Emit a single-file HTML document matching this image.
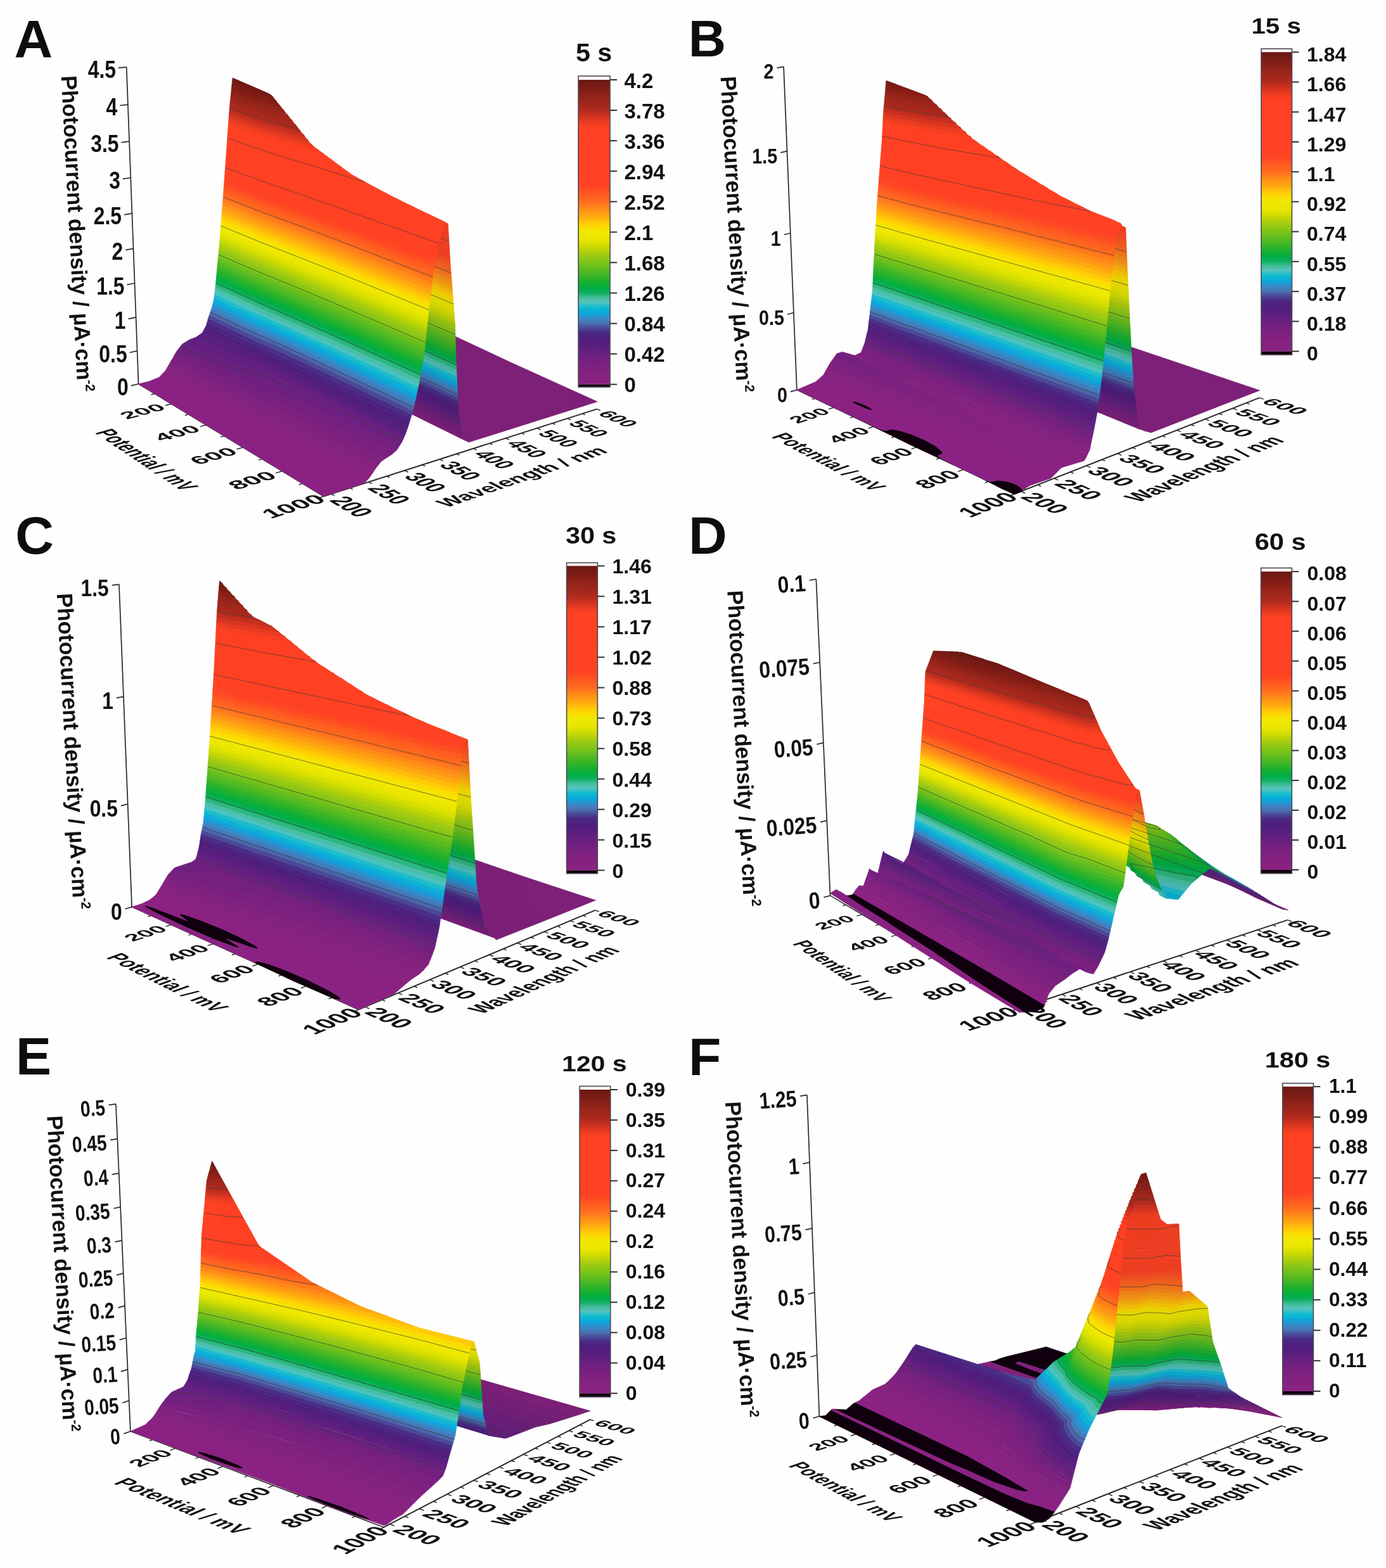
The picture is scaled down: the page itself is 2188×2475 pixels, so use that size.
<!DOCTYPE html><html><head><meta charset="utf-8"><style>html,body{margin:0;padding:0;background:#fff}svg{display:block}</style></head><body><svg xmlns="http://www.w3.org/2000/svg" width="2188" height="2475" viewBox="0 0 2188 2475"><rect width="2188" height="2475" fill="#fefefe"/><g><text x="22.5" y="90.7" font-size="84" font-family="Liberation Sans, Arial, sans-serif" font-weight="bold" fill="#0d0d0d">A</text>
<text transform="translate(909.0,97.4) scale(1.03,1)" font-size="40" font-family="Liberation Sans, Arial, sans-serif" font-weight="bold" fill="#111">5 s</text>
<text transform="translate(96.5,120) rotate(87) scale(0.985,1)" font-size="35" font-family="Liberation Sans, Arial, sans-serif" font-weight="bold" fill="#111">Photocurrent density / µA·cm<tspan font-size="21" dy="-13">-2</tspan></text>
<line x1="218.6" y1="606.0" x2="199.7" y2="105.9" stroke="#2a2a2a" stroke-width="1.7"/>
<line x1="218.6" y1="606.0" x2="510.8" y2="783.5" stroke="#2a2a2a" stroke-width="1.5"/>
<line x1="510.8" y1="783.5" x2="942.3" y2="645.6" stroke="#2a2a2a" stroke-width="2.0"/>
<line x1="218.6" y1="606.0" x2="206.8" y2="608.8" stroke="#2a2a2a" stroke-width="1.7"/>
<text transform="translate(202.8,624.3) rotate(0) scale(0.84,1)" font-size="38" text-anchor="end" font-family="Liberation Sans, Arial, sans-serif" font-weight="bold" fill="#111">0</text>
<line x1="216.6" y1="553.8" x2="204.7" y2="556.5" stroke="#2a2a2a" stroke-width="1.7"/>
<text transform="translate(200.7,572.0) rotate(0) scale(0.84,1)" font-size="38" text-anchor="end" font-family="Liberation Sans, Arial, sans-serif" font-weight="bold" fill="#111">0.5</text>
<line x1="214.6" y1="500.8" x2="202.6" y2="503.3" stroke="#2a2a2a" stroke-width="1.7"/>
<text transform="translate(198.6,518.8) rotate(0) scale(0.84,1)" font-size="38" text-anchor="end" font-family="Liberation Sans, Arial, sans-serif" font-weight="bold" fill="#111">1</text>
<line x1="212.6" y1="447.0" x2="200.5" y2="449.4" stroke="#2a2a2a" stroke-width="1.7"/>
<text transform="translate(196.5,464.9) rotate(0) scale(0.84,1)" font-size="38" text-anchor="end" font-family="Liberation Sans, Arial, sans-serif" font-weight="bold" fill="#111">1.5</text>
<line x1="210.5" y1="392.4" x2="198.3" y2="394.6" stroke="#2a2a2a" stroke-width="1.7"/>
<text transform="translate(194.3,410.1) rotate(0) scale(0.84,1)" font-size="38" text-anchor="end" font-family="Liberation Sans, Arial, sans-serif" font-weight="bold" fill="#111">2</text>
<line x1="208.4" y1="336.9" x2="196.1" y2="338.9" stroke="#2a2a2a" stroke-width="1.7"/>
<text transform="translate(192.1,354.4) rotate(0) scale(0.84,1)" font-size="38" text-anchor="end" font-family="Liberation Sans, Arial, sans-serif" font-weight="bold" fill="#111">2.5</text>
<line x1="206.3" y1="280.5" x2="193.9" y2="282.4" stroke="#2a2a2a" stroke-width="1.7"/>
<text transform="translate(189.9,297.9) rotate(0) scale(0.84,1)" font-size="38" text-anchor="end" font-family="Liberation Sans, Arial, sans-serif" font-weight="bold" fill="#111">3</text>
<line x1="204.1" y1="223.2" x2="191.6" y2="224.9" stroke="#2a2a2a" stroke-width="1.7"/>
<text transform="translate(187.6,240.4) rotate(0) scale(0.84,1)" font-size="38" text-anchor="end" font-family="Liberation Sans, Arial, sans-serif" font-weight="bold" fill="#111">3.5</text>
<line x1="201.9" y1="165.1" x2="189.3" y2="166.5" stroke="#2a2a2a" stroke-width="1.7"/>
<text transform="translate(185.3,182.0) rotate(0) scale(0.84,1)" font-size="38" text-anchor="end" font-family="Liberation Sans, Arial, sans-serif" font-weight="bold" fill="#111">4</text>
<line x1="199.7" y1="105.9" x2="187.0" y2="107.2" stroke="#2a2a2a" stroke-width="1.7"/>
<text transform="translate(183.0,122.7) rotate(0) scale(0.84,1)" font-size="38" text-anchor="end" font-family="Liberation Sans, Arial, sans-serif" font-weight="bold" fill="#111">4.5</text>
<line x1="244.1" y1="621.5" x2="238.5" y2="622.9" stroke="#2a2a2a" stroke-width="1.5"/>
<line x1="270.5" y1="637.5" x2="260.9" y2="639.9" stroke="#2a2a2a" stroke-width="1.5"/>
<text transform="matrix(3.8039,-0.9719,2.0576,1.2938,232.1,653.8)" font-size="10" text-anchor="middle" font-family="Liberation Sans, Arial, sans-serif" font-weight="bold" fill="#111">200</text>
<line x1="297.5" y1="653.9" x2="291.8" y2="655.4" stroke="#2a2a2a" stroke-width="1.5"/>
<line x1="325.3" y1="670.8" x2="315.7" y2="673.4" stroke="#2a2a2a" stroke-width="1.5"/>
<text transform="matrix(3.8546,-1.0383,2.1795,1.3705,286.9,688.3)" font-size="10" text-anchor="middle" font-family="Liberation Sans, Arial, sans-serif" font-weight="bold" fill="#111">400</text>
<line x1="354.0" y1="688.2" x2="348.2" y2="689.9" stroke="#2a2a2a" stroke-width="1.5"/>
<line x1="383.5" y1="706.2" x2="373.7" y2="709.0" stroke="#2a2a2a" stroke-width="1.5"/>
<text transform="matrix(3.9046,-1.1110,2.3126,1.4542,344.9,724.8)" font-size="10" text-anchor="middle" font-family="Liberation Sans, Arial, sans-serif" font-weight="bold" fill="#111">600</text>
<line x1="413.9" y1="724.6" x2="408.0" y2="726.4" stroke="#2a2a2a" stroke-width="1.5"/>
<line x1="445.2" y1="743.7" x2="435.3" y2="746.6" stroke="#2a2a2a" stroke-width="1.5"/>
<text transform="matrix(3.9534,-1.1908,2.4582,1.5457,406.6,763.5)" font-size="10" text-anchor="middle" font-family="Liberation Sans, Arial, sans-serif" font-weight="bold" fill="#111">800</text>
<line x1="477.5" y1="763.3" x2="471.5" y2="765.1" stroke="#2a2a2a" stroke-width="1.5"/>
<line x1="510.8" y1="783.5" x2="500.8" y2="786.7" stroke="#2a2a2a" stroke-width="1.5"/>
<text transform="matrix(4.0007,-1.2788,2.6181,1.6463,472.2,804.8)" font-size="10" text-anchor="middle" font-family="Liberation Sans, Arial, sans-serif" font-weight="bold" fill="#111">1000</text>
<text transform="matrix(2.0981,1.3997,-3.8552,1.0708,218.3,729.3)" font-size="10" text-anchor="middle" font-family="Liberation Sans, Arial, sans-serif" font-weight="bold" fill="#111">Potential / mV</text>
<line x1="522.9" y1="779.6" x2="528.0" y2="782.7" stroke="#2a2a2a" stroke-width="1.5"/>
<text transform="matrix(2.7245,1.6412,-3.8741,1.2750,541.6,803.9)" font-size="10" text-anchor="middle" font-family="Liberation Sans, Arial, sans-serif" font-weight="bold" fill="#111">200</text>
<line x1="552.7" y1="770.1" x2="556.8" y2="772.5" stroke="#2a2a2a" stroke-width="1.5"/>
<line x1="582.1" y1="760.7" x2="587.2" y2="763.7" stroke="#2a2a2a" stroke-width="1.5"/>
<text transform="matrix(2.7462,1.5867,-3.7310,1.2279,601.6,784.2)" font-size="10" text-anchor="middle" font-family="Liberation Sans, Arial, sans-serif" font-weight="bold" fill="#111">250</text>
<line x1="610.8" y1="751.5" x2="615.0" y2="753.9" stroke="#2a2a2a" stroke-width="1.5"/>
<line x1="639.1" y1="742.5" x2="644.3" y2="745.4" stroke="#2a2a2a" stroke-width="1.5"/>
<text transform="matrix(2.7646,1.5351,-3.5957,1.1833,659.3,765.2)" font-size="10" text-anchor="middle" font-family="Liberation Sans, Arial, sans-serif" font-weight="bold" fill="#111">300</text>
<line x1="666.8" y1="733.6" x2="671.0" y2="735.9" stroke="#2a2a2a" stroke-width="1.5"/>
<line x1="694.1" y1="724.9" x2="699.3" y2="727.7" stroke="#2a2a2a" stroke-width="1.5"/>
<text transform="matrix(2.7799,1.4861,-3.4676,1.1412,715.0,746.9)" font-size="10" text-anchor="middle" font-family="Liberation Sans, Arial, sans-serif" font-weight="bold" fill="#111">350</text>
<line x1="720.9" y1="716.4" x2="725.1" y2="718.5" stroke="#2a2a2a" stroke-width="1.5"/>
<line x1="747.2" y1="707.9" x2="752.4" y2="710.6" stroke="#2a2a2a" stroke-width="1.5"/>
<text transform="matrix(2.7924,1.4396,-3.3463,1.1013,768.7,729.2)" font-size="10" text-anchor="middle" font-family="Liberation Sans, Arial, sans-serif" font-weight="bold" fill="#111">400</text>
<line x1="773.1" y1="699.7" x2="777.3" y2="701.8" stroke="#2a2a2a" stroke-width="1.5"/>
<line x1="798.5" y1="691.5" x2="803.7" y2="694.2" stroke="#2a2a2a" stroke-width="1.5"/>
<text transform="matrix(2.8023,1.3954,-3.2312,1.0634,820.5,712.1)" font-size="10" text-anchor="middle" font-family="Liberation Sans, Arial, sans-serif" font-weight="bold" fill="#111">450</text>
<line x1="823.5" y1="683.6" x2="827.7" y2="685.6" stroke="#2a2a2a" stroke-width="1.5"/>
<line x1="848.0" y1="675.7" x2="853.3" y2="678.2" stroke="#2a2a2a" stroke-width="1.5"/>
<text transform="matrix(2.8100,1.3534,-3.1219,1.0274,870.6,695.7)" font-size="10" text-anchor="middle" font-family="Liberation Sans, Arial, sans-serif" font-weight="bold" fill="#111">500</text>
<line x1="872.2" y1="668.0" x2="876.4" y2="670.0" stroke="#2a2a2a" stroke-width="1.5"/>
<line x1="896.0" y1="660.4" x2="901.2" y2="662.9" stroke="#2a2a2a" stroke-width="1.5"/>
<text transform="matrix(2.8156,1.3134,-3.0181,0.9933,918.9,679.8)" font-size="10" text-anchor="middle" font-family="Liberation Sans, Arial, sans-serif" font-weight="bold" fill="#111">550</text>
<line x1="919.3" y1="652.9" x2="923.6" y2="654.9" stroke="#2a2a2a" stroke-width="1.5"/>
<line x1="942.3" y1="645.6" x2="947.6" y2="648.0" stroke="#2a2a2a" stroke-width="1.5"/>
<text transform="matrix(2.8192,1.2752,-2.9194,0.9608,965.7,664.4)" font-size="10" text-anchor="middle" font-family="Liberation Sans, Arial, sans-serif" font-weight="bold" fill="#111">600</text>
<text transform="matrix(3.2424,-1.1127,2.7929,1.4461,833.1,757.6)" font-size="10" text-anchor="middle" font-family="Liberation Sans, Arial, sans-serif" font-weight="bold" fill="#111">Wavelength / nm</text>
<path d="M735 695.5l5 2.6 203.1-64.1 -135.9-61.6 -117.4-54.9 -57-25.7 -209.7 49.9z" fill="#7d2077" stroke="#7d2077" stroke-width="0.7" fill-rule="evenodd"/>
<path d="M670.5 662.6l59.6 29.4 4.9 3.5 -311.9-153.8 -4.1-4.2 57.4 27.9 115.7 58.8z" fill="#7b2076" stroke="#7b2076" stroke-width="0.7" fill-rule="evenodd"/>
<path d="M646.7 646.3l82.6 40.1 .8 5.6 -132.5-65.1 -121.2-61.5 -57.4-27.9 -3.8-3.9 72.1 35.8z" fill="#761f76" stroke="#761f76" stroke-width="0.7" fill-rule="evenodd"/>
<path d="M634.6 635.6l94 45.5 .7 5.3 -242-117 -72.1-35.8 -.9-4.9z" fill="#721e75" stroke="#721e75" stroke-width="0.7" fill-rule="evenodd"/>
<path d="M622.6 625l105.2 50.8 .8 5.3 -314.3-152.4 -.7-4.8z" fill="#6d1e76" stroke="#6d1e76" stroke-width="0.7" fill-rule="evenodd"/>
<path d="M702.9 658.9l24.2 11.6 .7 5.3 -314.2-151.9 -.6-4.9z" fill="#681e76" stroke="#681e76" stroke-width="0.7" fill-rule="evenodd"/>
<path d="M684.3 645.1l42 20.1 .8 5.3 -314.1-151.5 -.7-4.8z" fill="#621e77" stroke="#621e77" stroke-width="0.7" fill-rule="evenodd"/>
<path d="M665.9 631.4l59.7 28.5 .7 5.3 -314-151 -.6-4.9z" fill="#5b1d76" stroke="#5b1d76" stroke-width="0.7" fill-rule="evenodd"/>
<path d="M718.7 651.7l6.1 2.9 .8 5.3 -313.9-150.6 -.7-4.8z" fill="#541c76" stroke="#541c76" stroke-width="0.7" fill-rule="evenodd"/>
<path d="M699.9 637.8l24.2 11.5 .7 5.3 -313.8-150.1 -.7-4.9z" fill="#4e1c75" stroke="#4e1c75" stroke-width="0.7" fill-rule="evenodd"/>
<path d="M681.3 624.2l42.2 20.8 .6 4.3 -313.8-149.7 -.6-4.9z" fill="#4a1c74" stroke="#4a1c74" stroke-width="0.7" fill-rule="evenodd"/>
<path d="M704.9 629.8l18.3 8.6 .3 6.6 -46.6-23.1 -267.2-127.2 -.7-4.9 57.6 27 90.9 44.3 11.6 4.9 37.3 18.1z" fill="#472177" stroke="#472177" stroke-width="0.7" fill-rule="evenodd"/>
<path d="M663 604.9l59.9 28 .3 5.5 -116.8-54.3 -37.3-18.1 -11.6-4.9 -90.9-44.3 -57.6-27 -.6-4.9 86.9 41 20.1 10.6 24.4 10.6z" fill="#452a7d" stroke="#452a7d" stroke-width="0.7" fill-rule="evenodd"/>
<path d="M686.4 610.5l36.3 16.8 .2 5.6 -183.1-85.8 -24.4-10.6 -20.1-10.6 -86.9-41 -.7-4.9z" fill="#45448c" stroke="#45448c" stroke-width="0.7" fill-rule="evenodd"/>
<path d="M710.2 616.2l12.2 5.6 .3 5.5 -315-147.3 -.6-4.4 28.5 13.8 29.2 12.4z" fill="#45609e" stroke="#45609e" stroke-width="0.7" fill-rule="evenodd"/>
<path d="M668 591.3l54.2 25 .2 5.5 -257.6-120 -38.7-16.9 -19-9.3 -.4-5.3z" fill="#3d74af" stroke="#3d74af" stroke-width="0.7" fill-rule="evenodd"/>
<path d="M691.5 596.8l30.4 13.9 .3 5.6 -315.5-146 -.4-5.2z" fill="#2c85be" stroke="#2c85be" stroke-width="0.7" fill-rule="evenodd"/>
<path d="M709.4 599.5l12.2 5.6 .3 5.6 -315.6-145.6 -.4-5z" fill="#0e98ca" stroke="#0e98ca" stroke-width="0.7" fill-rule="evenodd"/>
<path d="M673.1 577.6l48.3 22 .2 5.5 -315.7-145 -.4-5z" fill="#0ba6c7" stroke="#0ba6c7" stroke-width="0.7" fill-rule="evenodd"/>
<path d="M690.7 580.2l30.4 13.8 .3 5.6 -315.9-144.5 -.4-5.1z" fill="#1ab0be" stroke="#1ab0be" stroke-width="0.7" fill-rule="evenodd"/>
<path d="M708.6 582.8l12.3 5.6 .2 5.6 -316-144 -.3-5z" fill="#46b5b2" stroke="#46b5b2" stroke-width="0.7" fill-rule="evenodd"/>
<path d="M672.2 561l48.4 21.7 .3 5.7 -316.1-143.4 -.4-5z" fill="#45b29b" stroke="#45b29b" stroke-width="0.7" fill-rule="evenodd"/>
<path d="M689.9 563.5l30.5 13.6 .2 5.6 -316.2-142.7 -.4-5.1z" fill="#29aa78" stroke="#29aa78" stroke-width="0.7" fill-rule="evenodd"/>
<path d="M701.7 563.3l18.4 8.2 .3 5.6 -316.4-142.2 -.4-5z" fill="#0ba354" stroke="#0ba354" stroke-width="0.7" fill-rule="evenodd"/>
<path d="M719.9 565.9l.2 5.6 -316.5-141.6 -.4-5.1z" fill="#01a241" stroke="#01a241" stroke-width="0.7" fill-rule="evenodd"/>
<path d="M683 544.2l36.6 16.2 .3 5.5 -316.7-141.1 -.4-5z" fill="#0da333" stroke="#0da333" stroke-width="0.7" fill-rule="evenodd"/>
<path d="M701 546.4l18.4 8.1 .2 5.9 -316.8-140.6 -.4-5.1 221.7 98.5z" fill="#1da52a" stroke="#1da52a" stroke-width="0.7" fill-rule="evenodd"/>
<path d="M676.6 530.2l42.7 18.6 .1 5.7 -95.3-41.3 -221.7-98.5 -.4-5.1 193.5 85.7z" fill="#30a726" stroke="#30a726" stroke-width="0.7" fill-rule="evenodd"/>
<path d="M700.7 535l18.5 8 .1 5.8 -123.8-53.5 -193.5-85.7 -.4-5.1 58.2 25.1 86.3 39 12.4 4.8z" fill="#41aa22" stroke="#41aa22" stroke-width="0.7" fill-rule="evenodd"/>
<path d="M670.3 516.3l48.7 21 .2 5.7 -160.7-69.6 -12.4-4.8 -86.3-39 -58.2-25.1 -.4-5.1 58.2 25 65.3 29.5z" fill="#51ae1f" stroke="#51ae1f" stroke-width="0.7" fill-rule="evenodd"/>
<path d="M694.2 521l24.7 10.5 .1 5.8 -194.3-83.4 -65.3-29.5 -58.2-25 -.4-5.1z" fill="#62b21b" stroke="#62b21b" stroke-width="0.7" fill-rule="evenodd"/>
<path d="M718.7 525.8l.2 5.7 -318.1-137.2 -.4-5.1z" fill="#72b617" stroke="#72b617" stroke-width="0.7" fill-rule="evenodd"/>
<path d="M687.8 507l30.8 13 .1 5.8 -318.3-136.6 -.4-5.2 58.3 24.7 19.7 9.2 5 1.6z" fill="#82b914" stroke="#82b914" stroke-width="0.7" fill-rule="evenodd"/>
<path d="M712.2 511.1l6.2 2.1 .2 6.8 -235.6-100.5 -5-1.6 -19.7-9.2 -58.3-24.7 -.3-5 47.1 19.7 16.1 7.7 11.1 3.9 142.8 61.1z" fill="#92bc11" stroke="#92bc11" stroke-width="0.7" fill-rule="evenodd"/>
<path d="M711.9 505.9l6.2 2.6 .3 4.7 -10.9-3.6 -303.1-128.5 -4.7-2.1 -.4-4.4 28.8 11.2 208.2 88.3 9.3 3z" fill="#a3c00c" stroke="#a3c00c" stroke-width="0.7" fill-rule="evenodd"/>
<path d="M711.4 500.2l6.2 2.6 .5 5.7 -72.5-31.4 -9.3-3 -208.2-88.3 -28.8-11.2 -.4-5.9 56.4 23.1 120 51.2 12.7 4.2 21.5 10.1z" fill="#b5c705" stroke="#b5c705" stroke-width="0.7" fill-rule="evenodd"/>
<path d="M704.8 491.9l12.4 5.1 .4 5.8 -108.1-45.5 -21.5-10.1 -12.7-4.2 -120-51.2 -56.4-23.1 -.3-5.3 145.4 60.4 36.6 16.1z" fill="#c5ce00" stroke="#c5ce00" stroke-width="0.7" fill-rule="evenodd"/>
<path d="M704.4 486.1l12.4 5.2 .4 5.7 -136.6-57.1 -36.6-16.1 -145.4-60.4 -.3-5.2 119.7 50 15.1 5.2 10.3 5.4z" fill="#d3d300" stroke="#d3d300" stroke-width="0.7" fill-rule="evenodd"/>
<path d="M697.8 477.9l18.5 7.6 .5 5.8 -135.8-56.5 -37.6-16 -10.3-5.4 -15.1-5.2 -119.7-50 -.3-5.2 110.7 45.9 3.1 .3 14.3 7.1z" fill="#dbd600" stroke="#dbd600" stroke-width="0.7" fill-rule="evenodd"/>
<path d="M697.3 472.1l18.6 7.7 .4 5.7 -140.8-58.3 -49.4-20.9 -14.3-7.1 -3.1-.3 -110.7-45.9 -.3-5.2 108.6 44.4 5.5 2.9 63.2 26.6z" fill="#ded700" stroke="#ded700" stroke-width="0.7" fill-rule="evenodd"/>
<path d="M690.7 463.8l24.8 10.2 .4 5.8 -140.9-58.1 -63.2-26.6 -5.5-2.9 -108.6-44.4 -.3-5.2 88.4 35.7 27 12.2z" fill="#e3d400" stroke="#e3d400" stroke-width="0.7" fill-rule="evenodd"/>
<path d="M715 468.2l.5 5.8 -202.7-83.5 -27-12.2 -88.4-35.7 -.3-5.2 70.1 28.3 8.3 2.6 38 17.5z" fill="#ebcc00" stroke="#ebcc00" stroke-width="0.7" fill-rule="evenodd"/>
<path d="M708.3 459.8l6.3 2.5 .4 5.9 -201.5-82.4 -38-17.5 -8.3-2.6 -70.1-28.3 -.3-5.3 62.6 25.1 5.9 1.4 4.9 2 4.8 3.1 39.1 16.9z" fill="#edbd06" stroke="#edbd06" stroke-width="0.7" fill-rule="evenodd"/>
<path d="M701.7 451.5l12.4 5 .5 5.8 -200.5-81.7 -39.1-16.9 -4.8-3.1 -4.9-2 -5.9-1.4 -62.6-25.1 -.4-5.2 51.6 20.5 12 3.6 6.3 3.8 48.1 20.6z" fill="#edad0b" stroke="#edad0b" stroke-width="0.7" fill-rule="evenodd"/>
<path d="M695 443.2l18.6 7.5 .5 5.8 -199.7-81.1 -48.1-20.6 -6.3-3.8 -12-3.6 -51.6-20.5 -.3-6.6 32.2 13.9 21.5 7.9 59 25.7 66.2 27.4z" fill="#ed9c0f" stroke="#ed9c0f" stroke-width="0.7" fill-rule="evenodd"/>
<path d="M713.2 444.8l.4 5.9 -138.6-55.5 -66.2-27.4 -59-25.7 -21.5-7.9 -32.2-13.9 -.4-4.1 58.6 23.3 118.5 49.3z" fill="#ed8f13" stroke="#ed8f13" stroke-width="0.7" fill-rule="evenodd"/>
<path d="M700.2 434l12.5 5 .5 5.8 -140.4-56 -118.5-49.3 -54-21.3 -4.6-2 -.5-5 58.6 23 117.5 48.6z" fill="#ed8116" stroke="#ed8116" stroke-width="0.7" fill-rule="evenodd"/>
<path d="M693.6 425.8l18.6 7.3 .5 5.9 -141.4-56.2 -117.5-48.6 -58.6-23 -.6-5.3 58.7 22.9 117.5 48.4z" fill="#ed7219" stroke="#ed7219" stroke-width="0.7" fill-rule="evenodd"/>
<path d="M705.5 424.8l6.3 2.4 .4 5.9 -141.4-55.9 -117.5-48.4 -58.7-22.9 -.5-5.2 58.7 22.7 117.4 48.2z" fill="#ed641c" stroke="#ed641c" stroke-width="0.7" fill-rule="evenodd"/>
<path d="M698.8 416.5l12.5 4.8 .5 5.9 -141.6-55.6 -117.4-48.2 -58.7-22.7 -.5-5.3 58.7 22.7 122.9 50.1z" fill="#ed5c1d" stroke="#ed5c1d" stroke-width="0.7" fill-rule="evenodd"/>
<path d="M704.6 413l6.2 2.6 .5 5.7 -136.1-53.1 -122.9-50.1 -58.7-22.7 -.6-5.2 58.8 22.5 119.8 48.8z" fill="#ed541e" stroke="#ed541e" stroke-width="0.7" fill-rule="evenodd"/>
<path d="M697.9 404.7l12.6 4.8 .3 6.1 -139.2-54.1 -119.8-48.8 -58.8-22.5 -.5-5.3 55.8 21 119.4 48.5z" fill="#ed491f" stroke="#ed491f" stroke-width="0.7" fill-rule="evenodd"/>
<path d="M710.1 403.5l.4 6 -142.8-55.1 -119.4-48.5 -55.8-21 -.5-5.3 58.7 22.3 58.5 24 64.3 25.3z" fill="#ed4121" stroke="#ed4121" stroke-width="0.7" fill-rule="evenodd"/>
<path d="M703.5 395.2l6.3 2.3 .3 6 -136.6-52.3 -64.3-25.3 -58.5-24 -58.7-22.3 -.6-5.3 58.8 22.1 57.7 23.9 63.9 24.9z" fill="#ed3d21" stroke="#ed3d21" stroke-width="0.7" fill-rule="evenodd"/>
<path d="M696.8 386.8l12.6 4.8 .4 5.9 -138-52.3 -63.9-24.9 -57.7-23.9 -58.8-22.1 -.5-5.3 58.8 22 56.7 23.6z" fill="#ed3d21" stroke="#ed3d21" stroke-width="0.7" fill-rule="evenodd"/>
<path d="M709.1 385.6l.3 6 -137-51.7 -66-25.3 -56.7-23.6 -58.8-22 -.6-5.3 58.9 21.8 55.7 23.1 66.9 25.6z" fill="#ed3d21" stroke="#ed3d21" stroke-width="0.7" fill-rule="evenodd"/>
<path d="M696.1 374.9l12.6 4.6 .4 6.1 -137.3-51.4 -66.9-25.6 -55.7-23.1 -58.9-21.8 -.5-5.3 58.9 21.7 54.6 22.3 63.4 24.5z" fill="#ed3d21" stroke="#ed3d21" stroke-width="0.7" fill-rule="evenodd"/>
<path d="M708.4 373.5l.3 6 -142-52.6 -63.4-24.5 -54.6-22.3 -58.9-21.7 -.6-5.3 55.3 20.1 120.6 47.4z" fill="#ed3d21" stroke="#ed3d21" stroke-width="0.7" fill-rule="evenodd"/>
<path d="M695.3 362.9l12.7 4.6 .4 6 -143.3-52.9 -120.6-47.4 -55.3-20.1 -.5-5.4 57.1 20.4 59.1 24.4 59.9 22.6z" fill="#ed3d21" stroke="#ed3d21" stroke-width="0.7" fill-rule="evenodd"/>
<path d="M701.3 359.1l6.4 2.3 .3 6.1 -143.2-52.4 -59.9-22.6 -59.1-24.4 -57.1-20.4 -.6-5.3 58.6 21 55.3 22.5 66.8 25.2z" fill="#ed3d21" stroke="#ed3d21" stroke-width="0.7" fill-rule="evenodd"/>
<path d="M707.3 355.3l.4 6.1 -138.9-50.3 -66.8-25.2 -55.3-22.5 -58.6-21 -.6-5.4 59 21.3 57.6 23 59.3 22.2z" fill="#ed3d21" stroke="#ed3d21" stroke-width="0.7" fill-rule="evenodd"/>
<path d="M701.6 350.3l5.5 2.8 .2 2.2 -143.9-51.8 -59.3-22.2 -57.6-23 -59-21.3 -.5-5.4 59 21.2 54.8 22.1 62.3 23 101.1 36.2 4.8 1.1z" fill="#ed3c20" stroke="#ed3c20" stroke-width="0.7" fill-rule="evenodd"/>
<path d="M657.1 329l44.5 21.3 -32.6-15.1 -4.8-1.1 -101.1-36.2 -62.3-23 -54.8-22.1 -59-21.2 -.6-5.3 59.1 20.9 56.8 22.9 62.4 23 61.1 21.5z" fill="#ed3c20" stroke="#ed3c20" stroke-width="0.7" fill-rule="evenodd"/>
<path d="M620.1 310.8l34.6 17 -28.9-13.2 -61.1-21.5 -62.4-23 -56.8-22.9 -59.1-20.9 -.6-5.4 59.1 20.8 53.9 21.5 66.5 24.5 24.8 8.3z" fill="#ed3c20" stroke="#ed3c20" stroke-width="0.7" fill-rule="evenodd"/>
<path d="M584.2 291.8l30.2 16 -24.3-11.8 -24.8-8.3 -66.5-24.5 -53.9-21.5 -59.1-20.8 -.5-5.4 68.6 24.1 45.8 18.9 61.2 21.8z" fill="#ed3c20" stroke="#ed3c20" stroke-width="0.7" fill-rule="evenodd"/>
<path d="M555 275.8l27.4 15 -21.5-10.5 -61.2-21.8 -45.8-18.9 -68.6-24.1 -.6-5.4 63.9 22.3 51.7 20.7 41.9 14.9 1.7 .1z" fill="#ed3c20" stroke="#ed3c20" stroke-width="0.7" fill-rule="evenodd"/>
<path d="M543.5 267.3l10.9 8 -10.5-7.2 -1.7-.1 -41.9-14.9 -51.7-20.7 -63.9-22.3 -.6-5.5 59.1 20.5 53.1 20.9 34.6 12.5z" fill="#ed3c20" stroke="#ed3c20" stroke-width="0.7" fill-rule="evenodd"/>
<path d="M526.5 254.6l13.2 9.8 -8.8-5.9 -3.1-1.2 -31.5-11.3 -53.1-20.9 -59.1-20.5 -.6-5.4 55.2 18.9 57.5 22.5 19.5 6.9z" fill="#ed3c20" stroke="#ed3c20" stroke-width="0.7" fill-rule="evenodd"/>
<path d="M515.3 246.3l9.8 7.3 -9.4-6.1 -19.5-6.9 -57.5-22.5 -55.2-18.9 -.8-5.4 59.2 20.2 57.6 22.2z" fill="#ed3c20" stroke="#ed3c20" stroke-width="0.7" fill-rule="evenodd"/>
<path d="M498.6 234l12.2 9 -11.3-6.8 -57.6-22.2 -59.2-20.2 -.7-5.4 58.3 19.3 51.6 20.2 1.8 2.9z" fill="#e63b20" stroke="#e63b20" stroke-width="0.7" fill-rule="evenodd"/>
<path d="M487.6 224.2l9 8.2 -2.9-1.6 -1.8-2.9 -51.6-20.2 -58.3-19.3 -.8-5.4 59.3 19.9 45 17.1z" fill="#d7371f" stroke="#d7371f" stroke-width="0.7" fill-rule="evenodd"/>
<path d="M482.2 217.4l4.9 6.1 -1.3-3.2 -2.5-1.1 -42.8-16.3 -59.3-19.9 -.8-5.5 59.4 19.8 39.4 14.9z" fill="#c8311d" stroke="#c8311d" stroke-width="0.7" fill-rule="evenodd"/>
<path d="M476.7 210.6l4.1 5 -1.4-3.2 -1.6-.8 -38-14.3 -59.4-19.8 -.7-5.4 59.5 19.6 33.1 12.4z" fill="#b72c1d" stroke="#b72c1d" stroke-width="0.7" fill-rule="evenodd"/>
<path d="M471.3 203.8l3.2 4 -2.2-3.7 -33.1-12.4 -59.5-19.6 -.8-5.5 59 19 28.6 10.9z" fill="#a5281c" stroke="#a5281c" stroke-width="0.7" fill-rule="evenodd"/>
<path d="M465.9 197.1l2.3 2.9 -1.7-3.5 -28.6-10.9 -59-19 -.8-5.4 59.7 19.3 22.3 8.3z" fill="#9d261b" stroke="#9d261b" stroke-width="0.7" fill-rule="evenodd"/>
<path d="M460.5 190.4l1.5 1.8 -1.9-3.4 -3.5-1.3 -18.8-7 -59.7-19.3 -.8-5.5 56.2 17.8 20.2 7.5z" fill="#962419" stroke="#962419" stroke-width="0.7" fill-rule="evenodd"/>
<path d="M449.8 177l6 7.5 -2.1-3.5 -20.2-7.5 -56.2-17.8 -.7-5.5 58.9 18.2 11.9 4.9z" fill="#8e2218" stroke="#8e2218" stroke-width="0.7" fill-rule="evenodd"/>
<path d="M444.4 170.3l5.2 6.5 -2.2-3.5 -11.9-4.9 -58.9-18.2 -.8-5.5 64.5 20.2z" fill="#862017" stroke="#862017" stroke-width="0.7" fill-rule="evenodd"/>
<path d="M439.1 163.7l4.3 5.4 -3.1-4.2 -64.5-20.2 -.8-5.5 59.3 18.1z" fill="#7e1d16" stroke="#7e1d16" stroke-width="0.7" fill-rule="evenodd"/>
<path d="M433.8 157.1l3.4 4.3 -2.9-4.1 -59.3-18.1 -.8-5.6 55.2 18.1z" fill="#751a15" stroke="#751a15" stroke-width="0.7" fill-rule="evenodd"/>
<path d="M412.9 142.9l10.4 4.5 5.2 3.1 2.6 3.3 -1.7-2.1 -55.2-18.1 -.5-2.1 -2.5-3.2z" fill="#6e1913" stroke="#6e1913" stroke-width="0.7" fill-rule="evenodd"/>
<path d="M372.2 125.3l37.7 16.3 -38.7-13.3 -4-5.1z" fill="#661712" stroke="#661712" stroke-width="0.7" fill-rule="evenodd"/>
<path d="M726.8 668.4l-314.1-151.3" fill="none" stroke="#3a3a3a" stroke-width="0.9" stroke-opacity="0.75"/>
<path d="M722.5 622.9l-254.4-118.6 -17.9-7.1 -43-20.8" fill="none" stroke="#3a3a3a" stroke-width="0.9" stroke-opacity="0.75"/>
<path d="M720.3 576l-316.4-142.1" fill="none" stroke="#3a3a3a" stroke-width="0.9" stroke-opacity="0.75"/>
<path d="M718.8 528.1l-201.1-86 -59.8-26.7 -57.3-24.2" fill="none" stroke="#3a3a3a" stroke-width="0.9" stroke-opacity="0.75"/>
<path d="M715.9 479.8l-140.9-58.1 -63.2-26.6 -5.5-2.9 -108.6-44.4" fill="none" stroke="#3a3a3a" stroke-width="0.9" stroke-opacity="0.75"/>
<path d="M712.1 430.8l-201.7-79.8 -57.3-24.3 -58.7-22.8" fill="none" stroke="#3a3a3a" stroke-width="0.9" stroke-opacity="0.75"/>
<path d="M708.8 380.7l-138.3-51.4 -63.2-24.4 -2.3-.5 -58.7-24.4 -56.4-20.5" fill="none" stroke="#3a3a3a" stroke-width="0.9" stroke-opacity="0.75"/>
<path d="M576 287.4l-14.7-6.8 -5.9-3.8 -57.3-20.3 -54-21.6 -58.9-20.5" fill="none" stroke="#3a3a3a" stroke-width="0.9" stroke-opacity="0.75"/>
<path d="M470.7 203.1l-1.7-3.4 -1.9-.8 -33-12.1 -54.9-18" fill="none" stroke="#3a3a3a" stroke-width="0.9" stroke-opacity="0.75"/>
<path d="M222.8 608.6l288 174.9 64-20.5 7.6-8.1 -327.8-162.9 -3.3 3.4 -15.5 6.4 -17.2 4.2z" fill="#8b2283" stroke="#8b2283" stroke-width="0.7" fill-rule="evenodd"/>
<path d="M255.7 592.6l326.7 162.3 5.3-7.4 -326.7-162.2 -6.4 6.7z" fill="#892281" stroke="#892281" stroke-width="0.7" fill-rule="evenodd"/>
<path d="M265.8 587.6l321.9 159.9 4.6-7.1 -327.8-161.1 -3.5 6z" fill="#862280" stroke="#862280" stroke-width="0.7" fill-rule="evenodd"/>
<path d="M267.8 580.9l324.5 159.5 5.9-7.6 -144.6-70.2 -126.2-60 -59.4-29.3 -3.5 6z" fill="#84227f" stroke="#84227f" stroke-width="0.7" fill-rule="evenodd"/>
<path d="M270.1 574.3l57.3 28.3 126.2 60 144.6 70.2 3.1-3.9 6.3-4.7 -118-53.8 -158.5-74 -59.7-29.1 -3.4 6z" fill="#7f217f" stroke="#7f217f" stroke-width="0.7" fill-rule="evenodd"/>
<path d="M271.8 567.5l59.3 28.9 158.5 74 118 53.8 10.7-6.6 4.2-3.8 -62.4-27.9 -70.3-27.5 -116.2-50.7 -38.8-17.5 -59.9-28.9z" fill="#7b207e" stroke="#7b207e" stroke-width="0.7" fill-rule="evenodd"/>
<path d="M279.5 563.5l55.3 26.7 38.8 17.5 116.2 50.7 70.3 27.5 62.4 27.9 3.7-3.2 2.9-4.5 -77.3-37.3 -34.4-15.7 -35.3-14.8 -75.9-27 -30.2-12.1 -36.8-15.4 -60.8-28.5 -3.5 6z" fill="#75207e" stroke="#75207e" stroke-width="0.7" fill-rule="evenodd"/>
<path d="M280.6 556.3l58.6 27.5 36.8 15.4 30.2 12.1 75.9 27 35.3 14.8 34.4 15.7 77.3 37.3 4.6-7.1 -136.8-66 -60.9-27.2 -16.1-5.5 -59.1-16.5 -21.6-9 -56-25.8 -4.8 6.3z" fill="#6f207f" stroke="#6f207f" stroke-width="0.7" fill-rule="evenodd"/>
<path d="M285.1 549.9l59.5 27.3 16.2 6.6 59.1 16.5 16.1 5.5 60.9 27.2 136.8 66 3.2-6.6 -140.3-69 -67.6-30.8 -40.5-15.6 -32.5-7.8 -67.9-26.5 -4.9 6.3z" fill="#692080" stroke="#692080" stroke-width="0.7" fill-rule="evenodd"/>
<path d="M288.4 542.8l67.6 26.4 34.5 8.5 44.3 17.3 61.8 28.4 140.3 69 2.9-6.6 -134.5-66 -65.9-31.3 -31.7-14.2 -36.7-14 -52.1-23.3 -12.2-3.7 -6.9 2.4z" fill="#621f7f" stroke="#621f7f" stroke-width="0.7" fill-rule="evenodd"/>
<path d="M308.2 533.7l10.7 3.3 52.1 23.3 36.7 14 31.7 14.2 65.9 31.3 134.5 66 2.3-6.4 -160.3-78.4 -39.3-18.6 -64.9-29 -58.3-28.1 -9.3 6.6 -3.3 1.4z" fill="#5a1e7e" stroke="#5a1e7e" stroke-width="0.7" fill-rule="evenodd"/>
<path d="M324.2 527.6l53.4 25.8 64.9 29 39.3 18.6 160.3 78.4 2.2-6.4 -199.5-96.6 -64.2-28.9 -58-28.2 -3.3 6z" fill="#541e7d" stroke="#541e7d" stroke-width="0.7" fill-rule="evenodd"/>
<path d="M327.3 521.6l53.3 25.9 64.2 28.9 199.5 96.6 2-6.3 -139.9-67.7 -123.1-57.4 -57.6-28.1 -3.1 5.8z" fill="#4f1e7c" stroke="#4f1e7c" stroke-width="0.7" fill-rule="evenodd"/>
<path d="M330.4 515.8l52.9 25.8 123.1 57.4 139.9 67.7 1.9-6.3 -139.8-67.5 -123.6-57 -57.6-27.9 -1.5 5.5z" fill="#4c2480" stroke="#4c2480" stroke-width="0.7" fill-rule="evenodd"/>
<path d="M331.9 510.2l52.9 25.7 123.6 57 139.8 67.5 1.9-6.2 -139.7-67.3 -59.9-28 -64.2-28.6 -57.7-27.8 -1.4 5.5z" fill="#4a2e86" stroke="#4a2e86" stroke-width="0.7" fill-rule="evenodd"/>
<path d="M333.3 504.7l53 25.6 64.2 28.6 59.9 28 139.7 67.3 1.5-6.2 -139.6-67 -67.6-31.6 -56.2-24.8 -57.6-27.7 -2 5.6z" fill="#4a4996" stroke="#4a4996" stroke-width="0.7" fill-rule="evenodd"/>
<path d="M335.3 499.1l52.9 25.5 56.2 24.8 67.6 31.6 139.6 67 1.5-6.2 -139.6-66.7 -59.6-27.8 -63.8-28.4 -57.5-27.6 -2 5.6z" fill="#4a67aa" stroke="#4a67aa" stroke-width="0.7" fill-rule="evenodd"/>
<path d="M337.3 493.5l52.8 25.4 63.8 28.4 59.6 27.8 139.6 66.7 1.5-6.2 -139.7-66.3 -59.6-27.8 -63.4-28.3 -57.5-27.5 -1.8 5.6z" fill="#427cbc" stroke="#427cbc" stroke-width="0.7" fill-rule="evenodd"/>
<path d="M339.1 487.9l52.8 25.3 63.4 28.3 59.6 27.8 139.7 66.3 1.6-6.2 -139.9-66 -59.6-27.6 -63.5-28.2 -57.4-27.4 -1.4 5.5z" fill="#2f8fcc" stroke="#2f8fcc" stroke-width="0.7" fill-rule="evenodd"/>
<path d="M340.5 482.4l52.7 25.2 63.5 28.2 59.6 27.6 139.9 66 1.3-6.1 -199.8-93.2 -63.3-28.1 -57.2-27.3 -1.4 5.5z" fill="#10a3d9" stroke="#10a3d9" stroke-width="0.7" fill-rule="evenodd"/>
<path d="M384.6 497.3l132.8 60.3 140.1 65.7 1.3-6.2 -140.4-65.3 -147-66.5 -33.2-15.9 -1 5.3z" fill="#0cb2d6" stroke="#0cb2d6" stroke-width="0.7" fill-rule="evenodd"/>
<path d="M342.9 471.6l58 27.2 117.5 53 140.4 65.3 1.4-6.1 -140.7-65 -123-55.1 -57.7-26.9 -.6 5.4z" fill="#1cbdcd" stroke="#1cbdcd" stroke-width="0.7" fill-rule="evenodd"/>
<path d="M343.5 466.2l53 24.7 123 55.1 140.7 65 1.3-6 -127.4-58.5 -136.9-61.1 -57.8-26.8 -.6 5.4z" fill="#4bc3bf" stroke="#4bc3bf" stroke-width="0.7" fill-rule="evenodd"/>
<path d="M344.1 460.8l53.1 24.6 136.9 61.1 127.4 58.5 1.1-6.3 -141.3-64.2 -123.4-54.6 -57.9-26.6 -.6 5.3z" fill="#4abfa7" stroke="#4abfa7" stroke-width="0.7" fill-rule="evenodd"/>
<path d="M344.7 455.5l53.2 24.4 123.4 54.6 141.3 64.2 1-6 -141.5-64 -123.5-54.3 -58-26.4 -.6 5.3z" fill="#2db781" stroke="#2db781" stroke-width="0.7" fill-rule="evenodd"/>
<path d="M345.3 450.1l53.3 24.3 123.5 54.3 141.5 64 1-6.1 -141.7-63.6 -123.6-54 -58.2-26.4 -.5 5.4z" fill="#0caf5a" stroke="#0caf5a" stroke-width="0.7" fill-rule="evenodd"/>
<path d="M345.9 444.8l53.4 24.2 123.6 54 141.7 63.6 1.1-6.1 -142-63.3 -123.9-53.7 -58.2-26.2 -.5 5.3z" fill="#02ae46" stroke="#02ae46" stroke-width="0.7" fill-rule="evenodd"/>
<path d="M346.3 439.4l53.5 24.1 123.9 53.7 142 63.3 1.1-6.2 -142.2-62.9 -124.2-53.4 -58.3-26.1 -.5 5.4z" fill="#0eaf37" stroke="#0eaf37" stroke-width="0.7" fill-rule="evenodd"/>
<path d="M346.8 434.1l53.6 23.9 124.2 53.4 142.2 62.9 1.1-6.1 -142.4-62.6 -124.6-53.1 -58.3-25.9 -.5 5.3z" fill="#1fb12e" stroke="#1fb12e" stroke-width="0.7" fill-rule="evenodd"/>
<path d="M347.3 428.7l53.6 23.8 124.6 53.1 142.4 62.6 1-6.1 -142.6-62.3 -124.8-52.7 -58.5-25.9 -.4 5.4z" fill="#33b329" stroke="#33b329" stroke-width="0.7" fill-rule="evenodd"/>
<path d="M347.8 423.3l53.7 23.8 124.8 52.7 142.6 62.3 .9-6.1 -142.7-62 -125.1-52.5 -58.5-25.6 -.5 5.3z" fill="#46b725" stroke="#46b725" stroke-width="0.7" fill-rule="evenodd"/>
<path d="M348.3 418l53.7 23.5 125.1 52.5 142.7 62 .7-6.1 -142.7-61.6 -125.2-52.2 -58.6-25.6 -.5 5.4z" fill="#58bb21" stroke="#58bb21" stroke-width="0.7" fill-rule="evenodd"/>
<path d="M348.8 412.6l53.8 23.5 125.2 52.2 142.7 61.6 .6-6 -142.7-61.4 -125.2-52 -58.6-25.4 -.6 5.4z" fill="#69bf1d" stroke="#69bf1d" stroke-width="0.7" fill-rule="evenodd"/>
<path d="M349.3 407.2l53.9 23.3 125.2 52 142.7 61.4 .6-6 -142.7-61.1 -125.2-51.8 -58.7-25.2 -.5 5.3z" fill="#7ac418" stroke="#7ac418" stroke-width="0.7" fill-rule="evenodd"/>
<path d="M349.9 401.8l53.9 23.2 125.2 51.8 142.7 61.1 .7-6.1 -142.8-60.8 -125.2-51.5 -58.8-25.1 -.5 5.4z" fill="#8cc715" stroke="#8cc715" stroke-width="0.7" fill-rule="evenodd"/>
<path d="M350.4 396.4l54 23.1 125.2 51.5 142.8 60.8 .6-6.1 -142.9-60.5 -119.9-48.8 -64.1-27.3 -.5 5.3z" fill="#9dca12" stroke="#9dca12" stroke-width="0.7" fill-rule="evenodd"/>
<path d="M350.9 391.1l59.3 25.3 119.9 48.8 142.9 60.5 .7-6 -143-60.3 -125.2-51 -58.9-24.8 -.5 5.5z" fill="#afcf0d" stroke="#afcf0d" stroke-width="0.7" fill-rule="evenodd"/>
<path d="M351.3 385.6l54.2 22.8 125.2 51 143 60.3 .6-6.1 -143-59.9 -125.4-50.8 -58.9-24.7 -.4 5.4z" fill="#c2d705" stroke="#c2d705" stroke-width="0.7" fill-rule="evenodd"/>
<path d="M351.8 380.2l54.1 22.7 125.4 50.8 143 59.9 .7-6.1 -143.1-59.6 -125.5-50.5 -59-24.6 -.4 5.4z" fill="#d4de00" stroke="#d4de00" stroke-width="0.7" fill-rule="evenodd"/>
<path d="M352.2 374.8l54.2 22.6 125.5 50.5 143.1 59.6 .6-6.2 -143.1-59.2 -125.7-50.2 -59-24.5 -.4 5.4z" fill="#e3e300" stroke="#e3e300" stroke-width="0.7" fill-rule="evenodd"/>
<path d="M352.6 369.4l54.2 22.5 125.7 50.2 143.1 59.2 .7-6 -143.3-59.1 -125.7-49.9 -59-24.3 -.5 5.4z" fill="#ece700" stroke="#ece700" stroke-width="0.7" fill-rule="evenodd"/>
<path d="M353.1 364l54.2 22.3 125.7 49.9 143.3 59.1 .8-6.2 -143.5-58.7 -125.9-49.6 -59-24.2 -.4 5.4z" fill="#efe800" stroke="#efe800" stroke-width="0.7" fill-rule="evenodd"/>
<path d="M353.5 358.5l54.2 22.3 125.9 49.6 143.5 58.7 .7-6.1 -143.5-58.4 -126.1-49.4 -59.1-24 -.4 5.4z" fill="#f4e400" stroke="#f4e400" stroke-width="0.7" fill-rule="evenodd"/>
<path d="M353.9 353.1l54.3 22.1 126.1 49.4 143.5 58.4 .8-6.2 -143.7-58 -126.3-49.1 -59.1-24 -.4 5.5z" fill="#fcdb00" stroke="#fcdb00" stroke-width="0.7" fill-rule="evenodd"/>
<path d="M354.3 347.7l54.3 22 126.3 49.1 143.7 58 .7-6.2 -143.8-57.7 -126.4-48.8 -59.1-23.8 -.5 5.4z" fill="#ffcb07" stroke="#ffcb07" stroke-width="0.7" fill-rule="evenodd"/>
<path d="M354.8 342.2l54.3 21.9 126.4 48.8 143.8 57.7 .8-6.1 -144-57.4 -126.6-48.6 -59.1-23.7 -.4 5.5z" fill="#ffb90c" stroke="#ffb90c" stroke-width="0.7" fill-rule="evenodd"/>
<path d="M355.2 336.8l54.3 21.7 126.6 48.6 144 57.4 .7-6.2 -144.1-57.1 -126.7-48.2 -59.2-23.6 -.4 5.4z" fill="#ffa810" stroke="#ffa810" stroke-width="0.7" fill-rule="evenodd"/>
<path d="M355.6 331.3l54.4 21.7 126.7 48.2 144.1 57.1 .8-6.2 -144.3-56.8 -126.9-47.9 -59.1-23.5 -.5 5.5z" fill="#ff9914" stroke="#ff9914" stroke-width="0.7" fill-rule="evenodd"/>
<path d="M356.1 325.9l54.3 21.5 126.9 47.9 144.3 56.8 .7-6.2 -144.3-56.5 -127.1-47.6 -59.2-23.3 -.4 5.4z" fill="#ff8b18" stroke="#ff8b18" stroke-width="0.7" fill-rule="evenodd"/>
<path d="M356.5 320.4l54.4 21.4 127.1 47.6 144.3 56.5 .8-6.2 -144.5-56.1 -127.3-47.4 -59.2-23.2 -.4 5.5z" fill="#ff7b1b" stroke="#ff7b1b" stroke-width="0.7" fill-rule="evenodd"/>
<path d="M356.9 314.9l54.4 21.3 127.3 47.4 144.5 56.1 .7-6.2 -144.6-55.8 -127.4-47.1 -59.3-23 -.4 5.4z" fill="#ff6b1e" stroke="#ff6b1e" stroke-width="0.7" fill-rule="evenodd"/>
<path d="M357.4 309.4l54.4 21.2 127.4 47.1 144.6 55.8 .8-6.2 -144.8-55.5 -127.6-46.8 -59.3-22.9 -.4 5.5z" fill="#ff631f" stroke="#ff631f" stroke-width="0.7" fill-rule="evenodd"/>
<path d="M357.8 303.9l54.4 21.1 127.6 46.8 144.8 55.5 .8-6.3 -145-55.1 -127.7-46.5 -59.4-22.8 -.4 5.5z" fill="#ff5a20" stroke="#ff5a20" stroke-width="0.7" fill-rule="evenodd"/>
<path d="M358.1 298.4l54.6 21 127.7 46.5 145 55.1 .7-6.2 -145-54.9 -128-46.2 -59.4-22.6 -.4 5.5z" fill="#ff4e22" stroke="#ff4e22" stroke-width="0.7" fill-rule="evenodd"/>
<path d="M358.5 292.9l54.6 20.8 128 46.2 145 54.9 .8-6.3 -145.2-54.5 -128.2-45.9 -59.4-22.5 -.4 5.5z" fill="#ff4623" stroke="#ff4623" stroke-width="0.7" fill-rule="evenodd"/>
<path d="M358.9 287.4l54.6 20.7 128.2 45.9 145.2 54.5 .9-6.4 -6.5-2.7 -201.2-73.9 -66.1-23 -59.5-22.4 -.4 5.5z" fill="#ff4224" stroke="#ff4224" stroke-width="0.7" fill-rule="evenodd"/>
<path d="M359.3 281.9l54.7 20.6 128.3 45.6 145.5 54 1.7-6.3 -208.8-76.1 -66.3-22.9 -59.5-22.2 -.4 5.5z" fill="#ff4224" stroke="#ff4224" stroke-width="0.7" fill-rule="evenodd"/>
<path d="M409.3 294.9l71.4 24.8 208.8 76.1 1.7-6.5 -210-75.4 -66.3-22.7 -59.6-22.1 -.4 5.5z" fill="#ff4224" stroke="#ff4224" stroke-width="0.7" fill-rule="evenodd"/>
<path d="M404.7 287.4l76.5 26.5 210 75.4 1.7-6.5 -211.1-74.7 -66.5-22.6 -59.6-21.9 -.4 5.5z" fill="#ff4224" stroke="#ff4224" stroke-width="0.7" fill-rule="evenodd"/>
<path d="M400.1 279.9l292.8 102.9 1.8-6.5 -149.8-52.4 -129.1-44.1 -59.7-21.8 -.4 5.6z" fill="#ff4123" stroke="#ff4123" stroke-width="0.7" fill-rule="evenodd"/>
<path d="M395.5 272.4l299.2 103.9 1.7-6.5 -168.3-58 -111.9-37.6 -59.7-21.7 -.4 5.5z" fill="#ff4123" stroke="#ff4123" stroke-width="0.7" fill-rule="evenodd"/>
<path d="M395.9 266.8l300.5 103 1.7-6.4 -281.5-94.9 -59.7-21.5 -.4 5.5z" fill="#ff4123" stroke="#ff4123" stroke-width="0.7" fill-rule="evenodd"/>
<path d="M391.3 259.4l306.8 104 1.8-6.5 -191.2-63.7 -7.9-3.2 -83.7-27.2 -59.8-21.4 -.4 5.6z" fill="#ff4123" stroke="#ff4123" stroke-width="0.7" fill-rule="evenodd"/>
<path d="M391.7 253.7l25.4 9.1 83.7 27.2 7.9 3.2 191.2 63.7 1.7-6.6 -145.6-48.4 -138.5-44.8 -59.8-21.2 -.4 5.5z" fill="#ff4123" stroke="#ff4123" stroke-width="0.7" fill-rule="evenodd"/>
<path d="M387.2 246.3l30.3 10.8 138.5 44.8 145.6 48.4 -46.9-22.5 -103.5-34 -65.7-20.8 -2.7-.2 -3.3-1.8 -61.5-19.6 -59.9-21.1 -.4 5.6z" fill="#ff4123" stroke="#ff4123" stroke-width="0.7" fill-rule="evenodd"/>
<path d="M387.6 240.7l30.4 10.7 61.5 19.6 3.3 1.8 2.7 .2 65.7 20.8 103.5 34 -40.3-20 -196-62.1 -59.9-21 -.4 5.6z" fill="#ff4123" stroke="#ff4123" stroke-width="0.7" fill-rule="evenodd"/>
<path d="M383 233.3l35.4 12.4 65.5 21.2 2.6 .2 66 20.6 61.9 20.1 -32-17 -163.5-50.8 -60-20.8 -.4 5.5z" fill="#ff4123" stroke="#ff4123" stroke-width="0.7" fill-rule="evenodd"/>
<path d="M383.4 227.7l68.6 22.8 130.4 40.3 -28-15.5 -124.1-37.6 -71-24.1 -.4 5.6z" fill="#ff4022" stroke="#ff4022" stroke-width="0.7" fill-rule="evenodd"/>
<path d="M383.9 222.1l68.6 22.6 101.9 30.6 -14.7-10.9 -103.5-30.7 -76.5-25.7 -.4 5.6z" fill="#ff4022" stroke="#ff4022" stroke-width="0.7" fill-rule="evenodd"/>
<path d="M384.3 216.4l66.7 21.9 88.7 26.1 -14.6-10.8 -88.4-25.7 -76.6-25.5 -.4 5.6z" fill="#ff4022" stroke="#ff4022" stroke-width="0.7" fill-rule="evenodd"/>
<path d="M379.7 209.1l62.5 20.5 82.9 24 -14.3-10.6 -79.2-22.6 -71.1-23.6 -.4 5.6z" fill="#ff4022" stroke="#ff4022" stroke-width="0.7" fill-rule="evenodd"/>
<path d="M380.1 203.4l53.4 17.6 77.3 22 -14.2-10.6 -6.1-1.1 -3.8-1.7 -60.1-16.6 -65.7-21.8 -.4 5.6z" fill="#f73f22" stroke="#f73f22" stroke-width="0.7" fill-rule="evenodd"/>
<path d="M380.6 197.8l52.9 17.3 53.2 14.5 3.8 1.7 6.1 1.1 -3.5-2.5 -6-6.4 -61.7-16.8 -64.1-21.1 -.4 5.6z" fill="#e83b21" stroke="#e83b21" stroke-width="0.7" fill-rule="evenodd"/>
<path d="M381 192.1l44.4 14.6 61.7 16.8 -6.3-7.9 -57.3-15.5 -61.8-20.2 -.4 5.7z" fill="#d73520" stroke="#d73520" stroke-width="0.7" fill-rule="evenodd"/>
<path d="M376.4 184.8l47.1 15.3 57.3 15.5 -6.3-7.8 -51.7-13.9 -60.7-19.7 -.4 5.7z" fill="#c52f1f" stroke="#c52f1f" stroke-width="0.7" fill-rule="evenodd"/>
<path d="M376.9 179.1l45.9 14.8 51.7 13.9 -6.3-7.8 -44.6-11.9 -61-19.4 -.5 5.5z" fill="#b22a1e" stroke="#b22a1e" stroke-width="0.7" fill-rule="evenodd"/>
<path d="M367.5 170.2l56.1 17.9 44.6 11.9 -6.2-7.8 -37.6-9.9 -61.3-19.3 -.5 5.7z" fill="#a9281d" stroke="#a9281d" stroke-width="0.7" fill-rule="evenodd"/>
<path d="M368.1 164.6l56.3 17.7 37.6 9.9 -6.2-7.7 -30.7-8.1 -61.4-19.1 -.6 5.7z" fill="#a1271b" stroke="#a1271b" stroke-width="0.7" fill-rule="evenodd"/>
<path d="M366.8 158.3l58.3 18.1 30.7 8.1 -6.2-7.7 -23.7-6.2 -61.6-19 -.6 5.7z" fill="#99251a" stroke="#99251a" stroke-width="0.7" fill-rule="evenodd"/>
<path d="M369.3 153.2l56.6 17.4 23.7 6.2 -6.2-7.7 -16.7-4.4 -61.8-18.7 -.6 5.6z" fill="#902218" stroke="#902218" stroke-width="0.7" fill-rule="evenodd"/>
<path d="M369.9 147.5l56.8 17.2 16.7 4.4 -6.2-7.7 -71.8-21.1 -.5 5.7z" fill="#871f17" stroke="#871f17" stroke-width="0.7" fill-rule="evenodd"/>
<path d="M366 140.4l71.2 21 -6.1-7.6 -65.1-19.2 -.6 5.7z" fill="#7e1c16" stroke="#7e1c16" stroke-width="0.7" fill-rule="evenodd"/>
<path d="M371 136.1l60.1 17.7 -2.6-3.3 -5.2-3.1 -13.4-5.8 -43.3-12.7 -.6 5.7z" fill="#761b15" stroke="#761b15" stroke-width="0.7" fill-rule="evenodd"/>
<path d="M371.6 130.4l38.3 11.2 -42.7-18.4 -.6 5.7z" fill="#6e1913" stroke="#6e1913" stroke-width="0.7" fill-rule="evenodd"/>
<path d="M285.1 546.5l61.9 28 37.8 10.8 28 7.1 17.9 6.9 68.6 30.9 63.7 30.5 72.2 35.6" fill="none" stroke="#3a3a3a" stroke-width="0.9" stroke-opacity="0.75"/>
<path d="M332.2 492.4l57.5 27.6 58.5 26 65 30.3 139.6 66.7" fill="none" stroke="#3a3a3a" stroke-width="0.9" stroke-opacity="0.75"/>
<path d="M340.7 447l73.5 33.3 108.1 47.3 141.5 63.8" fill="none" stroke="#3a3a3a" stroke-width="0.9" stroke-opacity="0.75"/>
<path d="M344.9 401.9l58.6 25.3 64.5 26.2 60.7 25.7 142.8 61.2" fill="none" stroke="#3a3a3a" stroke-width="0.9" stroke-opacity="0.75"/>
<path d="M348.7 356.6l59 24.2 125.9 49.6 143.5 58.7" fill="none" stroke="#3a3a3a" stroke-width="0.9" stroke-opacity="0.75"/>
<path d="M352.3 310.8l59.2 23.2 65.5 23.8 61.8 23.4 144.6 56" fill="none" stroke="#3a3a3a" stroke-width="0.9" stroke-opacity="0.75"/>
<path d="M355.6 264.7l59.6 21.9 60.8 20.7 3.3 1.7 2.4 .3 210.9 74.8" fill="none" stroke="#3a3a3a" stroke-width="0.9" stroke-opacity="0.75"/>
<path d="M359 218l60 20.8 157 48.6" fill="none" stroke="#3a3a3a" stroke-width="0.9" stroke-opacity="0.75"/>
<path d="M362.3 170.7l61 19.7 47.4 12.7" fill="none" stroke="#3a3a3a" stroke-width="0.9" stroke-opacity="0.75"/>
<defs><linearGradient id="cbA" x1="0" y1="0" x2="0" y2="1"><stop offset="0.0000" stop-color="#6a1812"/><stop offset="0.0280" stop-color="#7d1c16"/><stop offset="0.0610" stop-color="#962419"/><stop offset="0.1000" stop-color="#b02a1e"/><stop offset="0.1200" stop-color="#d0321f"/><stop offset="0.1430" stop-color="#f03e22"/><stop offset="0.1550" stop-color="#ff4022"/><stop offset="0.3450" stop-color="#ff4224"/><stop offset="0.3590" stop-color="#ff4a22"/><stop offset="0.3790" stop-color="#ff5e20"/><stop offset="0.4000" stop-color="#ff6c1e"/><stop offset="0.4220" stop-color="#ff8a18"/><stop offset="0.4480" stop-color="#ffaa10"/><stop offset="0.4680" stop-color="#ffc808"/><stop offset="0.4830" stop-color="#fcdc00"/><stop offset="0.5000" stop-color="#f0e800"/><stop offset="0.5240" stop-color="#eae600"/><stop offset="0.5450" stop-color="#d0dc00"/><stop offset="0.5700" stop-color="#a8cc10"/><stop offset="0.6000" stop-color="#7cc418"/><stop offset="0.6220" stop-color="#5cbc20"/><stop offset="0.6460" stop-color="#38b428"/><stop offset="0.6670" stop-color="#14b030"/><stop offset="0.6860" stop-color="#00ae48"/><stop offset="0.7000" stop-color="#10b060"/><stop offset="0.7140" stop-color="#40bc98"/><stop offset="0.7290" stop-color="#58c4bc"/><stop offset="0.7470" stop-color="#10bcd0"/><stop offset="0.7650" stop-color="#08a8dc"/><stop offset="0.7840" stop-color="#3a88c8"/><stop offset="0.8000" stop-color="#4a70b0"/><stop offset="0.8140" stop-color="#4a4c98"/><stop offset="0.8290" stop-color="#4a2a84"/><stop offset="0.8480" stop-color="#4e1e7c"/><stop offset="0.8690" stop-color="#561e7e"/><stop offset="0.9000" stop-color="#6a2080"/><stop offset="0.9280" stop-color="#78207e"/><stop offset="0.9590" stop-color="#84227f"/><stop offset="0.9890" stop-color="#8a2282"/><stop offset="1.0000" stop-color="#8c2284"/></linearGradient></defs>
<rect x="913.0" y="120.0" width="50.0" height="6.0" fill="#fbf4f2"/>
<rect x="913.0" y="126.0" width="50.0" height="480.7" fill="url(#cbA)"/>
<rect x="913.0" y="606.7" width="50.0" height="4.3" fill="#14000e"/>
<rect x="913.0" y="120.0" width="50.0" height="491.0" fill="none" stroke="#4a4a55" stroke-width="1.6"/>
<line x1="963.0" y1="126.0" x2="974.0" y2="126.0" stroke="#333" stroke-width="2"/>
<text transform="translate(985.5,138.6) scale(1.0,1)" font-size="33" font-family="Liberation Sans, Arial, sans-serif" font-weight="bold" fill="#111">4.2</text>
<line x1="963.0" y1="174.1" x2="974.0" y2="174.1" stroke="#333" stroke-width="2"/>
<text transform="translate(985.5,186.7) scale(1.0,1)" font-size="33" font-family="Liberation Sans, Arial, sans-serif" font-weight="bold" fill="#111">3.78</text>
<line x1="963.0" y1="222.1" x2="974.0" y2="222.1" stroke="#333" stroke-width="2"/>
<text transform="translate(985.5,234.7) scale(1.0,1)" font-size="33" font-family="Liberation Sans, Arial, sans-serif" font-weight="bold" fill="#111">3.36</text>
<line x1="963.0" y1="270.2" x2="974.0" y2="270.2" stroke="#333" stroke-width="2"/>
<text transform="translate(985.5,282.8) scale(1.0,1)" font-size="33" font-family="Liberation Sans, Arial, sans-serif" font-weight="bold" fill="#111">2.94</text>
<line x1="963.0" y1="318.3" x2="974.0" y2="318.3" stroke="#333" stroke-width="2"/>
<text transform="translate(985.5,330.9) scale(1.0,1)" font-size="33" font-family="Liberation Sans, Arial, sans-serif" font-weight="bold" fill="#111">2.52</text>
<line x1="963.0" y1="366.4" x2="974.0" y2="366.4" stroke="#333" stroke-width="2"/>
<text transform="translate(985.5,379.0) scale(1.0,1)" font-size="33" font-family="Liberation Sans, Arial, sans-serif" font-weight="bold" fill="#111">2.1</text>
<line x1="963.0" y1="414.4" x2="974.0" y2="414.4" stroke="#333" stroke-width="2"/>
<text transform="translate(985.5,427.0) scale(1.0,1)" font-size="33" font-family="Liberation Sans, Arial, sans-serif" font-weight="bold" fill="#111">1.68</text>
<line x1="963.0" y1="462.5" x2="974.0" y2="462.5" stroke="#333" stroke-width="2"/>
<text transform="translate(985.5,475.1) scale(1.0,1)" font-size="33" font-family="Liberation Sans, Arial, sans-serif" font-weight="bold" fill="#111">1.26</text>
<line x1="963.0" y1="510.6" x2="974.0" y2="510.6" stroke="#333" stroke-width="2"/>
<text transform="translate(985.5,523.2) scale(1.0,1)" font-size="33" font-family="Liberation Sans, Arial, sans-serif" font-weight="bold" fill="#111">0.84</text>
<line x1="963.0" y1="558.6" x2="974.0" y2="558.6" stroke="#333" stroke-width="2"/>
<text transform="translate(985.5,571.2) scale(1.0,1)" font-size="33" font-family="Liberation Sans, Arial, sans-serif" font-weight="bold" fill="#111">0.42</text>
<line x1="963.0" y1="606.7" x2="974.0" y2="606.7" stroke="#333" stroke-width="2"/>
<text transform="translate(985.5,619.3) scale(1.0,1)" font-size="33" font-family="Liberation Sans, Arial, sans-serif" font-weight="bold" fill="#111">0</text></g>
<g><text x="1086.7" y="88.6" font-size="82" font-family="Liberation Sans, Arial, sans-serif" font-weight="bold" fill="#0d0d0d">B</text>
<text transform="translate(1975.4,52.5) scale(1.12,1)" font-size="36" font-family="Liberation Sans, Arial, sans-serif" font-weight="bold" fill="#111">15 s</text>
<text transform="translate(1137.5,121) rotate(87) scale(0.985,1)" font-size="35" font-family="Liberation Sans, Arial, sans-serif" font-weight="bold" fill="#111">Photocurrent density / µA·cm<tspan font-size="21" dy="-13">-2</tspan></text>
<line x1="1257.9" y1="615.4" x2="1237.1" y2="105.4" stroke="#2a2a2a" stroke-width="1.7"/>
<line x1="1257.9" y1="615.4" x2="1601.2" y2="779.7" stroke="#2a2a2a" stroke-width="1.5"/>
<line x1="1601.2" y1="779.7" x2="1988.2" y2="627.9" stroke="#2a2a2a" stroke-width="2.0"/>
<line x1="1257.9" y1="615.4" x2="1248.0" y2="618.4" stroke="#2a2a2a" stroke-width="1.7"/>
<text transform="translate(1243.0,635.4) rotate(0) scale(0.87,1)" font-size="33" text-anchor="end" font-family="Liberation Sans, Arial, sans-serif" font-weight="bold" fill="#111">0</text>
<line x1="1253.0" y1="493.5" x2="1242.9" y2="496.3" stroke="#2a2a2a" stroke-width="1.7"/>
<text transform="translate(1237.9,513.3) rotate(0) scale(0.87,1)" font-size="33" text-anchor="end" font-family="Liberation Sans, Arial, sans-serif" font-weight="bold" fill="#111">0.5</text>
<line x1="1247.8" y1="368.0" x2="1237.6" y2="370.5" stroke="#2a2a2a" stroke-width="1.7"/>
<text transform="translate(1232.6,387.5) rotate(0) scale(0.87,1)" font-size="33" text-anchor="end" font-family="Liberation Sans, Arial, sans-serif" font-weight="bold" fill="#111">1</text>
<line x1="1242.6" y1="238.7" x2="1232.1" y2="240.8" stroke="#2a2a2a" stroke-width="1.7"/>
<text transform="translate(1227.1,257.8) rotate(0) scale(0.87,1)" font-size="33" text-anchor="end" font-family="Liberation Sans, Arial, sans-serif" font-weight="bold" fill="#111">1.5</text>
<line x1="1237.1" y1="105.4" x2="1226.5" y2="107.2" stroke="#2a2a2a" stroke-width="1.7"/>
<text transform="translate(1221.5,124.2) rotate(0) scale(0.87,1)" font-size="33" text-anchor="end" font-family="Liberation Sans, Arial, sans-serif" font-weight="bold" fill="#111">2</text>
<line x1="1286.5" y1="629.1" x2="1281.7" y2="630.6" stroke="#2a2a2a" stroke-width="1.5"/>
<line x1="1316.2" y1="643.3" x2="1308.1" y2="645.9" stroke="#2a2a2a" stroke-width="1.5"/>
<text transform="matrix(3.2242,-1.0406,2.3258,1.1599,1285.7,660.0)" font-size="10" text-anchor="middle" font-family="Liberation Sans, Arial, sans-serif" font-weight="bold" fill="#111">200</text>
<line x1="1347.0" y1="658.0" x2="1342.1" y2="659.6" stroke="#2a2a2a" stroke-width="1.5"/>
<line x1="1379.0" y1="673.3" x2="1370.7" y2="676.1" stroke="#2a2a2a" stroke-width="1.5"/>
<text transform="matrix(3.2949,-1.1107,2.5144,1.2540,1348.4,691.2)" font-size="10" text-anchor="middle" font-family="Liberation Sans, Arial, sans-serif" font-weight="bold" fill="#111">400</text>
<line x1="1412.3" y1="689.3" x2="1407.3" y2="691.0" stroke="#2a2a2a" stroke-width="1.5"/>
<line x1="1447.0" y1="705.9" x2="1438.6" y2="708.9" stroke="#2a2a2a" stroke-width="1.5"/>
<text transform="matrix(3.3665,-1.1891,2.7271,1.3600,1416.3,725.1)" font-size="10" text-anchor="middle" font-family="Liberation Sans, Arial, sans-serif" font-weight="bold" fill="#111">600</text>
<line x1="1483.1" y1="723.2" x2="1478.0" y2="725.0" stroke="#2a2a2a" stroke-width="1.5"/>
<line x1="1520.8" y1="741.2" x2="1512.2" y2="744.4" stroke="#2a2a2a" stroke-width="1.5"/>
<text transform="matrix(3.4384,-1.2772,2.9678,1.4801,1490.1,761.9)" font-size="10" text-anchor="middle" font-family="Liberation Sans, Arial, sans-serif" font-weight="bold" fill="#111">800</text>
<line x1="1560.1" y1="760.0" x2="1554.9" y2="762.0" stroke="#2a2a2a" stroke-width="1.5"/>
<line x1="1601.2" y1="779.7" x2="1592.4" y2="783.1" stroke="#2a2a2a" stroke-width="1.5"/>
<text transform="matrix(3.5099,-1.3766,3.2419,1.6168,1570.6,802.1)" font-size="10" text-anchor="middle" font-family="Liberation Sans, Arial, sans-serif" font-weight="bold" fill="#111">1000</text>
<text transform="matrix(2.4408,1.3048,-3.2871,1.1372,1297.2,732.8)" font-size="10" text-anchor="middle" font-family="Liberation Sans, Arial, sans-serif" font-weight="bold" fill="#111">Potential / mV</text>
<line x1="1611.8" y1="775.5" x2="1618.2" y2="778.5" stroke="#2a2a2a" stroke-width="1.5"/>
<text transform="matrix(3.4175,1.6194,-3.4278,1.3799,1638.1,798.8)" font-size="10" text-anchor="middle" font-family="Liberation Sans, Arial, sans-serif" font-weight="bold" fill="#111">200</text>
<line x1="1638.2" y1="765.2" x2="1643.3" y2="767.5" stroke="#2a2a2a" stroke-width="1.5"/>
<line x1="1664.1" y1="755.0" x2="1670.5" y2="757.9" stroke="#2a2a2a" stroke-width="1.5"/>
<text transform="matrix(3.4536,1.5561,-3.3172,1.3353,1691.3,777.4)" font-size="10" text-anchor="middle" font-family="Liberation Sans, Arial, sans-serif" font-weight="bold" fill="#111">250</text>
<line x1="1689.7" y1="745.0" x2="1694.8" y2="747.3" stroke="#2a2a2a" stroke-width="1.5"/>
<line x1="1714.8" y1="735.1" x2="1721.3" y2="737.9" stroke="#2a2a2a" stroke-width="1.5"/>
<text transform="matrix(3.4856,1.4960,-3.2118,1.2929,1742.7,756.7)" font-size="10" text-anchor="middle" font-family="Liberation Sans, Arial, sans-serif" font-weight="bold" fill="#111">300</text>
<line x1="1739.5" y1="725.4" x2="1744.7" y2="727.6" stroke="#2a2a2a" stroke-width="1.5"/>
<line x1="1763.9" y1="715.9" x2="1770.4" y2="718.5" stroke="#2a2a2a" stroke-width="1.5"/>
<text transform="matrix(3.5140,1.4389,-3.1113,1.2525,1792.5,736.7)" font-size="10" text-anchor="middle" font-family="Liberation Sans, Arial, sans-serif" font-weight="bold" fill="#111">350</text>
<line x1="1787.9" y1="706.5" x2="1793.1" y2="708.6" stroke="#2a2a2a" stroke-width="1.5"/>
<line x1="1811.5" y1="697.2" x2="1818.1" y2="699.8" stroke="#2a2a2a" stroke-width="1.5"/>
<text transform="matrix(3.5389,1.3846,-3.0155,1.2139,1840.7,717.3)" font-size="10" text-anchor="middle" font-family="Liberation Sans, Arial, sans-serif" font-weight="bold" fill="#111">400</text>
<line x1="1834.7" y1="688.1" x2="1840.0" y2="690.1" stroke="#2a2a2a" stroke-width="1.5"/>
<line x1="1857.6" y1="679.1" x2="1864.3" y2="681.6" stroke="#2a2a2a" stroke-width="1.5"/>
<text transform="matrix(3.5607,1.3329,-2.9241,1.1771,1887.4,698.4)" font-size="10" text-anchor="middle" font-family="Liberation Sans, Arial, sans-serif" font-weight="bold" fill="#111">450</text>
<line x1="1880.2" y1="670.3" x2="1885.5" y2="672.2" stroke="#2a2a2a" stroke-width="1.5"/>
<line x1="1902.5" y1="661.5" x2="1909.1" y2="663.9" stroke="#2a2a2a" stroke-width="1.5"/>
<text transform="matrix(3.5795,1.2836,-2.8367,1.1419,1932.8,680.2)" font-size="10" text-anchor="middle" font-family="Liberation Sans, Arial, sans-serif" font-weight="bold" fill="#111">500</text>
<line x1="1924.4" y1="652.9" x2="1929.7" y2="654.8" stroke="#2a2a2a" stroke-width="1.5"/>
<line x1="1946.0" y1="644.5" x2="1952.6" y2="646.8" stroke="#2a2a2a" stroke-width="1.5"/>
<text transform="matrix(3.5957,1.2367,-2.7532,1.1083,1976.8,662.5)" font-size="10" text-anchor="middle" font-family="Liberation Sans, Arial, sans-serif" font-weight="bold" fill="#111">550</text>
<line x1="1967.2" y1="636.1" x2="1972.6" y2="637.9" stroke="#2a2a2a" stroke-width="1.5"/>
<line x1="1988.2" y1="627.9" x2="1994.9" y2="630.1" stroke="#2a2a2a" stroke-width="1.5"/>
<text transform="matrix(3.6094,1.1920,-2.6733,1.0761,2019.5,645.3)" font-size="10" text-anchor="middle" font-family="Liberation Sans, Arial, sans-serif" font-weight="bold" fill="#111">600</text>
<text transform="matrix(2.9403,-1.2292,3.5870,1.4161,1913.2,744.8)" font-size="10" text-anchor="middle" font-family="Liberation Sans, Arial, sans-serif" font-weight="bold" fill="#111">Wavelength / nm</text>
<path d="M1801.5 677.6l7.1 3 8.5 2.3 171.7-66.7 -373.7-125.8 -158.4 48.3 62.1 24.3z" fill="#7d2077" stroke="#7d2077" stroke-width="0.7" fill-rule="evenodd"/>
<path d="M1786.1 672l22.5 8.6 -289.8-117.6 -62.1-24.3 -5.4-3.5 61.9 24.4 191.1 79.2z" fill="#7b2076" stroke="#7b2076" stroke-width="0.7" fill-rule="evenodd"/>
<path d="M1798 672.8l1.3 4.8 .8 .3 -286.9-118.3 -61.9-24.4 -5.4-3.4 61.7 24.3 80.5 34.3z" fill="#761f76" stroke="#761f76" stroke-width="0.7" fill-rule="evenodd"/>
<path d="M1760.6 653.3l36 14.1 1.4 5.4 -209.9-82.4 -80.5-34.3 -61.7-24.3 -5-3.3z" fill="#721e75" stroke="#721e75" stroke-width="0.7" fill-rule="evenodd"/>
<path d="M1652.3 606.4l143.5 55.2 .8 5.8 -355.7-138.9 -1.4-5z" fill="#6d1e76" stroke="#6d1e76" stroke-width="0.7" fill-rule="evenodd"/>
<path d="M1795 655.9l.8 5.7 -356.3-138.1 -1.3-4.7z" fill="#681e76" stroke="#681e76" stroke-width="0.7" fill-rule="evenodd"/>
<path d="M1737.2 628.4l57.1 21.7 .7 5.8 -356.8-137.1 -1.1-4.2z" fill="#621e77" stroke="#621e77" stroke-width="0.7" fill-rule="evenodd"/>
<path d="M1702.3 609.9l91.3 34.5 .7 5.7 -256.6-97.9 -100.6-37.6 -.7-5.5z" fill="#5b1d76" stroke="#5b1d76" stroke-width="0.7" fill-rule="evenodd"/>
<path d="M1792.9 638.6l.7 5.8 -357.2-135.3 -.6-5z" fill="#541c76" stroke="#541c76" stroke-width="0.7" fill-rule="evenodd"/>
<path d="M1756.1 619.3l36.1 13.5 .7 5.8 -357.1-134.5 -.6-4.9z" fill="#4e1c75" stroke="#4e1c75" stroke-width="0.7" fill-rule="evenodd"/>
<path d="M1727.4 603.2l64.1 23.8 .7 5.8 -357-133.6 -.6-5z" fill="#4a1c74" stroke="#4a1c74" stroke-width="0.7" fill-rule="evenodd"/>
<path d="M1790.8 621.2l.7 5.8 -356.9-132.8 -.6-5z" fill="#472177" stroke="#472177" stroke-width="0.7" fill-rule="evenodd"/>
<path d="M1761.1 604.7l29 10.7 .7 5.8 -356.8-132 -.6-4.9z" fill="#452a7d" stroke="#452a7d" stroke-width="0.7" fill-rule="evenodd"/>
<path d="M1732.2 588.8l57.3 21.1 .6 5.5 -356.7-131.1 -.6-5z" fill="#45448c" stroke="#45448c" stroke-width="0.7" fill-rule="evenodd"/>
<path d="M1724.8 580.4l64.3 23.1 .4 6.4 -356.7-130.6 -.7-5 225.2 81.7 26.9 10.4z" fill="#45609e" stroke="#45609e" stroke-width="0.7" fill-rule="evenodd"/>
<path d="M1738.3 579.6l50.4 18 .4 5.9 -104.9-37.1 -26.9-10.4 -225.2-81.7 -.6-5 62.5 22.1 138.3 50.8z" fill="#3d74af" stroke="#3d74af" stroke-width="0.7" fill-rule="evenodd"/>
<path d="M1759.3 581.3l29.1 10.3 .3 6 -156.4-55.4 -138.3-50.8 -62.5-22.1 -.6-5 62.5 21.9 89.6 33z" fill="#2c85be" stroke="#2c85be" stroke-width="0.7" fill-rule="evenodd"/>
<path d="M1780.7 583l7.3 2.6 .4 6 -205.4-72.4 -89.6-33 -62.5-21.9 -.6-5 84 29.5 33.4 12.6 17.2 5.5z" fill="#0e98ca" stroke="#0e98ca" stroke-width="0.7" fill-rule="evenodd"/>
<path d="M1787.6 579.6l.4 6 -223.1-78.7 -17.2-5.5 -33.4-12.6 -84-29.5 -.6-5.1 62.4 21.7 27.1 10.2 16 5.1z" fill="#0ba6c7" stroke="#0ba6c7" stroke-width="0.7" fill-rule="evenodd"/>
<path d="M1787.2 573.6l.4 6 -252.4-88.4 -16-5.1 -27.1-10.2 -62.4-21.7 -.6-5z" fill="#1ab0be" stroke="#1ab0be" stroke-width="0.7" fill-rule="evenodd"/>
<path d="M1786.9 567.5l.3 6.1 -358.1-124.4 -.6-4.6 62.6 20.8z" fill="#46b5b2" stroke="#46b5b2" stroke-width="0.7" fill-rule="evenodd"/>
<path d="M1786.5 561.5l.4 6 -295.8-102.1 -62.6-20.8 -.5-5.6z" fill="#45b29b" stroke="#45b29b" stroke-width="0.7" fill-rule="evenodd"/>
<path d="M1721.6 533.6l64.5 21.9 .4 6 -358.5-122.5 -.4-5.1z" fill="#29aa78" stroke="#29aa78" stroke-width="0.7" fill-rule="evenodd"/>
<path d="M1728.2 530.1l57.6 19.2 .3 6.2 -358.5-121.6 -.4-5.1z" fill="#0ba354" stroke="#0ba354" stroke-width="0.7" fill-rule="evenodd"/>
<path d="M1741.9 528.8l43.6 14.4 .3 6.1 -358.6-120.5 -.5-5.1z" fill="#01a241" stroke="#01a241" stroke-width="0.7" fill-rule="evenodd"/>
<path d="M1756 527.5l29.2 9.6 .3 6.1 -358.8-119.5 -.4-5.1z" fill="#0da333" stroke="#0da333" stroke-width="0.7" fill-rule="evenodd"/>
<path d="M1777.6 528.6l7.3 2.4 .3 6.1 -358.9-118.5 -.5-5.2z" fill="#1da52a" stroke="#1da52a" stroke-width="0.7" fill-rule="evenodd"/>
<path d="M1784.6 524.9l.3 6.1 -359.1-117.6 -.4-5.1z" fill="#30a726" stroke="#30a726" stroke-width="0.7" fill-rule="evenodd"/>
<path d="M1784.2 518.7l.4 6.2 -359.2-116.6 -.4-5.1z" fill="#41aa22" stroke="#41aa22" stroke-width="0.7" fill-rule="evenodd"/>
<path d="M1783.9 512.6l.3 6.1 -359.2-115.5 -.5-5.2z" fill="#51ae1f" stroke="#51ae1f" stroke-width="0.7" fill-rule="evenodd"/>
<path d="M1732.9 490.4l50.7 16 .3 6.2 -359.4-114.6 -.4-5.2z" fill="#62b21b" stroke="#62b21b" stroke-width="0.7" fill-rule="evenodd"/>
<path d="M1739.6 486.6l43.7 13.6 .3 6.2 -359.5-113.6 -.5-5.1z" fill="#72b617" stroke="#72b617" stroke-width="0.7" fill-rule="evenodd"/>
<path d="M1739.3 480.5l43.7 13.5 .3 6.2 -359.7-112.5 -.4-5.2z" fill="#82b914" stroke="#82b914" stroke-width="0.7" fill-rule="evenodd"/>
<path d="M1746.1 476.6l36.6 11.3 .3 6.1 -359.8-111.5 -.4-4.9 65.7 19.6z" fill="#92bc11" stroke="#92bc11" stroke-width="0.7" fill-rule="evenodd"/>
<path d="M1753 472.7l29.4 8.9 .3 6.3 -294.2-90.7 -65.7-19.6 -.5-5.5z" fill="#a3c00c" stroke="#a3c00c" stroke-width="0.7" fill-rule="evenodd"/>
<path d="M1760 468.7l22.1 6.7 .3 6.2 -360.1-109.5 -.3-5.2z" fill="#b5c705" stroke="#b5c705" stroke-width="0.7" fill-rule="evenodd"/>
<path d="M1767.1 464.7l14.7 4.5 .3 6.2 -360.1-108.5 -.4-5.2z" fill="#c5ce00" stroke="#c5ce00" stroke-width="0.7" fill-rule="evenodd"/>
<path d="M1766.8 458.5l14.7 4.4 .3 6.3 -360.2-107.5 -.4-5.3z" fill="#d3d300" stroke="#d3d300" stroke-width="0.7" fill-rule="evenodd"/>
<path d="M1766.5 452.3l14.7 4.3 .3 6.3 -360.3-106.5 -.4-5.2z" fill="#dbd600" stroke="#dbd600" stroke-width="0.7" fill-rule="evenodd"/>
<path d="M1766.2 446.1l14.7 4.3 .3 6.2 -360.4-105.4 -.4-5.3z" fill="#ded700" stroke="#ded700" stroke-width="0.7" fill-rule="evenodd"/>
<path d="M1765.9 439.8l14.7 4.3 .3 6.3 -360.5-104.5 -.4-5.2z" fill="#e3d400" stroke="#e3d400" stroke-width="0.7" fill-rule="evenodd"/>
<path d="M1765.6 433.6l14.7 4.2 .3 6.3 -360.6-103.4 -.4-5.3z" fill="#ebcc00" stroke="#ebcc00" stroke-width="0.7" fill-rule="evenodd"/>
<path d="M1765.3 427.3l14.7 4.2 .3 6.3 -360.7-102.4 -.4-5.3z" fill="#edbd06" stroke="#edbd06" stroke-width="0.7" fill-rule="evenodd"/>
<path d="M1765 421l14.7 4.2 .3 6.3 -360.8-101.4 -.3-5.2z" fill="#edad0b" stroke="#edad0b" stroke-width="0.7" fill-rule="evenodd"/>
<path d="M1779.4 418.9l.3 6.3 -360.8-100.3 -.4-5.3z" fill="#ed9c0f" stroke="#ed9c0f" stroke-width="0.7" fill-rule="evenodd"/>
<path d="M1779.1 412.5l.3 6.4 -360.9-99.3 -.4-5.3z" fill="#ed8f13" stroke="#ed8f13" stroke-width="0.7" fill-rule="evenodd"/>
<path d="M1778.9 406.1l.2 6.4 -361-98.2 -.4-5.3 59.5 15.5z" fill="#ed8116" stroke="#ed8116" stroke-width="0.7" fill-rule="evenodd"/>
<path d="M1778.6 399.8l.3 6.3 -301.7-81.6 -59.5-15.5 -.4-5.3z" fill="#ed7219" stroke="#ed7219" stroke-width="0.7" fill-rule="evenodd"/>
<path d="M1778.4 393.4l.2 6.4 -361.3-96.1 -.4-5.3z" fill="#ed641c" stroke="#ed641c" stroke-width="0.7" fill-rule="evenodd"/>
<path d="M1778.1 387l.3 6.4 -361.5-95 -.4-5.3z" fill="#ed5c1d" stroke="#ed5c1d" stroke-width="0.7" fill-rule="evenodd"/>
<path d="M1777.8 380.5l.3 6.5 -361.6-93.9 -.4-5.4z" fill="#ed541e" stroke="#ed541e" stroke-width="0.7" fill-rule="evenodd"/>
<path d="M1777.6 374.1l.2 6.4 -361.7-92.8 -.4-5.3z" fill="#ed491f" stroke="#ed491f" stroke-width="0.7" fill-rule="evenodd"/>
<path d="M1770 365.8l7.3 1.9 .3 6.4 -361.9-91.7 -.4-5.3z" fill="#ed4121" stroke="#ed4121" stroke-width="0.7" fill-rule="evenodd"/>
<path d="M1762.2 357.6l14.9 3.7 .2 6.4 -362-90.6 -.4-5.4z" fill="#ed3d21" stroke="#ed3d21" stroke-width="0.7" fill-rule="evenodd"/>
<path d="M1770.8 356.5l6 2.6 .3 2.2 -362.2-89.6 -.4-5.3 317.9 77.7 29.5 6 7.4 2.7z" fill="#ed3d21" stroke="#ed3d21" stroke-width="0.7" fill-rule="evenodd"/>
<path d="M1755.2 346.6l7.5 3.2 8.1 6.7 -1.5-3.7 -7.4-2.7 -29.5-6 -317.9-77.7 -.4-5.4 310.8 75.1z" fill="#ed3d21" stroke="#ed3d21" stroke-width="0.7" fill-rule="evenodd"/>
<path d="M1718.4 332l36.2 14.3 -29.7-10.2 -310.8-75.1 -.4-5.4 262.7 62.8 26.8 5.8z" fill="#ed3d21" stroke="#ed3d21" stroke-width="0.7" fill-rule="evenodd"/>
<path d="M1696.9 321.2l19.2 9.7 -12.9-6.7 -26.8-5.8 -262.7-62.8 -.4-5.4 258.5 61 3.6 .2 6.7 2.2z" fill="#ed3d21" stroke="#ed3d21" stroke-width="0.7" fill-rule="evenodd"/>
<path d="M1675.9 310.5l17 8.6 -10.8-5.5 -6.7-2.2 -3.6-.2 -258.5-61 -.4-5.4 239.4 55.7 9.3 1.6z" fill="#ed3d21" stroke="#ed3d21" stroke-width="0.7" fill-rule="evenodd"/>
<path d="M1655.4 298.5l15.2 9.3 -9-5.7 -9.3-1.6 -239.4-55.7 -.4-5.3 235.4 53.9z" fill="#ed3d21" stroke="#ed3d21" stroke-width="0.7" fill-rule="evenodd"/>
<path d="M1641.9 290.2l12.2 7.5 -6.2-4.3 -235.4-53.9 -.4-5.4 216.5 49 3.8 .9z" fill="#ed3d21" stroke="#ed3d21" stroke-width="0.7" fill-rule="evenodd"/>
<path d="M1628.5 282.1l9.6 5.9 -5.7-4 -3.8-.9 -216.5-49 -.4-5.5 60.9 12.9 137.3 31.4 4.9 .4z" fill="#ed3c20" stroke="#ed3c20" stroke-width="0.7" fill-rule="evenodd"/>
<path d="M1608.9 270l13.6 8.3 -7.7-5 -4.9-.4 -137.3-31.4 -60.9-12.9 -.4-5.4 190.5 41.7z" fill="#ed3c20" stroke="#ed3c20" stroke-width="0.7" fill-rule="evenodd"/>
<path d="M1596 261.6l11 7.3 -5.2-4 -190.5-41.7 -.4-5.4 178.1 38.4z" fill="#ed3c20" stroke="#ed3c20" stroke-width="0.7" fill-rule="evenodd"/>
<path d="M1583.2 252.8l10.4 7.1 -4.6-3.7 -178.1-38.4 -.4-5.4 165.9 35.1z" fill="#ed3c20" stroke="#ed3c20" stroke-width="0.7" fill-rule="evenodd"/>
<path d="M1570.7 244.1l10.3 7.1 -4.6-3.7 -165.9-35.1 -.4-5.6 153.7 32.1z" fill="#ed3c20" stroke="#ed3c20" stroke-width="0.7" fill-rule="evenodd"/>
<path d="M1558.2 235.5l10.3 7.1 -4.7-3.7 -153.7-32.1 -.5-5.3 141.9 29z" fill="#ed3c20" stroke="#ed3c20" stroke-width="0.7" fill-rule="evenodd"/>
<path d="M1545.9 227l10.3 7.1 -4.7-3.6 -141.9-29 -.4-5.5 126.7 25.8 3.4 .1z" fill="#ed3c20" stroke="#ed3c20" stroke-width="0.7" fill-rule="evenodd"/>
<path d="M1533.8 218.4l10.3 7.4 -4.8-3.9 -3.4-.1 -126.7-25.8 -.5-5.4 118.8 23.6 4.6 1.1z" fill="#ed3c20" stroke="#ed3c20" stroke-width="0.7" fill-rule="evenodd"/>
<path d="M1527.8 212.8l5.2 4.8 -.9-2.3 -4.6-1.1 -118.8-23.6 -.5-5.5 113.3 22.1 2.5 .6 1 2.4z" fill="#e63b20" stroke="#e63b20" stroke-width="0.7" fill-rule="evenodd"/>
<path d="M1521.8 207.2l3.2 3 -1-2.4 -2.5-.6 -113.3-22.1 -.4-5.5 107.8 20.8 1.4 2.4z" fill="#d7371f" stroke="#d7371f" stroke-width="0.7" fill-rule="evenodd"/>
<path d="M1509.9 196.2l7.1 6.6 -1.4-2.4 -107.8-20.8 -.5-5.4 99.5 18.7 1.3 .3z" fill="#c8311d" stroke="#c8311d" stroke-width="0.7" fill-rule="evenodd"/>
<path d="M1504 190.7l5.1 4.7 -1-2.2 -1.3-.3 -99.5-18.7 -.4-5.5 90.9 16.7 2.4 .6 1 2.1z" fill="#b72c1d" stroke="#b72c1d" stroke-width="0.7" fill-rule="evenodd"/>
<path d="M1498.2 185.2l3 2.9 -1-2.1 -2.4-.6 -90.9-16.7 -.5-5.5 83.3 15 2.1-.2 1.7 2.9z" fill="#a5281c" stroke="#a5281c" stroke-width="0.7" fill-rule="evenodd"/>
<path d="M1486.6 174.2l6.9 6.7 -1.7-2.9 -2.1 .2 -83.3-15 -.5-5.5 79.3 13.9z" fill="#9d261b" stroke="#9d261b" stroke-width="0.7" fill-rule="evenodd"/>
<path d="M1480.8 168.7l5.2 5 -.8-2.1 -79.3-13.9 -.4-5.5 69.3 11.5 3 .9z" fill="#962419" stroke="#962419" stroke-width="0.7" fill-rule="evenodd"/>
<path d="M1475.1 163.1l3.6 3.5 -.9-2 -3-.9 -69.3-11.5 -.5-5.6 64 10.4 1.4 .6 1 2z" fill="#8e2218" stroke="#8e2218" stroke-width="0.7" fill-rule="evenodd"/>
<path d="M1469.4 157.7l2 1.9 -1-2 -1.4-.6 -64-10.4 -.4-5.5 38.4 6.3 3.6-.2 16.8 4.5z" fill="#862017" stroke="#862017" stroke-width="0.7" fill-rule="evenodd"/>
<path d="M1441.6 143.3l16.5 6.1 6 3.2 -.9-1 -16.6-4.4 -3.6 .2 -38.4-6.3 -.5-5.5 15.5 2z" fill="#7e1d16" stroke="#7e1d16" stroke-width="0.7" fill-rule="evenodd"/>
<path d="M1420 135.2l21.3 8 -21.7-5.6 -15.5-2 -.3-3.8 -1.2-1.6z" fill="#751a15" stroke="#751a15" stroke-width="0.7" fill-rule="evenodd"/>
<path d="M1404.2 129.3l10.9 4.1 -12.5-3.2 -3.6-2.8z" fill="#6e1913" stroke="#6e1913" stroke-width="0.7" fill-rule="evenodd"/>
<path d="M1794.7 653.6l-357-136.7" fill="none" stroke="#3a3a3a" stroke-width="0.9" stroke-opacity="0.75"/>
<path d="M1789.2 604.7l-91.5-32.3 -28.7-11 -236.7-86.1" fill="none" stroke="#3a3a3a" stroke-width="0.9" stroke-opacity="0.75"/>
<path d="M1786.1 554.2l-358.6-121.3" fill="none" stroke="#3a3a3a" stroke-width="0.9" stroke-opacity="0.75"/>
<path d="M1783.4 502.7l-359.6-113" fill="none" stroke="#3a3a3a" stroke-width="0.9" stroke-opacity="0.75"/>
<path d="M1780.9 450.4l-360.5-104.5" fill="none" stroke="#3a3a3a" stroke-width="0.9" stroke-opacity="0.75"/>
<path d="M1778.5 397.2l-222.3-58.9 -77-21 -62.1-15.7" fill="none" stroke="#3a3a3a" stroke-width="0.9" stroke-opacity="0.75"/>
<path d="M1721.3 333.5l-11.1-5.8 -5.1-1.3 -159.9-38.2 -69.3-17.4 -62.1-14.1" fill="none" stroke="#3a3a3a" stroke-width="0.9" stroke-opacity="0.75"/>
<path d="M1578.5 249.5l-3.8-3.1 -1.4-.4 -99.3-21.7 -63.6-13" fill="none" stroke="#3a3a3a" stroke-width="0.9" stroke-opacity="0.75"/>
<path d="M1496.6 183.7l-1-2.1 -2.6-.5 -86.4-15.7" fill="none" stroke="#3a3a3a" stroke-width="0.9" stroke-opacity="0.75"/>
<path d="M1375.7 671.8l63 31.1 67.1 31.2 -17.6-9 -6.4-4.3 -.8-1.3 .3-.7 4.9-1.5 1.7-1.4 -.1-2.2 -1.1-1.8 -10.4-8.3 -16.5-9.1 -18.4-8.1 -18-6.1 -15.4-2.7 -3.7 .3 -4.9 1.9 -2.7-.1 -9.2-2.9 -15.4-6.7zM1552.6 756.5l27.5 14.3 21.1 9.5 9.5-3.3 4.1-2.6 -3.5-4.8 -5.6-3.9 -7.2-3.2 -8.8-2.6 -13.9-2 -12 2.1 -3.4-.6 -12.4-5.2zM1354.3 640l15.3 6.3 5.4 1.3 2.5-.5 -1.3-1.7 -4.3-2.8 -10.3-5 -11-3.8 -5.3-.5 1.4 2.2z" fill="#10000e" stroke="#10000e" stroke-width="0.7" fill-rule="evenodd"/>
<path d="M1262.7 617.7l124.8 59.1 10.3 3 9.3-2.2 10.7 1.3 20.2 6.3 21.8 9.3 16.5 9.1 10.4 8.3 1.3 2.3 -.3 2 -6.7 2.9 2 2.7 22.8 12.3 42.2 20.1 12.4 5.2 5.4 .6 10-2.1 13.9 2 8.8 2.6 7.2 3.2 5.6 3.9 3.5 4.8 6-4.9 5.8-3.3 32.2-11.2 6.8-6.8 -89.1-34.6 -22.9-6.2 -22.2-7.2 -30.2-11.3 -33.6-13.8 -38.6-13.4 -17.4-7.6 -24.8-13.5 -15.6-7.5 -19.4-7.9 -31.9-11.7 -29.1-13.6 -3.6 2.9 -29.3 12.6zM1351.5 638.6l-4.8-3.1 -1.4-2.2 5.3 .5 11 3.8 10.3 5 4.3 2.8 1.3 1.7 -2.5 .5 -5.4-1.3z" fill="#8b2283" stroke="#8b2283" stroke-width="0.7" fill-rule="evenodd"/>
<path d="M1305 606.7l14.9 6.8 31.9 11.7 19.4 7.9 15.6 7.5 24.8 13.5 17.4 7.6 38.6 13.4 33.6 13.8 30.2 11.3 22.2 7.2 22.9 6.2 89.1 34.6 10.2-10.1 35.8-10.8 2.3-4 -87.7-34.3 14.9 11.2 10.2 9.3 21.1 24 2.7 4.2 -2-.4 -256.2-96 -55.7-22.7 -61.3-26.8 -9.1 8.1z" fill="#892281" stroke="#892281" stroke-width="0.7" fill-rule="evenodd"/>
<path d="M1304.8 594l56.4 24.6 55.7 22.7 256.2 96 2 .4 -2.7-4.2 -21.1-24 -10.2-9.3 -14.9-11.2 87.7 34.3 3.7-7.6 -118.2-46.3 -91.2-34.1 33.4 20.8 20.9 14.8 6.3 15.1 -186-68.1 -79.4-32.5 -3.5 6.4z" fill="#862280" stroke="#862280" stroke-width="0.7" fill-rule="evenodd"/>
<path d="M1308.5 587.6l74.3 30.3 186 68.1 -6.3-15.1 -20.9-14.8 -33.4-20.8 91.2 34.1 118.2 46.3 2.7-5.6 .3-1.6 -158.7-63.1 -76-28.5 -55.8-18.6 30.6 18.4 31.1 20.2 -.4 10.1 -119.8-42.5 -64.6-25.4 -3.6 6.3z" fill="#84227f" stroke="#84227f" stroke-width="0.7" fill-rule="evenodd"/>
<path d="M1312.1 581.2l59.5 23.3 119.8 42.5 .4-10.1 -34.4-22.2 -27.6-16.2 3.4 .8 52.7 17.6 65.4 24.4 169.3 67.2 1.3-6.7 -151.2-60.5 -129.6-50.8 -68.3-23.9 -19.5-5.4 -2.6-.6 -1.6 .5 53.8 26.7 27 16.7 7.3 5.2 -4.5 6.6 -55.8-19 -66.1-24.7 -3.8 6.5z" fill="#7f217f" stroke="#7f217f" stroke-width="0.7" fill-rule="evenodd"/>
<path d="M1313 573.5l63.9 23.8 54.3 18.7 1.5 .3 4.5-6.6 -32.7-21.1 -55.4-27.5 -8.9-2.6 36.2 18.7 17.5 10 -6.6 4.7 -71.7-26 -4.8 6.7zM1351.5 560.8l29.7 8.6 59.9 21.1 129.6 50.8 151.2 60.5 1.4-6.6 -163.4-65.3 -198.9-77.7 -1.7 4.3 -8.6 4.1z" fill="#7b207e" stroke="#7b207e" stroke-width="0.7" fill-rule="evenodd"/>
<path d="M1316.2 566.2l71.1 25.7 6.6-4.7 -17.5-10 -36.2-18.7 -8.9-2.6 7.9 4.5 -7.3 2.8 -11.6-4 -4.7 6.7zM1364.2 553.5l195.7 76.4 163.4 65.3 1.4-6.7 -224.2-88.8 -137.4-53.3 -2.1 5.8z" fill="#75207e" stroke="#75207e" stroke-width="0.7" fill-rule="evenodd"/>
<path d="M1324.6 560.8l7.3 2.4 7.3-2.8 -9.4-4.9 -8.6 2.5 -.9 1.2zM1368.2 548.4l132.3 51.3 224.2 88.8 1.4-6.6 -360.8-141.4 -2.2 5.9z" fill="#6f207f" stroke="#6f207f" stroke-width="0.7" fill-rule="evenodd"/>
<path d="M1370.3 542.5l355.8 139.4 1.3-6.7 -360.7-140.3 -1.4 5.6z" fill="#692080" stroke="#692080" stroke-width="0.7" fill-rule="evenodd"/>
<path d="M1371.5 536.8l355.9 138.4 1.3-6.6 -360.7-139.3 -1.3 5.6z" fill="#621f7f" stroke="#621f7f" stroke-width="0.7" fill-rule="evenodd"/>
<path d="M1370.8 530.4l357.9 138.2 1.3-6.6 -360.7-138.3 -1.3 5.6z" fill="#5a1e7e" stroke="#5a1e7e" stroke-width="0.7" fill-rule="evenodd"/>
<path d="M1369.7 523.9l360.3 138.1 1.2-6.7 -360.7-137.1z" fill="#541e7d" stroke="#541e7d" stroke-width="0.7" fill-rule="evenodd"/>
<path d="M1373.5 519.2l357.7 136.1 1.3-6.6 -361.3-136 -.7 5.5z" fill="#4f1e7c" stroke="#4f1e7c" stroke-width="0.7" fill-rule="evenodd"/>
<path d="M1376.2 514.6l356.3 134.1 1-6.6 -361.7-134.9 -.6 5.5z" fill="#4c2480" stroke="#4c2480" stroke-width="0.7" fill-rule="evenodd"/>
<path d="M1376.8 509.1l356.7 133 .8-6.4 -361.8-133.9 -.7 5.4z" fill="#4a2e86" stroke="#4a2e86" stroke-width="0.7" fill-rule="evenodd"/>
<path d="M1377.5 503.7l356.8 132 .7-6.5 -361.9-132.8 -.6 5.4z" fill="#4a4996" stroke="#4a4996" stroke-width="0.7" fill-rule="evenodd"/>
<path d="M1378.1 498.2l356.9 131 .8-6.5 -362.1-131.8 -.6 5.5z" fill="#4a67aa" stroke="#4a67aa" stroke-width="0.7" fill-rule="evenodd"/>
<path d="M1378.8 492.8l357 129.9 .8-6.5 -362.2-130.7 -.7 5.4z" fill="#427dbc" stroke="#427dbc" stroke-width="0.7" fill-rule="evenodd"/>
<path d="M1379.4 487.3l357.2 128.9 .8-6.5 -362.4-129.7 -.6 5.5z" fill="#2f8fcc" stroke="#2f8fcc" stroke-width="0.7" fill-rule="evenodd"/>
<path d="M1380 481.9l357.4 127.8 .7-6.5 -362.5-128.6 -.6 5.4z" fill="#10a3d9" stroke="#10a3d9" stroke-width="0.7" fill-rule="evenodd"/>
<path d="M1380.6 476.4l357.5 126.8 .8-6.5 -362.6-127.6 -.7 5.5z" fill="#0cb2d6" stroke="#0cb2d6" stroke-width="0.7" fill-rule="evenodd"/>
<path d="M1381.3 470.9l357.6 125.8 .7-6.5 -362.7-126.5 -.6 5.4z" fill="#1cbdcd" stroke="#1cbdcd" stroke-width="0.7" fill-rule="evenodd"/>
<path d="M1381.9 465.4l357.7 124.8 .7-6.5 -232.3-80.2 -51.7-17.2 -79-27.8 -.4 5.2z" fill="#4bc3bf" stroke="#4bc3bf" stroke-width="0.7" fill-rule="evenodd"/>
<path d="M1382.4 460.2l73.9 26.1 51.7 17.2 232.3 80.2 .7-6.5 -363.4-124.3 -.3 5.6z" fill="#4abfa7" stroke="#4abfa7" stroke-width="0.7" fill-rule="evenodd"/>
<path d="M1382.6 454.6l358.4 122.6 .7-6.5 -363.8-123.2 -.3 5.4z" fill="#2db781" stroke="#2db781" stroke-width="0.7" fill-rule="evenodd"/>
<path d="M1382.9 449.2l358.8 121.5 .7-6.5 -364.3-122.1 -.2 5.4z" fill="#0caf5a" stroke="#0caf5a" stroke-width="0.7" fill-rule="evenodd"/>
<path d="M1383.2 443.8l359.2 120.4 .7-6.6 -364.7-120.9 -.3 5.4z" fill="#02ae46" stroke="#02ae46" stroke-width="0.7" fill-rule="evenodd"/>
<path d="M1383.4 438.4l359.7 119.2 .7-6.5 -365.1-119.7 -.3 5.3z" fill="#0eaf37" stroke="#0eaf37" stroke-width="0.7" fill-rule="evenodd"/>
<path d="M1383.7 433l360.1 118.1 .7-6.5 -8.7-3 -356.9-115.6 -.2 5.4z" fill="#1fb12e" stroke="#1fb12e" stroke-width="0.7" fill-rule="evenodd"/>
<path d="M1382.4 427.1l362.1 117.5 .6-6.6 -365.9-117.4 -.3 5.4z" fill="#33b329" stroke="#33b329" stroke-width="0.7" fill-rule="evenodd"/>
<path d="M1384.2 422.2l360.9 115.8 .6-6.5 -366.2-116.3 -.3 5.4z" fill="#46b725" stroke="#46b725" stroke-width="0.7" fill-rule="evenodd"/>
<path d="M1384.5 416.8l361.2 114.7 .6-6.5 -366.6-115.3 -.2 5.5z" fill="#58bb21" stroke="#58bb21" stroke-width="0.7" fill-rule="evenodd"/>
<path d="M1384.8 411.4l361.5 113.6 .6-6.6 -366.9-114.1 -.3 5.4z" fill="#69bf1d" stroke="#69bf1d" stroke-width="0.7" fill-rule="evenodd"/>
<path d="M1385.1 405.9l361.8 112.5 .6-6.5 -367.2-113 -.3 5.4z" fill="#7ac418" stroke="#7ac418" stroke-width="0.7" fill-rule="evenodd"/>
<path d="M1385.3 400.5l362.2 111.4 .6-6.6 -367.6-111.8 -.2 5.4z" fill="#8cc715" stroke="#8cc715" stroke-width="0.7" fill-rule="evenodd"/>
<path d="M1385.6 395l362.5 110.3 .6-6.5 -367.9-110.8 -.3 5.5z" fill="#9dca12" stroke="#9dca12" stroke-width="0.7" fill-rule="evenodd"/>
<path d="M1381.9 388.4l366.8 110.4 .6-6.6 -368.2-109.6 -.3 5.4z" fill="#afcf0d" stroke="#afcf0d" stroke-width="0.7" fill-rule="evenodd"/>
<path d="M1386.2 384.1l363.1 108.1 .6-6.6 -368.5-108.5 -.3 5.5z" fill="#c2d705" stroke="#c2d705" stroke-width="0.7" fill-rule="evenodd"/>
<path d="M1386.4 378.7l363.5 106.9 .6-6.6 -368.9-107.3 -.2 5.4z" fill="#d4de00" stroke="#d4de00" stroke-width="0.7" fill-rule="evenodd"/>
<path d="M1386.7 373.2l363.8 105.8 .6-6.6 -7.7-2.4 -298.4-85.1 -63.1-18.7 -.3 5.5z" fill="#e3e300" stroke="#e3e300" stroke-width="0.7" fill-rule="evenodd"/>
<path d="M1387 367.7l364.1 104.7 .7-6.6 -306.5-86.6 -63.1-18.5 -.3 5.5z" fill="#ece700" stroke="#ece700" stroke-width="0.7" fill-rule="evenodd"/>
<path d="M1387.3 362.1l58 17.1 306.5 86.6 .8-6.7 -307-85.6 -63-18.2 -.4 5.4z" fill="#efe800" stroke="#efe800" stroke-width="0.7" fill-rule="evenodd"/>
<path d="M1387.6 356.7l58 16.8 307 85.6 .7-6.6 -305.4-84.1 -65-18.6 -.3 5.5z" fill="#f4e400" stroke="#f4e400" stroke-width="0.7" fill-rule="evenodd"/>
<path d="M1388 351.2l59.9 17.2 305.4 84.1 .7-6.7 -307.7-83.6 -63-17.9 -.4 5.5z" fill="#fcdb00" stroke="#fcdb00" stroke-width="0.7" fill-rule="evenodd"/>
<path d="M1388.3 345.7l58 16.5 307.7 83.6 .7-6.7 -308-82.6 -63.1-17.7 -.3 5.5z" fill="#ffcb07" stroke="#ffcb07" stroke-width="0.7" fill-rule="evenodd"/>
<path d="M1388.7 340.2l58 16.3 308 82.6 .8-6.6 -308.4-81.7 -63.1-17.5 -.4 5.5z" fill="#ffba0c" stroke="#ffba0c" stroke-width="0.7" fill-rule="evenodd"/>
<path d="M1389.1 334.7l58 16.1 308.4 81.7 .7-6.7 -308.7-80.8 -63.2-17.2 -.3 5.5z" fill="#ffa810" stroke="#ffa810" stroke-width="0.7" fill-rule="evenodd"/>
<path d="M1389.4 329.2l58.1 15.8 308.7 80.8 .7-6.6 -309-79.9 -63.2-17.1 -.4 5.6z" fill="#ff9914" stroke="#ff9914" stroke-width="0.7" fill-rule="evenodd"/>
<path d="M1389.8 323.6l58.1 15.7 309 79.9 .6-6.8 -309.3-78.8 -63.2-16.9 -.3 5.5z" fill="#ff8b18" stroke="#ff8b18" stroke-width="0.7" fill-rule="evenodd"/>
<path d="M1390.1 318.1l58.1 15.5 309.3 78.8 .7-6.7 -309.6-77.8 -63.2-16.8 -.4 5.6z" fill="#ff7b1b" stroke="#ff7b1b" stroke-width="0.7" fill-rule="evenodd"/>
<path d="M1390.5 312.5l58.1 15.4 309.6 77.8 .6-6.6 -169.5-42.7 -140.3-34.3 -63.2-16.5 -.4 5.5z" fill="#ff6b1e" stroke="#ff6b1e" stroke-width="0.7" fill-rule="evenodd"/>
<path d="M1390.9 307l58.1 15.1 140.3 34.3 169.5 42.7 .6-6.9 -169.5-42 -140.5-33.8 -63.1-16.3 -.5 5.5z" fill="#ff631f" stroke="#ff631f" stroke-width="0.7" fill-rule="evenodd"/>
<path d="M1391.3 301.4l58.1 15 140.5 33.8 169.5 42 1-6.6 -169.9-41.6 -140.7-33.4 -63.1-16.1 -.4 5.6z" fill="#ff5a20" stroke="#ff5a20" stroke-width="0.7" fill-rule="evenodd"/>
<path d="M1391.8 295.8l58 14.8 140.7 33.4 169.9 41.6 1.1-6.9 -95.7-23.3 -215.5-50.6 -63.2-15.9 -.4 5.6z" fill="#ff4e22" stroke="#ff4e22" stroke-width="0.7" fill-rule="evenodd"/>
<path d="M1392.2 290.2l58.1 14.6 215.5 50.6 95.7 23.3 1.1-6.9 -311.8-72.7 -63.3-15.7 -.4 5.5z" fill="#ff4623" stroke="#ff4623" stroke-width="0.7" fill-rule="evenodd"/>
<path d="M1392.6 284.6l58.2 14.5 187.9 43.3 115.8 27.8 8.1 1.6 .4-2.4 2.7-5 -17.8-2.9 -296.6-68.2 -63.3-15.5 -.5 5.6z" fill="#ff4224" stroke="#ff4224" stroke-width="0.7" fill-rule="evenodd"/>
<path d="M1393.1 279l58.2 14.3 304.4 70 10 1.1 4.3-7.7 -18.6-2.7 -61.5-12.9 -238.2-53.6 -63.3-15.3 -.4 5.6z" fill="#ff4224" stroke="#ff4224" stroke-width="0.7" fill-rule="evenodd"/>
<path d="M1393.5 273.4l58.2 14.1 238.2 53.6 69.8 14.5 10.3 1.1 .2-.5 -7.5-6.4 -8.1-3.5 -98.4-19.6 -204-45 -63.4-15.1 -.4 5.6z" fill="#ff4224" stroke="#ff4224" stroke-width="0.7" fill-rule="evenodd"/>
<path d="M1425.2 275.3l229.8 51.1 7.2 1 6 1.9 86.4 17 -29-10.9 -9.5-4.5 -83.6-16 -179.8-39 -63.4-14.9 -.5 5.6z" fill="#ff4224" stroke="#ff4224" stroke-width="0.7" fill-rule="evenodd"/>
<path d="M1394.4 262.2l58.3 13.7 179.8 39 83.6 16 -23.2-11.8 -69.9-12.8 -169.8-36.2 -63.5-14.7 -.4 5.6z" fill="#ff4123" stroke="#ff4123" stroke-width="0.7" fill-rule="evenodd"/>
<path d="M1394.8 256.6l58.4 13.5 169.8 36.2 69.9 12.8 -24-11.7 -67.5-12.2 -147.7-30.9 -63.6-14.5 -.4 5.6z" fill="#ff4123" stroke="#ff4123" stroke-width="0.7" fill-rule="evenodd"/>
<path d="M1395.3 251l58.4 13.3 147.7 30.9 69.2 12.6 -16.5-10.1 -71-12.7 -129-26.6 -63.5-14.2 -.5 5.6z" fill="#ff4123" stroke="#ff4123" stroke-width="0.7" fill-rule="evenodd"/>
<path d="M1395.7 245.3l58.4 13.1 129 26.6 71 12.7 -16-9.7 -72.9-13 -110.6-22.4 -63.6-14 -.4 5.6z" fill="#ff4123" stroke="#ff4123" stroke-width="0.7" fill-rule="evenodd"/>
<path d="M1416.9 244.3l37.7 8.3 110.6 22.4 72.9 13 -15.6-9.7 -75.3-13.3 -92.1-18.2 -63.6-13.8 -.5 5.6z" fill="#ff4123" stroke="#ff4123" stroke-width="0.7" fill-rule="evenodd"/>
<path d="M1396.6 234.1l58.5 12.7 92.1 18.2 75.3 13.3 -15.5-9.4 -77.3-13.4 -74.1-14.6 -63.7-13.6 -.4 5.7z" fill="#ff4123" stroke="#ff4123" stroke-width="0.7" fill-rule="evenodd"/>
<path d="M1397 228.4l58.6 12.5 74.1 14.6 77.3 13.4 -13.4-9 -63-10.6 -74.6-14.1 -63.7-13.2 -.4 5.3z" fill="#ff4123" stroke="#ff4123" stroke-width="0.7" fill-rule="evenodd"/>
<path d="M1397.4 223.1l58.6 12.1 74.6 14.1 63 10.6 -12.6-8.7 -94.8-16.3 -93.6-18.8 -.3 5.9z" fill="#ff4123" stroke="#ff4123" stroke-width="0.7" fill-rule="evenodd"/>
<path d="M1397.7 217.2l106.1 21 77.2 13 -12.5-8.6 -76.3-12.6 -99.3-19.5 -.3 5.6z" fill="#ff4022" stroke="#ff4022" stroke-width="0.7" fill-rule="evenodd"/>
<path d="M1398 211.5l98.7 19.3 71.8 11.8 -12.3-8.5 -70.2-11.3 -92.8-17.9 -.3 5.6z" fill="#ff4022" stroke="#ff4022" stroke-width="0.7" fill-rule="evenodd"/>
<path d="M1398.3 205.9l87.7 16.9 70.2 11.3 -12.1-8.3 -69-10.9 -81.6-15.7 -.3 5.7z" fill="#ff4022" stroke="#ff4022" stroke-width="0.7" fill-rule="evenodd"/>
<path d="M1398.6 200.2l77.2 14.8 68.3 10.8 -11.1-8.2 -67.4-10.3 -71.8-13.7 -.3 5.6z" fill="#ff4022" stroke="#ff4022" stroke-width="0.7" fill-rule="evenodd"/>
<path d="M1398.9 194.6l66.7 12.7 67.4 10.3 -8-7.4 -59.9-9 -71.1-13.2 -.2 5.6z" fill="#f73f22" stroke="#f73f22" stroke-width="0.7" fill-rule="evenodd"/>
<path d="M1399.2 188.9l65.9 12.3 59.9 9 -8-7.4 -58.2-8.6 -64.5-11.9 -.3 5.7z" fill="#e83b21" stroke="#e83b21" stroke-width="0.7" fill-rule="evenodd"/>
<path d="M1399.5 183.3l59.3 10.9 58.2 8.6 -7.9-7.4 -49.6-7.2 -64.8-11.6 -.4 5.7z" fill="#d73520" stroke="#d73520" stroke-width="0.7" fill-rule="evenodd"/>
<path d="M1399.9 177.6l59.6 10.6 49.6 7.2 -7.9-7.3 -41-5.8 -65-11.3 -.5 5.6z" fill="#c52f1f" stroke="#c52f1f" stroke-width="0.7" fill-rule="evenodd"/>
<path d="M1400.4 171.9l59.8 10.4 41 5.8 -7.7-7.2 -32.6-4.6 -65.2-11 -.5 5.7z" fill="#b22a1e" stroke="#b22a1e" stroke-width="0.7" fill-rule="evenodd"/>
<path d="M1400.9 166.2l60 10.1 32.6 4.6 -7.5-7.2 -24.4-3.3 -65.4-10.8 -.5 5.7z" fill="#a9281d" stroke="#a9281d" stroke-width="0.7" fill-rule="evenodd"/>
<path d="M1401.4 160.4l60.2 10 24.4 3.3 -7.3-7.1 -82-12.7 -.5 5.7z" fill="#a1271b" stroke="#a1271b" stroke-width="0.7" fill-rule="evenodd"/>
<path d="M1401.9 154.7l76.8 11.9 -7.3-7 -74.2-11.5 -.5 5.8z" fill="#99251a" stroke="#99251a" stroke-width="0.7" fill-rule="evenodd"/>
<path d="M1402.4 149l69 10.6 -7.3-7 -66.4-10.2 -.5 5.7z" fill="#902218" stroke="#902218" stroke-width="0.7" fill-rule="evenodd"/>
<path d="M1402.9 143.2l61.2 9.4 -6-3.2 -16.8-6.2 -43.2-6.5 -.4 5.7z" fill="#871f17" stroke="#871f17" stroke-width="0.7" fill-rule="evenodd"/>
<path d="M1400.6 137.1l40.7 6.1 -26.2-9.8 -16.5-2.4 -.5 5.7z" fill="#7e1c16" stroke="#7e1c16" stroke-width="0.7" fill-rule="evenodd"/>
<path d="M1404 131.7l11.1 1.7 -16.1-6 -.4 3.6z" fill="#761b15" stroke="#761b15" stroke-width="0.7" fill-rule="evenodd"/>
<path d="M1365.9 538.3l197.5 76.7 163.3 64.2" fill="none" stroke="#3a3a3a" stroke-width="0.9" stroke-opacity="0.75"/>
<path d="M1373.6 492l362.1 132" fill="none" stroke="#3a3a3a" stroke-width="0.9" stroke-opacity="0.75"/>
<path d="M1377.9 446.4l363.9 123" fill="none" stroke="#3a3a3a" stroke-width="0.9" stroke-opacity="0.75"/>
<path d="M1380.2 401.1l367.1 113.4" fill="none" stroke="#3a3a3a" stroke-width="0.9" stroke-opacity="0.75"/>
<path d="M1382.6 355.3l63 18.2 307 85.6" fill="none" stroke="#3a3a3a" stroke-width="0.9" stroke-opacity="0.75"/>
<path d="M1385.6 309l63.2 16.6 140.1 34.5 169.5 43" fill="none" stroke="#3a3a3a" stroke-width="0.9" stroke-opacity="0.75"/>
<path d="M1389.2 262.1l63.4 14.9 184.6 40.2 84.1 16.3" fill="none" stroke="#3a3a3a" stroke-width="0.9" stroke-opacity="0.75"/>
<path d="M1392.6 215l63.9 13.1 41.3 7.8 80.7 13.6" fill="none" stroke="#3a3a3a" stroke-width="0.9" stroke-opacity="0.75"/>
<path d="M1395.5 167.5l65.1 11.2 36 5" fill="none" stroke="#3a3a3a" stroke-width="0.9" stroke-opacity="0.75"/>
<defs><linearGradient id="cbB" x1="0" y1="0" x2="0" y2="1"><stop offset="0.0000" stop-color="#6a1812"/><stop offset="0.0280" stop-color="#7d1c16"/><stop offset="0.0610" stop-color="#962419"/><stop offset="0.1000" stop-color="#b02a1e"/><stop offset="0.1200" stop-color="#d0321f"/><stop offset="0.1430" stop-color="#f03e22"/><stop offset="0.1550" stop-color="#ff4022"/><stop offset="0.3450" stop-color="#ff4224"/><stop offset="0.3590" stop-color="#ff4a22"/><stop offset="0.3790" stop-color="#ff5e20"/><stop offset="0.4000" stop-color="#ff6c1e"/><stop offset="0.4220" stop-color="#ff8a18"/><stop offset="0.4480" stop-color="#ffaa10"/><stop offset="0.4680" stop-color="#ffc808"/><stop offset="0.4830" stop-color="#fcdc00"/><stop offset="0.5000" stop-color="#f0e800"/><stop offset="0.5240" stop-color="#eae600"/><stop offset="0.5450" stop-color="#d0dc00"/><stop offset="0.5700" stop-color="#a8cc10"/><stop offset="0.6000" stop-color="#7cc418"/><stop offset="0.6220" stop-color="#5cbc20"/><stop offset="0.6460" stop-color="#38b428"/><stop offset="0.6670" stop-color="#14b030"/><stop offset="0.6860" stop-color="#00ae48"/><stop offset="0.7000" stop-color="#10b060"/><stop offset="0.7140" stop-color="#40bc98"/><stop offset="0.7290" stop-color="#58c4bc"/><stop offset="0.7470" stop-color="#10bcd0"/><stop offset="0.7650" stop-color="#08a8dc"/><stop offset="0.7840" stop-color="#3a88c8"/><stop offset="0.8000" stop-color="#4a70b0"/><stop offset="0.8140" stop-color="#4a4c98"/><stop offset="0.8290" stop-color="#4a2a84"/><stop offset="0.8480" stop-color="#4e1e7c"/><stop offset="0.8690" stop-color="#561e7e"/><stop offset="0.9000" stop-color="#6a2080"/><stop offset="0.9280" stop-color="#78207e"/><stop offset="0.9590" stop-color="#84227f"/><stop offset="0.9890" stop-color="#8a2282"/><stop offset="1.0000" stop-color="#8c2284"/></linearGradient></defs>
<rect x="1991.0" y="77.0" width="48.5" height="5.3" fill="#fbf4f2"/>
<rect x="1991.0" y="82.3" width="48.5" height="472.2" fill="url(#cbB)"/>
<rect x="1991.0" y="554.5" width="48.5" height="5.5" fill="#14000e"/>
<rect x="1991.0" y="77.0" width="48.5" height="483.0" fill="none" stroke="#4a4a55" stroke-width="1.6"/>
<line x1="2039.5" y1="82.3" x2="2050.5" y2="82.3" stroke="#333" stroke-width="2"/>
<text transform="translate(2063.0,97.1) scale(1.05,1)" font-size="30.5" font-family="Liberation Sans, Arial, sans-serif" font-weight="bold" fill="#111">1.84</text>
<line x1="2039.5" y1="129.5" x2="2050.5" y2="129.5" stroke="#333" stroke-width="2"/>
<text transform="translate(2063.0,144.3) scale(1.05,1)" font-size="30.5" font-family="Liberation Sans, Arial, sans-serif" font-weight="bold" fill="#111">1.66</text>
<line x1="2039.5" y1="176.7" x2="2050.5" y2="176.7" stroke="#333" stroke-width="2"/>
<text transform="translate(2063.0,191.5) scale(1.05,1)" font-size="30.5" font-family="Liberation Sans, Arial, sans-serif" font-weight="bold" fill="#111">1.47</text>
<line x1="2039.5" y1="224.0" x2="2050.5" y2="224.0" stroke="#333" stroke-width="2"/>
<text transform="translate(2063.0,238.8) scale(1.05,1)" font-size="30.5" font-family="Liberation Sans, Arial, sans-serif" font-weight="bold" fill="#111">1.29</text>
<line x1="2039.5" y1="271.2" x2="2050.5" y2="271.2" stroke="#333" stroke-width="2"/>
<text transform="translate(2063.0,286.0) scale(1.05,1)" font-size="30.5" font-family="Liberation Sans, Arial, sans-serif" font-weight="bold" fill="#111">1.1</text>
<line x1="2039.5" y1="318.4" x2="2050.5" y2="318.4" stroke="#333" stroke-width="2"/>
<text transform="translate(2063.0,333.2) scale(1.05,1)" font-size="30.5" font-family="Liberation Sans, Arial, sans-serif" font-weight="bold" fill="#111">0.92</text>
<line x1="2039.5" y1="365.6" x2="2050.5" y2="365.6" stroke="#333" stroke-width="2"/>
<text transform="translate(2063.0,380.4) scale(1.05,1)" font-size="30.5" font-family="Liberation Sans, Arial, sans-serif" font-weight="bold" fill="#111">0.74</text>
<line x1="2039.5" y1="412.8" x2="2050.5" y2="412.8" stroke="#333" stroke-width="2"/>
<text transform="translate(2063.0,427.6) scale(1.05,1)" font-size="30.5" font-family="Liberation Sans, Arial, sans-serif" font-weight="bold" fill="#111">0.55</text>
<line x1="2039.5" y1="460.1" x2="2050.5" y2="460.1" stroke="#333" stroke-width="2"/>
<text transform="translate(2063.0,474.9) scale(1.05,1)" font-size="30.5" font-family="Liberation Sans, Arial, sans-serif" font-weight="bold" fill="#111">0.37</text>
<line x1="2039.5" y1="507.3" x2="2050.5" y2="507.3" stroke="#333" stroke-width="2"/>
<text transform="translate(2063.0,522.1) scale(1.05,1)" font-size="30.5" font-family="Liberation Sans, Arial, sans-serif" font-weight="bold" fill="#111">0.18</text>
<line x1="2039.5" y1="554.5" x2="2050.5" y2="554.5" stroke="#333" stroke-width="2"/>
<text transform="translate(2063.0,569.3) scale(1.05,1)" font-size="30.5" font-family="Liberation Sans, Arial, sans-serif" font-weight="bold" fill="#111">0</text></g>
<g><text x="24.3" y="873.5" font-size="84" font-family="Liberation Sans, Arial, sans-serif" font-weight="bold" fill="#0d0d0d">C</text>
<text transform="translate(893.0,858.3) scale(1.1,1)" font-size="37.5" font-family="Liberation Sans, Arial, sans-serif" font-weight="bold" fill="#111">30 s</text>
<text transform="translate(89.7,937) rotate(87) scale(0.985,1)" font-size="35" font-family="Liberation Sans, Arial, sans-serif" font-weight="bold" fill="#111">Photocurrent density / µA·cm<tspan font-size="21" dy="-13">-2</tspan></text>
<line x1="208.1" y1="1431.6" x2="188.0" y2="922.4" stroke="#2a2a2a" stroke-width="1.7"/>
<line x1="208.1" y1="1431.6" x2="566.0" y2="1593.7" stroke="#2a2a2a" stroke-width="1.5"/>
<line x1="566.0" y1="1593.7" x2="939.4" y2="1436.8" stroke="#2a2a2a" stroke-width="2.0"/>
<line x1="208.1" y1="1431.6" x2="197.6" y2="1434.8" stroke="#2a2a2a" stroke-width="1.7"/>
<text transform="translate(192.6,1451.8) rotate(0) scale(0.86,1)" font-size="37" text-anchor="end" font-family="Liberation Sans, Arial, sans-serif" font-weight="bold" fill="#111">0</text>
<line x1="201.7" y1="1269.1" x2="190.9" y2="1271.9" stroke="#2a2a2a" stroke-width="1.7"/>
<text transform="translate(185.9,1288.9) rotate(0) scale(0.86,1)" font-size="37" text-anchor="end" font-family="Liberation Sans, Arial, sans-serif" font-weight="bold" fill="#111">0.5</text>
<line x1="195.0" y1="1099.6" x2="183.9" y2="1101.7" stroke="#2a2a2a" stroke-width="1.7"/>
<text transform="translate(178.9,1118.7) rotate(0) scale(0.86,1)" font-size="37" text-anchor="end" font-family="Liberation Sans, Arial, sans-serif" font-weight="bold" fill="#111">1</text>
<line x1="188.0" y1="922.4" x2="176.7" y2="923.9" stroke="#2a2a2a" stroke-width="1.7"/>
<text transform="translate(171.7,940.9) rotate(0) scale(0.86,1)" font-size="37" text-anchor="end" font-family="Liberation Sans, Arial, sans-serif" font-weight="bold" fill="#111">1.5</text>
<line x1="238.6" y1="1445.4" x2="233.5" y2="1447.0" stroke="#2a2a2a" stroke-width="1.5"/>
<line x1="270.1" y1="1459.6" x2="261.6" y2="1462.4" stroke="#2a2a2a" stroke-width="1.5"/>
<text transform="matrix(3.4140,-1.1184,2.4806,1.1660,238.1,1477.3)" font-size="10" text-anchor="middle" font-family="Liberation Sans, Arial, sans-serif" font-weight="bold" fill="#111">200</text>
<line x1="302.7" y1="1474.4" x2="297.5" y2="1476.1" stroke="#2a2a2a" stroke-width="1.5"/>
<line x1="336.4" y1="1489.7" x2="327.8" y2="1492.6" stroke="#2a2a2a" stroke-width="1.5"/>
<text transform="matrix(3.4521,-1.1962,2.6582,1.2494,304.5,1508.5)" font-size="10" text-anchor="middle" font-family="Liberation Sans, Arial, sans-serif" font-weight="bold" fill="#111">400</text>
<line x1="371.3" y1="1505.5" x2="366.1" y2="1507.3" stroke="#2a2a2a" stroke-width="1.5"/>
<line x1="407.4" y1="1521.8" x2="398.7" y2="1525.0" stroke="#2a2a2a" stroke-width="1.5"/>
<text transform="matrix(3.4868,-1.2827,2.8555,1.3422,375.9,1542.0)" font-size="10" text-anchor="middle" font-family="Liberation Sans, Arial, sans-serif" font-weight="bold" fill="#111">600</text>
<line x1="444.9" y1="1538.8" x2="439.7" y2="1540.8" stroke="#2a2a2a" stroke-width="1.5"/>
<line x1="483.7" y1="1556.4" x2="475.0" y2="1559.8" stroke="#2a2a2a" stroke-width="1.5"/>
<text transform="matrix(3.5170,-1.3791,3.0757,1.4457,452.7,1578.1)" font-size="10" text-anchor="middle" font-family="Liberation Sans, Arial, sans-serif" font-weight="bold" fill="#111">800</text>
<line x1="524.1" y1="1574.7" x2="518.8" y2="1576.8" stroke="#2a2a2a" stroke-width="1.5"/>
<line x1="566.0" y1="1593.7" x2="557.2" y2="1597.4" stroke="#2a2a2a" stroke-width="1.5"/>
<text transform="matrix(3.5412,-1.4869,3.3223,1.5616,535.5,1617.1)" font-size="10" text-anchor="middle" font-family="Liberation Sans, Arial, sans-serif" font-weight="bold" fill="#111">1000</text>
<text transform="matrix(2.6062,1.3079,-3.4750,1.2491,252.5,1555.1)" font-size="10" text-anchor="middle" font-family="Liberation Sans, Arial, sans-serif" font-weight="bold" fill="#111">Potential / mV</text>
<line x1="576.6" y1="1589.2" x2="583.1" y2="1592.1" stroke="#2a2a2a" stroke-width="1.5"/>
<text transform="matrix(3.4485,1.5475,-3.4005,1.4739,602.6,1611.6)" font-size="10" text-anchor="middle" font-family="Liberation Sans, Arial, sans-serif" font-weight="bold" fill="#111">200</text>
<line x1="602.9" y1="1578.1" x2="608.0" y2="1580.4" stroke="#2a2a2a" stroke-width="1.5"/>
<line x1="628.6" y1="1567.4" x2="635.0" y2="1570.1" stroke="#2a2a2a" stroke-width="1.5"/>
<text transform="matrix(3.4532,1.4810,-3.2578,1.4120,655.2,1588.9)" font-size="10" text-anchor="middle" font-family="Liberation Sans, Arial, sans-serif" font-weight="bold" fill="#111">250</text>
<line x1="653.8" y1="1556.8" x2="658.9" y2="1558.9" stroke="#2a2a2a" stroke-width="1.5"/>
<line x1="678.5" y1="1546.4" x2="684.9" y2="1549.1" stroke="#2a2a2a" stroke-width="1.5"/>
<text transform="matrix(3.4544,1.4186,-3.1238,1.3540,705.6,1567.0)" font-size="10" text-anchor="middle" font-family="Liberation Sans, Arial, sans-serif" font-weight="bold" fill="#111">300</text>
<line x1="702.6" y1="1536.3" x2="707.8" y2="1538.3" stroke="#2a2a2a" stroke-width="1.5"/>
<line x1="726.3" y1="1526.3" x2="732.8" y2="1528.9" stroke="#2a2a2a" stroke-width="1.5"/>
<text transform="matrix(3.4528,1.3600,-2.9980,1.2994,753.9,1546.1)" font-size="10" text-anchor="middle" font-family="Liberation Sans, Arial, sans-serif" font-weight="bold" fill="#111">350</text>
<line x1="749.5" y1="1516.6" x2="754.7" y2="1518.6" stroke="#2a2a2a" stroke-width="1.5"/>
<line x1="772.3" y1="1507.0" x2="778.7" y2="1509.5" stroke="#2a2a2a" stroke-width="1.5"/>
<text transform="matrix(3.4485,1.3049,-2.8796,1.2481,800.2,1526.0)" font-size="10" text-anchor="middle" font-family="Liberation Sans, Arial, sans-serif" font-weight="bold" fill="#111">400</text>
<line x1="794.6" y1="1497.7" x2="799.7" y2="1499.6" stroke="#2a2a2a" stroke-width="1.5"/>
<line x1="816.5" y1="1488.5" x2="822.9" y2="1490.8" stroke="#2a2a2a" stroke-width="1.5"/>
<text transform="matrix(3.4419,1.2530,-2.7681,1.1998,844.8,1506.7)" font-size="10" text-anchor="middle" font-family="Liberation Sans, Arial, sans-serif" font-weight="bold" fill="#111">450</text>
<line x1="838.0" y1="1479.5" x2="843.1" y2="1481.3" stroke="#2a2a2a" stroke-width="1.5"/>
<line x1="859.0" y1="1470.6" x2="865.4" y2="1472.9" stroke="#2a2a2a" stroke-width="1.5"/>
<text transform="matrix(3.4332,1.2041,-2.6629,1.1542,887.6,1488.1)" font-size="10" text-anchor="middle" font-family="Liberation Sans, Arial, sans-serif" font-weight="bold" fill="#111">500</text>
<line x1="879.7" y1="1461.9" x2="884.8" y2="1463.7" stroke="#2a2a2a" stroke-width="1.5"/>
<line x1="900.0" y1="1453.4" x2="906.4" y2="1455.6" stroke="#2a2a2a" stroke-width="1.5"/>
<text transform="matrix(3.4228,1.1579,-2.5636,1.1112,928.8,1470.3)" font-size="10" text-anchor="middle" font-family="Liberation Sans, Arial, sans-serif" font-weight="bold" fill="#111">550</text>
<line x1="919.9" y1="1445.0" x2="925.0" y2="1446.7" stroke="#2a2a2a" stroke-width="1.5"/>
<line x1="939.4" y1="1436.8" x2="945.8" y2="1438.9" stroke="#2a2a2a" stroke-width="1.5"/>
<text transform="matrix(3.4108,1.1144,-2.4698,1.0705,968.5,1453.1)" font-size="10" text-anchor="middle" font-family="Liberation Sans, Arial, sans-serif" font-weight="bold" fill="#111">600</text>
<text transform="matrix(2.7822,-1.2629,3.4694,1.3221,870.6,1551.0)" font-size="10" text-anchor="middle" font-family="Liberation Sans, Arial, sans-serif" font-weight="bold" fill="#111">Wavelength / nm</text>
<path d="M859.3 1453.4l81-32.4 -110.7-36.5 3.3 22.6 1.3 4.4z" fill="#7d2077" stroke="#7d2077" stroke-width="0.7" fill-rule="evenodd"/>
<path d="M668.5 1439.5l111.6 40.6 3.2 3.4 76-30.1 -25.1-41.9 -1.3-4.4 -3.3-22.6 -232.6-79.4 -47.4 31.9 .3 14.7 -1.3 4.2 -32.1 27.3 9.5 4.1z" fill="#7b2076" stroke="#7b2076" stroke-width="0.7" fill-rule="evenodd"/>
<path d="M776 1475.8l4.1 4.3 -254.1-92.8 -9.5-4.1 32.1-27.3 1.3-4.2 -.3-14.7 47.4-31.9 -22.1-8 -161.5 46.3 -.9-1.4z" fill="#761f76" stroke="#761f76" stroke-width="0.7" fill-rule="evenodd"/>
<path d="M750.3 1463.6l21.7 7.9 4 4.3 -363.5-133.8 -2.8-4.4 218.1 81.3z" fill="#721e75" stroke="#721e75" stroke-width="0.7" fill-rule="evenodd"/>
<path d="M717.9 1449l50 18.2 4.1 4.3 -144.2-52.6 -218.1-81.3 -2.9-4.4z" fill="#6d1e76" stroke="#6d1e76" stroke-width="0.7" fill-rule="evenodd"/>
<path d="M727.9 1449.8l36.2 13.4 3.8 4 -143.6-52.6 -217.5-81.4 -2.8-4.4 213.9 80.6z" fill="#681e76" stroke="#681e76" stroke-width="0.7" fill-rule="evenodd"/>
<path d="M719.5 1441.8l43.4 15.4 1.2 6 -313.3-116.5 -46.8-17.9 -2.9-4.4 191 72.6z" fill="#621e77" stroke="#621e77" stroke-width="0.7" fill-rule="evenodd"/>
<path d="M754.5 1449l7.3 2.6 1.1 5.6 -170.8-60.2 -191-72.6 -2.9-4.5 107.7 41.3z" fill="#5b1d76" stroke="#5b1d76" stroke-width="0.7" fill-rule="evenodd"/>
<path d="M675.5 1415.9l85.3 30 1 5.7 -255.9-90.4 -107.7-41.3 -2.9-4.4 36.1 14.5 38.9 13z" fill="#541c76" stroke="#541c76" stroke-width="0.7" fill-rule="evenodd"/>
<path d="M695.2 1417.7l64.6 22.6 1 5.6 -290.5-102.9 -38.9-13 -36.1-14.5 -2.2-4.2z" fill="#4e1c75" stroke="#4e1c75" stroke-width="0.7" fill-rule="evenodd"/>
<path d="M708.2 1417l50.5 17.6 1.1 5.7 -366.7-129 -1-5.5z" fill="#4a1c74" stroke="#4a1c74" stroke-width="0.7" fill-rule="evenodd"/>
<path d="M721.4 1416.3l36.3 12.6 1 5.7 -366.6-128.8 -.9-5.1z" fill="#472177" stroke="#472177" stroke-width="0.7" fill-rule="evenodd"/>
<path d="M727.5 1413.2l29.1 10 1.1 5.7 -366.5-128.2 -.9-5.1z" fill="#452a7d" stroke="#452a7d" stroke-width="0.7" fill-rule="evenodd"/>
<path d="M733.6 1410l22 7.5 1 5.7 -366.3-127.6 -.9-5.1z" fill="#45448c" stroke="#45448c" stroke-width="0.7" fill-rule="evenodd"/>
<path d="M732.6 1404.3l21.9 7.5 1.1 5.7 -366.2-127 -.9-5.1z" fill="#45609e" stroke="#45609e" stroke-width="0.7" fill-rule="evenodd"/>
<path d="M731.5 1398.6l22 7.4 1 5.8 -366-126.4 -.9-5.1z" fill="#3d74af" stroke="#3d74af" stroke-width="0.7" fill-rule="evenodd"/>
<path d="M723.2 1390.5l29.3 10.1 1 5.4 -365.9-125.7 -.9-5.2z" fill="#2c85be" stroke="#2c85be" stroke-width="0.7" fill-rule="evenodd"/>
<path d="M686.9 1372.7l65.1 21.5 .5 6.4 -365.8-125.5 -.9-5.1 280.2 96.4z" fill="#0e98ca" stroke="#0e98ca" stroke-width="0.7" fill-rule="evenodd"/>
<path d="M693.5 1369.1l58.1 19.1 .4 6 -86-27.8 -280.2-96.4 -.9-5.2 198.8 67.9 14.9 5.8z" fill="#0ba6c7" stroke="#0ba6c7" stroke-width="0.7" fill-rule="evenodd"/>
<path d="M693.1 1363.2l58.1 18.9 .4 6.1 -131.5-43.3 -21.5-6.4 -14.9-5.8 -198.8-67.9 -.9-5.1 159.6 54.3 16.2 6.3 16 4.4z" fill="#1ab0be" stroke="#1ab0be" stroke-width="0.7" fill-rule="evenodd"/>
<path d="M692.7 1357.2l58.1 18.9 .4 6 -175.4-57.4 -16-4.4 -16.2-6.3 -159.6-54.3 -.9-5.2 126.8 43 12.4 5 16.8 4.6z" fill="#46b5b2" stroke="#46b5b2" stroke-width="0.7" fill-rule="evenodd"/>
<path d="M692.3 1351.3l58.2 18.7 .3 6.1 -211.7-69 -16.8-4.6 -12.4-5 -126.8-43 -.9-5.2 100.2 33.8 9.6 4 16.6 4.6z" fill="#45b29b" stroke="#45b29b" stroke-width="0.7" fill-rule="evenodd"/>
<path d="M691.9 1345.3l58.2 18.6 .4 6.1 -241.9-78.3 -16.6-4.6 -9.6-4 -100.2-33.8 -.9-5.2 73.5 24.6 13.5 5.3 14.8 4z" fill="#29aa78" stroke="#29aa78" stroke-width="0.7" fill-rule="evenodd"/>
<path d="M749.7 1357.8l.4 6.1 -267-85.9 -14.8-4 -13.5-5.3 -73.5-24.6 -1-5.1 38.5 13 9.1 3.7 30.4 8.9z" fill="#0ba354" stroke="#0ba354" stroke-width="0.7" fill-rule="evenodd"/>
<path d="M749.3 1351.7l.4 6.1 -291.4-93.2 -30.4-8.9 -9.1-3.7 -38.5-13 -.9-5.3 31.6 11.2 44.8 13.5z" fill="#01a241" stroke="#01a241" stroke-width="0.7" fill-rule="evenodd"/>
<path d="M741.5 1343.2l7.4 2.3 .4 6.2 -293.5-93.3 -50.2-15.2 -26.2-9.5 -.9-5.2 10.5 4.3 16.5 4.4z" fill="#0da333" stroke="#0da333" stroke-width="0.7" fill-rule="evenodd"/>
<path d="M733.7 1334.8l14.8 4.6 .4 6.1 -343.4-108.3 -16.5-4.4 -10.5-4.3 -.6-4.8z" fill="#1da52a" stroke="#1da52a" stroke-width="0.7" fill-rule="evenodd"/>
<path d="M725.9 1326.4l22.2 6.8 .4 6.2 -370.6-115.7 -.5-5.8z" fill="#30a726" stroke="#30a726" stroke-width="0.7" fill-rule="evenodd"/>
<path d="M718.2 1318l29.5 9.1 .4 6.1 -370.7-115.3 -.5-5.4z" fill="#41aa22" stroke="#41aa22" stroke-width="0.7" fill-rule="evenodd"/>
<path d="M710.5 1309.7l36.8 11.2 .4 6.2 -370.8-114.6 -.4-5.4z" fill="#51ae1f" stroke="#51ae1f" stroke-width="0.7" fill-rule="evenodd"/>
<path d="M739.4 1312.5l7.5 2.2 .4 6.2 -370.8-113.8 -.5-5.4z" fill="#62b21b" stroke="#62b21b" stroke-width="0.7" fill-rule="evenodd"/>
<path d="M731.6 1304l14.9 4.5 .4 6.2 -370.9-113 -.5-5.4z" fill="#72b617" stroke="#72b617" stroke-width="0.7" fill-rule="evenodd"/>
<path d="M716.4 1293.5l29.7 8.8 .4 6.2 -371-112.2 -.4-5.4z" fill="#82b914" stroke="#82b914" stroke-width="0.7" fill-rule="evenodd"/>
<path d="M745.7 1296l.4 6.3 -371-111.4 -.5-5.4z" fill="#92bc11" stroke="#92bc11" stroke-width="0.7" fill-rule="evenodd"/>
<path d="M730.3 1285.4l14.9 4.4 .5 6.2 -371.1-110.5 -.5-5.4z" fill="#a3c00c" stroke="#a3c00c" stroke-width="0.7" fill-rule="evenodd"/>
<path d="M722.5 1277.1l22.3 6.4 .4 6.3 -371.1-109.7 -.4-5.4z" fill="#b5c705" stroke="#b5c705" stroke-width="0.7" fill-rule="evenodd"/>
<path d="M736.9 1275.1l7.5 2.2 .4 6.2 -371.1-108.8 -.5-5.5 220.6 64.8z" fill="#c5ce00" stroke="#c5ce00" stroke-width="0.7" fill-rule="evenodd"/>
<path d="M729 1266.7l15 4.3 .4 6.3 -150.6-43.3 -220.6-64.8 -.5-5.4z" fill="#d3d300" stroke="#d3d300" stroke-width="0.7" fill-rule="evenodd"/>
<path d="M743.6 1264.7l.4 6.3 -371.3-107.2 -.4-5.5z" fill="#dbd600" stroke="#dbd600" stroke-width="0.7" fill-rule="evenodd"/>
<path d="M728.2 1254.2l15 4.1 .4 6.4 -371.3-106.4 -.5-5.4z" fill="#ded700" stroke="#ded700" stroke-width="0.7" fill-rule="evenodd"/>
<path d="M713 1243.8l29.8 8.2 .4 6.3 -371.4-105.4 -.5-5.5 220.9 62.9z" fill="#e3d400" stroke="#e3d400" stroke-width="0.7" fill-rule="evenodd"/>
<path d="M735 1243.6l7.5 2 .3 6.4 -150.6-41.7 -220.9-62.9 -.5-5.5 263.6 74.2z" fill="#ebcc00" stroke="#ebcc00" stroke-width="0.7" fill-rule="evenodd"/>
<path d="M719.7 1233.1l22.5 6.1 .3 6.4 -108.1-29.5 -263.6-74.2 -.5-5.5 236.6 66.1z" fill="#edbd06" stroke="#edbd06" stroke-width="0.7" fill-rule="evenodd"/>
<path d="M734.3 1230.8l7.5 2 .4 6.4 -135.3-36.7 -236.6-66.1 -.5-5.5 222.3 61.6z" fill="#edad0b" stroke="#edad0b" stroke-width="0.7" fill-rule="evenodd"/>
<path d="M726.4 1222.4l15.1 4 .3 6.4 -149.7-40.3 -222.3-61.6 -.5-5.5 218.7 60.1z" fill="#ed9c0f" stroke="#ed9c0f" stroke-width="0.7" fill-rule="evenodd"/>
<path d="M733.6 1218l7.5 2 .4 6.4 -153.5-40.9 -218.7-60.1 -.5-5.5 47 13.3z" fill="#ed8f13" stroke="#ed8f13" stroke-width="0.7" fill-rule="evenodd"/>
<path d="M740.8 1213.6l.3 6.4 -157.1-41.6 -215.2-58.5 -.5-5.5 153.4 41.5z" fill="#ed8116" stroke="#ed8116" stroke-width="0.7" fill-rule="evenodd"/>
<path d="M725.3 1203.2l15.1 3.9 .4 6.5 -219.1-57.7 -153.4-41.5 -.5-5.6 221.1 59.2z" fill="#ed7219" stroke="#ed7219" stroke-width="0.7" fill-rule="evenodd"/>
<path d="M732.5 1198.7l7.6 2 .3 6.4 -151.5-39.1 -221.1-59.2 -.5-5.5 216.5 57.2z" fill="#ed641c" stroke="#ed641c" stroke-width="0.7" fill-rule="evenodd"/>
<path d="M739.7 1194.2l.4 6.5 -156.3-40.2 -216.5-57.2 -.5-5.5 223.7 58.4z" fill="#ed5c1d" stroke="#ed5c1d" stroke-width="0.7" fill-rule="evenodd"/>
<path d="M739.4 1187.7l.3 6.5 -149.2-38 -223.7-58.4 -.5-5.6 219.1 56.8z" fill="#ed541e" stroke="#ed541e" stroke-width="0.7" fill-rule="evenodd"/>
<path d="M739 1181.2l.4 6.5 -154-38.7 -219.1-56.8 -.5-5.6 47.3 12.7z" fill="#ed491f" stroke="#ed491f" stroke-width="0.7" fill-rule="evenodd"/>
<path d="M738.7 1174.7l.3 6.5 -325.9-81.9 -47.3-12.7 -.6-5.6 46.9 12.5z" fill="#ed4121" stroke="#ed4121" stroke-width="0.7" fill-rule="evenodd"/>
<path d="M730.7 1166.2l7.6 1.9 .4 6.6 -326.6-81.2 -46.9-12.5 -.5-5.6 46.3 12.2z" fill="#ed3d21" stroke="#ed3d21" stroke-width="0.7" fill-rule="evenodd"/>
<path d="M711.9 1157.3l26.2 10.1 .2 .7 -327.3-80.5 -46.3-12.2 -.5-5.6 46.6 12.2 289.6 70.3z" fill="#ed3d21" stroke="#ed3d21" stroke-width="0.7" fill-rule="evenodd"/>
<path d="M674.6 1142.2l35.9 14.5 -10.1-4.4 -289.6-70.3 -46.6-12.2 -.5-5.6 46.9 12.1 246 59.4 6.9 1.8z" fill="#ed3d21" stroke="#ed3d21" stroke-width="0.7" fill-rule="evenodd"/>
<path d="M645.5 1129.5l26.6 11.7 -8.6-3.7 -6.9-1.8 -246-59.4 -46.9-12.1 -.5-5.6 47 12 29.9 6.7 145.5 35.5 49.5 11.2z" fill="#ed3d21" stroke="#ed3d21" stroke-width="0.7" fill-rule="evenodd"/>
<path d="M617.2 1115.7l24.7 12 -6.8-3.7 -49.5-11.2 -145.5-35.5 -29.9-6.7 -47-12 -.5-5.6 46.9 11.8 197.6 46.6 4.1 1.2z" fill="#ed3d21" stroke="#ed3d21" stroke-width="0.7" fill-rule="evenodd"/>
<path d="M596.3 1105.6l20.5 10 -5.5-3 -4.1-1.2 -197.6-46.6 -46.9-11.8 -.6-5.7 46.8 11.7 177.5 41.6z" fill="#ed3d21" stroke="#ed3d21" stroke-width="0.7" fill-rule="evenodd"/>
<path d="M575.8 1094.9l16.5 8.8 -5.9-3.1 -177.5-41.6 -46.8-11.7 -.5-5.5 204.9 47.8 3.8 1.1z" fill="#ed3d21" stroke="#ed3d21" stroke-width="0.7" fill-rule="evenodd"/>
<path d="M562.3 1086.2l10.4 6.8 -2.4-2.3 -3.8-1.1 -204.9-47.8 -.5-5.8 46.1 11.1 143.4 32.9 2.5 0z" fill="#ed3d21" stroke="#ed3d21" stroke-width="0.7" fill-rule="evenodd"/>
<path d="M549 1077.6l8.9 5.8 -4.8-3.4 -2.5 0 -143.4-32.9 -46.1-11.1 -.4-5.7 179.1 40.9z" fill="#ed3c20" stroke="#ed3c20" stroke-width="0.7" fill-rule="evenodd"/>
<path d="M529.2 1064.9l14 9 -3.4-2.7 -179.1-40.9 -.5-5.7 163.5 37.1 2.3 .6z" fill="#ed3c20" stroke="#ed3c20" stroke-width="0.7" fill-rule="evenodd"/>
<path d="M516.2 1056.5l12.5 8.1 -2.7-2.3 -2.3-.6 -163.5-37.1 -.5-5.7 150.9 33.9z" fill="#ed3c20" stroke="#ed3c20" stroke-width="0.7" fill-rule="evenodd"/>
<path d="M503.3 1048.2l11.1 7.1 -3.8-2.5 -150.9-33.9 -.5-5.7 135.9 30 3.3 .9z" fill="#ed3c20" stroke="#ed3c20" stroke-width="0.7" fill-rule="evenodd"/>
<path d="M490.6 1038.8l9.7 7.5 -1.9-2.2 -3.3-.9 -135.9-30 -.4-5.7 129.4 28.4z" fill="#ed3c20" stroke="#ed3c20" stroke-width="0.7" fill-rule="evenodd"/>
<path d="M484.3 1033.7l5 4.1 -1.1-1.9 -129.4-28.4 -.5-5.7 46.4 10.5 69.8 14.6 1.7-.2z" fill="#ed3c20" stroke="#ed3c20" stroke-width="0.7" fill-rule="evenodd"/>
<path d="M471.7 1023.4l7.6 6.2 -1.3-1.9 -1.8-1 -1.7 .2 -69.8-14.6 -46.4-10.5 -.5-5.7 110.2 23.5z" fill="#ed3c20" stroke="#ed3c20" stroke-width="0.7" fill-rule="evenodd"/>
<path d="M465.5 1018.3l3.8 3.2 -1.3-1.9 -2.8-.7 -107.4-22.8 -.5-5.8 100.2 20.8z" fill="#ed3c20" stroke="#ed3c20" stroke-width="0.7" fill-rule="evenodd"/>
<path d="M453.1 1008.3l6.3 5.1 -1.9-2.3 -100.2-20.8 -.4-5.8 46.8 10.4 42.9 8.3 1.5 .3z" fill="#e63b20" stroke="#e63b20" stroke-width="0.7" fill-rule="evenodd"/>
<path d="M440.8 998.3l8.8 7.1 -1.5-1.9 -1.5-.3 -42.9-8.3 -46.8-10.4 -.5-5.7 44.9 9.6 29.7 5.4 7.3 1.8z" fill="#d7371f" stroke="#d7371f" stroke-width="0.7" fill-rule="evenodd"/>
<path d="M434.7 993.3l5.1 4.2 -1.5-1.9 -7.3-1.8 -29.7-5.4 -44.9-9.6 -.5-5.8 47.5 10.2 18 2.8 7.6 2.5z" fill="#c8311d" stroke="#c8311d" stroke-width="0.7" fill-rule="evenodd"/>
<path d="M416.7 982.2l13.5 7.4 -1.2-1.1 -7.6-2.5 -18-2.8 -47.5-10.2 -.5-5.8 48.1 9.9z" fill="#b72c1d" stroke="#b72c1d" stroke-width="0.7" fill-rule="evenodd"/>
<path d="M398.9 973.8l13.7 6.5 -9.1-3.2 -48.1-9.9 -.5-5.8 41.4 8.4 .2 1.9z" fill="#a5281c" stroke="#a5281c" stroke-width="0.7" fill-rule="evenodd"/>
<path d="M393 967.9l3.5 3.8 -.2-1.9 -41.4-8.4 -.4-5.8 35.2 7 -.1 1.6z" fill="#9d261b" stroke="#9d261b" stroke-width="0.7" fill-rule="evenodd"/>
<path d="M387.1 961.4l2.5 2.8 .1-1.6 -35.2-7 -.5-5.8 29.1 5.7 0 1.5z" fill="#962419" stroke="#962419" stroke-width="0.7" fill-rule="evenodd"/>
<path d="M381.3 955l1.8 2 0-1.5 -29.1-5.7 -.5-5.8 23.1 4.5 .1 1.5z" fill="#8e2218" stroke="#8e2218" stroke-width="0.7" fill-rule="evenodd"/>
<path d="M375.4 948.6l1.3 1.4 -.1-1.5 -23.1-4.5 -.5-5.9 17.1 3.3 .1 1.5z" fill="#862017" stroke="#862017" stroke-width="0.7" fill-rule="evenodd"/>
<path d="M369.6 942.2l.6 .7 -.1-1.5 -17.1-3.3 -.5-5.8 11.2 2.1 .1 1.5z" fill="#7e1d16" stroke="#7e1d16" stroke-width="0.7" fill-rule="evenodd"/>
<path d="M358.1 929.6l5.7 6.3 -.6-1.6 -10.7-2 -.5-5.9 5.2 1z" fill="#751a15" stroke="#751a15" stroke-width="0.7" fill-rule="evenodd"/>
<path d="M352.3 923.3l5.2 5.6 -.3-1.5 -5.2-1 -.4-5.1 -.7-.6z" fill="#6e1913" stroke="#6e1913" stroke-width="0.7" fill-rule="evenodd"/>
<path d="M351.1 921.9l-.2-1.2 -4.3-3.7z" fill="#661712" stroke="#661712" stroke-width="0.7" fill-rule="evenodd"/>
<path d="M763.5 1460.5l-85.1-29.7 -275.6-103.8" fill="none" stroke="#3a3a3a" stroke-width="0.9" stroke-opacity="0.75"/>
<path d="M754.7 1412.9l-149.3-51.1 -216.7-75.4" fill="none" stroke="#3a3a3a" stroke-width="0.9" stroke-opacity="0.75"/>
<path d="M750 1362.7l-271.9-87.4 -15.7-4.2 -17.7-6.6 -63.6-21.4" fill="none" stroke="#3a3a3a" stroke-width="0.9" stroke-opacity="0.75"/>
<path d="M746.6 1311l-370.9-112.5" fill="none" stroke="#3a3a3a" stroke-width="0.9" stroke-opacity="0.75"/>
<path d="M743.2 1258.3l-148.1-41.5 -223.3-63.9" fill="none" stroke="#3a3a3a" stroke-width="0.9" stroke-opacity="0.75"/>
<path d="M740.3 1204.5l-158.6-41 -214.1-56.9" fill="none" stroke="#3a3a3a" stroke-width="0.9" stroke-opacity="0.75"/>
<path d="M646.9 1130.2l-5.3-3 -6.4-1.8 -271.9-65.7" fill="none" stroke="#3a3a3a" stroke-width="0.9" stroke-opacity="0.75"/>
<path d="M497.6 1044.5l-1.3-2.1 -1.3-.5 -59.6-13.3 -28.7-5.4 -47.5-11.1" fill="none" stroke="#3a3a3a" stroke-width="0.9" stroke-opacity="0.75"/>
<path d="M400.4 974.5l-1.1-.2 -.3-1.5 -1.2-1.2 -1.1 .5 -41.6-8.4" fill="none" stroke="#3a3a3a" stroke-width="0.9" stroke-opacity="0.75"/>
<path d="M404.9 1520.8l57.6 27.5 67.6 29.1 6.1 .5 2.2-.8 -3.7-4.3 -16.5-10.1 -29.7-14.9 -26.5-11.7 -26.8-10.6 -20.7-6.7 -9-1.6 -1.9 .4 -1.9 1.7zM290.6 1462.3l52.2 22.4 30.1 10.9 5.9 .6 -3.7-3.3 -18-11.1 38.3 13.3 9.1 2.4 3.8 .1 -2.6-3.1 -4.9-3.3 -23.6-12.7 -23.8-11 -35.5-14.4 -26.4-9.3 -6.3-1.3 -2.4 .5 2.1 2.7 10.8 7.8 -54.3-20.7 -10.7-3.3 -2.9 .2 3.5 3.1 12.8 7.2z" fill="#10000e" stroke="#10000e" stroke-width="0.7" fill-rule="evenodd"/>
<path d="M213.2 1433.9l188.5 85.4 1.9-1.7 2.8-.4 16.3 4 25.7 9.4 33.5 14.2 40.4 20.2 12.4 7.8 3.7 3.8 -1.4 1.2 -6.9-.4 35.9 16.3 57-25.4 10.6-9.3 -390.8-143.7 -6.7 5.3 -12.4 5.9 -15.6 5.1zM287.8 1461l-43.7-21 -12.8-7.2 -3.5-3.1 2.9-.2 10.7 3.3 54.3 20.7 -10.8-7.8 -2.1-2.7 2.4-.5 6.3 1.3 26.4 9.3 35.5 14.4 23.8 11 23.6 12.7 4.9 3.3 2.6 3.1 -3.8-.1 -9.1-2.4 -38.3-13.3 18 11.1 3.7 3.3 -5.9-.6 -36.2-13.4z" fill="#8b2283" stroke="#8b2283" stroke-width="0.7" fill-rule="evenodd"/>
<path d="M246.7 1416.7l386.9 142.3 14.8-12.4 -56.3-18.2 -57.6-19.9 -285.4-100.7 -2.7 4.3 -3.6 3.2z" fill="#892281" stroke="#892281" stroke-width="0.7" fill-rule="evenodd"/>
<path d="M250.3 1408.3l284.2 100.2 57.6 19.9 56.3 18.2 13.3-8.9 6-5.4 -221.9-66.8 -85.7-27.8 -106.9-36.7 -4.1 6.8z" fill="#862280" stroke="#862280" stroke-width="0.7" fill-rule="evenodd"/>
<path d="M254 1401.3l106.1 36.4 85.7 27.8 221.9 66.8 8.4-9.6 -36.2-12.6 -41-13.2 -206.4-59.4 -49.4-15.3 -85.8-28 -4.1 6.8z" fill="#84227f" stroke="#84227f" stroke-width="0.7" fill-rule="evenodd"/>
<path d="M257.9 1394.5l85.2 27.7 49.4 15.3 206.4 59.4 41 13.2 36.2 12.6 3.1-7.5 -116.7-41.3 -76-25.2 -59.4-13.3 -71.8-19.1 -94.1-28.8 -3.9 6.7z" fill="#7f217f" stroke="#7f217f" stroke-width="0.7" fill-rule="evenodd"/>
<path d="M262.6 1388l92.7 28.3 71.8 19.1 62.9 14.3 80.6 27 108.6 38.5 3-7.4 -163.9-59.3 -58.5-19.6 -32.7-10 -30.4-8.2 -37.8-4.8 -93.7-25.1 -4 6.7z" fill="#7b207e" stroke="#7b207e" stroke-width="0.7" fill-rule="evenodd"/>
<path d="M267.1 1381.4l91.8 24.5 37.8 4.8 30.4 8.2 32.7 10 58.5 19.6 163.9 59.3 2.6-7.2 -188-68.4 -145-50.1 -13-2.2 -14-1.3 -27.9 .4 -24.7-5.8 -7 7.6z" fill="#75207e" stroke="#75207e" stroke-width="0.7" fill-rule="evenodd"/>
<path d="M272.8 1373.3l24.1 5.7 27.9-.4 14 1.3 13 2.2 145 50.1 188 68.4 1.5-4.1 .7-3 -326.1-118.3 -23.6-8.4 -30.2-9.4 -4.7 3.4 -26.4 8.8 -3.8 3.6z" fill="#6f207f" stroke="#6f207f" stroke-width="0.7" fill-rule="evenodd"/>
<path d="M310 1358.2l50.9 17 326.1 118.3 1.4-6.8 -327.3-118 -50.4-17.8 -1.5 4.8 -2.1 1.7z" fill="#692080" stroke="#692080" stroke-width="0.7" fill-rule="evenodd"/>
<path d="M316.2 1352.8l372.2 133.9 1.5-6.8 -377.6-135 -1.6 6z" fill="#621f7f" stroke="#621f7f" stroke-width="0.7" fill-rule="evenodd"/>
<path d="M317.7 1346.9l372.2 133 1.5-6.8 -377.6-134.1 -1.5 5.9z" fill="#5a1e7e" stroke="#5a1e7e" stroke-width="0.7" fill-rule="evenodd"/>
<path d="M314.7 1339.3l376.7 133.8 1.5-6.8 -378-133.1 -1.1 5.8z" fill="#541e7d" stroke="#541e7d" stroke-width="0.7" fill-rule="evenodd"/>
<path d="M320.3 1335.1l372.6 131.2 1.2-6.7 -378.4-132.1 -.8 5.7z" fill="#4f1e7c" stroke="#4f1e7c" stroke-width="0.7" fill-rule="evenodd"/>
<path d="M320 1329l374.1 130.6 .9-6.7 -378.4-131.1 -.9 5.7z" fill="#4c2480" stroke="#4c2480" stroke-width="0.7" fill-rule="evenodd"/>
<path d="M317.3 1322l377.7 130.9 1-6.6 -378.5-130.3 -.9 5.8z" fill="#4a2e86" stroke="#4a2e86" stroke-width="0.7" fill-rule="evenodd"/>
<path d="M323 1317.8l373 128.5 .9-6.6 -378.2-129.5 -1.2 5.8z" fill="#4a4996" stroke="#4a4996" stroke-width="0.7" fill-rule="evenodd"/>
<path d="M324.2 1312.1l372.7 127.6 1-6.7 -378-128.6 -1.2 5.8z" fill="#4a67aa" stroke="#4a67aa" stroke-width="0.7" fill-rule="evenodd"/>
<path d="M325.3 1306.2l372.6 126.8 .9-6.6 -377.8-127.5 -1.1 5.5z" fill="#427cbc" stroke="#427cbc" stroke-width="0.7" fill-rule="evenodd"/>
<path d="M325.7 1300.2l373.1 126.2 .9-6.6 -378.1-126.9 -.6 6z" fill="#2f8fcc" stroke="#2f8fcc" stroke-width="0.7" fill-rule="evenodd"/>
<path d="M327 1294.7l372.7 125.1 1-6.7 -378.6-125.8 -.5 5.6z" fill="#10a3d9" stroke="#10a3d9" stroke-width="0.7" fill-rule="evenodd"/>
<path d="M327.5 1289.1l373.2 124 .9-6.6 -379-124.9 -.5 5.7z" fill="#0cb2d6" stroke="#0cb2d6" stroke-width="0.7" fill-rule="evenodd"/>
<path d="M328.1 1283.4l373.5 123.1 .9-6.7 -379.4-123.9 -.5 5.7z" fill="#1cbdcd" stroke="#1cbdcd" stroke-width="0.7" fill-rule="evenodd"/>
<path d="M328.6 1277.7l373.9 122.1 1-6.7 -379.9-122.8 -.5 5.6z" fill="#4bc3bf" stroke="#4bc3bf" stroke-width="0.7" fill-rule="evenodd"/>
<path d="M324.6 1270.6l378.9 122.5 .9-6.7 -15.1-4.9 -365.2-116.9 -.5 5.7z" fill="#4abfa7" stroke="#4abfa7" stroke-width="0.7" fill-rule="evenodd"/>
<path d="M329.6 1266.5l374.8 119.9 1-6.7 -380.8-120.7 -.5 5.6z" fill="#2db781" stroke="#2db781" stroke-width="0.7" fill-rule="evenodd"/>
<path d="M330.1 1260.7l375.3 119 1.1-6.7 -381.5-119.7 -.4 5.7z" fill="#0caf5a" stroke="#0caf5a" stroke-width="0.7" fill-rule="evenodd"/>
<path d="M329.7 1254.8l376.8 118.2 1-6.7 -382.1-118.7 -.4 5.7z" fill="#02ae46" stroke="#02ae46" stroke-width="0.7" fill-rule="evenodd"/>
<path d="M327.1 1248.1l380.4 118.2 1.1-6.8 -73.9-23 -308.9-94.5 -.4 5.6z" fill="#0eaf37" stroke="#0eaf37" stroke-width="0.7" fill-rule="evenodd"/>
<path d="M331.3 1243.6l226.9 69.2 150.4 46.7 1-6.7 -150.5-46.3 -232.9-70.2 -.4 5.7z" fill="#1fb12e" stroke="#1fb12e" stroke-width="0.7" fill-rule="evenodd"/>
<path d="M331.8 1237.9l227.3 68.6 150.5 46.3 1.1-6.8 -150.8-45.9 -233.3-69.5 -.4 5.7z" fill="#33b329" stroke="#33b329" stroke-width="0.7" fill-rule="evenodd"/>
<path d="M332.2 1232.2l232.1 69.3 146.4 44.5 1-6.8 -384.6-114.3 -.5 5.7z" fill="#46b725" stroke="#46b725" stroke-width="0.7" fill-rule="evenodd"/>
<path d="M331.9 1226.3l379.8 112.9 1.1-6.7 -385.3-113.3 -.4 5.7z" fill="#57bb21" stroke="#57bb21" stroke-width="0.7" fill-rule="evenodd"/>
<path d="M329.5 1219.8l383.3 112.7 1-6.6 -15.3-4.7 -370.6-107.7 -.4 5.7z" fill="#69bf1d" stroke="#69bf1d" stroke-width="0.7" fill-rule="evenodd"/>
<path d="M333.5 1215.1l380.3 110.8 .9-6.9 -386.4-111.2 -.4 5.7z" fill="#7ac418" stroke="#7ac418" stroke-width="0.7" fill-rule="evenodd"/>
<path d="M333.8 1209.4l380.9 109.6 .8-6.7 -386.9-110.2 -.3 5.7z" fill="#8cc715" stroke="#8cc715" stroke-width="0.7" fill-rule="evenodd"/>
<path d="M334.2 1203.7l381.3 108.6 .9-6.8 -387.4-109.1 -.4 5.7z" fill="#9dca12" stroke="#9dca12" stroke-width="0.7" fill-rule="evenodd"/>
<path d="M334.6 1198l381.8 107.5 .8-6.7 -387.8-108.1 -.4 5.7z" fill="#afcf0d" stroke="#afcf0d" stroke-width="0.7" fill-rule="evenodd"/>
<path d="M335 1192.2l382.2 106.6 .8-6.7 -388.2-107.1 -.4 5.7z" fill="#c2d705" stroke="#c2d705" stroke-width="0.7" fill-rule="evenodd"/>
<path d="M335.1 1186.4l382.9 105.7 .9-6.8 -388.7-106.1 -.4 5.8z" fill="#d4de00" stroke="#d4de00" stroke-width="0.7" fill-rule="evenodd"/>
<path d="M333.9 1180.2l385 105.1 .8-6.7 -389.1-105.1 -.4 5.7z" fill="#e3e300" stroke="#e3e300" stroke-width="0.7" fill-rule="evenodd"/>
<path d="M332.6 1174.1l387.1 104.5 .9-6.8 -45.7-12.3 -343.9-91.7 -.4 5.7z" fill="#ece700" stroke="#ece700" stroke-width="0.7" fill-rule="evenodd"/>
<path d="M331.4 1167.9l389.2 103.9 .8-6.8 -7.7-2 -382.4-101z" fill="#efe800" stroke="#efe800" stroke-width="0.7" fill-rule="evenodd"/>
<path d="M337 1163.6l384.4 101.4 .8-6.7 -390.5-102 -.4 5.7z" fill="#f4e400" stroke="#f4e400" stroke-width="0.7" fill-rule="evenodd"/>
<path d="M337.3 1157.7l384.9 100.6 .6-6.7 -390.7-101.1 -.4 5.8z" fill="#fcdb00" stroke="#fcdb00" stroke-width="0.7" fill-rule="evenodd"/>
<path d="M337.7 1152l385.1 99.6 .6-6.7 -391-100.1 -.3 5.7z" fill="#ffcb07" stroke="#ffcb07" stroke-width="0.7" fill-rule="evenodd"/>
<path d="M338.1 1146.2l385.3 98.7 .6-6.8 -167.9-43.1 -223.3-56 -.4 5.8z" fill="#ffba0c" stroke="#ffba0c" stroke-width="0.7" fill-rule="evenodd"/>
<path d="M338.5 1140.4l217.6 54.6 167.9 43.1 .7-6.7 -126.4-32.3 -265.1-65.9 -.4 5.8z" fill="#ffa810" stroke="#ffa810" stroke-width="0.7" fill-rule="evenodd"/>
<path d="M338.8 1134.6l259.5 64.5 126.4 32.3 .6-6.8 -83.2-21.3 -308.6-75.8 -.3 5.7z" fill="#ff9914" stroke="#ff9914" stroke-width="0.7" fill-rule="evenodd"/>
<path d="M339.2 1128.8l302.9 74.5 83.2 21.3 .6-6.7 -392-96.2 -.4 5.8z" fill="#ff8b18" stroke="#ff8b18" stroke-width="0.7" fill-rule="evenodd"/>
<path d="M339.3 1123l386.6 94.9 .7-7 -7.8-2.2 -384.5-92.8 -.4 5.8z" fill="#ff7b1b" stroke="#ff7b1b" stroke-width="0.7" fill-rule="evenodd"/>
<path d="M338.8 1117l387.8 93.9 .8-6.6 -154-37.6 -238.8-56.6 -.3 5.8z" fill="#ff6b1e" stroke="#ff6b1e" stroke-width="0.7" fill-rule="evenodd"/>
<path d="M338.4 1111l235 55.7 154 37.6 .9-6.9 -154.1-37.1 -239.2-56 -.4 5.8z" fill="#ff631f" stroke="#ff631f" stroke-width="0.7" fill-rule="evenodd"/>
<path d="M338 1105l236.2 55.3 154.1 37.1 1-7 -83.1-19.8 -310.8-72.1 -.4 5.8z" fill="#ff5a20" stroke="#ff5a20" stroke-width="0.7" fill-rule="evenodd"/>
<path d="M337.7 1099l237.2 54.8 154.4 36.6 1.2-6.9 -76-17.8 -318.8-73 -.3 5.8z" fill="#ff4e22" stroke="#ff4e22" stroke-width="0.7" fill-rule="evenodd"/>
<path d="M337.3 1093l238.3 54.3 154.9 36.2 1.2-6.9 -7.9-2 -387.7-87.8 -.4 5.9z" fill="#ff4623" stroke="#ff4623" stroke-width="0.7" fill-rule="evenodd"/>
<path d="M337 1087l394.7 89.6 2.2-7.3 -397.4-88.3 -.4 5.8z" fill="#ff4224" stroke="#ff4224" stroke-width="0.7" fill-rule="evenodd"/>
<path d="M336.7 1081.1l389.2 86.5 8 1.7 .9-2.8 -24.3-9.8 -373.7-81.5z" fill="#ff4224" stroke="#ff4224" stroke-width="0.7" fill-rule="evenodd"/>
<path d="M342.6 1076.4l367.9 80.3 -38.4-15.5 -334.9-71.9 -.4 5.9z" fill="#ff4224" stroke="#ff4224" stroke-width="0.7" fill-rule="evenodd"/>
<path d="M343 1070.6l329.1 70.6 -30.2-13.5 -304.3-64.1 -.4 5.7z" fill="#ff4224" stroke="#ff4224" stroke-width="0.7" fill-rule="evenodd"/>
<path d="M343.3 1064.8l298.6 62.9 -25.1-12.1 -278.9-57.9 -.3 5.9z" fill="#ff4123" stroke="#ff4123" stroke-width="0.7" fill-rule="evenodd"/>
<path d="M343.6 1058.9l273.2 56.7 -24.5-11.9 -63.1-12.4 -191-39.5 -.3 5.9z" fill="#ff4123" stroke="#ff4123" stroke-width="0.7" fill-rule="evenodd"/>
<path d="M338.2 1051.8l191 39.5 63.1 12.4 -9.7-4.8 -9.9-5.9 -60.2-11.6 -174-35.4z" fill="#ff4123" stroke="#ff4123" stroke-width="0.7" fill-rule="evenodd"/>
<path d="M339.4 1046.2l173.1 35.2 60.2 11.6 -14.8-9.6 -219.1-43.3 -.3 5.9z" fill="#ff4123" stroke="#ff4123" stroke-width="0.7" fill-rule="evenodd"/>
<path d="M340.6 1040.5l217.3 42.9 -14.7-9.5 -204.1-39.7 -.3 5.9z" fill="#ff4123" stroke="#ff4123" stroke-width="0.7" fill-rule="evenodd"/>
<path d="M341.7 1034.7l201.5 39.2 -14.5-9.3 -63.3-11.6 -126-24.6 -.3 5.8z" fill="#ff4123" stroke="#ff4123" stroke-width="0.7" fill-rule="evenodd"/>
<path d="M342.8 1029l185.9 35.6 -14.3-9.3 -60-10.7 -114.7-22.1 -.3 5.9z" fill="#ff4123" stroke="#ff4123" stroke-width="0.7" fill-rule="evenodd"/>
<path d="M343.9 1023.3l110.5 21.3 60 10.7 -14.1-9 -160.3-29.7 -.3 5.9z" fill="#ff4123" stroke="#ff4123" stroke-width="0.7" fill-rule="evenodd"/>
<path d="M344.9 1017.5l155.4 28.8 -11-8.5 -149-27.1 -.3 5.9z" fill="#ff4022" stroke="#ff4022" stroke-width="0.7" fill-rule="evenodd"/>
<path d="M345.9 1011.7l143.4 26.1 -10-8.2 -138.7-24.8 -.3 5.9z" fill="#ff4022" stroke="#ff4022" stroke-width="0.7" fill-rule="evenodd"/>
<path d="M346.4 1005.9l132.9 23.7 -10-8.1 -128.4-22.6 -.3 5.9z" fill="#ff4022" stroke="#ff4022" stroke-width="0.7" fill-rule="evenodd"/>
<path d="M346.7 999.9l122.6 21.6 -9.9-8.1 -118.2-20.4 -.3 5.9z" fill="#ff4022" stroke="#ff4022" stroke-width="0.7" fill-rule="evenodd"/>
<path d="M347.1 994l112.3 19.4 -9.8-8 -108.1-18.3 -.3 5.9z" fill="#f73f22" stroke="#f73f22" stroke-width="0.7" fill-rule="evenodd"/>
<path d="M347.4 988.1l102.2 17.3 -9.8-7.9 -98-16.4 -.3 6z" fill="#e83b21" stroke="#e83b21" stroke-width="0.7" fill-rule="evenodd"/>
<path d="M342.5 981.3l97.3 16.2 -9.6-7.9 -32.4-5.6 -55.7-8.8 -.3 5.9z" fill="#d73520" stroke="#d73520" stroke-width="0.7" fill-rule="evenodd"/>
<path d="M343.5 975.4l86.7 14.2 -17.6-9.3 -14.1-2.4 -56.1-8.6 -.3 5.9z" fill="#c52f1f" stroke="#c52f1f" stroke-width="0.7" fill-rule="evenodd"/>
<path d="M344.5 969.6l68.1 10.7 -13.7-6.5 -2.4-2.1 -53.8-8.6 -.3 6.2z" fill="#b22a1e" stroke="#b22a1e" stroke-width="0.7" fill-rule="evenodd"/>
<path d="M344.4 963.6l52.1 8.1 -6.9-7.5 -46.4-6.9 -.5 5.8z" fill="#a9281d" stroke="#a9281d" stroke-width="0.7" fill-rule="evenodd"/>
<path d="M348.6 958.1l41 6.1 -6.5-7.2 -39.4-5.7 -.5 6z" fill="#a1271b" stroke="#a1271b" stroke-width="0.7" fill-rule="evenodd"/>
<path d="M347.2 951.8l35.9 5.2 -6.4-7 -32.5-4.7 -.5 6z" fill="#99251a" stroke="#99251a" stroke-width="0.7" fill-rule="evenodd"/>
<path d="M345.8 945.6l30.9 4.4 -6.5-7.1 -25.5-3.6 -.5 6z" fill="#902218" stroke="#902218" stroke-width="0.7" fill-rule="evenodd"/>
<path d="M349.8 940.1l20.4 2.8 -6.4-7 -18.6-2.6 -.5 6z" fill="#871f17" stroke="#871f17" stroke-width="0.7" fill-rule="evenodd"/>
<path d="M348.5 933.8l15.3 2.1 -6.3-7 -11.8-1.6 -.5 6z" fill="#7e1c16" stroke="#7e1c16" stroke-width="0.7" fill-rule="evenodd"/>
<path d="M347.2 927.5l10.3 1.4 -6.4-7 -4.9-.6 -.5 6z" fill="#761b15" stroke="#761b15" stroke-width="0.7" fill-rule="evenodd"/>
<path d="M351.1 921.9l-4.5-4.9 -.4 4.3z" fill="#6e1913" stroke="#6e1913" stroke-width="0.7" fill-rule="evenodd"/>
<path d="M309.7 1354.4l377.9 136.4" fill="none" stroke="#3a3a3a" stroke-width="0.9" stroke-opacity="0.75"/>
<path d="M319.7 1305.5l378 128.9" fill="none" stroke="#3a3a3a" stroke-width="0.9" stroke-opacity="0.75"/>
<path d="M324.6 1257.8l231.2 72.7 149.8 47.9" fill="none" stroke="#3a3a3a" stroke-width="0.9" stroke-opacity="0.75"/>
<path d="M328.1 1210.1l386.2 111.6" fill="none" stroke="#3a3a3a" stroke-width="0.9" stroke-opacity="0.75"/>
<path d="M331.3 1162l390.1 103" fill="none" stroke="#3a3a3a" stroke-width="0.9" stroke-opacity="0.75"/>
<path d="M334.4 1113.6l238.6 57 153.8 37.5" fill="none" stroke="#3a3a3a" stroke-width="0.9" stroke-opacity="0.75"/>
<path d="M337.5 1064.7l237.5 50.7 71.9 14.8" fill="none" stroke="#3a3a3a" stroke-width="0.9" stroke-opacity="0.75"/>
<path d="M340 1015.4l100.9 19.1 56.7 10" fill="none" stroke="#3a3a3a" stroke-width="0.9" stroke-opacity="0.75"/>
<path d="M342.6 965.4l57.8 9.1" fill="none" stroke="#3a3a3a" stroke-width="0.9" stroke-opacity="0.75"/>
<defs><linearGradient id="cbC" x1="0" y1="0" x2="0" y2="1"><stop offset="0.0000" stop-color="#6a1812"/><stop offset="0.0280" stop-color="#7d1c16"/><stop offset="0.0610" stop-color="#962419"/><stop offset="0.1000" stop-color="#b02a1e"/><stop offset="0.1200" stop-color="#d0321f"/><stop offset="0.1430" stop-color="#f03e22"/><stop offset="0.1550" stop-color="#ff4022"/><stop offset="0.3450" stop-color="#ff4224"/><stop offset="0.3590" stop-color="#ff4a22"/><stop offset="0.3790" stop-color="#ff5e20"/><stop offset="0.4000" stop-color="#ff6c1e"/><stop offset="0.4220" stop-color="#ff8a18"/><stop offset="0.4480" stop-color="#ffaa10"/><stop offset="0.4680" stop-color="#ffc808"/><stop offset="0.4830" stop-color="#fcdc00"/><stop offset="0.5000" stop-color="#f0e800"/><stop offset="0.5240" stop-color="#eae600"/><stop offset="0.5450" stop-color="#d0dc00"/><stop offset="0.5700" stop-color="#a8cc10"/><stop offset="0.6000" stop-color="#7cc418"/><stop offset="0.6220" stop-color="#5cbc20"/><stop offset="0.6460" stop-color="#38b428"/><stop offset="0.6670" stop-color="#14b030"/><stop offset="0.6860" stop-color="#00ae48"/><stop offset="0.7000" stop-color="#10b060"/><stop offset="0.7140" stop-color="#40bc98"/><stop offset="0.7290" stop-color="#58c4bc"/><stop offset="0.7470" stop-color="#10bcd0"/><stop offset="0.7650" stop-color="#08a8dc"/><stop offset="0.7840" stop-color="#3a88c8"/><stop offset="0.8000" stop-color="#4a70b0"/><stop offset="0.8140" stop-color="#4a4c98"/><stop offset="0.8290" stop-color="#4a2a84"/><stop offset="0.8480" stop-color="#4e1e7c"/><stop offset="0.8690" stop-color="#561e7e"/><stop offset="0.9000" stop-color="#6a2080"/><stop offset="0.9280" stop-color="#78207e"/><stop offset="0.9590" stop-color="#84227f"/><stop offset="0.9890" stop-color="#8a2282"/><stop offset="1.0000" stop-color="#8c2284"/></linearGradient></defs>
<rect x="894.5" y="888.3" width="48.8" height="5.0" fill="#fbf4f2"/>
<rect x="894.5" y="893.3" width="48.8" height="480.4" fill="url(#cbC)"/>
<rect x="894.5" y="1373.7" width="48.8" height="5.1" fill="#14000e"/>
<rect x="894.5" y="888.3" width="48.8" height="490.5" fill="none" stroke="#4a4a55" stroke-width="1.6"/>
<line x1="943.3" y1="893.3" x2="954.3" y2="893.3" stroke="#333" stroke-width="2"/>
<text transform="translate(966.5,905.2) scale(1.05,1)" font-size="30.5" font-family="Liberation Sans, Arial, sans-serif" font-weight="bold" fill="#111">1.46</text>
<line x1="943.3" y1="941.3" x2="954.3" y2="941.3" stroke="#333" stroke-width="2"/>
<text transform="translate(966.5,953.2) scale(1.05,1)" font-size="30.5" font-family="Liberation Sans, Arial, sans-serif" font-weight="bold" fill="#111">1.31</text>
<line x1="943.3" y1="989.4" x2="954.3" y2="989.4" stroke="#333" stroke-width="2"/>
<text transform="translate(966.5,1001.3) scale(1.05,1)" font-size="30.5" font-family="Liberation Sans, Arial, sans-serif" font-weight="bold" fill="#111">1.17</text>
<line x1="943.3" y1="1037.4" x2="954.3" y2="1037.4" stroke="#333" stroke-width="2"/>
<text transform="translate(966.5,1049.3) scale(1.05,1)" font-size="30.5" font-family="Liberation Sans, Arial, sans-serif" font-weight="bold" fill="#111">1.02</text>
<line x1="943.3" y1="1085.5" x2="954.3" y2="1085.5" stroke="#333" stroke-width="2"/>
<text transform="translate(966.5,1097.4) scale(1.05,1)" font-size="30.5" font-family="Liberation Sans, Arial, sans-serif" font-weight="bold" fill="#111">0.88</text>
<line x1="943.3" y1="1133.5" x2="954.3" y2="1133.5" stroke="#333" stroke-width="2"/>
<text transform="translate(966.5,1145.4) scale(1.05,1)" font-size="30.5" font-family="Liberation Sans, Arial, sans-serif" font-weight="bold" fill="#111">0.73</text>
<line x1="943.3" y1="1181.5" x2="954.3" y2="1181.5" stroke="#333" stroke-width="2"/>
<text transform="translate(966.5,1193.4) scale(1.05,1)" font-size="30.5" font-family="Liberation Sans, Arial, sans-serif" font-weight="bold" fill="#111">0.58</text>
<line x1="943.3" y1="1229.6" x2="954.3" y2="1229.6" stroke="#333" stroke-width="2"/>
<text transform="translate(966.5,1241.5) scale(1.05,1)" font-size="30.5" font-family="Liberation Sans, Arial, sans-serif" font-weight="bold" fill="#111">0.44</text>
<line x1="943.3" y1="1277.6" x2="954.3" y2="1277.6" stroke="#333" stroke-width="2"/>
<text transform="translate(966.5,1289.5) scale(1.05,1)" font-size="30.5" font-family="Liberation Sans, Arial, sans-serif" font-weight="bold" fill="#111">0.29</text>
<line x1="943.3" y1="1325.7" x2="954.3" y2="1325.7" stroke="#333" stroke-width="2"/>
<text transform="translate(966.5,1337.6) scale(1.05,1)" font-size="30.5" font-family="Liberation Sans, Arial, sans-serif" font-weight="bold" fill="#111">0.15</text>
<line x1="943.3" y1="1373.7" x2="954.3" y2="1373.7" stroke="#333" stroke-width="2"/>
<text transform="translate(966.5,1385.6) scale(1.05,1)" font-size="30.5" font-family="Liberation Sans, Arial, sans-serif" font-weight="bold" fill="#111">0</text></g>
<g><text x="1086.9" y="874" font-size="84" font-family="Liberation Sans, Arial, sans-serif" font-weight="bold" fill="#0d0d0d">D</text>
<text transform="translate(1980.7,868.2) scale(1.11,1)" font-size="37.5" font-family="Liberation Sans, Arial, sans-serif" font-weight="bold" fill="#111">60 s</text>
<text transform="translate(1148.2,932.6) rotate(87) scale(0.985,1)" font-size="35" font-family="Liberation Sans, Arial, sans-serif" font-weight="bold" fill="#111">Photocurrent density / µA·cm<tspan font-size="21" dy="-13">-2</tspan></text>
<line x1="1310.6" y1="1413.7" x2="1288.4" y2="914.1" stroke="#2a2a2a" stroke-width="1.7"/>
<line x1="1310.6" y1="1413.7" x2="1609.4" y2="1591.5" stroke="#2a2a2a" stroke-width="1.5"/>
<line x1="1609.4" y1="1591.5" x2="2032.8" y2="1452.1" stroke="#2a2a2a" stroke-width="2.0"/>
<line x1="1310.6" y1="1413.7" x2="1300.5" y2="1416.4" stroke="#2a2a2a" stroke-width="1.7"/>
<text transform="translate(1295.5,1433.4) rotate(-4) scale(0.86,1)" font-size="37" text-anchor="end" font-family="Liberation Sans, Arial, sans-serif" font-weight="bold" fill="#111">0</text>
<line x1="1305.3" y1="1295.1" x2="1295.1" y2="1297.6" stroke="#2a2a2a" stroke-width="1.7"/>
<text transform="translate(1290.1,1314.6) rotate(-4) scale(0.86,1)" font-size="37" text-anchor="end" font-family="Liberation Sans, Arial, sans-serif" font-weight="bold" fill="#111">0.025</text>
<line x1="1299.9" y1="1172.4" x2="1289.5" y2="1174.8" stroke="#2a2a2a" stroke-width="1.7"/>
<text transform="translate(1284.5,1191.8) rotate(-4) scale(0.86,1)" font-size="37" text-anchor="end" font-family="Liberation Sans, Arial, sans-serif" font-weight="bold" fill="#111">0.05</text>
<line x1="1294.3" y1="1045.5" x2="1283.7" y2="1047.6" stroke="#2a2a2a" stroke-width="1.7"/>
<text transform="translate(1278.7,1064.6) rotate(-4) scale(0.86,1)" font-size="37" text-anchor="end" font-family="Liberation Sans, Arial, sans-serif" font-weight="bold" fill="#111">0.075</text>
<line x1="1288.4" y1="914.1" x2="1277.7" y2="916.0" stroke="#2a2a2a" stroke-width="1.7"/>
<text transform="translate(1272.7,933.0) rotate(-4) scale(0.86,1)" font-size="37" text-anchor="end" font-family="Liberation Sans, Arial, sans-serif" font-weight="bold" fill="#111">0.1</text>
<line x1="1335.2" y1="1428.3" x2="1330.3" y2="1429.7" stroke="#2a2a2a" stroke-width="1.5"/>
<line x1="1360.8" y1="1443.6" x2="1352.5" y2="1445.9" stroke="#2a2a2a" stroke-width="1.5"/>
<text transform="matrix(3.2743,-0.9237,1.9860,1.2417,1324.2,1460.4)" font-size="10" text-anchor="middle" font-family="Liberation Sans, Arial, sans-serif" font-weight="bold" fill="#111">200</text>
<line x1="1387.4" y1="1459.4" x2="1382.4" y2="1460.9" stroke="#2a2a2a" stroke-width="1.5"/>
<line x1="1415.2" y1="1475.9" x2="1406.7" y2="1478.4" stroke="#2a2a2a" stroke-width="1.5"/>
<text transform="matrix(3.3752,-0.9855,2.1564,1.3483,1377.9,1493.9)" font-size="10" text-anchor="middle" font-family="Liberation Sans, Arial, sans-serif" font-weight="bold" fill="#111">400</text>
<line x1="1444.1" y1="1493.1" x2="1438.9" y2="1494.7" stroke="#2a2a2a" stroke-width="1.5"/>
<line x1="1474.3" y1="1511.1" x2="1465.5" y2="1513.7" stroke="#2a2a2a" stroke-width="1.5"/>
<text transform="matrix(3.4816,-1.0547,2.3497,1.4691,1436.3,1530.4)" font-size="10" text-anchor="middle" font-family="Liberation Sans, Arial, sans-serif" font-weight="bold" fill="#111">600</text>
<line x1="1505.8" y1="1529.8" x2="1500.5" y2="1531.5" stroke="#2a2a2a" stroke-width="1.5"/>
<line x1="1538.8" y1="1549.5" x2="1529.7" y2="1552.3" stroke="#2a2a2a" stroke-width="1.5"/>
<text transform="matrix(3.5938,-1.1329,2.5703,1.6070,1500.1,1570.3)" font-size="10" text-anchor="middle" font-family="Liberation Sans, Arial, sans-serif" font-weight="bold" fill="#111">800</text>
<line x1="1573.3" y1="1570.0" x2="1567.8" y2="1571.7" stroke="#2a2a2a" stroke-width="1.5"/>
<line x1="1609.4" y1="1591.5" x2="1600.1" y2="1594.5" stroke="#2a2a2a" stroke-width="1.5"/>
<text transform="matrix(3.7120,-1.2215,2.8234,1.7653,1570.1,1614.1)" font-size="10" text-anchor="middle" font-family="Liberation Sans, Arial, sans-serif" font-weight="bold" fill="#111">1000</text>
<text transform="matrix(2.0663,1.4023,-3.3622,1.0033,1318.2,1536.0)" font-size="10" text-anchor="middle" font-family="Liberation Sans, Arial, sans-serif" font-weight="bold" fill="#111">Potential / mV</text>
<line x1="1620.7" y1="1587.7" x2="1626.3" y2="1591.0" stroke="#2a2a2a" stroke-width="1.5"/>
<text transform="matrix(3.0126,1.7720,-3.6623,1.2273,1637.9,1610.0)" font-size="10" text-anchor="middle" font-family="Liberation Sans, Arial, sans-serif" font-weight="bold" fill="#111">200</text>
<line x1="1648.8" y1="1578.5" x2="1653.4" y2="1581.1" stroke="#2a2a2a" stroke-width="1.5"/>
<line x1="1676.6" y1="1569.4" x2="1682.3" y2="1572.5" stroke="#2a2a2a" stroke-width="1.5"/>
<text transform="matrix(3.0810,1.7149,-3.5728,1.1973,1694.7,1590.9)" font-size="10" text-anchor="middle" font-family="Liberation Sans, Arial, sans-serif" font-weight="bold" fill="#111">250</text>
<line x1="1704.0" y1="1560.3" x2="1708.6" y2="1562.8" stroke="#2a2a2a" stroke-width="1.5"/>
<line x1="1731.1" y1="1551.4" x2="1737.0" y2="1554.5" stroke="#2a2a2a" stroke-width="1.5"/>
<text transform="matrix(3.1452,1.6601,-3.4866,1.1684,1750.2,1572.3)" font-size="10" text-anchor="middle" font-family="Liberation Sans, Arial, sans-serif" font-weight="bold" fill="#111">300</text>
<line x1="1757.9" y1="1542.6" x2="1762.6" y2="1545.0" stroke="#2a2a2a" stroke-width="1.5"/>
<line x1="1784.4" y1="1533.9" x2="1790.3" y2="1536.9" stroke="#2a2a2a" stroke-width="1.5"/>
<text transform="matrix(3.2054,1.6073,-3.4034,1.1405,1804.4,1554.2)" font-size="10" text-anchor="middle" font-family="Liberation Sans, Arial, sans-serif" font-weight="bold" fill="#111">350</text>
<line x1="1810.5" y1="1525.3" x2="1815.3" y2="1527.6" stroke="#2a2a2a" stroke-width="1.5"/>
<line x1="1836.4" y1="1516.8" x2="1842.4" y2="1519.7" stroke="#2a2a2a" stroke-width="1.5"/>
<text transform="matrix(3.2619,1.5566,-3.3232,1.1137,1857.3,1536.5)" font-size="10" text-anchor="middle" font-family="Liberation Sans, Arial, sans-serif" font-weight="bold" fill="#111">400</text>
<line x1="1861.9" y1="1508.4" x2="1866.8" y2="1510.6" stroke="#2a2a2a" stroke-width="1.5"/>
<line x1="1887.2" y1="1500.1" x2="1893.3" y2="1502.9" stroke="#2a2a2a" stroke-width="1.5"/>
<text transform="matrix(3.3149,1.5078,-3.2458,1.0877,1908.9,1519.2)" font-size="10" text-anchor="middle" font-family="Liberation Sans, Arial, sans-serif" font-weight="bold" fill="#111">450</text>
<line x1="1912.1" y1="1491.8" x2="1917.1" y2="1494.0" stroke="#2a2a2a" stroke-width="1.5"/>
<line x1="1936.8" y1="1483.7" x2="1943.1" y2="1486.4" stroke="#2a2a2a" stroke-width="1.5"/>
<text transform="matrix(3.3646,1.4608,-3.1710,1.0627,1959.3,1502.3)" font-size="10" text-anchor="middle" font-family="Liberation Sans, Arial, sans-serif" font-weight="bold" fill="#111">500</text>
<line x1="1961.2" y1="1475.7" x2="1966.3" y2="1477.8" stroke="#2a2a2a" stroke-width="1.5"/>
<line x1="1985.4" y1="1467.7" x2="1991.7" y2="1470.4" stroke="#2a2a2a" stroke-width="1.5"/>
<text transform="matrix(3.4111,1.4156,-3.0989,1.0385,2008.6,1485.7)" font-size="10" text-anchor="middle" font-family="Liberation Sans, Arial, sans-serif" font-weight="bold" fill="#111">550</text>
<line x1="2009.2" y1="1459.9" x2="2014.3" y2="1462.0" stroke="#2a2a2a" stroke-width="1.5"/>
<line x1="2032.8" y1="1452.1" x2="2039.3" y2="1454.7" stroke="#2a2a2a" stroke-width="1.5"/>
<text transform="matrix(3.4547,1.3720,-3.0291,1.0151,2056.7,1469.6)" font-size="10" text-anchor="middle" font-family="Liberation Sans, Arial, sans-serif" font-weight="bold" fill="#111">600</text>
<text transform="matrix(3.2632,-1.1259,3.3124,1.5947,1924.6,1566.7)" font-size="10" text-anchor="middle" font-family="Liberation Sans, Arial, sans-serif" font-weight="bold" fill="#111">Wavelength / nm</text>
<path d="M1683.9 1301.2l38.8 13.6 -44-15.4zM2024.7 1433.5l9 2.9 -23.8-9.9z" fill="#761f76" stroke="#761f76" stroke-width="0.7" fill-rule="evenodd"/>
<path d="M1676.9 1299.2l265.4 97.5 41.2 20.6 41.7 18.1 6.8 .9 -88.3-39.3 -211.8-78.9 -60.2-20.7z" fill="#721e75" stroke="#721e75" stroke-width="0.7" fill-rule="evenodd"/>
<path d="M1671.4 1296.8l109.5 39.4 154.4 58.2 83.6 37 4.8 3 -40.2-17.1 -41.2-20.6 -276.2-101.7z" fill="#6d1e76" stroke="#6d1e76" stroke-width="0.7" fill-rule="evenodd"/>
<path d="M1665.8 1294.4l49 16.7 61.7 22.3 155 57.8 82.6 37.2 4.8 3 -83.6-37 -154.4-58.2 -120.4-43.6z" fill="#681e76" stroke="#681e76" stroke-width="0.7" fill-rule="evenodd"/>
<path d="M1659.6 1291.7l46.6 15.4 65.9 23.4 157.5 58.1 72.3 33.9 7.3 2.8 4.9 3.1 -82.6-37.2 -155-57.8 -121.7-43.2z" fill="#621e77" stroke="#621e77" stroke-width="0.7" fill-rule="evenodd"/>
<path d="M1649.9 1287.7l55.1 18 62.6 21.9 156.4 57 73.1 34.9 7.3 2.7 4.8 3.1 -7.3-2.8 -72.3-33.9 -157.5-58.1 -65.9-23.4 -51.4-16.9z" fill="#5b1d76" stroke="#5b1d76" stroke-width="0.7" fill-rule="evenodd"/>
<path d="M1648.1 1285.7l115.1 39 157 56.6 72 35.1 7.3 2.8 4.9 3 -7.3-2.7 -73.1-34.9 -156.4-57 -62.6-21.9 -55.3-18.1 -4.4-2.8z" fill="#541c76" stroke="#541c76" stroke-width="0.7" fill-rule="evenodd"/>
<path d="M1646.4 1283.8l49.9 16.2 62.7 21.7 157.4 56.3 71 35.3 7.3 2.8 4.8 3.1 -7.3-2.8 -72-35.1 -157-56.6 -117.9-39.9 -4.4-2.8z" fill="#4e1c75" stroke="#4e1c75" stroke-width="0.7" fill-rule="evenodd"/>
<path d="M1642 1281l50.3 16 62.9 21.6 157.4 56.1 69.9 35.5 7.3 2.7 4.9 3.2 -7.3-2.8 -71-35.3 -163.2-58.4 -62.4-21.5 -49.9-16.1 -4.4-2.8z" fill="#4a1c74" stroke="#4a1c74" stroke-width="0.7" fill-rule="evenodd"/>
<path d="M1633 1276.7l49.6 15.5 68.7 23.3 157.7 55.8 68.6 35.8 7.3 2.7 4.9 3.1 -7.3-2.7 -69.9-35.5 -157.4-56.1 -68.5-23.4 -50.2-16 -4.4-2.8z" fill="#472177" stroke="#472177" stroke-width="0.7" fill-rule="evenodd"/>
<path d="M1633 1275.4l45.5 13.9 68.9 23.1 158 55.4 79.5 42 -7.3-2.7 -68.6-35.8 -157.7-55.8 -68.7-23.3 -50.5-15.8 -4.7-2.7z" fill="#452a7d" stroke="#452a7d" stroke-width="0.7" fill-rule="evenodd"/>
<path d="M1625.8 1271.9l54.2 16.2 53.1 17.6 169.7 59 64.8 36.2 7.3 2.7 5.1 3.1 -7.3-2.8 -67.3-36.1 -158-55.4 -68.9-23.1 -51.1-15.6 -4.8-2.7z" fill="#45448c" stroke="#45448c" stroke-width="0.7" fill-rule="evenodd"/>
<path d="M1619.1 1268.6l51.4 15 57.3 18.6 170.3 58.8 64.3 36.8 7.3 2.7 5.2 3.1 -7.3-2.7 -64.8-36.2 -159.3-55.5 -63.5-21.1 -57.4-17.1 -4.8-2.8z" fill="#45609e" stroke="#45609e" stroke-width="0.7" fill-rule="evenodd"/>
<path d="M1613.2 1265.6l56.9 16.3 65.4 21.1 160.3 55 61.3 36.7 7.3 2.7 5.3 3.1 -7.3-2.7 -64.3-36.8 -158.5-54.9 -69.1-22.5 -52.7-15.4z" fill="#3d74af" stroke="#3d74af" stroke-width="0.7" fill-rule="evenodd"/>
<path d="M1613.8 1264.3l52.9 15.1 64.6 20.5 159.5 54.2 61 37.5 7.3 2.8 5.3 3 -7.3-2.7 -61.3-36.7 -160.3-55 -65.4-21.1 -57.2-16.4 -4.8-2.8z" fill="#2c85be" stroke="#2c85be" stroke-width="0.7" fill-rule="evenodd"/>
<path d="M1609 1261.6l51.2 14.2 66.8 21.1 160.2 53.9 59.3 37.8 7.3 2.6 5.3 3.2 -7.3-2.8 -61-37.5 -159.5-54.2 -70.4-22.3 -52.8-14.9 -4.9-2.7z" fill="#0e98ca" stroke="#0e98ca" stroke-width="0.7" fill-rule="evenodd"/>
<path d="M1848.7 1418.8l11.3 1 4.9-6 -6.8-2.9 -19.3-4.8 -.8 .4 4.5 9.2zM1543.9 1271.5l5.9 .1 -2-1.4 -.8 .8 -4.1 .4zM1598.7 1257.3l53.2 14.4 70.9 22.1 161.8 54.1 56.6 37.5 7.2 2.7 5.4 3.1 -7.3-2.6 -59.3-37.8 -160.2-53.9 -66.8-21.1 -57-15.8z" fill="#0ba6c7" stroke="#0ba6c7" stroke-width="0.7" fill-rule="evenodd"/>
<path d="M1832.4 1414l6.6 3 .4 1 9.3 .8 -6.2-3.1 -4.5-9.2 .8-.4 19.3 4.8 6.8 2.9 5.4-6.5 -6.8-2.9 -41.4-9.7 6 10.1 2.6 8.1zM1529.9 1271.7l9.4 3.5 13.5 .2 13.7-.9 -14.1-9.6 -4.6 5.3 2 1.4 -20.6 .8 -.9-1.3zM1594.7 1254.8l57.6 15.4 66.2 20.5 160.5 53.2 56.8 38.4 7.3 2.7 5.3 3.1 -7.2-2.7 -56.6-37.5 -161.8-54.1 -70.9-22.1 -53.6-14.5 -4.9-2.8z" fill="#1ab0be" stroke="#1ab0be" stroke-width="0.7" fill-rule="evenodd"/>
<path d="M1837.1 1412.6l1.9 4.4 -8.3-4.1 -2.6-8.1 -6-10.1 41.4 9.7 6.8 2.9 5.3-6.5 -6.7-2.9 -35.5-8.7 -24.6-5.1 3.5 5.6 5.6 12.6zM1530.2 1268.8l36.7 13.6 16.3-5 -26.3-17.7 -4.5 5.2 14.1 9.6 -13.7 .9 -13.5-.2 -11-4.1 -1.8-3.7zM1589.3 1252.4l55.9 14.1 59.7 18.2 170.2 55.8 55.3 38.7 7.3 2.7 5.4 3.1 -7.3-2.7 -56.8-38.4 -160.5-53.2 -66.2-20.5 -58.9-15.8 -6.1-2.5z" fill="#46b5b2" stroke="#46b5b2" stroke-width="0.7" fill-rule="evenodd"/>
<path d="M1828.8 1405.3l6.5 3 1.8 4.3 -19.2-10.3 -5.6-12.6 -3.5-5.6 24.6 5.1 35.5 8.7 6.7 2.9 5.5-6.6 -6.6-2.9 -35.8-8.4 -42.5-8.9 6.1 9.2 3.2 8.8zM1529.6 1265.6l80.2 30.4 -4.5-4.3 -2-3.1 -.8-3.6 1.1-3.3 -1.2-1.1 -40.9-26.2 -4.6 5.3 26.3 17.7 -16.4 5 -40.3-15 -1.7-3.6zM1582.8 1250.1l43.2 9.6 48.1 13.8 60.1 18.7 136.9 44.9 53.4 39.1 13.2 5.7 -7.3-2.7 -55.3-38.7 -160.8-53 -69.1-21 -57.9-14.6 -6.8-2.3z" fill="#45b29b" stroke="#45b29b" stroke-width="0.7" fill-rule="evenodd"/>
<path d="M1833.5 1403.9l1.8 4.4 -29.8-16.3 -3.2-8.8 -6.1-9.2 42.5 8.9 35.8 8.4 6.6 2.9 9-7.5 -6.6-2.9 -27-4.3 -49-10.8 -21.4-3.9 7.2 12.7 2.1 5.2 31.5 18.2zM1527.8 1261.9l149.3 57.6 -34-17.9 -9.6-7.3 -6-7.6 -30.2-17.3 -31.2-20.2 -4.6 5.2 40.9 26.2 1.2 1.1 -1.1 3.3 .8 3.6 2 3.1 4.5 4.3 -85-32.2 -1.8-3.7zM1577 1248l68.5 15.3 66.2 19.9 155.4 50.4 38.7 29 11.9 10.9 14.1 5.4 -7.3-2.7 -53.4-39.1 -124.5-40.9 -60.9-19.2 -46.9-14 -18-4.6 -40.3-8.8 -6.9-2.3z" fill="#29aa78" stroke="#29aa78" stroke-width="0.7" fill-rule="evenodd"/>
<path d="M1825.1 1396.5l6.5 3 1.9 4.4 -6.6-3 -31.5-18.2 -2.1-5.2 -7.2-12.7 21.4 3.9 49 10.8 27 4.3 6.6 2.9 9.1-7.6 -6.7-2.8 -50.5-7.6 -66.6-13.2 -56.6-25.9 -39.8-20.1 -15-8.8 -10.7-7.7 -51.3-29 -26.8-17.3 55.5 11.7 45.7 12.3 61.7 19.1 125.3 40.4 28.2 22.1 19.2 18.5 14.2 5.3 -7.3-2.6 -11.9-10.9 -38.7-29 -155.4-50.4 -66.2-19.9 -76.2-17.4 -3.2 3.3 31.2 20.2 30.2 17.3 6 7.6 9.6 7.3 34 17.9 -154.1-59.4 -1.7-3.7 254.5 99.5 4.7 6.3 4.9 11.3z" fill="#0ba354" stroke="#0ba354" stroke-width="0.7" fill-rule="evenodd"/>
<path d="M1823.3 1392.2l6.5 2.9 1.8 4.4 -6.5-3 -39.7-23 -4.9-11.3 -4.7-6.3 -254.5-99.5 -1.7-3.7 45.8 17.6 205.2 82.5 3.3 5 2.5 7.1zM1757.8 1347.6l17.6 7.9 66.6 13.2 50.5 7.6 6.7 2.8 9.1-7.6 -6.8-2.8 -72-10 -49.1-9.3 -39.5-18.4 -30.7-15.4 -99.7-54.8 -18.8-11.7 35.1 7.3 71 19 161.7 51.4 19.5 15.9 24.8 25.3 14.3 5.4 -7.3-2.6 -19.2-18.5 -28.2-22.1 -125.3-40.4 -61.7-19.1 -45.7-12.3 -55.5-11.7 26.8 17.3 51.3 29 10.7 7.7 15 8.8 34.5 17.6z" fill="#01a241" stroke="#01a241" stroke-width="0.7" fill-rule="evenodd"/>
<path d="M1827.9 1390.8l1.9 4.3 -6.5-2.9 -46.9-27.3 -2.5-7.1 -3.3-5 -205.2-82.5 -45.8-17.6 -1.8-3.6 104.5 41.4 142.7 58.8 3.8 7.5 54.7 32.4zM1768.8 1344.1l11.6 5.3 8.7 1.8 40.4 7.5 72 10 6.8 2.8 1.8-1.2 1 .4 -7.3-2.7 -24.8-25.3 -19.5-15.9 -161.7-51.4 -71-19 -35.1-7.3 18.8 11.7 71.5 38.8 23.4 13.5 28.1 14.3zM1774 1337.9l-34.4-16.7 -78.5-41 -51.9-28.4 9.6 1.6 78.5 20.7 51.2 15.1 106.9 34.1 11.9 10.2 15.4 17.2 7.9 7.7 -73-9.2 -32.2-6z" fill="#0da333" stroke="#0da333" stroke-width="0.7" fill-rule="evenodd"/>
<path d="M1826.1 1386.4l1.8 4.4 -4.4-1.6 -54.7-32.4 -3.8-7.5 -142.7-58.8 -104.5-41.4 -1.8-3.7 103.8 41.4 139.5 59.2 3.1 3.7 57.2 33.7zM1779.6 1340.6l5.8 2.6 32.2 6 73 9.2 -7.9-7.7 -15.4-17.2 -11.9-10.2 -106.9-34.1 -51.2-15.1 -78.5-20.7 -9.6-1.6 51.9 28.4 72.3 37.7zM1788.1 1336.1l-121.9-61.6 -34.8-18.9 53.7 13.9 31.9 9.2 79.3 23.6 54.9 17.5 6.7 5.3 5.4 7.5 13.2 15.4 -1 .5 -9.1-1 -58.4-7.1 -17.7-3.3z" fill="#1da52a" stroke="#1da52a" stroke-width="0.7" fill-rule="evenodd"/>
<path d="M1824.2 1382l1.9 4.4 -6.5-3 -57.2-33.7 -3.1-3.7 -139.5-59.2 -103.8-41.4 -1.4-3.8 102.5 41.5 85.7 37.1 53 22 62 36.8zM1790.3 1337.1l17.7 3.3 58.4 7.1 9.1 1 1-.5 -13.2-15.4 -5.4-7.5 -6.7-5.3 -54.9-17.5 -79.3-23.6 -31.9-9.2 -53.7-13.9 34.8 18.9zM1790.6 1328.7l-135.1-68.1 68.8 19 122.6 36.7 3.7 3.2 6.5 9.6 8.4 9.8 -.7 .6 -60.2-6.9 -9.3-1.7z" fill="#30a726" stroke="#30a726" stroke-width="0.7" fill-rule="evenodd"/>
<path d="M1822.3 1377.6l1.9 4.4 -6.4-3 -62-36.8 -53-22 -85.7-37.1 -102.5-41.5 -.9-4 242.5 100.5 59.8 36.5zM1795.3 1330.9l36 4.8 33.5 3.8 .7-.6 -8.4-9.8 -6.5-9.6 -3.7-3.2 -122.6-36.7 -68.8-19zM1800.2 1324l-113.7-55.9 1.6-.1 43.6 12.5 110 32.6 3.6 3.2 9.2 13.5 -.2 .8 -15.2-1.5 -28.1-3z" fill="#41aa22" stroke="#41aa22" stroke-width="0.7" fill-rule="evenodd"/>
<path d="M1821.2 1372.9l1.1 4.7 -6.3-3 -59.8-36.5 -242.5-100.5 -.8-3.9 101.4 41.3 142.1 59.6 52.7 32.3 8.4 4.7zM1801.4 1324.5l37.7 4.6 15.2 1.5 .2-.8 -9.2-13.5 -3.6-3.2 -110-32.6 -43.6-12.5 -1.6 .1zM1801.5 1315.1l-80.5-39 115.5 33.8 3.4 3.3 4.7 9 -37-4.1z" fill="#51ae1f" stroke="#51ae1f" stroke-width="0.7" fill-rule="evenodd"/>
<path d="M1813.8 1365.3l6.5 2.9 .9 4.7 -3.7-1.3 -8.4-4.7 -52.7-32.3 -142.1-59.6 -101.4-41.3 -.9-3.9 101.3 41 139.1 58.1 49.9 30.6zM1802.1 1315.4l5.5 2.7 37 4.1 -4.7-9 -3.4-3.3 -115.5-33.8zM1808.7 1309.3l-48-22.8 71.3 20.4 4.5 7.3 -12.8-1.1 -7.9-1.8 -2.1 .4z" fill="#62b21b" stroke="#62b21b" stroke-width="0.7" fill-rule="evenodd"/>
<path d="M1812.9 1360.6l6.5 2.8 .9 4.8 -18-8.7 -49.9-30.6 -139.1-58.1 -101.3-41 -.9-4 56.5 22.6 184.7 76.1 40.3 25.4zM1813.7 1311.7l2.1-.4 7.9 1.8 12.8 1.1 -4.5-7.3 -71.3-20.4zM1814.7 1302.8l-12.1-6.1 23.6 6.8 2.3 2.7 -6.6-1.4 -2 .4z" fill="#72b617" stroke="#72b617" stroke-width="0.7" fill-rule="evenodd"/>
<path d="M1818.5 1358.7l.9 4.7 -26.8-13.5 -40.3-25.4 -184.7-76.1 -56.5-22.6 -.8-3.9 101.1 40.6 140.5 58.1 36.4 23 24.3 12.8zM1819.9 1305.2l2-.4 6.6 1.4 -2.3-2.7 -23.6-6.8z" fill="#82b914" stroke="#82b914" stroke-width="0.7" fill-rule="evenodd"/>
<path d="M1817.5 1354l1 4.7 -5.9-2.3 -24.3-12.8 -36.4-23 -140.5-58.1 -101.1-40.6 -.9-4 101 40.4 141 58.3 27.8 17.8z" fill="#92bc11" stroke="#92bc11" stroke-width="0.7" fill-rule="evenodd"/>
<path d="M1816.6 1349.2l.9 4.8 -38.3-19.6 -27.8-17.8 -141-58.3 -101-40.4 -.8-4 100.9 40.2 138.1 57 25.4 15.8z" fill="#a3c00c" stroke="#a3c00c" stroke-width="0.7" fill-rule="evenodd"/>
<path d="M1809.3 1341.6l6.4 2.8 .9 4.8 -43.6-22.3 -25.4-15.8 -138.1-57 -100.9-40.2 -.9-4 100.8 40 138.4 56.6 16.2 10.9z" fill="#b5c705" stroke="#b5c705" stroke-width="0.7" fill-rule="evenodd"/>
<path d="M1808.3 1336.9l6.5 2.8 .9 4.7 -52.6-27 -16.2-10.9 -138.4-56.6 -100.8-40 -.9-3.9 65.9 25.7 172.4 70.4 .9-.2 15.2 10.6z" fill="#c5ce00" stroke="#c5ce00" stroke-width="0.7" fill-rule="evenodd"/>
<path d="M1807.4 1332.1l6.5 2.8 .9 4.8 -53.6-27.2 -15.2-10.6 -.9 .2 -172.4-70.4 -65.9-25.7 -.8-4 75.6 29.5 162.3 66.1 1.1-.2 13 9z" fill="#d3d300" stroke="#d3d300" stroke-width="0.7" fill-rule="evenodd"/>
<path d="M1806.5 1327.3l6.5 2.8 .9 4.8 -55.9-28.5 -13-9 -1.1 .2 -162.3-66.1 -75.6-29.5 -.9-4 70.6 27.4 167 67.7 1.2-.1 8.2 6.1z" fill="#dbd600" stroke="#dbd600" stroke-width="0.7" fill-rule="evenodd"/>
<path d="M1805.7 1322.5l6.5 2.7 .8 4.9 -60.9-31 -8.2-6.1 -1.2 .1 -167-67.7 -70.6-27.4 -.9-4 80.4 31.1 156.9 63.5 1.1-.2 4.2 3.3 12.3 6.8z" fill="#ded700" stroke="#ded700" stroke-width="0.7" fill-rule="evenodd"/>
<path d="M1804.9 1317.7l6.5 2.7 .8 4.8 -53.1-26.7 -12.3-6.8 -4.2-3.3 -1.1 .2 -156.9-63.5 -80.4-31.1 -.8-4 100.3 38.8 136.6 55.3 1-.4 16.2 9.4z" fill="#e3d400" stroke="#e3d400" stroke-width="0.7" fill-rule="evenodd"/>
<path d="M1804.1 1312.8l6.5 2.7 .8 4.9 -53.9-27.3 -16.2-9.4 -1 .4 -136.6-55.3 -100.3-38.8 -.9-4 101.3 39 100.4 40.8 35.7 13.5z" fill="#ebcc00" stroke="#ebcc00" stroke-width="0.7" fill-rule="evenodd"/>
<path d="M1803.3 1308l6.5 2.7 .8 4.8 -51.9-26 -18.8-10.2 -35.7-13.5 -100.4-40.8 -101.3-39 -.9-4 43.4 16.1 197.7 78.1 14.2 8.1z" fill="#edbd06" stroke="#edbd06" stroke-width="0.7" fill-rule="evenodd"/>
<path d="M1802.5 1303.1l6.5 2.7 .8 4.9 -52.9-26.4 -14.2-8.1 -197.7-78.1 -43.4-16.1 -.8-4.1 46.5 17.4 194.1 75.7 16.4 9.2z" fill="#edad0b" stroke="#edad0b" stroke-width="0.7" fill-rule="evenodd"/>
<path d="M1808.2 1300.9l.8 4.9 -29.1-14.2 -38.5-20.6 -194.1-75.7 -46.5-17.4 -.6-4.1 239.9 92 15.9 9.3z" fill="#ed9c0f" stroke="#ed9c0f" stroke-width="0.7" fill-rule="evenodd"/>
<path d="M1807.4 1296l.8 4.9 -52.2-25.8 -15.9-9.3 -239.9-92 -.5-4.1 99.8 37.6 137.6 53.3 1.7-.1 15.5 9.1 49.3 25.5z" fill="#ed8f13" stroke="#ed8f13" stroke-width="0.7" fill-rule="evenodd"/>
<path d="M1800.1 1288.5l6.5 2.6 .8 4.9 -3.8-.9 -49.3-25.5 -15.5-9.1 -1.7 .1 -137.6-53.3 -99.8-37.6 -.6-4.1 99.9 37.3 137.5 53 .9-.5 17.4 10.3z" fill="#ed8116" stroke="#ed8116" stroke-width="0.7" fill-rule="evenodd"/>
<path d="M1805.8 1286.2l.8 4.9 -51.8-25.4 -17.4-10.3 -.9 .5 -137.5-53 -99.9-37.3 -.6-4.1 99.9 37.1 140.9 53.7 13.7 7.9 49.5 25.2z" fill="#ed7219" stroke="#ed7219" stroke-width="0.7" fill-rule="evenodd"/>
<path d="M1805 1281.3l.8 4.9 -3.3-.8 -49.5-25.2 -13.7-7.9 -140.9-53.7 -99.9-37.1 -.6-4.1 239.9 89.5 15.4 9.1z" fill="#ed641c" stroke="#ed641c" stroke-width="0.7" fill-rule="evenodd"/>
<path d="M1804.1 1276.3l.9 5 -51.8-25.3 -15.4-9.1 -239.9-89.5 -.5-4.2 99.8 36.6 137.4 51.8 1.7-.1 17.1 10.1z" fill="#ed5c1d" stroke="#ed5c1d" stroke-width="0.7" fill-rule="evenodd"/>
<path d="M1803.2 1271.4l.9 4.9 -50.7-24.7 -17.1-10.1 -1.7 .1 -137.4-51.8 -99.8-36.6 -.6-4.1 99.9 36.3 137.3 51.5 .8-.5 17 10 47.8 24.3z" fill="#ed541e" stroke="#ed541e" stroke-width="0.7" fill-rule="evenodd"/>
<path d="M1802.2 1266.5l1 4.9 -3.6-.7 -47.8-24.3 -17-10 -.8 .5 -137.3-51.5 -99.9-36.3 -.6-4.1 239.8 87.6 16.1 9.3 47 24z" fill="#ed491f" stroke="#ed491f" stroke-width="0.7" fill-rule="evenodd"/>
<path d="M1801.3 1261.6l.9 4.9 -3.1-.6 -47-24 -16.1-9.3 -239.8-87.6 -.6-4.2 99.9 35.7 137.3 50.8 1.7-.2 15.9 9.6 34.1 16.7 10.4 5.7 1.1 1.4z" fill="#ed4121" stroke="#ed4121" stroke-width="0.7" fill-rule="evenodd"/>
<path d="M1800.4 1256.7l.9 4.9 -5.3-1.1 -1.1-1.4 -10.4-5.7 -34.1-16.7 -15.9-9.6 -1.7 .2 -137.3-50.8 -99.9-35.7 -.5-4.1 99.8 35.4 137.3 50.4 .7-.5 17.6 10.2 28.7 14 15 8.4z" fill="#ed3d21" stroke="#ed3d21" stroke-width="0.7" fill-rule="evenodd"/>
<path d="M1799.4 1251.7l1 5 -6.2-2.1 -15-8.4 -28.7-14 -17.6-10.2 -.7 .5 -137.3-50.4 -99.8-35.4 -.6-4.2 99.8 35.2 137.2 50 2.2 .2 15 8.8 44.2 22.5 1.3 1.6z" fill="#ed3d21" stroke="#ed3d21" stroke-width="0.7" fill-rule="evenodd"/>
<path d="M1798.6 1247.5l.8 4.2 -5.2-.9 -1.3-1.6 -44.2-22.5 -15-8.8 -2.2-.2 -137.2-50 -99.8-35.2 -.6-4.1 99.9 34.8 137.1 49.8 1.3-.6 3.9 2.9 12.5 6.9 12.7 5.8 30.7 16.3 1.1 1.5z" fill="#ed3d21" stroke="#ed3d21" stroke-width="0.7" fill-rule="evenodd"/>
<path d="M1791.9 1243.8l2.7 2.3 -28.2-15.4 -17.8-8.5 -12.5-6.9 -3.9-2.9 -1.3 .6 -137.1-49.8 -99.9-34.8 -.6-4.2 70.2 24.1 169.7 60.4 15.2 8.8 17.3 8.2 22.2 11.9z" fill="#ed3d21" stroke="#ed3d21" stroke-width="0.7" fill-rule="evenodd"/>
<path d="M1785.3 1233.8l2.6 3.8 -22.2-11.9 -17.3-8.2 -15.2-8.8 -169.7-60.4 -70.2-24.1 -.6-4.2 102.3 35.1 134.8 48.2 1.9-.2 3.2 2.6 13.1 7 14 6.6 21.4 11.5z" fill="#ed3d21" stroke="#ed3d21" stroke-width="0.7" fill-rule="evenodd"/>
<path d="M1783.4 1230.8l-21.4-11.5 -14-6.6 -13.1-7 -3.2-2.6 -1.9 .2 -134.8-48.2 -102.3-35.1 -.5-4.2 99.8 34.1 137.2 48.5 1-.8 4.1 3.2 11.8 6.4 13.1 6.1 19.7 10.7z" fill="#ed3d21" stroke="#ed3d21" stroke-width="0.7" fill-rule="evenodd"/>
<path d="M1778.8 1223.9l-19.6-10.6 -13.1-6.1 -11.8-6.4 -4.1-3.2 -1 .8 -137.2-48.5 -99.8-34.1 -.6-4.1 99.8 33.7 137.2 48.2 2.2 0 14.8 8.8 9.2 4.1 19.7 10.8z" fill="#ed3d21" stroke="#ed3d21" stroke-width="0.7" fill-rule="evenodd"/>
<path d="M1772.4 1214l2.1 3.3 -19.7-10.8 -9.2-4.1 -14.8-8.8 -2.2 0 -137.2-48.2 -99.8-33.7 -.6-4.2 99.9 33.5 137.1 47.7 1.2-.8 3.9 3.2 37 19.4z" fill="#ed3d21" stroke="#ed3d21" stroke-width="0.7" fill-rule="evenodd"/>
<path d="M1765.9 1204.2l4.2 6.3 -37-19.4 -3.9-3.2 -1.2 .8 -137.1-47.7 -99.9-33.5 -.6-4.3 99.9 33.3 137.1 47.4 2.1-.1 3 2.4z" fill="#ed3c20" stroke="#ed3c20" stroke-width="0.7" fill-rule="evenodd"/>
<path d="M1765.7 1203.9l-33.2-17.7 -3-2.4 -2.1 .1 -137.1-47.4 -99.9-33.3 -.6-4.1 101.4 33.4 135.7 46.5 .9-.9 4.1 3.2 30.3 16.2z" fill="#ed3c20" stroke="#ed3c20" stroke-width="0.7" fill-rule="evenodd"/>
<path d="M1759.6 1192.8l2.6 4.7 -30.3-16.2 -4.1-3.2 -.9 .9 -135.7-46.5 -101.4-33.4 -.6-4.2 99.9 32.6 137.2 46.6 1.7-.4 3.4 2.7 27.2 14.7z" fill="#ed3c20" stroke="#ed3c20" stroke-width="0.7" fill-rule="evenodd"/>
<path d="M1758.6 1191.1l-27.2-14.7 -3.4-2.7 -1.7 .4 -137.2-46.6 -99.9-32.6 -.7-4.2 100 32.3 137.2 46.2 .5-.5 1.7 .5 14.6 9.2 12.6 6.3z" fill="#ed3c20" stroke="#ed3c20" stroke-width="0.7" fill-rule="evenodd"/>
<path d="M1753.3 1181.3l1.8 3.4 -12.6-6.3 -14.6-9.2 -1.7-.5 -.5 .5 -137.2-46.2 -100-32.3 -.6-4.3 45.2 14.1 192 63.8 1-1 4.1 3.3 6.4 3.3 5.1 3.7 9.9 4.8z" fill="#ed3c20" stroke="#ed3c20" stroke-width="0.7" fill-rule="evenodd"/>
<path d="M1751.6 1178.4l-9.9-4.8 -5.1-3.7 -6.4-3.3 -4.1-3.3 -1 1 -192-63.8 -45.2-14.1 -.6-4.2 100 31.8 137.2 45.4 1.4-.7 14.8 9.9 7.5 3.5z" fill="#ed3c20" stroke="#ed3c20" stroke-width="0.7" fill-rule="evenodd"/>
<path d="M1747 1169.9l1.2 2.2 -7.5-3.5 -14.8-9.9 -1.4 .7 -137.2-45.4 -100-31.8 -.6-4.2 100 31.5 137.2 45 1.6-.6 14.3 9.8 4.9 2.1z" fill="#ed3c20" stroke="#ed3c20" stroke-width="0.7" fill-rule="evenodd"/>
<path d="M1744.7 1165.7l-4.9-2 -14.3-9.8 -1.6 .6 -137.2-45 -100-31.5 -.7-4.2 45.3 13.6 192.1 62.2 1.6-.6 13.8 9.7 2.5 .8z" fill="#ed3c20" stroke="#ed3c20" stroke-width="0.7" fill-rule="evenodd"/>
<path d="M1740.7 1158.5l.6 1 -2.5-.8 -13.8-9.7 -1.6 .6 -192.1-62.2 -45.3-13.6 -.6-4.2 100.1 30.9 137.3 44.2 1.5-.7 3.1 3 10.8 7z" fill="#e63b20" stroke="#e63b20" stroke-width="0.7" fill-rule="evenodd"/>
<path d="M1738.2 1154l-10.8-7 -3.1-3 -1.5 .7 -137.3-44.2 -100.1-30.9 -.6-4.3 100.1 30.6 137.2 43.9 1.4-.7 3.1 3 8.7 5.3z" fill="#d7371f" stroke="#d7371f" stroke-width="0.7" fill-rule="evenodd"/>
<path d="M1734.5 1145.7l.8 1.7 -8.7-5.3 -3.1-3 -1.4 .7 -137.2-43.9 -100.1-30.6 -.7-4.2 100.2 30.3 136.9 43.5 1.3-.9 3.2 3.2 6.9 4.1z" fill="#c8311d" stroke="#c8311d" stroke-width="0.7" fill-rule="evenodd"/>
<path d="M1732.6 1141.2l-6.9-4 -3.2-3.2 -1.3 .9 -136.9-43.5 -100.2-30.3 -.6-4.3 100.2 30 136.6 43.2 1-1.2 3.5 3.5 5.2 3z" fill="#b72c1d" stroke="#b72c1d" stroke-width="0.7" fill-rule="evenodd"/>
<path d="M1728.4 1131.7l1.6 3.6 -5.2-3 -3.5-3.5 -1 1.2 -136.6-43.2 -100.2-30 -.6-4.3 101.4 30.1 135.2 42.5 1-1.2 3.5 3.4 3.4 2z" fill="#a5281c" stroke="#a5281c" stroke-width="0.7" fill-rule="evenodd"/>
<path d="M1727.4 1129.3l-3.4-2 -3.5-3.4 -1 1.2 -135.2-42.5 -101.4-30.1 -.7-4.2 104.3 30.6 132.1 41.3 1.2-1 5 4.2z" fill="#9d261b" stroke="#9d261b" stroke-width="0.7" fill-rule="evenodd"/>
<path d="M1722.3 1117.7l2.5 5.7 -5-4.2 -1.2 1 -132.1-41.3 -104.3-30.6 -.7-4.6 100.3 29.2 136 42.4 .9-1.3z" fill="#962419" stroke="#962419" stroke-width="0.7" fill-rule="evenodd"/>
<path d="M1722.1 1117.4l-3.4-3.4 -.9 1.3 -136-42.4 -100.3-29.2 -1.8-3.7 33.6 8.4 28.5 8.3 175.1 53.6 .9-1.3 1.2 1.1z" fill="#8e2218" stroke="#8e2218" stroke-width="0.7" fill-rule="evenodd"/>
<path d="M1716.2 1106l2.8 4.1 -1.2-1.1 -.9 1.3 -36.9-11 -138.2-42.6 -28.5-8.3 -33.6-8.4 -2-4 48.8 12.5 184.3 55.4z" fill="#862017" stroke="#862017" stroke-width="0.7" fill-rule="evenodd"/>
<path d="M1673.8 1088.7l37 15.2 -184.3-55.4 -48.8-12.5 -2-4 49.2 12.3z" fill="#7e1d16" stroke="#7e1d16" stroke-width="0.7" fill-rule="evenodd"/>
<path d="M1639.2 1074.4l32.2 13.3 -146.5-43.4 -49.2-12.3 -1.9-4.1 49.5 12.1 55.3 15.8 55.8 16.6z" fill="#751a15" stroke="#751a15" stroke-width="0.7" fill-rule="evenodd"/>
<path d="M1478 1027.7l12.6 .5 27.5 6.4 60.2 17.1 22.6 6.6 33.5 14.1 -111.1-32.4 -49.7-12.4z" fill="#6e1913" stroke="#6e1913" stroke-width="0.7" fill-rule="evenodd"/>
<path d="M1491.6 1028.3l18.4 .7 6.6 1.4 57.8 16.9 26.5 11 -82.8-23.7 -27.5-6.4z" fill="#661712" stroke="#661712" stroke-width="0.7" fill-rule="evenodd"/>
<path d="M1510.1 1029l9.5 1.1 33.2 10.4z" fill="#631611" stroke="#631611" stroke-width="0.7" fill-rule="evenodd"/>
<path d="M2012.1 1427.1l-7.2-2.7 -74.9-34.6 -161-59.7 -61.1-21.8 -49.7-16.7" fill="none" stroke="#3a3a3a" stroke-width="0.9" stroke-opacity="0.75"/>
<path d="M1970.7 1401.1l-7.3-2.7 -63.3-36.4 -177.4-61.2 -47.6-15.5 -56.4-16.5" fill="none" stroke="#3a3a3a" stroke-width="0.9" stroke-opacity="0.75"/>
<path d="M1833.1 1403l-6.5-3 -32.9-18.8 -9.6-18.1 24.5 4.4 44.7 9.7 32 5.1 6.6 2.9" fill="none" stroke="#3a3a3a" stroke-width="0.9" stroke-opacity="0.75"/>
<path d="M1567 1248.2l31.2 20.1 34.4 19.7 3.1 4.1 4.3 4.1 9.5 6.4 19.9 10.9 28.6 13.9 -175.3-68" fill="none" stroke="#3a3a3a" stroke-width="0.9" stroke-opacity="0.75"/>
<path d="M1923.6 1375.6l-7.3-2.7 -13.8-12.5 -34.6-26.8 -1.6-.6 -149.4-48.5 -66.4-20.1 -16.3-4.3 -62-13.3" fill="none" stroke="#3a3a3a" stroke-width="0.9" stroke-opacity="0.75"/>
<path d="M1819.7 1365.3l-23.6-11.8 -44.5-27.2 -138.8-58 -101.3-40.9" fill="none" stroke="#3a3a3a" stroke-width="0.9" stroke-opacity="0.75"/>
<path d="M1817.4 1307.8l2-.4 12.5 2.1 -2.6-3.9 -1.3-.8 -40.8-12 .3 .9 29.9 14.1" fill="none" stroke="#3a3a3a" stroke-width="0.9" stroke-opacity="0.75"/>
<path d="M1812.2 1325.2l-6.5-2.7 -46.6-24 -12.3-6.8 -4.2-3.3 -1.1 .2 -156.9-63.5 -80.4-31.1" fill="none" stroke="#3a3a3a" stroke-width="0.9" stroke-opacity="0.75"/>
<path d="M1805.4 1284.2l-3.6-.8 -48.3-24.6 -12.6-7 -3.5-2.6 -1.8 0 -192.9-73.3 -44.4-16.1" fill="none" stroke="#3a3a3a" stroke-width="0.9" stroke-opacity="0.75"/>
<path d="M1788.7 1239l-22.8-12.3 -18.4-8.8 -11.9-6.4 -4-3.2 -1.1 .8 -137.2-49.4 -99.9-34.7" fill="none" stroke="#3a3a3a" stroke-width="0.9" stroke-opacity="0.75"/>
<path d="M1754.4 1183.4l-10.1-5.5 -1.9-.4 -3.6-2.8 -8.2-4.2 -3.4-2.8 -1.6 .6 -133.9-45.1 -103.3-33.4" fill="none" stroke="#3a3a3a" stroke-width="0.9" stroke-opacity="0.75"/>
<path d="M1728.4 1131.7l-4.1-2.4 -3.1-3.1 -.6-.1 -.8 .9 -136.5-42.9 -100.2-29.8" fill="none" stroke="#3a3a3a" stroke-width="0.9" stroke-opacity="0.75"/>
<path d="M1615.3 1597.4l21.3-.9 11.1-6.6 1.4-3.7 -77.4-45.8 -224.5-130.2 -1.8 2.3 -13.5 1.9 72.3 44.3 59.9 37.9 78.1 53.1 67.9 43.6z" fill="#10000e" stroke="#10000e" stroke-width="0.7" fill-rule="evenodd"/>
<path d="M1441.7 1493.9l90.3 57.6 77.4 46.7 5.9-.8 -5.2-4.1 -67.9-43.6 -68.6-46.9 -65-41.4 -76.7-47 -3-3.8 66.6 41.6 64.9 44.6 -22.6-5.4zM1351.4 1412.6l220.3 127.8 77.4 45.8 2.3-6.2 -300.7-175.3 -3.5 5.5z" fill="#8b2283" stroke="#8b2283" stroke-width="0.7" fill-rule="evenodd"/>
<path d="M1344.1 1431.5l93.7 59.9 22.6 5.4 -64.9-44.6 -66.6-41.6 -2.8-3.5 66.6 44.8 -23.2-9.3 -27-12.1zM1487.5 1484.6l163.9 95.4 2-5.7 -221.9-128.7 -45-26.5 -31.5-19.8 -4.3 5.4zM1361.5 1399.2l17.1 6.5 -15.2-8.7 -1 1.9 -3.2-.7z" fill="#892281" stroke="#892281" stroke-width="0.7" fill-rule="evenodd"/>
<path d="M1314.5 1412.6l28 17.9 27 12.1 23.2 9.3 -62.3-42 -9.5-5.4 7.1 5.2 -9.9-4.5 -7.7 4.8zM1536.3 1506.8l117.1 67.5 2.3-5.7 -105.2-59.8 -96.9-57.6 -52.3-32 18.2 3.8 -6.4-3.8 -48-26.8 -1.7 4.6 15.2 8.7 -19.4-7.5 -2.3-.5 -1.9 1.6 56.8 34.8z" fill="#862280" stroke="#862280" stroke-width="0.7" fill-rule="evenodd"/>
<path d="M1320.9 1406.5l7.1 3.2 -7.8-5.6 -2.1 1.1zM1554.5 1511l101.2 57.6 5.4-6.7 -80.6-43.8 -69.4-40.8 -40.9-24.7 -4.1-5.3 -1.7-5.1 -2.6-1.8 -95-52.6 -1.7 4.6 54.4 30.6 -18.2-3.8 52.3 32z" fill="#84227f" stroke="#84227f" stroke-width="0.7" fill-rule="evenodd"/>
<path d="M1558.4 1505.1l22.1 13 80.6 43.8 4.2-5.3 2.4-1.8 -5.9-3.7 -39-18.9 -38.4-20.1 -31.5-18.7 -22.9-16.8 -15-12.7 -6.1-3.7 -140.5-77 -1.6 4.6 95 52.6 2.6 1.8 1.7 5.1 4.1 5.3zM1379.1 1380.4l6.3 2.6 -2.9-3.6 -2.8 1.4zM1716.6 1533.3l9 4.4 1.6-2.3 -18.3-7.5z" fill="#7f217f" stroke="#7f217f" stroke-width="0.7" fill-rule="evenodd"/>
<path d="M1584.4 1512.1l38.4 20.1 39 18.9 5.9 3.7 14-9.5 -5.9-3.7 -81.8-37.2 -22.5-16 -12.1-7.3 -68.2-37.5 -121.1-65 -1.7 4.6 140.5 77 6.1 3.7 15 12.7 22.9 16.8zM1377.2 1377l52.2 23.9 11.7 2.9 15.1 5.1 -69.3-34.8 -.8 3.6 -3.6 1.7 2.9 3.6 -6.3-2.7 -2.3-3.5zM1457.2 1409.2l1 .4 -.7-.5 -.3-.1zM1408.4 1368.8l16.4 3.6 15.4 1 -15.4-9.5 -2.6 3.3 -14.4 1.4zM1702 1527.7l13.1 6.8 7.8 2.4 -14-9 18.3 7.5 3.6-6 -32.3-14 -23.5-8.7 3.9 5 6.1 5.2z" fill="#7b207e" stroke="#7b207e" stroke-width="0.7" fill-rule="evenodd"/>
<path d="M1594 1504.4l81.8 37.2 5.9 3.7 10.6-8.4 -90.1-39.8 -77.2-42.1 -153.3-81 -1.6 4.6 121.1 65 68.2 37.5 12.1 7.3zM1375.5 1373.8l82.6 38.5 71.3 29.9 70.6 31.7 -45.5-23.1 -166.5-81.1 -1.1 4.4 69.3 34.8 -30.5-9.6 -48.9-22.5 -2.4-3.5zM1457.2 1409l.3 .1 .7 .5 -1-.4zM1677.7 1514.5l37.4 20 -13.1-6.8 -16.9-10.7 -6.2-5.3 -3.9-5 23.5 8.7 32.3 14 3.6-6.1 -38.7-17.1 -36.7-13.9 -9.6-2.7 -9.4 3zM1409.4 1366.5l66.1 30.9 -8-8.3 -.9-3.1 .9-3 -39.4-24.1 -3.3 5 15.4 9.5 -14.4-.8 -13.7-2.7 -4.3-1.3 -2-3.7z" fill="#75207e" stroke="#75207e" stroke-width="0.7" fill-rule="evenodd"/>
<path d="M1374.8 1375.7l150.2 79.3 77.2 42.1 90.1 39.8 12.4-7.7 4.8 2.2 -31.8-16.9 -37.7-21.9 9.4-3 9.6 2.7 36.7 13.9 38.7 17.1 2.8-5.8 -66.6-29.9 -24.7-8.7 -21.7-8.9 -22.9-7.1 -34.7-14.4 -68.9-31.5 -108.7-51.8 -1 4.5 166.5 81.1 45.5 23.1 -70.6-31.7 -49.3-20.3 -32.6-14.3 -73.1-34.3 -1.6-2.3 -1.1 3zM1409.5 1387.9l92.2 43.6 59 24.5 65.4 29 52.7 30 -13.8-4.1 -21.1-4.5 -37.3-15.4zM1408.5 1363.4l130.5 61.6 38.6 17.5 -53.7-29.5 -14-9.1 -14.1-11.4 -29.2-16.8 -35.3-21.8 -3.2 5 39.4 24.1 -.9 3 .9 3.1 8 8.3 -69.7-32.5 -1.9-3.7z" fill="#6f207f" stroke="#6f207f" stroke-width="0.7" fill-rule="evenodd"/>
<path d="M1413.4 1390.3l193.2 100.7 37.3 15.4 21.1 4.5 13.8 4.1 -52.7-30 -65.4-29 -59-24.5 -92.2-43.6zM1617.9 1482.7l0-1.9 5 2zM1393.6 1367.4l116.8 55.5 73.7 33.1 22.8 9 17.3 5 21.7 8.9 24.7 8.7 66.6 29.9 2.7-5.8 -88.1-39.3 -57.1-29.4 -35.9-19.8 -25.6-16.2 -59.7-33.8 -39.2-24.1 -3 4.8 35.3 21.8 29.2 16.8 14.1 11.4 14 9.1 53.7 29.5 -38.6-17.5 -135.1-63.8 -1.8-3.6 116.7 56.5 30.6 16.1 16.1 9.8 -66.6-28.6 -108.8-50.6 -1.1 4.4z" fill="#692080" stroke="#692080" stroke-width="0.7" fill-rule="evenodd"/>
<path d="M1393.4 1362.4l105.5 49 66.6 28.6 -16.1-9.8 -30.6-16.1 -116.7-56.5 -1.9-3.6 75.3 36.6 49 25.6 -54.8-23.7 -78.6-36.1 -1 4.4zM1617.9 1482.7l5 .1 -5-2zM1584 1437.3l67.8 35.1 88.1 39.3 2.7-5.7 -34.1-15.8 -53.8-23.4 -23.1-12 -116.1-63.9 -80-46.3 -1.2 4.5 39.2 24.1 59.7 33.8 20.8 13.4z" fill="#621f7f" stroke="#621f7f" stroke-width="0.7" fill-rule="evenodd"/>
<path d="M1392.9 1357.2l82.2 37.7 49.4 21.3 -49-25.6 -75.3-36.6 -1.9-3.7 45.3 21.9 40.3 20.8 -91.7-41.1 -1.1 4.5zM1604.2 1440.1l50.5 26.7 53.8 23.4 34.1 15.8 1-2.2 1.1-3.4 -40-18.8 -47-20.5 -116.4-62.3 -60.5-34.4 -44.3-24.2 -1 4.4 24.1 13.4 46.9 27.7 62.6 34.3z" fill="#5a1e7e" stroke="#5a1e7e" stroke-width="0.7" fill-rule="evenodd"/>
<path d="M1392.6 1352.1l91.3 40.9 -40.3-20.8 -45.3-21.9 -1.9-3.7 50.4 24.8 -53.5-23.9zM1640.5 1452.1l17.2 9 47 20.5 40 18.8 1.5-5.4 -79.3-36.4 -17.9-9 -81-42.5 -130.4-71.3 -1.1 4.4 44.3 24.2 55.7 31.8z" fill="#541e7d" stroke="#541e7d" stroke-width="0.7" fill-rule="evenodd"/>
<path d="M1397.9 1349.6l48.9 21.8 -50.4-24.8 -1.7-3.4 -1.4 4.3zM1620.7 1434.9l46.2 23.7 79.3 36.4 1.5-5.4 -97.1-45.3 -65.4-34.1 -146.5-78.9 -1.1 4.5 120.4 65.9z" fill="#4f1e7c" stroke="#4f1e7c" stroke-width="0.7" fill-rule="evenodd"/>
<path d="M1628 1432.7l34.2 17.6 85.5 39.3 1.6-5.4 -85.6-39.1 -173.2-90.6 -50.7-27.6 -1.1 4.4z" fill="#4c2480" stroke="#4c2480" stroke-width="0.7" fill-rule="evenodd"/>
<path d="M1629.6 1427.5l34.1 17.6 85.6 39.1 1.2-5.4 -85.3-38.9 -164.7-85.2 -59.6-32.2 -1.1 4.4 4 2.2 37.8 20.7z" fill="#4a2e86" stroke="#4a2e86" stroke-width="0.7" fill-rule="evenodd"/>
<path d="M1665.2 1439.9l85.3 38.9 1.3-5.3 -85.1-38.8 -151.5-77.4 -73.2-39.2 -1.1 4.4 20.3 11.2z" fill="#4a4996" stroke="#4a4996" stroke-width="0.7" fill-rule="evenodd"/>
<path d="M1655.3 1428.8l11.4 5.9 85.1 38.8 1.2-5.4 -84.9-38.5 -137.9-69.6 -87.5-46.3 -.7 4.4 28.6 15.7 63.5 33.3z" fill="#4a67aa" stroke="#4a67aa" stroke-width="0.7" fill-rule="evenodd"/>
<path d="M1668.1 1429.6l84.9 38.5 1.2-5.3 -85.2-38.3 -133.1-66.7 -92.8-48.3 -.4 4.2 37.4 20.2 64.6 33.5z" fill="#427dbc" stroke="#427dbc" stroke-width="0.7" fill-rule="evenodd"/>
<path d="M1634.6 1407.4l34.4 17.1 85.2 38.3 1.3-5.3 -85.6-38 -128.3-63.9 -98-50.4 -.5 4.3 92.8 48.3z" fill="#2f8fcc" stroke="#2f8fcc" stroke-width="0.7" fill-rule="evenodd"/>
<path d="M1613.5 1391.5l56.4 28 85.6 38 1.2-5.4 -86-37.6 -118.5-58.7 -108.2-54.8 -.4 4.2 93.1 47.9z" fill="#10a3d9" stroke="#10a3d9" stroke-width="0.7" fill-rule="evenodd"/>
<path d="M1642 1400.3l28.7 14.2 86 37.6 1.2-5.3 -86.3-37.4 -227.2-112.7 -.4 4.3z" fill="#0cb2d6" stroke="#0cb2d6" stroke-width="0.7" fill-rule="evenodd"/>
<path d="M1620.6 1384.5l51 24.9 86.3 37.4 1.3-5.4 -86.7-37 -227.7-112 -.4 4.3z" fill="#1cbdcd" stroke="#1cbdcd" stroke-width="0.7" fill-rule="evenodd"/>
<path d="M1655.1 1395.9l17.4 8.5 86.7 37 1.2-5.4 -87-36.7 -228.1-111.2 -.5 4.3z" fill="#4bc3bf" stroke="#4bc3bf" stroke-width="0.7" fill-rule="evenodd"/>
<path d="M1633.4 1380l40 19.3 87 36.7 1.3-5.3 -87.4-36.4 -228.6-110.5 -.4 4.3z" fill="#4abfa7" stroke="#4abfa7" stroke-width="0.7" fill-rule="evenodd"/>
<path d="M1656.9 1385.9l17.4 8.4 87.4 36.4 1.2-5.4 -87.7-36.1 -229.1-109.6 -.4 4.2z" fill="#2db781" stroke="#2db781" stroke-width="0.7" fill-rule="evenodd"/>
<path d="M1640.7 1372.8l34.5 16.4 87.7 36.1 1.3-5.4 -88.1-35.7 -229.5-108.9 -.5 4.3z" fill="#0caf5a" stroke="#0caf5a" stroke-width="0.7" fill-rule="evenodd"/>
<path d="M1664.4 1378.6l18.1 8.2 81.7 33.1 1.2-5.4 -88.4-35.4 -148-70.1 -82-38 -.4 4.3z" fill="#02ae46" stroke="#02ae46" stroke-width="0.7" fill-rule="evenodd"/>
<path d="M1648.1 1365.5l28.9 13.6 88.4 35.4 2.4-5.7 -6.3-3.1 -19-6.4 -58.2-22.7 -5.1-2.6 -1.3 0 -143.3-67.4 -87.1-39.9 -.5 4.3 82 38z" fill="#0eaf37" stroke="#0eaf37" stroke-width="0.7" fill-rule="evenodd"/>
<path d="M1672 1371.3l70.5 28 19 6.4 6.3 3.1 3.7-6.1 -6.4-3 -34.2-10.7 -52.1-20.1 -118.8-55.5 -112.1-51 -.4 4.3 87.1 39.9z" fill="#1fb12e" stroke="#1fb12e" stroke-width="0.7" fill-rule="evenodd"/>
<path d="M1655.6 1358.2l23.2 10.7 52.1 20.1 34.2 10.7 6.4 3 1.6-2.7 .5-2.9 -6.8-3 -46.9-15 -40.2-15.2 -113.8-53 -117.5-52.9 -.5 4.4 107.1 48.7z" fill="#33b329" stroke="#33b329" stroke-width="0.7" fill-rule="evenodd"/>
<path d="M1679.7 1363.9l36.2 13.8 39.1 12.1 18.6 7.3 .7-5.3 -24.2-9.6 -3.8-.7 -2.4-1.5 -38.4-11.8 -24.9-9.4 -103.6-48 -128.2-57.1 -.4 4.3 117.5 52.9z" fill="#46b725" stroke="#46b725" stroke-width="0.7" fill-rule="evenodd"/>
<path d="M1657.3 1348.2l23.3 10.6 24.9 9.4 35.3 10.6 5.5 2.7 3.8 .7 24.2 9.6 .8-5.3 -43.6-16.8 -26-7.6 -24-8.4 -98.4-45.4 -133.9-58.5 -.4 3.9 128.2 57.1z" fill="#58bb21" stroke="#58bb21" stroke-width="0.7" fill-rule="evenodd"/>
<path d="M1681.5 1353.7l24 8.4 26 7.6 43.6 16.8 .7-5.2 -55.8-21.2 -37.5-11.7 -87.9-40.2 -5.4-1.8 -139.7-61.3 -.3 4.7 133.9 58.5z" fill="#69bf1d" stroke="#69bf1d" stroke-width="0.7" fill-rule="evenodd"/>
<path d="M1682.5 1348.4l37.5 11.7 55.8 21.2 .8-5.3 -58.9-22.3 -26.6-8.1 -5.3-2.5 -1.7 .1 -61.5-28.1 -172.8-74.3 -.3 4.3 8.8 4.1 130.9 57.2 5.4 1.8z" fill="#7ac418" stroke="#7ac418" stroke-width="0.7" fill-rule="evenodd"/>
<path d="M1454.2 1242.7l168.4 72.4 61.5 28.1 1.7-.1 5.3 2.5 26.6 8.1 58.9 22.3 .7-5.3 -71.2-26.6 -13.1-3.9 -5.6-2.5 -1.6 .2 -51.2-22.9 -184.5-78.4 -.3 4.2z" fill="#8cc715" stroke="#8cc715" stroke-width="0.7" fill-rule="evenodd"/>
<path d="M1454.5 1238.4l180.1 76.6 51.2 22.9 1.6-.2 5.6 2.5 13.1 3.9 71.2 26.6 .6-5.2 -88.8-33.2 -1.5 .3 -237.2-100.3 -.3 4.3z" fill="#9dca12" stroke="#9dca12" stroke-width="0.7" fill-rule="evenodd"/>
<path d="M1454.7 1234.1l232.9 98.5 1.5-.3 88.8 33.2 .7-5.3 -83.2-30.4 -5.5-2.7 -1.1 .8 -238.1-99.9 -.3 4.3z" fill="#afcf0d" stroke="#afcf0d" stroke-width="0.7" fill-rule="evenodd"/>
<path d="M1455 1229.8l233.8 98.1 1.1-.8 5.5 2.7 83.2 30.4 .6-5.2 -83.2-30.3 -4.7-2.4 -1.9 0 -154.6-63.3 -83.9-35.3 -.2 4.3z" fill="#c2d705" stroke="#c2d705" stroke-width="0.7" fill-rule="evenodd"/>
<path d="M1455.3 1225.5l79.5 33.5 154.6 63.3 1.9 0 4.7 2.4 83.2 30.3 .7-5.3 -83.4-30 -3.9-2.1 -2.6-.3 -238.8-97.9 -.3 4.3z" fill="#d4de00" stroke="#d4de00" stroke-width="0.7" fill-rule="evenodd"/>
<path d="M1455.6 1221.2l234.4 96.1 2.6 .3 3.9 2.1 83.4 30 .6-5.3 -90-32.1 -113.9-45.8 -125.1-51.5 -.3 4.4z" fill="#e3e300" stroke="#e3e300" stroke-width="0.7" fill-rule="evenodd"/>
<path d="M1455.9 1216.9l120.7 49.6 113.9 45.8 90 32.1 .7-5.3 -90.2-31.9 -87-34.5 -152.2-62 -.3 4.3z" fill="#ece700" stroke="#ece700" stroke-width="0.7" fill-rule="evenodd"/>
<path d="M1456.2 1212.5l147.8 60.2 87 34.5 90.2 31.9 .6-5.2 -90.2-31.7 -239.5-95.8 -.3 4.3z" fill="#efe800" stroke="#efe800" stroke-width="0.7" fill-rule="evenodd"/>
<path d="M1456.4 1208.2l235.2 94 90.2 31.7 .7-5.4 -90.4-31.4 -239.8-95 -.2 4.3z" fill="#f4e400" stroke="#f4e400" stroke-width="0.7" fill-rule="evenodd"/>
<path d="M1456.7 1203.9l235.4 93.2 90.4 31.4 .8-5.3 -96.8-33.3 -233.9-92.1 -.3 4.3z" fill="#fcdb00" stroke="#fcdb00" stroke-width="0.7" fill-rule="evenodd"/>
<path d="M1457 1199.4l229.5 90.5 96.8 33.3 .8-5.3 -84.4-28.6 -4.4-2.3 -2.2 .1 -240.1-93.7 -.4 4.4z" fill="#ffcb07" stroke="#ffcb07" stroke-width="0.7" fill-rule="evenodd"/>
<path d="M1457.3 1195.2l235.8 91.9 2.2-.1 4.4 2.3 84.4 28.6 .8-5.4 -91.4-30.5 -240.2-92.9 -.3 4.3z" fill="#ffba0c" stroke="#ffba0c" stroke-width="0.7" fill-rule="evenodd"/>
<path d="M1457.6 1190.8l235.9 91.2 91.4 30.5 .8-5.4 -91.7-30.1 -240.4-92.3 -.3 4.4z" fill="#ffa810" stroke="#ffa810" stroke-width="0.7" fill-rule="evenodd"/>
<path d="M1458 1186.4l236 90.6 91.7 30.1 .9-5.3 -67.5-21.4 -18.1-6.2 -4.9-2.7 -1.7 .4 -240.5-91.5 -.3 4.3z" fill="#ff9914" stroke="#ff9914" stroke-width="0.7" fill-rule="evenodd"/>
<path d="M1458.3 1182.1l236.1 89.8 1.7-.4 4.9 2.7 18.1 6.2 67.5 21.4 .8-5.4 -92.6-29.5 -240.6-90.9 -.3 4.4z" fill="#ff8b18" stroke="#ff8b18" stroke-width="0.7" fill-rule="evenodd"/>
<path d="M1458.6 1177.7l236.2 89.2 92.6 29.5 .8-5.4 -92.9-29.2 -156.6-58.1 -84.2-32.1 -.3 4.4z" fill="#ff7b1b" stroke="#ff7b1b" stroke-width="0.7" fill-rule="evenodd"/>
<path d="M1458.9 1173.3l236.4 88.5 92.9 29.2 .7-5.3 -70.1-21.4 -2.6-1.4 -13.8-4 -5.5-2.8 -1.2 .6 -141.4-51.9 -99.4-37.5 -.4 4.3z" fill="#ff6b1e" stroke="#ff6b1e" stroke-width="0.7" fill-rule="evenodd"/>
<path d="M1459.2 1169l236.5 87.7 1.2-.6 5.5 2.8 13.8 4 2.6 1.4 70.1 21.4 .8-5.4 -70.1-21 -16.8-5.5 -3.5-1.8 -3.2-.3 -240.9-88.8 -.3 4.4z" fill="#ff631f" stroke="#ff631f" stroke-width="0.7" fill-rule="evenodd"/>
<path d="M1459.6 1164.6l236.5 87.1 3.2 .3 3.5 1.8 16.8 5.5 70.1 21 .8-5.4 -93.9-28.3 -241.1-88.1 -.3 4.4z" fill="#ff5a20" stroke="#ff5a20" stroke-width="0.7" fill-rule="evenodd"/>
<path d="M1459.9 1160.2l236.7 86.4 93.9 28.3 .7-5.4 -69.9-20.4 -23.5-8 -.8 .4 -241.2-87.3 -.3 4.3z" fill="#ff4e22" stroke="#ff4e22" stroke-width="0.7" fill-rule="evenodd"/>
<path d="M1460.2 1155.8l236.8 85.7 .8-.4 23.5 8 69.9 20.4 .8-5.4 -69.9-20.1 -17.8-5.5 -4.6-2.4 -2.2 .1 -12.4-4.2 -229-82.2 -.3 4.4z" fill="#ff4623" stroke="#ff4623" stroke-width="0.7" fill-rule="evenodd"/>
<path d="M1460.5 1151.4l224.6 80.6 12.4 4.2 2.2-.1 4.6 2.4 17.8 5.5 69.9 20.1 .7-5.4 -69.7-19.8 -18.1-5.6 -3.9-2 -3 0 -241.5-85.9 -.4 4.4z" fill="#ff4224" stroke="#ff4224" stroke-width="0.7" fill-rule="evenodd"/>
<path d="M1460.8 1147l237.2 84.3 3 0 3.9 2 18.1 5.6 69.7 19.8 1.1-5.7 -3.8-.4 -3.5-1.9 -62.7-16.9 -18.4-5.6 -3.1-1.6 -3.8-.4 -241.7-85.2 -.3 4.4z" fill="#ff4224" stroke="#ff4224" stroke-width="0.7" fill-rule="evenodd"/>
<path d="M1461.2 1142.6l237.3 83.6 3.8 .4 3.1 1.6 18.4 5.6 62.7 16.9 3.5 1.9 3.8 .4 4.8-5.5 -7.3-3 -8.4-.2 -83.8-23.3 -242-84.4 -.3 4.4z" fill="#ff4224" stroke="#ff4224" stroke-width="0.7" fill-rule="evenodd"/>
<path d="M1461.5 1138.2l237.6 82.8 80.1 22.4 3.7 .9 8.4 .2 3.3 1.6 -2.7-2.3 -4-6.2 -12.7-.9 -75.6-20.8 -242.2-83.7 -.3 4.4z" fill="#ff4224" stroke="#ff4224" stroke-width="0.7" fill-rule="evenodd"/>
<path d="M1461.8 1133.8l237.8 82.1 75.6 20.8 12.7 .9 -4.5-6.8 -12.1-.7 -45.1-11.8 -25.3-8.1 -.8 .5 -242.4-82.9 -.3 4.4z" fill="#ff4123" stroke="#ff4123" stroke-width="0.7" fill-rule="evenodd"/>
<path d="M1462.1 1129.3l238 81.4 .8-.5 25.3 8.1 45.1 11.8 12.1 .7 -4.5-6.8 -11.6-.5 -59.7-16 -5.4-2.8 -1.5 .9 -242.6-82.2 -.4 4.4z" fill="#ff4123" stroke="#ff4123" stroke-width="0.7" fill-rule="evenodd"/>
<path d="M1462.5 1124.9l238.2 80.7 1.5-.9 5.4 2.8 59.7 16 11.6 .5 -4.4-6.7 -10.2-.4 -5.4-1.1 -50.7-13.4 -4.8-2.5 -2.2 .5 -242.8-81.4 -.3 4.4z" fill="#ff4123" stroke="#ff4123" stroke-width="0.7" fill-rule="evenodd"/>
<path d="M1462.8 1120.5l238.4 79.9 2.2-.5 4.8 2.5 50.7 13.4 5.4 1.1 10.2 .4 -4.4-6.8 -11.2-.3 -50.2-13 -4.1-2.1 -2.9 .2 -243-80.7 -.3 4.4z" fill="#ff4123" stroke="#ff4123" stroke-width="0.7" fill-rule="evenodd"/>
<path d="M1476.5 1120.7l225.2 74.6 2.9-.2 4.1 2.1 50.2 13 11.2 .3 -4.4-6.6 -10.5-.2 -1.8-1.3 -1 .7 -43.1-11.1 -3.5-1.8 -3.5-.1 -243.3-79.4 -.3 3.9z" fill="#ff4123" stroke="#ff4123" stroke-width="0.7" fill-rule="evenodd"/>
<path d="M1463.4 1111.8l238.9 78.3 3.5 .1 3.5 1.8 43.1 11.1 1-.7 1.8 1.3 10.5 .2 -3.5-6.4 -13-.7 -21.7-5.1 -17.7-4.9 -2.8-1.5 -4.2-.4 -230.2-74.1 -13.4-5.1 -.2 5z" fill="#ff4123" stroke="#ff4123" stroke-width="0.7" fill-rule="evenodd"/>
<path d="M1463.6 1107.2l9 3.6 230.2 74.1 4.2 .4 2.8 1.5 17.7 4.9 21.7 5.1 13 .7 -3.6-6.4 -12.6-.6 -17.2-3.7 -20.6-6.4 -4.8-.6 -212.2-67.6 -31.9-10.9 -.1 4.4z" fill="#ff4123" stroke="#ff4123" stroke-width="0.7" fill-rule="evenodd"/>
<path d="M1463.8 1102.8l27.4 9.4 212.2 67.6 4.8 .6 20.6 6.4 17.2 3.7 12.6 .6 -3.5-6.4 -10.9-.3 -14.1-2.7 -19.2-5.3 -6.1-2.5 -.9 .7 -188.7-59.2 -55.7-18.5 -.2 4.4z" fill="#ff4123" stroke="#ff4123" stroke-width="0.7" fill-rule="evenodd"/>
<path d="M1464 1098.4l51.2 17 188.7 59.2 .9-.7 6.1 2.5 19.2 5.3 14.1 2.7 10.9 .3 -3.5-6.3 -12.1-.4 -28.1-6.8 -5.3-2.8 -1.7 1.1 -148.7-46 -96-31 -.2 4.4z" fill="#ff4022" stroke="#ff4022" stroke-width="0.7" fill-rule="evenodd"/>
<path d="M1464.2 1093.9l91.5 29.6 148.7 46 1.7-1.1 5.3 2.8 28.1 6.8 12.1 .4 -3.4-6.3 -12.3-.4 -1.9-1.4 -1.5 .9 -20.6-5.2 -4-2.1 -3 .3 -245-76.1 -.2 4.4z" fill="#ff4022" stroke="#ff4022" stroke-width="0.7" fill-rule="evenodd"/>
<path d="M1464.3 1089.5l240.6 74.7 3-.3 4 2.1 20.6 5.2 1.5-.9 1.9 1.4 12.3 .4 -3.5-6.3 -12.2 .1 -20.1-5.1 -2.7-1.4 -4.3-.4 -245.4-75.3 -.1 4.4z" fill="#ff4022" stroke="#ff4022" stroke-width="0.7" fill-rule="evenodd"/>
<path d="M1464.5 1085.1l240.9 73.9 4.3 .4 2.7 1.4 20.1 5.1 12.2-.1 -3.4-6.3 -11.8 0 -1.8-1.3 -.5 .7 -14.3-3.3 -6.3-2.5 -.7 .7 -245.7-74.5 -.2 4.4z" fill="#ff4022" stroke="#ff4022" stroke-width="0.7" fill-rule="evenodd"/>
<path d="M1464.7 1080.6l241.2 73.2 .7-.7 6.3 2.5 14.3 3.3 .5-.7 1.8 1.3 11.8 0 -3.1-5.5 -13.4-1 -11.4-2.7 -5-2.6 -2.1 .9 -245.9-73.8 -.2 4.5z" fill="#f73f22" stroke="#f73f22" stroke-width="0.7" fill-rule="evenodd"/>
<path d="M1464.9 1076.2l241.4 72.4 2.1-.9 5 2.6 11.4 2.7 13.4 1 -2.9-6.6 -12.9-.4 -8.5-1.9 -3.7-1.9 -3.4 .2 -246.2-73 -.2 4.4z" fill="#e83b21" stroke="#e83b21" stroke-width="0.7" fill-rule="evenodd"/>
<path d="M1465.1 1071.8l241.7 71.6 3.4-.2 3.7 1.9 8.5 1.9 12.9 .4 -2.7-6.1 -11.4-.1 -6.9-1.3 -2.4-1.3 -4.6-.4 -246.5-72.2 -.2 4.4z" fill="#d73520" stroke="#d73520" stroke-width="0.7" fill-rule="evenodd"/>
<path d="M1465.2 1067.3l242.1 70.9 4.6 .4 2.4 1.3 6.9 1.3 11.4 .1 -2.6-6 -11.6-.1 -9.4-3.4 -1.3 1.2 -205.2-59.1 -32.5-9.7 -9-4.2 -.2 6z" fill="#c52f1f" stroke="#c52f1f" stroke-width="0.7" fill-rule="evenodd"/>
<path d="M1465.5 1061.9l4.5 2.3 37.3 11.1 200.4 57.7 1.3-1.2 9.4 3.4 11.6 .1 -2.6-6 -11.4-.1 -5.3-2.3 -2.5 .8 -200.7-57 -18.9-5.6 -9.3-4.1 -4.5-1.3 -4.5-.2 -8.1-2.7 -1.2 3.2z" fill="#b22a1e" stroke="#b22a1e" stroke-width="0.7" fill-rule="evenodd"/>
<path d="M1470.3 1059.5l4.5 .2 4.5 1.3 9.3 4.1 14.1 4.2 205.5 58.4 2.5-.8 5.3 2.3 11.4 .1 -2.6-5.9 -5.6-.1 -8-1.8 -6.4-.1 -15-4.8 -5.2-.8 -176.9-49.7 -23.4-6.9 -20.2-7.2 -1.9 4.8z" fill="#a9281d" stroke="#a9281d" stroke-width="0.7" fill-rule="evenodd"/>
<path d="M1488.8 1060.6l195.8 55.2 5.2 .8 15 4.8 6.4 .1 8 1.8 5.6 .1 -2.7-6 -9.4-2 -2.3 1.6 -46.5-12.3 -27.8-8.7 -3.7 .1 -13.6-5.5 -5.3 .2 -11.7-4.3 -7-.8 -15-4.9 -3.6-.3 -28.1-7.8 -10.2-3.9 -4.8-.3 -5.4-1.5 -9.8-4.5 -5-.8 -1.9 .6 -3.1-.8 -4.7-2.2 -4.1-.4 -33.1-11.7 -1.9 4.8z" fill="#a1271b" stroke="#a1271b" stroke-width="0.7" fill-rule="evenodd"/>
<path d="M1503.2 1059.3l7.8 3 1.9-.6 5 .8 9.8 4.5 5.4 1.5 4.8 .3 10.2 3.9 28.1 7.8 3.6 .3 15 4.9 7 .8 11.7 4.3 5.3-.2 11.3 4.8 6 .6 39.3 11.7 35 9.3 2.3-1.6 9.4 2 -3.1-7.3 -3.6-.3 -1.9 1.3 -149.4-38.9 -54.8-15.6 -41.5-14.2 -1.8 4.8 33.1 11.7z" fill="#99251a" stroke="#99251a" stroke-width="0.7" fill-rule="evenodd"/>
<path d="M1504.8 1055.2l59.3 17 135.9 35.5 13.5 3.4 1.9-1.3 3.6 .3 -2.8-4.1 -5.4-2.1 -144.5-36.8 -55-15.4 -41.6-14.1 -1.9 4.8z" fill="#902218" stroke="#902218" stroke-width="0.7" fill-rule="evenodd"/>
<path d="M1506.7 1050.3l65 18.2 139.1 35.4 -39.4-16.2 -103-25.8 -55.2-15.2 -41.7-13.9 -1.8 4.8z" fill="#871f17" stroke="#871f17" stroke-width="0.7" fill-rule="evenodd"/>
<path d="M1513.2 1046.7l55.2 15.2 103 25.8 -37-15.3 -63.9-15.7 -55.4-15 -41.7-13.7 -1.9 4.8z" fill="#7e1c16" stroke="#7e1c16" stroke-width="0.7" fill-rule="evenodd"/>
<path d="M1510.5 1040.3l60 16.4 63.9 15.7 -33.5-14.1 -83.8-21.6 -26.5-8.5 -17.2-.2z" fill="#761b15" stroke="#761b15" stroke-width="0.7" fill-rule="evenodd"/>
<path d="M1512.5 1035.4l88.4 22.9 -26.5-11 -21.6-6.8 -42.8-11.5 -19.4-.8z" fill="#6e1913" stroke="#6e1913" stroke-width="0.7" fill-rule="evenodd"/>
<path d="M1519 1031.7l33.8 8.8 -33.2-10.4 -9.6-1.1z" fill="#6a1812" stroke="#6a1812" stroke-width="0.7" fill-rule="evenodd"/>
<path d="M1389.5 1363.5l133.8 62.8 43.5 19.1 26.2 10.3 -.7-1.8 -1.7-1.8 -5.2-3.6 -21.3-11.3 -58.6-28.7 -102.3-48.7" fill="none" stroke="#3a3a3a" stroke-width="0.9" stroke-opacity="0.75"/>
<path d="M1432.7 1351.9l35 21.8 40.4 23.2 14.9 10.6 13.1 8.4 34.6 19.4 78.5 40.7 27.6 11.3 61.5 27.9" fill="none" stroke="#3a3a3a" stroke-width="0.9" stroke-opacity="0.75"/>
<path d="M1466.9 1415.3l141.5 73.2 18.5 7.7 15.1 2 10.8 2.3 -28.7-16.8 -51.1-22.4 -18.7-6.4 -21.6-8.8 -67.7-31.8 1.9 1" fill="none" stroke="#3a3a3a" stroke-width="0.9" stroke-opacity="0.75"/>
<path d="M1442.6 1314.6l78 41.4 147.2 74.9 84.9 38.3" fill="none" stroke="#3a3a3a" stroke-width="0.9" stroke-opacity="0.75"/>
<path d="M1446.2 1278.7l72.1 34 157.1 75.5 87.8 36" fill="none" stroke="#3a3a3a" stroke-width="0.9" stroke-opacity="0.75"/>
<path d="M1449.7 1242.6l150.7 65.5 10.9 4.2 72.1 33.1 2.5 .3 4.5 2 24.2 7.1 61.7 23.3" fill="none" stroke="#3a3a3a" stroke-width="0.9" stroke-opacity="0.75"/>
<path d="M1452.1 1206.4l239.5 95.8 90.2 31.7" fill="none" stroke="#3a3a3a" stroke-width="0.9" stroke-opacity="0.75"/>
<path d="M1454.7 1169.9l104.5 39.6 136.2 50.3 4 .7 2.7 1.5 18.9 6.2 67.5 20.7" fill="none" stroke="#3a3a3a" stroke-width="0.9" stroke-opacity="0.75"/>
<path d="M1457.3 1133.1l100 35.1 142.2 48.7 .9-.6 6 2.6 19.7 5.7 49.9 13.5 3.1 .7 9.6 .2" fill="none" stroke="#3a3a3a" stroke-width="0.9" stroke-opacity="0.75"/>
<path d="M1459.6 1096l46 14.9 9.7 3.7 14.7 4.1 174 54.8 4.7 .6 2.3 1.3 14.6 3.5 3.9 1.6 3.4 .2 10.6 2.5 10.9 .2" fill="none" stroke="#3a3a3a" stroke-width="0.9" stroke-opacity="0.75"/>
<path d="M1461.5 1058.7l45.9 13.8 200.6 57.3 3.8-.1 3.4 1 .5 .8 12.7 .2" fill="none" stroke="#3a3a3a" stroke-width="0.9" stroke-opacity="0.75"/>
<defs><linearGradient id="cbD" x1="0" y1="0" x2="0" y2="1"><stop offset="0.0000" stop-color="#6a1812"/><stop offset="0.0280" stop-color="#7d1c16"/><stop offset="0.0610" stop-color="#962419"/><stop offset="0.1000" stop-color="#b02a1e"/><stop offset="0.1200" stop-color="#d0321f"/><stop offset="0.1430" stop-color="#f03e22"/><stop offset="0.1550" stop-color="#ff4022"/><stop offset="0.3450" stop-color="#ff4224"/><stop offset="0.3590" stop-color="#ff4a22"/><stop offset="0.3790" stop-color="#ff5e20"/><stop offset="0.4000" stop-color="#ff6c1e"/><stop offset="0.4220" stop-color="#ff8a18"/><stop offset="0.4480" stop-color="#ffaa10"/><stop offset="0.4680" stop-color="#ffc808"/><stop offset="0.4830" stop-color="#fcdc00"/><stop offset="0.5000" stop-color="#f0e800"/><stop offset="0.5240" stop-color="#eae600"/><stop offset="0.5450" stop-color="#d0dc00"/><stop offset="0.5700" stop-color="#a8cc10"/><stop offset="0.6000" stop-color="#7cc418"/><stop offset="0.6220" stop-color="#5cbc20"/><stop offset="0.6460" stop-color="#38b428"/><stop offset="0.6670" stop-color="#14b030"/><stop offset="0.6860" stop-color="#00ae48"/><stop offset="0.7000" stop-color="#10b060"/><stop offset="0.7140" stop-color="#40bc98"/><stop offset="0.7290" stop-color="#58c4bc"/><stop offset="0.7470" stop-color="#10bcd0"/><stop offset="0.7650" stop-color="#08a8dc"/><stop offset="0.7840" stop-color="#3a88c8"/><stop offset="0.8000" stop-color="#4a70b0"/><stop offset="0.8140" stop-color="#4a4c98"/><stop offset="0.8290" stop-color="#4a2a84"/><stop offset="0.8480" stop-color="#4e1e7c"/><stop offset="0.8690" stop-color="#561e7e"/><stop offset="0.9000" stop-color="#6a2080"/><stop offset="0.9280" stop-color="#78207e"/><stop offset="0.9590" stop-color="#84227f"/><stop offset="0.9890" stop-color="#8a2282"/><stop offset="1.0000" stop-color="#8c2284"/></linearGradient></defs>
<rect x="1990.6" y="896.5" width="48.8" height="5.7" fill="#fbf4f2"/>
<rect x="1990.6" y="902.2" width="48.8" height="470.8" fill="url(#cbD)"/>
<rect x="1990.6" y="1373.0" width="48.8" height="5.7" fill="#14000e"/>
<rect x="1990.6" y="896.5" width="48.8" height="482.2" fill="none" stroke="#4a4a55" stroke-width="1.6"/>
<line x1="2039.4" y1="902.2" x2="2050.4" y2="902.2" stroke="#333" stroke-width="2"/>
<text transform="translate(2063.5,916.4) scale(1.05,1)" font-size="30.5" font-family="Liberation Sans, Arial, sans-serif" font-weight="bold" fill="#111">0.08</text>
<line x1="2039.4" y1="949.3" x2="2050.4" y2="949.3" stroke="#333" stroke-width="2"/>
<text transform="translate(2063.5,963.5) scale(1.05,1)" font-size="30.5" font-family="Liberation Sans, Arial, sans-serif" font-weight="bold" fill="#111">0.07</text>
<line x1="2039.4" y1="996.4" x2="2050.4" y2="996.4" stroke="#333" stroke-width="2"/>
<text transform="translate(2063.5,1010.6) scale(1.05,1)" font-size="30.5" font-family="Liberation Sans, Arial, sans-serif" font-weight="bold" fill="#111">0.06</text>
<line x1="2039.4" y1="1043.4" x2="2050.4" y2="1043.4" stroke="#333" stroke-width="2"/>
<text transform="translate(2063.5,1057.6) scale(1.05,1)" font-size="30.5" font-family="Liberation Sans, Arial, sans-serif" font-weight="bold" fill="#111">0.05</text>
<line x1="2039.4" y1="1090.5" x2="2050.4" y2="1090.5" stroke="#333" stroke-width="2"/>
<text transform="translate(2063.5,1104.7) scale(1.05,1)" font-size="30.5" font-family="Liberation Sans, Arial, sans-serif" font-weight="bold" fill="#111">0.05</text>
<line x1="2039.4" y1="1137.6" x2="2050.4" y2="1137.6" stroke="#333" stroke-width="2"/>
<text transform="translate(2063.5,1151.8) scale(1.05,1)" font-size="30.5" font-family="Liberation Sans, Arial, sans-serif" font-weight="bold" fill="#111">0.04</text>
<line x1="2039.4" y1="1184.7" x2="2050.4" y2="1184.7" stroke="#333" stroke-width="2"/>
<text transform="translate(2063.5,1198.9) scale(1.05,1)" font-size="30.5" font-family="Liberation Sans, Arial, sans-serif" font-weight="bold" fill="#111">0.03</text>
<line x1="2039.4" y1="1231.8" x2="2050.4" y2="1231.8" stroke="#333" stroke-width="2"/>
<text transform="translate(2063.5,1246.0) scale(1.05,1)" font-size="30.5" font-family="Liberation Sans, Arial, sans-serif" font-weight="bold" fill="#111">0.02</text>
<line x1="2039.4" y1="1278.8" x2="2050.4" y2="1278.8" stroke="#333" stroke-width="2"/>
<text transform="translate(2063.5,1293.0) scale(1.05,1)" font-size="30.5" font-family="Liberation Sans, Arial, sans-serif" font-weight="bold" fill="#111">0.02</text>
<line x1="2039.4" y1="1325.9" x2="2050.4" y2="1325.9" stroke="#333" stroke-width="2"/>
<text transform="translate(2063.5,1340.1) scale(1.05,1)" font-size="30.5" font-family="Liberation Sans, Arial, sans-serif" font-weight="bold" fill="#111">0.01</text>
<line x1="2039.4" y1="1373.0" x2="2050.4" y2="1373.0" stroke="#333" stroke-width="2"/>
<text transform="translate(2063.5,1387.2) scale(1.05,1)" font-size="30.5" font-family="Liberation Sans, Arial, sans-serif" font-weight="bold" fill="#111">0</text></g>
<g><text x="25.1" y="1696.2" font-size="84" font-family="Liberation Sans, Arial, sans-serif" font-weight="bold" fill="#0d0d0d">E</text>
<text transform="translate(886.9,1691.1) scale(1.14,1)" font-size="36" font-family="Liberation Sans, Arial, sans-serif" font-weight="bold" fill="#111">120 s</text>
<text transform="translate(74.2,1761.5) rotate(87) scale(0.985,1)" font-size="35" font-family="Liberation Sans, Arial, sans-serif" font-weight="bold" fill="#111">Photocurrent density / µA·cm<tspan font-size="21" dy="-13">-2</tspan></text>
<line x1="205.9" y1="2259.3" x2="182.9" y2="1742.6" stroke="#2a2a2a" stroke-width="1.7"/>
<line x1="205.9" y1="2259.3" x2="606.0" y2="2410.7" stroke="#2a2a2a" stroke-width="1.5"/>
<line x1="606.0" y1="2410.7" x2="931.3" y2="2240.8" stroke="#2a2a2a" stroke-width="2.0"/>
<line x1="205.9" y1="2259.3" x2="195.5" y2="2263.1" stroke="#2a2a2a" stroke-width="1.7"/>
<text transform="translate(190.5,2279.1) rotate(-4) scale(0.8,1)" font-size="35" text-anchor="end" font-family="Liberation Sans, Arial, sans-serif" font-weight="bold" fill="#111">0</text>
<line x1="203.7" y1="2210.8" x2="193.3" y2="2214.3" stroke="#2a2a2a" stroke-width="1.7"/>
<text transform="translate(188.3,2230.3) rotate(-4) scale(0.8,1)" font-size="35" text-anchor="end" font-family="Liberation Sans, Arial, sans-serif" font-weight="bold" fill="#111">0.05</text>
<line x1="201.5" y1="2161.6" x2="191.0" y2="2164.9" stroke="#2a2a2a" stroke-width="1.7"/>
<text transform="translate(186.0,2180.9) rotate(-4) scale(0.8,1)" font-size="35" text-anchor="end" font-family="Liberation Sans, Arial, sans-serif" font-weight="bold" fill="#111">0.1</text>
<line x1="199.3" y1="2111.7" x2="188.7" y2="2114.9" stroke="#2a2a2a" stroke-width="1.7"/>
<text transform="translate(183.7,2130.9) rotate(-4) scale(0.8,1)" font-size="35" text-anchor="end" font-family="Liberation Sans, Arial, sans-serif" font-weight="bold" fill="#111">0.15</text>
<line x1="197.0" y1="2061.1" x2="186.4" y2="2064.1" stroke="#2a2a2a" stroke-width="1.7"/>
<text transform="translate(181.4,2080.1) rotate(-4) scale(0.8,1)" font-size="35" text-anchor="end" font-family="Liberation Sans, Arial, sans-serif" font-weight="bold" fill="#111">0.2</text>
<line x1="194.8" y1="2009.9" x2="184.0" y2="2012.6" stroke="#2a2a2a" stroke-width="1.7"/>
<text transform="translate(179.0,2028.6) rotate(-4) scale(0.8,1)" font-size="35" text-anchor="end" font-family="Liberation Sans, Arial, sans-serif" font-weight="bold" fill="#111">0.25</text>
<line x1="192.4" y1="1957.9" x2="181.6" y2="1960.4" stroke="#2a2a2a" stroke-width="1.7"/>
<text transform="translate(176.6,1976.4) rotate(-4) scale(0.8,1)" font-size="35" text-anchor="end" font-family="Liberation Sans, Arial, sans-serif" font-weight="bold" fill="#111">0.3</text>
<line x1="190.1" y1="1905.2" x2="179.2" y2="1907.5" stroke="#2a2a2a" stroke-width="1.7"/>
<text transform="translate(174.2,1923.5) rotate(-4) scale(0.8,1)" font-size="35" text-anchor="end" font-family="Liberation Sans, Arial, sans-serif" font-weight="bold" fill="#111">0.35</text>
<line x1="187.7" y1="1851.8" x2="176.7" y2="1853.8" stroke="#2a2a2a" stroke-width="1.7"/>
<text transform="translate(171.7,1869.8) rotate(-4) scale(0.8,1)" font-size="35" text-anchor="end" font-family="Liberation Sans, Arial, sans-serif" font-weight="bold" fill="#111">0.4</text>
<line x1="185.3" y1="1797.6" x2="174.2" y2="1799.3" stroke="#2a2a2a" stroke-width="1.7"/>
<text transform="translate(169.2,1815.3) rotate(-4) scale(0.8,1)" font-size="35" text-anchor="end" font-family="Liberation Sans, Arial, sans-serif" font-weight="bold" fill="#111">0.45</text>
<line x1="182.9" y1="1742.6" x2="171.7" y2="1744.1" stroke="#2a2a2a" stroke-width="1.7"/>
<text transform="translate(166.7,1760.1) rotate(-4) scale(0.8,1)" font-size="35" text-anchor="end" font-family="Liberation Sans, Arial, sans-serif" font-weight="bold" fill="#111">0.5</text>
<line x1="240.8" y1="2272.5" x2="235.9" y2="2274.4" stroke="#2a2a2a" stroke-width="1.5"/>
<line x1="276.8" y1="2286.1" x2="268.6" y2="2289.3" stroke="#2a2a2a" stroke-width="1.5"/>
<text transform="matrix(3.3133,-1.2859,2.8523,1.1136,247.4,2305.5)" font-size="10" text-anchor="middle" font-family="Liberation Sans, Arial, sans-serif" font-weight="bold" fill="#111">200</text>
<line x1="313.8" y1="2300.1" x2="308.9" y2="2302.1" stroke="#2a2a2a" stroke-width="1.5"/>
<line x1="351.9" y1="2314.6" x2="343.7" y2="2318.0" stroke="#2a2a2a" stroke-width="1.5"/>
<text transform="matrix(3.2974,-1.3688,3.0244,1.1808,323.4,2335.2)" font-size="10" text-anchor="middle" font-family="Liberation Sans, Arial, sans-serif" font-weight="bold" fill="#111">400</text>
<line x1="391.1" y1="2329.4" x2="386.2" y2="2331.5" stroke="#2a2a2a" stroke-width="1.5"/>
<line x1="431.5" y1="2344.7" x2="423.4" y2="2348.3" stroke="#2a2a2a" stroke-width="1.5"/>
<text transform="matrix(3.2734,-1.4596,3.2126,1.2543,404.0,2366.6)" font-size="10" text-anchor="middle" font-family="Liberation Sans, Arial, sans-serif" font-weight="bold" fill="#111">600</text>
<line x1="473.2" y1="2360.4" x2="468.3" y2="2362.7" stroke="#2a2a2a" stroke-width="1.5"/>
<line x1="516.1" y1="2376.7" x2="508.1" y2="2380.5" stroke="#2a2a2a" stroke-width="1.5"/>
<text transform="matrix(3.2396,-1.5594,3.4190,1.3348,489.7,2400.1)" font-size="10" text-anchor="middle" font-family="Liberation Sans, Arial, sans-serif" font-weight="bold" fill="#111">800</text>
<line x1="560.4" y1="2393.4" x2="555.6" y2="2395.8" stroke="#2a2a2a" stroke-width="1.5"/>
<line x1="606.0" y1="2410.7" x2="598.1" y2="2414.9" stroke="#2a2a2a" stroke-width="1.5"/>
<text transform="matrix(3.1944,-1.6692,3.6458,1.4234,581.0,2435.8)" font-size="10" text-anchor="middle" font-family="Liberation Sans, Arial, sans-serif" font-weight="bold" fill="#111">1000</text>
<text transform="matrix(2.9817,1.2280,-3.3173,1.4316,276.5,2382.1)" font-size="10" text-anchor="middle" font-family="Liberation Sans, Arial, sans-serif" font-weight="bold" fill="#111">Potential / mV</text>
<line x1="615.6" y1="2405.7" x2="622.6" y2="2408.4" stroke="#2a2a2a" stroke-width="1.5"/>
<text transform="matrix(3.7237,1.3981,-3.0107,1.6381,648.5,2428.1)" font-size="10" text-anchor="middle" font-family="Liberation Sans, Arial, sans-serif" font-weight="bold" fill="#111">200</text>
<line x1="639.0" y1="2393.5" x2="644.6" y2="2395.5" stroke="#2a2a2a" stroke-width="1.5"/>
<line x1="661.9" y1="2381.5" x2="668.8" y2="2384.0" stroke="#2a2a2a" stroke-width="1.5"/>
<text transform="matrix(3.6864,1.3323,-2.8611,1.5567,694.9,2402.8)" font-size="10" text-anchor="middle" font-family="Liberation Sans, Arial, sans-serif" font-weight="bold" fill="#111">250</text>
<line x1="684.2" y1="2369.9" x2="689.7" y2="2371.8" stroke="#2a2a2a" stroke-width="1.5"/>
<line x1="706.0" y1="2358.5" x2="712.8" y2="2360.9" stroke="#2a2a2a" stroke-width="1.5"/>
<text transform="matrix(3.6482,1.2711,-2.7224,1.4812,739.1,2378.8)" font-size="10" text-anchor="middle" font-family="Liberation Sans, Arial, sans-serif" font-weight="bold" fill="#111">300</text>
<line x1="727.2" y1="2347.4" x2="732.6" y2="2349.3" stroke="#2a2a2a" stroke-width="1.5"/>
<line x1="748.0" y1="2336.6" x2="754.7" y2="2338.8" stroke="#2a2a2a" stroke-width="1.5"/>
<text transform="matrix(3.6094,1.2142,-2.5936,1.4111,781.1,2355.9)" font-size="10" text-anchor="middle" font-family="Liberation Sans, Arial, sans-serif" font-weight="bold" fill="#111">350</text>
<line x1="768.2" y1="2326.0" x2="773.6" y2="2327.8" stroke="#2a2a2a" stroke-width="1.5"/>
<line x1="788.0" y1="2315.6" x2="794.7" y2="2317.8" stroke="#2a2a2a" stroke-width="1.5"/>
<text transform="matrix(3.5702,1.1612,-2.4736,1.3459,821.1,2334.1)" font-size="10" text-anchor="middle" font-family="Liberation Sans, Arial, sans-serif" font-weight="bold" fill="#111">400</text>
<line x1="807.3" y1="2305.5" x2="812.7" y2="2307.2" stroke="#2a2a2a" stroke-width="1.5"/>
<line x1="826.2" y1="2295.7" x2="832.9" y2="2297.7" stroke="#2a2a2a" stroke-width="1.5"/>
<text transform="matrix(3.5308,1.1117,-2.3618,1.2851,859.3,2313.4)" font-size="10" text-anchor="middle" font-family="Liberation Sans, Arial, sans-serif" font-weight="bold" fill="#111">450</text>
<line x1="844.7" y1="2286.0" x2="850.0" y2="2287.6" stroke="#2a2a2a" stroke-width="1.5"/>
<line x1="862.8" y1="2276.6" x2="869.4" y2="2278.6" stroke="#2a2a2a" stroke-width="1.5"/>
<text transform="matrix(3.4913,1.0654,-2.2574,1.2283,895.8,2293.5)" font-size="10" text-anchor="middle" font-family="Liberation Sans, Arial, sans-serif" font-weight="bold" fill="#111">500</text>
<line x1="880.5" y1="2267.3" x2="885.7" y2="2268.9" stroke="#2a2a2a" stroke-width="1.5"/>
<line x1="897.8" y1="2258.3" x2="904.3" y2="2260.2" stroke="#2a2a2a" stroke-width="1.5"/>
<text transform="matrix(3.4518,1.0221,-2.1598,1.1751,930.6,2274.5)" font-size="10" text-anchor="middle" font-family="Liberation Sans, Arial, sans-serif" font-weight="bold" fill="#111">550</text>
<line x1="914.7" y1="2249.4" x2="919.9" y2="2250.9" stroke="#2a2a2a" stroke-width="1.5"/>
<line x1="931.3" y1="2240.8" x2="937.7" y2="2242.6" stroke="#2a2a2a" stroke-width="1.5"/>
<text transform="matrix(3.4125,0.9815,-2.0684,1.1254,964.0,2256.4)" font-size="10" text-anchor="middle" font-family="Liberation Sans, Arial, sans-serif" font-weight="bold" fill="#111">600</text>
<text transform="matrix(2.3613,-1.3572,3.5663,1.1677,891.6,2356.2)" font-size="10" text-anchor="middle" font-family="Liberation Sans, Arial, sans-serif" font-weight="bold" fill="#111">Wavelength / nm</text>
<path d="M834.4 2210.9l78.8 22.3 18.8-6.1 -165-47.3 -131.2-40 51.6 21.1 63.5 23z" fill="#7b2076" stroke="#7b2076" stroke-width="0.7" fill-rule="evenodd"/>
<path d="M797.5 2213.5l13.3 4.3 79.6 22.7 22.8-7.3 -78.8-22.3 -80.3-25.9 -66.7-24.1 -51.6-21.1 -17.8-5.7 -31.1-12.1 8.4 7.1 7.1 7.6 3.9 2.4 59.3 26.6 67.6 26.1z" fill="#761f76" stroke="#761f76" stroke-width="0.7" fill-rule="evenodd"/>
<path d="M787.9 2224.3l80.2 23.1 22.3-6.9 -79.6-22.7 -83.1-28 -62.1-24.1 -59.3-26.6 -3.9-2.4 -7.1-7.6 -8.4-7.1 -32.5-12.5 -1.6 .1 10.1 7.3 7.9 6.9 7.6 8.5 4.7 7.6 3.5 2.6 56.6 28.1 66.5 27.6z" fill="#721e75" stroke="#721e75" stroke-width="0.7" fill-rule="evenodd"/>
<path d="M772 2227.3l80.3 23.7 15.8-3.6 -80.2-23.1 -54.4-17.8 -29.8-10.6 -60.5-25.3 -56.6-28.1 -3.5-2.6 -4.7-7.6 -7.6-8.5 -7.9-6.9 -10.1-7.3 -13.7 .9 8.8 7.8 7 7.8 4.5 6.8 4 10.3 1.7 1.6 32.5 17.8 26.2 11.6 63.9 24.3z" fill="#6d1e76" stroke="#6d1e76" stroke-width="0.7" fill-rule="evenodd"/>
<path d="M743.2 2236.3l80.4 24.6 21.6-8.3 7.1-1.6 -87.1-25.9 -71.4-24.4 -70-26.5 -26.2-11.6 -31.1-16.6 -3.1-2.8 -3.1-8.5 -5.4-8.6 -7-7.8 -8.8-7.8 -14 .9 6.3 6.6 4.9 6.6 4.6 9 2.5 9.9 4.7 3.9 61.8 28.1 48.2 19.3 16.1 10z" fill="#681e76" stroke="#681e76" stroke-width="0.7" fill-rule="evenodd"/>
<path d="M692.3 2238.8l103.8 31.3 2.9 .2 24.6-9.4 -81.3-24.9 -68.1-31.2 -16.1-10 -48.2-19.3 -60.4-27.3 -4.1-2.5 -2-2.2 -2.2-8.9 -3.6-7.9 -5.3-7.5 -7.2-7.8 -14.1 .9 6.9 9.8 4.7 11.3 6.4 6.3 4.8 6.2 3.8 2.6 38.6 18.5 9.8 13.7 44.4 33.5 25.6 12.9z" fill="#621e77" stroke="#621e77" stroke-width="0.7" fill-rule="evenodd"/>
<path d="M685.3 2237.4l103.7 31.5 7.1 1.2 -82.7-24.6 -57.4-18.4 -20.8-10 -49.2-36.4 -9.8-13.7 -38.6-18.5 -3.8-2.6 -4.8-6.2 -6.4-6.3 -4.7-11.3 -6.9-9.8 -14.4 1 5.5 10.1 9.4 8.3 6.9 8.2 4.9 7.7 -.4 2.1 14.6 19.8 11.7 21.4 68.3 24.2z" fill="#5b1d76" stroke="#5b1d76" stroke-width="0.7" fill-rule="evenodd"/>
<path d="M685.2 2238.3l96.7 29.5 7.1 1.1 -89.7-27 -75.2-24.5 -72.8-25.4 -2.3-1.3 -11-20.4 -15.1-20.6 .4-2.1 -4.9-7.7 -6.9-8.2 -9.4-8.3 -5.5-10.1 -14.1 .8 14 11.5 9.6 11.9 -3.1 4.2 -10.8 11 -1.5 4.5 8.5 14.7 1.4 1 41.9 16.2 68.3 24.4z" fill="#541c76" stroke="#541c76" stroke-width="0.7" fill-rule="evenodd"/>
<path d="M678 2236.9l96.7 29.7 7.2 1.2 -82.7-24.9 -81.9-27.2 -74.8-26.6 -41.9-16.2 -1.4-1 -8.5-14.7 1.5-4.5 10.8-11 3.1-4.2 -7.5-9.8 -11.6-10.3 -4.5-3.3 -8.2-1.3 10.1 9 6 7.7 -11.8 13.4 -15.5 14.4 2.7 2.2 70.5 27.6 69.7 25.5z" fill="#4e1c75" stroke="#4e1c75" stroke-width="0.7" fill-rule="evenodd"/>
<path d="M636.8 2223.8l21.1 7.1 112.6 33 .5 2.1 3.7 .6 -82.7-25.1 -86-28.9 -69.7-25.5 -70.5-27.6 -2.7-2.2 15.5-14.4 11.8-13.4 -6-7.7 -10.1-9 -8.2-1.3 8.8 9.4 -10.4 13 -15.4 15.5 10.2 6.8 70.7 28.9 72 26.8z" fill="#4a1c74" stroke="#4a1c74" stroke-width="0.7" fill-rule="evenodd"/>
<path d="M586.3 2205.1l183.1 54.6 1.1 4.2 -112.6-33 -55.9-19 -72-26.8 -68-27.3 -12.9-8.4 15.4-15.5 10.4-13 -8.8-9.4 -8.3-1.3 1.8 2.2 -4.5 6.5 -8.7 10.7 -11.2 11.4 21.7 14.4 68.7 28.4 40.4 15.3z" fill="#472177" stroke="#472177" stroke-width="0.7" fill-rule="evenodd"/>
<path d="M512 2178.6l256.4 76.9 1 4.2 -203.4-60.6 -42.3-16 -66.8-27.7 -21.7-14.4 11.2-11.4 8.7-10.7 4.5-6.5 -1.8-2.2 -2.8-.3 -15.8 2.3 -7.7 10.1 -9.7 10.4 15.5 9.9 13.5 10.2z" fill="#452a7d" stroke="#452a7d" stroke-width="0.7" fill-rule="evenodd"/>
<path d="M524 2178.5l243.3 72.8 1.1 4.2 -250-74.7 -67.6-28 -13.5-10.2 -15.5-9.9 9.7-10.4 7.7-10.1 -22.9 3.5 -7.9 8.9 20.9 13 16.4 12.8 33.7 14.3z" fill="#45448c" stroke="#45448c" stroke-width="0.7" fill-rule="evenodd"/>
<path d="M675.2 2220.3l91 26.7 1.1 4.3 -169.3-50.3 -118.6-36.3 -33.7-14.3 -16.8-13.1 -20.1-12.1 -.4-.6 7.9-8.9 -18 2.7 -1.5-.5 25.2 15 8.8 6.7 8.7 8.1 9.5 4z" fill="#45609e" stroke="#45609e" stroke-width="0.7" fill-rule="evenodd"/>
<path d="M652.4 2209.5l112.7 33.3 1.1 4.2 -169.2-50.2 -148-45.1 -9.5-4 -8.7-8.1 -8.8-6.7 -25.2-15 -3.8-3.1 19.9 12 9.8 7.4 7.9 7.5 5.1 2.3z" fill="#3d74af" stroke="#3d74af" stroke-width="0.7" fill-rule="evenodd"/>
<path d="M630 2198.9l134 39.6 1.1 4.3 -90.9-26.7 -238.5-72.1 -5.1-2.3 -7.2-6.9 -9.2-7.1 -21.2-12.9 -3.7-3 18.3 11.5 14.2 11.8z" fill="#2c85be" stroke="#2c85be" stroke-width="0.7" fill-rule="evenodd"/>
<path d="M679.3 2209.8l83.6 24.4 1.1 4.3 -176-52.2 -166.2-51.2 -13.2-11.1 -23.1-15.3 15.2 9.8 11.6 9.5 101.4 31.8z" fill="#0e98ca" stroke="#0e98ca" stroke-width="0.7" fill-rule="evenodd"/>
<path d="M656.4 2199l36.8 11.3 69.1 19.4 .6 4.5 -169-50 -161.6-49.4 -20-6.8 -11.1-9.2 -19.4-13.2 12.1 8 9.1 7.3 30.6 10.9z" fill="#0ba6c7" stroke="#0ba6c7" stroke-width="0.7" fill-rule="evenodd"/>
<path d="M591.8 2175.7l49.4 15.1 120.8 34.2 .3 4.7 -76.6-21.6 -252.1-76.3 -30.6-10.9 -25-18.4 18.4 13.1 2 0 38.2 12.7z" fill="#1ab0be" stroke="#1ab0be" stroke-width="0.7" fill-rule="evenodd"/>
<path d="M584 2169.6l177.7 50.8 .3 4.6 -120.8-34.2 -204.6-62.5 -38.2-12.7 -2 0 -22.3-16.2 12.5 8.4 47.8 16.2z" fill="#46b5b2" stroke="#46b5b2" stroke-width="0.7" fill-rule="evenodd"/>
<path d="M556 2157l205.4 58.7 .3 4.7 -170.8-48.5 -156.5-47.9 -47.8-16.2 -16.3-11.6 7.6 5.2 51.4 16.8z" fill="#45b29b" stroke="#45b29b" stroke-width="0.7" fill-rule="evenodd"/>
<path d="M535.2 2146.7l225.9 64.3 .3 4.7 -198.6-56.5 -127.8-39.2 -57.1-18.6 -11.4-8.3 5.1 2.4 23.2 7 38.7 13.2z" fill="#29aa78" stroke="#29aa78" stroke-width="0.7" fill-rule="evenodd"/>
<path d="M562 2150l198.8 56.3 .3 4.7 -229.8-65.4 -97.8-29.9 -38.7-13.2 -23.2-7 -5.6-2.8 -.8-3.6 39.8 12.8 23.6 8.5 79.5 24.5z" fill="#0ba354" stroke="#0ba354" stroke-width="0.7" fill-rule="evenodd"/>
<path d="M575.4 2149.5l185.1 52 .3 4.8 -252.7-71.4 -79.5-24.5 -23.6-8.5 -39.8-12.8 -.6-4.2 67 22.4 63.1 19.6z" fill="#01a241" stroke="#01a241" stroke-width="0.7" fill-rule="evenodd"/>
<path d="M581.9 2146.9l178.3 49.9 .3 4.7 -265.8-74.6 -63.1-19.6 -67-22.4 -.6-4.2 39.5 12.8 23.3 8.4 48 14.5z" fill="#0da333" stroke="#0da333" stroke-width="0.7" fill-rule="evenodd"/>
<path d="M581.5 2142.4l178.4 49.7 .3 4.7 -178.3-49.9 -107.1-30.5 -48-14.5 -23.3-8.4 -39.5-12.8 -.6-4.2 39.4 12.8 26 9.5 23.9 6.8 9 3.4 12.7 2.9z" fill="#1da52a" stroke="#1da52a" stroke-width="0.7" fill-rule="evenodd"/>
<path d="M581.1 2137.9l178.4 49.5 .4 4.7 -285.5-80.2 -12.7-2.9 -9-3.4 -23.9-6.8 -26-9.5 -39.4-12.8 -.6-4.2 80.2 26.4z" fill="#30a726" stroke="#30a726" stroke-width="0.7" fill-rule="evenodd"/>
<path d="M580.7 2133.3l178.5 49.3 .3 4.8 -316.5-88.7 -80.2-26.4 -.6-4.2 44.7 14.6 16.5 5.9 2.1 1.5 22.6 5.7z" fill="#41aa22" stroke="#41aa22" stroke-width="0.7" fill-rule="evenodd"/>
<path d="M580.3 2128.7l178.6 49.1 .3 4.8 -311.1-86.8 -22.6-5.7 -2.1-1.5 -16.5-5.9 -44.7-14.6 -.6-4.2 61.1 20.4z" fill="#51ae1f" stroke="#51ae1f" stroke-width="0.7" fill-rule="evenodd"/>
<path d="M573 2122.2l185.6 50.9 .3 4.7 -171.6-47.1 -164.6-46.4 -61.1-20.4 -.6-4.3 66.6 22.1z" fill="#62b21b" stroke="#62b21b" stroke-width="0.7" fill-rule="evenodd"/>
<path d="M572.6 2117.7l185.7 50.6 .3 4.8 -331-91.4 -66.6-22.1 -.6-4.2 61.6 20.1z" fill="#72b617" stroke="#72b617" stroke-width="0.7" fill-rule="evenodd"/>
<path d="M572.2 2113.1l185.8 50.4 .3 4.8 -171.8-46.8 -164.5-46 -61.6-20.1 -.6-4.3 49.9 16.7z" fill="#82b914" stroke="#82b914" stroke-width="0.7" fill-rule="evenodd"/>
<path d="M672.7 2136l85 22.7 .3 4.8 -171.9-46.6 -176.4-49.1 -49.9-16.7 -.6-4.2 36.9 12 7.4 3.1 2.2 0 15.5 4.7 2.1 1.5 4 .2z" fill="#92bc11" stroke="#92bc11" stroke-width="0.7" fill-rule="evenodd"/>
<path d="M642.8 2123.3l114.5 30.6 .4 4.8 -172-46.3 -158.4-44 -4-.2 -2.1-1.5 -15.5-4.7 -2.2 0 -7.4-3.1 -36.9-12 -.6-4.3 35.4 11.6 3.2 1.8 2-.2 27.3 8.2z" fill="#a3c00c" stroke="#a3c00c" stroke-width="0.7" fill-rule="evenodd"/>
<path d="M613.4 2110.8l143.4 38.4 .5 4.7 -179-48.1 -151.8-41.8 -27.3-8.2 -2 .2 -3.2-1.8 -35.4-11.6 -.6-4.2 32.9 10.8 35.6 10.4z" fill="#b5c705" stroke="#b5c705" stroke-width="0.7" fill-rule="evenodd"/>
<path d="M670.8 2122.2l84.8 22.5 1.2 4.5 -171.9-46.1 -164.5-45.3 -29.5-8.6 -32.9-10.8 -.7-4.3 29.2 9.5 39.7 11.5 158.2 43.4 50.2 13z" fill="#c5ce00" stroke="#c5ce00" stroke-width="0.7" fill-rule="evenodd"/>
<path d="M662.1 2115.8l92.3 24.5 1.2 4.4 -87.9-23.3 -33.1-9.9 -50.2-13 -164.3-45.1 -62.8-19.3 -.6-4.3 27.6 9.3 35.4 9.9 1.8 1.4 4.3 .3 165.3 44.6z" fill="#d3d300" stroke="#d3d300" stroke-width="0.7" fill-rule="evenodd"/>
<path d="M660.7 2111.4l92.4 24.4 1.3 4.5 -85-22.5 -78.3-22.5 -165.3-44.6 -4.3-.3 -1.8-1.4 -35.4-9.9 -27.6-9.3 -.6-4.3 19.5 6.2 2.5 1.8 5.4 .5 40.1 12.3 1.8 0 144.4 39.1z" fill="#dbd600" stroke="#dbd600" stroke-width="0.7" fill-rule="evenodd"/>
<path d="M666.7 2109.1l85.2 22.2 1.2 4.5 -85-22.3 -98.3-28.1 -144.4-39.1 -1.8 0 -40.1-12.3 -5.4-.5 -2.5-1.8 -19.5-6.2 -.6-4.3 16.5 5.7 133.6 36.9 43.1 11.1 28.5 9.1z" fill="#ded700" stroke="#ded700" stroke-width="0.7" fill-rule="evenodd"/>
<path d="M665.3 2104.7l85.3 22.1 1.3 4.5 -90.1-23.5 -84.6-23.8 -28.5-9.1 -43.1-11.1 -133.6-36.9 -16.5-5.7 -.6-4.3 63.6 18.7 111.7 30.2 46.2 14.1z" fill="#e3d400" stroke="#e3d400" stroke-width="0.7" fill-rule="evenodd"/>
<path d="M664 2100.3l85.4 22 1.2 4.5 -87.8-22.7 -86.4-24.2 -46.2-14.1 -105.6-28.5 -58.8-16.8 -10.9-3.6 -.6-4.3 69.9 20.2 76.1 20.6 7.1 1.2 69.5 21.5z" fill="#ebcc00" stroke="#ebcc00" stroke-width="0.7" fill-rule="evenodd"/>
<path d="M655.2 2093.9l7.6 2.5 85.3 21.4 1.3 4.5 -87.7-22.5 -84.8-23.7 -69.5-21.5 -7.1-1.2 -76.1-20.6 -60.6-17.1 -9.3-3.1 -.6-4.3 5.5 2.3 5.8 1 52.8 15.1 1.7 1.4 4.3 .3 70.1 18.4 78.8 24.1z" fill="#edbd06" stroke="#edbd06" stroke-width="0.7" fill-rule="evenodd"/>
<path d="M610.9 2077.6l44 16.1 -82.2-22.8 -78.8-24.1 -70.1-18.4 -4.3-.3 -1.7-1.4 -17.6-5.2 -35.2-9.9 -5.8-1 -5.5-2.3 -.6-4.1 58.4 16.2 5.9 1.8 3.1 1.9 3-.2 60.1 16 88.6 27z" fill="#edad0b" stroke="#edad0b" stroke-width="0.7" fill-rule="evenodd"/>
<path d="M574.9 2064.4l35 12.8 -37.7-10.3 -88.6-27 -60.1-16 -3 .2 -3.1-1.9 -5.9-1.8 -58.4-16.2 -.4-4.1 3 .3 32.1 8.8 33.5 10.3 1.8-.1 50.5 13.2 25.1 8.5 69.2 20.5z" fill="#ed9c0f" stroke="#ed9c0f" stroke-width="0.7" fill-rule="evenodd"/>
<path d="M553.7 2054.4l15.4 7.6 -70.4-20.9 -25.1-8.5 -50.5-13.2 -1.8 .1 -33.5-10.3 -32.1-8.8 -3-.3 -.3-5 69.5 19.9 38.6 9.2 38.2 13 49.7 14.6z" fill="#ed8f13" stroke="#ed8f13" stroke-width="0.7" fill-rule="evenodd"/>
<path d="M532.8 2044.1l15.6 7.7 -49.7-14.6 -38.2-13 -38.6-9.2 -69.5-19.9 -.4-4.4 99.8 27.4 43.7 14.3 32.8 9.5z" fill="#ed8116" stroke="#ed8116" stroke-width="0.7" fill-rule="evenodd"/>
<path d="M512.1 2034l16.2 7.9 -32.8-9.5 -43.7-14.3 -99.8-27.4 -.3-4.4 88.9 24.2 67.8 21.7z" fill="#ed7219" stroke="#ed7219" stroke-width="0.7" fill-rule="evenodd"/>
<path d="M491.7 2023.8l16.7 8.4 -67.8-21.7 -88.9-24.2 -.3-4.5 64.1 17.9 12.2 2.5z" fill="#ed641c" stroke="#ed641c" stroke-width="0.7" fill-rule="evenodd"/>
<path d="M485 2019.1l5.5 3.9 -58.9-19 -3.9-1.8 -12.2-2.5 -64.1-17.9 -.3-4.4 75.5 21.2 53.2 16.9z" fill="#ed5c1d" stroke="#ed5c1d" stroke-width="0.7" fill-rule="evenodd"/>
<path d="M471.6 2009.9l8.2 5.6 -58.8-18.7 -69.9-19.4 -.4-4.5 63.9 17.6 2.7 2.4 2.3-.3 17.1 5.3 32.4 10.3z" fill="#ed541e" stroke="#ed541e" stroke-width="0.7" fill-rule="evenodd"/>
<path d="M464.9 2005.3l4.2 2.9 -49.5-15.6 -2.3 .3 -2.7-2.4 -63.9-17.6 -.3-4.4 61.1 16.8 4.4 3.3 2.4-.3 40.1 12.6z" fill="#ed491f" stroke="#ed491f" stroke-width="0.7" fill-rule="evenodd"/>
<path d="M451.6 1996.2l6.8 4.7 -40.1-12.6 -2.4 .3 -4.4-3.3 -61.1-16.8 -.3-4.5 58.1 15.9 3.9 2.1 2.1 2.4 2.8-.4 30.7 9.6z" fill="#ed4121" stroke="#ed4121" stroke-width="0.7" fill-rule="evenodd"/>
<path d="M438.5 1987.2l9.3 6.4 -30.8-9.6 -2.8 .4 -2.1-2.4 -3.9-2.1 -58.1-15.9 -.3-4.5 54.9 14.9 6 3.3 2.2 2.4 2.7-.5z" fill="#ed3d21" stroke="#ed3d21" stroke-width="0.7" fill-rule="evenodd"/>
<path d="M431.9 1982.7l5.4 3.7 -21.7-6.8 -2.7 .5 -2.2-2.4 -6-3.3 -54.9-14.9 -.3-4.4 52 13.5 7.9 4.8 2.3 2.4 2.6-.5 12.6 3.9z" fill="#ed3d21" stroke="#ed3d21" stroke-width="0.7" fill-rule="evenodd"/>
<path d="M418.9 1973.7l8 5.5 -12.6-3.9 -2.6 .5 -2.3-2.4 -7.9-4.8 -52-13.5 -.4-4.5 48.6 13 10.4 5.5 2 2.4 2.9-.5z" fill="#ed3d21" stroke="#ed3d21" stroke-width="0.7" fill-rule="evenodd"/>
<path d="M412.4 1969.3l4.1 2.8 -3.5-1.1 -2.9 .5 -2-2.4 -10.4-5.5 -48.6-13 -.3-4.5 45.3 12 .9-.4 11.8 7 1.8 2.4z" fill="#ed3d21" stroke="#ed3d21" stroke-width="0.7" fill-rule="evenodd"/>
<path d="M406 1962l3.3 5.1 -2.5-2.4 -11.8-7 -.9 .4 -45.3-12 -.3-4.5 44.1 11.7 12.3 6.7z" fill="#ed3d21" stroke="#ed3d21" stroke-width="0.7" fill-rule="evenodd"/>
<path d="M404.9 1960l-12.3-6.7 -44.1-11.7 -.3-4.5 38.8 10.2 1.5-.4 .9 1.1 12.5 6.7z" fill="#ed3d21" stroke="#ed3d21" stroke-width="0.7" fill-rule="evenodd"/>
<path d="M399.4 1950.1l2.5 4.6 -12.5-6.7 -.9-1.1 -1.5 .4 -38.8-10.2 -.4-4.5 38.4 10z" fill="#ed3d21" stroke="#ed3d21" stroke-width="0.7" fill-rule="evenodd"/>
<path d="M399 1949.3l-12.8-6.7 -38.4-10 -.3-4.5 32.4 8.3 2.2-.3 .8 1.2 13.1 6.7z" fill="#ed3d21" stroke="#ed3d21" stroke-width="0.7" fill-rule="evenodd"/>
<path d="M396 1944l-13.1-6.7 -.8-1.2 -2.2 .3 -32.4-8.3 -.3-4.5 32.5 8.3 13.4 6.8z" fill="#ed3c20" stroke="#ed3c20" stroke-width="0.7" fill-rule="evenodd"/>
<path d="M392.9 1938.3l-13.2-6.4 -32.5-8.3 -.3-4.6 28.8 6.9 14.4 7.4z" fill="#ed3c20" stroke="#ed3c20" stroke-width="0.7" fill-rule="evenodd"/>
<path d="M390.1 1933.3l-14.4-7.4 -28.8-6.9 -.4-4.5 26.8 6.7 13.9 6.8z" fill="#ed3c20" stroke="#ed3c20" stroke-width="0.7" fill-rule="evenodd"/>
<path d="M386.4 1926.5l.8 1.5 -13.9-6.8 -26.8-6.7 -.3-4.6 23.8 6 14.2 6.8z" fill="#ed3c20" stroke="#ed3c20" stroke-width="0.7" fill-rule="evenodd"/>
<path d="M384.2 1922.7l-14.2-6.8 -23.8-6 -.3-4.5 20.6 5.2 4.2 1.7 10.6 5.1z" fill="#ed3c20" stroke="#ed3c20" stroke-width="0.7" fill-rule="evenodd"/>
<path d="M379.8 1914.7l1.5 2.7 -14.8-6.8 -20.6-5.2 -.3-4.6 18.8 4.8 14 6.5z" fill="#ed3c20" stroke="#ed3c20" stroke-width="0.7" fill-rule="evenodd"/>
<path d="M378.4 1912l-14-6.4 -18.8-4.8 -.4-4.5 16.1 4 11.5 5.2 2.6 1.2z" fill="#ed3c20" stroke="#ed3c20" stroke-width="0.7" fill-rule="evenodd"/>
<path d="M373.3 1903l2.1 3.7 -14.1-6.4 -16.1-4 -.3-4.6 11.4 2.4 16.2 7.3z" fill="#ed3c20" stroke="#ed3c20" stroke-width="0.7" fill-rule="evenodd"/>
<path d="M372.5 1901.4l-16.2-7.3 -11.4-2.4 -.3-4.6 10.3 2.6 14.7 6.4z" fill="#e63b20" stroke="#e63b20" stroke-width="0.7" fill-rule="evenodd"/>
<path d="M366.9 1891.2l2.7 4.9 -14.7-6.4 -10.3-2.6 -.4-4.5 4.7 1.1 1-.5z" fill="#d7371f" stroke="#d7371f" stroke-width="0.7" fill-rule="evenodd"/>
<path d="M366.6 1890.8l-16.7-7.6 -1 .5 -4.7-1.1 -.3-4.6 4.7 1.2 15.1 6.4z" fill="#c8311d" stroke="#c8311d" stroke-width="0.7" fill-rule="evenodd"/>
<path d="M363.7 1885.6l-15.1-6.4 -4.7-1.2 -.4-5.2 17.3 7.5z" fill="#b72c1d" stroke="#b72c1d" stroke-width="0.7" fill-rule="evenodd"/>
<path d="M360.4 1879.5l.4 .8 -17.3-7.5 -.5-3.9 14.9 6.1z" fill="#a5281c" stroke="#a5281c" stroke-width="0.7" fill-rule="evenodd"/>
<path d="M357.9 1875l-14.9-6.1 -1.1-4.5 13.1 5.3z" fill="#9d261b" stroke="#9d261b" stroke-width="0.7" fill-rule="evenodd"/>
<path d="M353.9 1867.8l1.1 1.9 -13.1-5.3 -1-4.5 11.1 4.5z" fill="#962419" stroke="#962419" stroke-width="0.7" fill-rule="evenodd"/>
<path d="M352 1864.4l-11.1-4.5 -1.1-4.5 9.3 3.8z" fill="#8e2218" stroke="#8e2218" stroke-width="0.7" fill-rule="evenodd"/>
<path d="M347.5 1856.2l1.6 3 -9.3-3.8 -1-4.4 7.4 2.9z" fill="#862017" stroke="#862017" stroke-width="0.7" fill-rule="evenodd"/>
<path d="M346.2 1853.9l-7.4-2.9 -1-4.5 5.5 2.2z" fill="#7e1d16" stroke="#7e1d16" stroke-width="0.7" fill-rule="evenodd"/>
<path d="M341 1844.5l2.3 4.2 -5.5-2.2 -1.1-4.6 3.7 1.5z" fill="#751a15" stroke="#751a15" stroke-width="0.7" fill-rule="evenodd"/>
<path d="M340.4 1843.4l-3.7-1.5 -1-4.5 1.8 .7z" fill="#6e1913" stroke="#6e1913" stroke-width="0.7" fill-rule="evenodd"/>
<path d="M337.5 1838.1l-1.8-.7 -1.1-4.5z" fill="#661712" stroke="#661712" stroke-width="0.7" fill-rule="evenodd"/>
<path d="M808.1 2266.8l-80.9-24.9 -68.4-32.2 -4.9-2.9 -35.4-24.7 -73.7-33.8 -3.4-2.1 -6.3-6.7 -2.5-8.2 -2.7-5.8 -4.9-7.4 -5.5-6.3" fill="none" stroke="#3a3a3a" stroke-width="0.9" stroke-opacity="0.75"/>
<path d="M766.4 2247.9l-90.9-26.8 -215.9-65.2 -19.4-8 -8.1-7.5 -8.9-6.8 -11.5-7.3 -14-7.8" fill="none" stroke="#3a3a3a" stroke-width="0.9" stroke-opacity="0.75"/>
<path d="M761 2210l-232.6-65.8 -88.3-27.4 -9.3-2.2 -2.7-1.5 -16.9-5.9 -45.3-14.6" fill="none" stroke="#3a3a3a" stroke-width="0.9" stroke-opacity="0.75"/>
<path d="M758.4 2170.2l-171.7-46.8 -158.5-44.4 -67.6-21.9" fill="none" stroke="#3a3a3a" stroke-width="0.9" stroke-opacity="0.75"/>
<path d="M751.9 2131.3l-90.1-23.5 -84.6-23.8 -28.5-9.1 -43.1-11.1 -80.6-22 -48.1-13.9 -4.9-1 -1.9-1 -14.6-4.7" fill="none" stroke="#3a3a3a" stroke-width="0.9" stroke-opacity="0.75"/>
<path d="M500.6 2028.3l-66.4-21.5 -1.7 0 -10.8-2.8 -2.1 .3 -3.9-1.9 -11.6-3.4 -52.5-14.5" fill="none" stroke="#3a3a3a" stroke-width="0.9" stroke-opacity="0.75"/>
<path d="M410.3 1967.8l-1.3 .3 -1.9-2.5 -11.9-6.8 -.4 .4 -45.9-12.2" fill="none" stroke="#3a3a3a" stroke-width="0.9" stroke-opacity="0.75"/>
<path d="M383.7 1921.6l-14.4-6.8 -23.2-5.8" fill="none" stroke="#3a3a3a" stroke-width="0.9" stroke-opacity="0.75"/>
<path d="M359 1877.1l-15.7-6.7" fill="none" stroke="#3a3a3a" stroke-width="0.9" stroke-opacity="0.75"/>
<path d="M515.3 2375.9l46.1 16.8 19.9 5.9 4.9 .3 -11.6-6.5 -36.5-14.8 -38-13.2 -12.7-3.5 -4.1-.4 1.7 1.8 5 2.7zM334 2303.6l33.8 11.7 12.1 2.9 4.4-.2 -1.9-2.2 -6.9-3.7 -24.8-10.3 -27.7-8.8 -8.5-1.8 -3.2 .2 1.5 2 3.8 2.3z" fill="#10000e" stroke="#10000e" stroke-width="0.7" fill-rule="evenodd"/>
<path d="M211.7 2261.4l217 80.3 100.7 39.6 76.7 26.6 5-1.8 7.7-6 17.2-10 -90.5-33.7 -122.4-42.8 -189.3-69 -4.3 4.2 -23.6 10.5zM509.4 2373.5l-19.4-8.5 -5-2.7 -1.7-1.8 4.1 .4 12.7 3.5 38 13.2 36.5 14.8 11.6 6.5 -4.9-.3 -19.9-5.9zM333.2 2303.2l-16.6-7.5 -3.8-2.3 -1.5-2 3.2-.2 8.5 1.8 27.7 8.8 24.8 10.3 6.9 3.7 1.9 2.2 -4.4 .2 -12.1-2.9z" fill="#8b2283" stroke="#8b2283" stroke-width="0.7" fill-rule="evenodd"/>
<path d="M239.6 2246.8l183.5 66.8 122.4 42.8 90.5 33.7 10.7-10.6 -170.4-61 -159.7-56.1 -75.6-24.9 -7.2 7.1z" fill="#892281" stroke="#892281" stroke-width="0.7" fill-rule="evenodd"/>
<path d="M247.2 2239.5l69.4 22.9 159.7 56.1 170.4 61 10.1-10.2 -178.7-61.9 -155.8-51.8 -76.8-24.3 -4.5 6.2z" fill="#862280" stroke="#862280" stroke-width="0.7" fill-rule="evenodd"/>
<path d="M249.2 2232.6l73.1 23 155.8 51.8 178.7 61.9 10.9-10.5 -91.7-31.5 -81.3-26.4 -166-52.3 -34.7-9.3 -45-13.7 -3.5 5.7z" fill="#84227f" stroke="#84227f" stroke-width="0.7" fill-rule="evenodd"/>
<path d="M249.5 2225.7l44.5 13.6 34.7 9.3 166 52.3 88.9 28.9 84.1 29 13.4-11.8 -83-29 -96.5-30.3 -53.1-14.2 -112.9-32.1 -46.5-11.5 -36.6-10.1 -3.5 5.8z" fill="#7f217f" stroke="#7f217f" stroke-width="0.7" fill-rule="evenodd"/>
<path d="M257.5 2221.3l78.1 20.1 173.4 48.5 89.1 28.1 83 29 11.2-10.5 -81.9-29 -86.7-28.7 -85.3-25.8 -64.3-15.8 -27.1-4.6 -5.4-.1 -38-7 -46.7-11.7 -4.4 6z" fill="#7b207e" stroke="#7b207e" stroke-width="0.7" fill-rule="evenodd"/>
<path d="M258.8 2214.3l44.8 11.2 38 7 5.4 .1 27.1 4.6 64.3 15.8 85.3 25.8 86.7 28.7 81.9 29 6.7-6.7 .8-2 -178.1-58.2 -76-24.1 -87-26.3 -5.7-1.3 -26.2-.9 -14.7 1.1 -50.6-10.4 -4.6 6.1z" fill="#75207e" stroke="#75207e" stroke-width="0.7" fill-rule="evenodd"/>
<path d="M264.2 2208.4l47.9 9.7 14.7-1.1 26.2 .9 5.7 1.3 87 26.3 76 24.1 178.1 58.2 2.4-6.1 -177.5-58.1 -75.6-24.1 -86.4-26.3 -41-9.6 -23.7-.5 -12 1.7 -18.6-3.7 -5.9 6.6z" fill="#6f207f" stroke="#6f207f" stroke-width="0.7" fill-rule="evenodd"/>
<path d="M269.4 2201.5l16.6 3.3 12-1.7 23.7 .5 41 9.6 86.4 26.3 75.6 24.1 177.5 58.1 2.1-5.9 -253.1-81.7 -79.2-24.5 -25.5-6.9 -57-13.6 -18.3 8.1 -3.8 3.9z" fill="#692080" stroke="#692080" stroke-width="0.7" fill-rule="evenodd"/>
<path d="M291.1 2189.3l80.9 20.3 154.8 48.4 177.5 57.8 1.6-5.7 -177-57.7 -154.7-48.1 -81-21 -3.7 5.8z" fill="#621f7f" stroke="#621f7f" stroke-width="0.7" fill-rule="evenodd"/>
<path d="M295.9 2183.9l71.6 18.5 85.9 26.2 252.5 81.5 1.6-5.7 -169.9-55.1 -138.1-43.2 -29.9-9 -73.3-19.3 -3.1 5.5z" fill="#5a1e7e" stroke="#5a1e7e" stroke-width="0.7" fill-rule="evenodd"/>
<path d="M297.9 2178.2l71.7 18.9 29.9 9 138.1 43.2 169.9 55.1 1.6-5.7 -90.7-29.5 -161.8-51.1 -85.4-26 -73.3-19.3 -1.6 5z" fill="#541e7d" stroke="#541e7d" stroke-width="0.7" fill-rule="evenodd"/>
<path d="M299 2173.1l72.2 19 85.4 26 161.8 51.1 90.7 29.5 1.6-5.6 -90.7-29.4 -161.9-50.8 -85.6-25.8 -73-19.3 -1.6 5z" fill="#4f1e7c" stroke="#4f1e7c" stroke-width="0.7" fill-rule="evenodd"/>
<path d="M300.2 2168l72.3 19.1 85.6 25.8 161.9 50.8 90.7 29.4 1.6-5.7 -90.7-29.3 -161.9-50.4 -85.9-25.6 -72.7-19.3 -1.6 5z" fill="#4c2480" stroke="#4c2480" stroke-width="0.7" fill-rule="evenodd"/>
<path d="M301.5 2162.9l72.3 19.2 85.9 25.6 161.9 50.4 90.7 29.3 1.7-5.7 -90.6-29.1 -162-50.2 -79.4-23.6 -79.3-21z" fill="#4a2e86" stroke="#4a2e86" stroke-width="0.7" fill-rule="evenodd"/>
<path d="M302.8 2157.8l79.2 21 79.4 23.6 162 50.2 90.6 29.1 1.7-5.7 -163.1-51.4 -175.6-52.7 -73.4-18.8z" fill="#4a4996" stroke="#4a4996" stroke-width="0.7" fill-rule="evenodd"/>
<path d="M307 2154l70 17.9 29.1 8.6 175.2 52.9 134.4 42.6 1.6-5.7 -171.1-52.9 -168.6-50.2 -73.1-18.9 -.9 4.8z" fill="#4a67aa" stroke="#4a67aa" stroke-width="0.7" fill-rule="evenodd"/>
<path d="M304.7 2148.4l79.4 20.6 242.1 72.7 91.1 28.6 1.2-4.1 .3-1.5 -84.4-25.9 -256.4-76.3 -72.6-19z" fill="#427cbc" stroke="#427cbc" stroke-width="0.7" fill-rule="evenodd"/>
<path d="M308.9 2144.5l39.8 9.9 3.2 1.5 4.2 .5 28.4 8 162.4 48 171.9 52.3 .8-5.3 -255.3-76.6 -85.9-25 -71.8-19.1 -1.2 4.8z" fill="#2f8fcc" stroke="#2f8fcc" stroke-width="0.7" fill-rule="evenodd"/>
<path d="M309.4 2139.4l69 18.4 85.9 25 255.3 76.6 .8-5.3 -248.8-74.2 -86.2-24.9 -77.5-21.2 -1.3 4.9z" fill="#10a3d9" stroke="#10a3d9" stroke-width="0.7" fill-rule="evenodd"/>
<path d="M308.4 2133.9l77 21.1 86.2 24.9 248.8 74.2 .9-5.3 -179.5-53.5 -155.9-45.1 -75.6-20.6 -1.7-.1z" fill="#0cb2d6" stroke="#0cb2d6" stroke-width="0.7" fill-rule="evenodd"/>
<path d="M310.3 2129.6l69 18.8 86.2 24.7 255.8 75.7 .8-5.3 -179.6-53.2 -156.1-44.8 -77.6-20.9 -.2 4.9z" fill="#1cbdcd" stroke="#1cbdcd" stroke-width="0.7" fill-rule="evenodd"/>
<path d="M312.3 2125.6l74.1 19.9 79.7 22.7 256 75.3 .8-5.3 -256.2-74.9 -79.7-22.6 -77.9-20.7 -.3 4.6z" fill="#4bc3bf" stroke="#4bc3bf" stroke-width="0.7" fill-rule="evenodd"/>
<path d="M314.1 2121.4l72.9 19.3 79.7 22.6 256.2 74.9 .8-5.1 -15.8-4.9 -240.6-69.8 -79.7-22.4 -78.3-20.5 -.2 4.5z" fill="#4abfa7" stroke="#4abfa7" stroke-width="0.7" fill-rule="evenodd"/>
<path d="M315.5 2117.2l72.1 18.8 79.7 22.4 256.4 74.7 .7-5.5 -256.4-74.1 -79.8-22.3 -4.3-.5 -2.3-1.3 -72.1-18.5 -.2 4.6z" fill="#2db781" stroke="#2db781" stroke-width="0.7" fill-rule="evenodd"/>
<path d="M315.8 2112.6l65.8 16.8 2.3 1.3 4.3 .5 79.8 22.3 256.4 74.1 .7-5.2 -256.5-73.7 -79.8-22.3 -79-20 -.3 4.5z" fill="#0caf5a" stroke="#0caf5a" stroke-width="0.7" fill-rule="evenodd"/>
<path d="M316.1 2108l72.7 18.4 79.8 22.3 256.5 73.7 .7-5.3 -256.5-73.4 -79.9-22 -79.2-19.9 -.4 4.6z" fill="#02ae46" stroke="#02ae46" stroke-width="0.7" fill-rule="evenodd"/>
<path d="M314.5 2102.9l74.9 18.8 79.9 22 256.5 73.4 .7-5.3 -256.3-73 -80.2-21.9 -2.9-.2 -3.7-1.5 -72.8-18.1 -.4 4.7z" fill="#0eaf37" stroke="#0eaf37" stroke-width="0.7" fill-rule="evenodd"/>
<path d="M312.8 2097.7l70.6 17.5 3.7 1.5 2.9 .2 80.2 21.9 256.3 73 .7-5.2 -84.9-24.7 -171.3-48.1 -80.4-21.7 -79.6-19.6 -.4 4.6z" fill="#1fb12e" stroke="#1fb12e" stroke-width="0.7" fill-rule="evenodd"/>
<path d="M311.2 2092.5l79.4 19.6 80.4 21.7 171.3 48.1 84.9 24.7 .6-5.3 -172.1-49.3 -83.9-23.2 -80.5-21.5 -79.8-19.4z" fill="#33b329" stroke="#33b329" stroke-width="0.7" fill-rule="evenodd"/>
<path d="M316.4 2089.1l74.9 18.2 80.5 21.5 83.9 23.2 172.1 49.3 .7-5.3 -91.6-26.6 -157.5-43.7 -87.5-23.2 -2.9-.1 -3.8-1.6 -73.3-17.6 -.4 4.7z" fill="#46b725" stroke="#46b725" stroke-width="0.7" fill-rule="evenodd"/>
<path d="M314.8 2084l70.4 16.8 3.8 1.6 2.9 .1 80.7 21.4 164.3 45.5 91.6 26.6 .8-5.3 -83.8-24.5 -95-26.5 -158-42 -80.2-19.1 -.4 4.6z" fill="#58bb21" stroke="#58bb21" stroke-width="0.7" fill-rule="evenodd"/>
<path d="M313.2 2078.8l79.3 18.9 80.9 21.2 164.6 45.2 91.3 26.6 1.2-5.5 -83.9-24.3 -95.2-26.3 -158.2-41.7 -5-.5 -1.8-1.1 -73.7-17.3 -.4 4.6z" fill="#69bf1d" stroke="#69bf1d" stroke-width="0.7" fill-rule="evenodd"/>
<path d="M318.7 2075.5l67.7 15.8 1.8 1.1 5 .5 81 21 164.9 44.9 91.4 26.4 1.1-5.5 -91.4-26.2 -172.3-46.3 -67.9-17.4 -8.9-1.6 -5.4-2 -72.6-16.9 -.4 4.7z" fill="#7ac418" stroke="#7ac418" stroke-width="0.7" fill-rule="evenodd"/>
<path d="M318.1 2070.6l81.9 19.2 138 35.8 109.7 30 83.9 24.1 1.2-5.5 -84-23.9 -95.7-25.9 -159-41 -3.3 0 -3.4-1.7 -74-17 -.3 4.6z" fill="#8cc715" stroke="#8cc715" stroke-width="0.7" fill-rule="evenodd"/>
<path d="M317.6 2065.8l69.8 15.9 3.4 1.7 3.3 0 159 41 95.7 25.9 84 23.9 1.1-5.5 -84-23.8 -88.8-23.7 -166.6-42.5 -3.2 0 -3.6-1.7 -74-16.9 -.3 4.6z" fill="#9dca12" stroke="#9dca12" stroke-width="0.7" fill-rule="evenodd"/>
<path d="M317.2 2060.9l70.5 16.1 3.6 1.7 3.2 0 159.3 40.6 96.1 25.6 84 23.8 1.2-5.4 -84.3-23.6 -89-23.5 -167-42.3 -3 .1 -3.7-1.7 -74-16.8 -.4 4.6z" fill="#afcf0d" stroke="#afcf0d" stroke-width="0.7" fill-rule="evenodd"/>
<path d="M316.8 2056.1l71.3 16.2 3.7 1.7 3-.1 159.7 40.4 96.3 25.4 84.3 23.6 1.1-5.5 -84.5-23.4 -89.2-23.3 -167.4-41.9 -2.8 .1 -3.9-1.7 -74-16.8 -.3 4.7z" fill="#c2d705" stroke="#c2d705" stroke-width="0.7" fill-rule="evenodd"/>
<path d="M316.4 2051.3l72 16.3 3.9 1.7 2.8-.1 160.1 40 96.5 25.2 84.5 23.4 1.2-5.5 -84.7-23.2 -89.5-23.1 -167.7-41.5 -2.7 .1 -4.1-1.7 -73.9-16.7 -.4 4.6z" fill="#d4de00" stroke="#d4de00" stroke-width="0.7" fill-rule="evenodd"/>
<path d="M316.1 2046.5l72.6 16.4 4.1 1.7 2.7-.1 160.4 39.7 96.8 24.9 84.7 23.2 1.2-5.5 -85-23 -89.7-22.8 -168.1-41.2 -2.5 .1 -4.3-1.7 -73.9-16.6 -.3 4.6z" fill="#e3e300" stroke="#e3e300" stroke-width="0.7" fill-rule="evenodd"/>
<path d="M315.8 2041.7l73.2 16.5 4.3 1.7 2.5-.1 160.8 39.3 97 24.7 85 23 1.1-5.5 -130.7-34.5 -80.8-20.1 -132-31.7 -2.5 .2 -4.4-1.7 -54.1-11.6 -19.7-5 -.4 4.7z" fill="#ece700" stroke="#ece700" stroke-width="0.7" fill-rule="evenodd"/>
<path d="M315.6 2036.9l19.6 5 54.1 11.6 4.4 1.7 2.5-.2 132 31.7 80.8 20.1 130.7 34.5 1.2-5.5 -85-22.7 -89.9-22.5 -101.1-24.5 -149.1-33.8z" fill="#efe800" stroke="#efe800" stroke-width="0.7" fill-rule="evenodd"/>
<path d="M320.9 2033.6l144 32.5 93.7 22.7 97.3 24.3 85 22.7 1.1-5.5 -84.5-22.7 -90.3-22.3 -170.4-39.8 -2.1 .2 -4.7-1.7 -73.9-16.3 -.3 4.6z" fill="#f4e400" stroke="#f4e400" stroke-width="0.7" fill-rule="evenodd"/>
<path d="M316.2 2027.7l73.8 16.3 4.7 1.7 2.1-.2 170.4 39.8 90.3 22.3 84.5 22.7 1.8-5.7 -100.1-26.5 -82.6-19.8 -157.2-36.2 -6.7-1.4 -2.1 .3 -4.8-1.7 -74.1-16.3z" fill="#fcdb00" stroke="#fcdb00" stroke-width="0.7" fill-rule="evenodd"/>
<path d="M318.9 2023.7l71.4 15.6 4.8 1.7 2.1-.3 6.7 1.4 164.6 38 90.9 21.8 84.4 22.7 4.3-6.8 -85.3-21.4 -7.9-2.7 -257.2-57.7 -2.9 .3 -4.1-2.1 -74.4-15.8 -.1 4.6z" fill="#ffcb07" stroke="#ffcb07" stroke-width="0.7" fill-rule="evenodd"/>
<path d="M321.5 2019.6l69.2 14.6 4.1 2.1 2.9-.3 257.2 57.7 -45-16.5 -293.4-63.4 -.2 4.6z" fill="#ffba0c" stroke="#ffba0c" stroke-width="0.7" fill-rule="evenodd"/>
<path d="M317.6 2014.1l292.3 63.1 -42.2-15.6 -44.1-8.2 -124.4-27.2 -2.5 .3 -4.7-1.7 -24.8-4.6 -50.6-11 -.1 4.6z" fill="#ffa810" stroke="#ffa810" stroke-width="0.7" fill-rule="evenodd"/>
<path d="M320.2 2010l71.8 14.8 4.7 1.7 2.5-.3 124.4 27.2 45.5 8.6 -20.7-10.2 -50.2-9.4 -98.2-21.1 -2.4 .3 -4.9-1.6 -20.3-3.5 -55.7-11.9 -.1 4.6z" fill="#ff9914" stroke="#ff9914" stroke-width="0.7" fill-rule="evenodd"/>
<path d="M322.5 2005.9l49.9 10.6 20.3 3.5 4.9 1.6 2.4-.3 98.2 21.1 50.2 9.4 -20.1-9.9 -49.2-8.9 -78.4-16.5 -5.6-.3 -1.6-1.1 -24.3-4 -52.3-11.1 -.2 4.6z" fill="#ff8b18" stroke="#ff8b18" stroke-width="0.7" fill-rule="evenodd"/>
<path d="M318.9 2000.4l50.3 10.7 24.3 4 1.6 1.1 5.6 .3 78.4 16.5 49.2 8.9 -19.9-9.7 -44.4-7.5 -62.5-13.1 -5.4-.1 -1.9-1.3 -28.2-4.5 -49-10.4 -.1 4.7z" fill="#ff7b1b" stroke="#ff7b1b" stroke-width="0.7" fill-rule="evenodd"/>
<path d="M321.3 1996.3l44.7 9.4 28.2 4.5 1.9 1.3 5.4 .1 62.5 13.1 44.4 7.5 -17.9-9.2 -34.4-5.2 -53.9-11.1 -5.1 .2 -2.2-1.6 -36.4-5.9 -41.4-8.7 -.1 4.6z" fill="#ff6b1e" stroke="#ff6b1e" stroke-width="0.7" fill-rule="evenodd"/>
<path d="M317.8 1990.9l40.7 8.5 36.4 5.9 2.2 1.6 5.1-.2 53.9 11.1 34.4 5.2 -10.7-7.5 -37.5-5.6 -39.3-8.1 -5 .4 -2.3-1.7 -34-5.3 -4.2-1.4 -2.2 .2 -38-7.9 -.2 4.6z" fill="#ff631f" stroke="#ff631f" stroke-width="0.7" fill-rule="evenodd"/>
<path d="M320.2 1986.7l35.1 7.3 2.2-.2 4.2 1.4 34 5.3 2.3 1.7 5-.4 39.3 8.1 37.5 5.6 -10.7-7.3 -38.1-5.8 -27.3-5.5 -4.7 .6 -2.6-1.9 -44.2-7 -34.8-7.2 -.1 4.7z" fill="#ff5a20" stroke="#ff5a20" stroke-width="0.7" fill-rule="evenodd"/>
<path d="M322.4 1982.5l29.8 6.1 44.2 7 2.6 1.9 4.7-.6 27.3 5.5 38.1 5.8 -10.7-7.3 -53.9-8.9 -4.5 .8 -2.9-2.1 -48.5-7.6 -31.1-6.3 -.1 4.6z" fill="#ff4e22" stroke="#ff4e22" stroke-width="0.7" fill-rule="evenodd"/>
<path d="M319.1 1977.1l29.5 6 48.5 7.6 2.9 2.1 4.5-.8 53.9 8.9 -10.6-7.3 -42.4-6.6 -4.5 .9 -3-2.1 -50.2-7.7 -30-6 -.2 4.7z" fill="#ff4623" stroke="#ff4623" stroke-width="0.7" fill-rule="evenodd"/>
<path d="M321.3 1972.9l29.2 5.7 47.4 7.2 3 2.1 4.5-.9 42.4 6.6 -10.5-7.2 -29.8-4.6 -5.8 .9 -3.1-1.8 -49-7.4 -31.8-6 -.1 4.6z" fill="#ff4224" stroke="#ff4224" stroke-width="0.7" fill-rule="evenodd"/>
<path d="M318.1 1967.6l31.5 5.9 49 7.4 3.1 1.8 5.8-.9 29.8 4.6 -10.4-7.2 -17.3-2.6 -5.8 .9 -3.2-1.8 -36.1-4.7 -46.6-8.2z" fill="#ff4224" stroke="#ff4224" stroke-width="0.7" fill-rule="evenodd"/>
<path d="M320.3 1963.3l46.6 8.1 33.7 4.3 3.2 1.8 5.8-.9 17.3 2.6 -10.4-7.1 -4.9-.8 -5.8 1.1 -3.1-1.9 -10.4-.4 -14.6-2 -59.6-9.9 -.2 4.6z" fill="#ff4224" stroke="#ff4224" stroke-width="0.7" fill-rule="evenodd"/>
<path d="M322.4 1959.1l57.5 9.3 12.4 1.7 10.4 .4 3.1 1.9 5.8-1.1 4.9 .8 -7.2-5 -1.5 .1 -3.1-1.9 -17.2-.8 -69.3-11 -.1 4.7z" fill="#ff4224" stroke="#ff4224" stroke-width="0.7" fill-rule="evenodd"/>
<path d="M319.3 1953.7l68.2 10.8 17.2 .8 3.1 1.9 1.5-.1 -4.4-7.1 -20.4-.8 -66-10.6 -.3 4.9z" fill="#ff4123" stroke="#ff4123" stroke-width="0.7" fill-rule="evenodd"/>
<path d="M319.6 1949l64.9 10.2 20.4 .8 -3-5.3 -20.5-.9 -62.5-9.7 -.4 4.5z" fill="#ff4123" stroke="#ff4123" stroke-width="0.7" fill-rule="evenodd"/>
<path d="M319 1944.1l62.4 9.7 20.5 .9 -2.9-5.4 -20.6-.9 -59.1-9.1z" fill="#ff4123" stroke="#ff4123" stroke-width="0.7" fill-rule="evenodd"/>
<path d="M321.6 1939.7l56.8 8.7 20.6 .9 -3-5.3 -22.8-1.2 -53.4-8.2 -.5 4.7z" fill="#ff4123" stroke="#ff4123" stroke-width="0.7" fill-rule="evenodd"/>
<path d="M321.1 1934.8l52.1 8 22.8 1.2 -2.9-5.3 -20.8-1 -52.1-7.9 -.4 4.8z" fill="#ff4123" stroke="#ff4123" stroke-width="0.7" fill-rule="evenodd"/>
<path d="M320.5 1929.9l51.8 7.8 20.8 1 -3-5.4 -21-1 -48.4-7.3z" fill="#ff4123" stroke="#ff4123" stroke-width="0.7" fill-rule="evenodd"/>
<path d="M323 1925.4l46.1 6.9 21 1 -2.9-5.3 -21.2-1 -44.9-6.7 -.4 4.7z" fill="#ff4123" stroke="#ff4123" stroke-width="0.7" fill-rule="evenodd"/>
<path d="M322.5 1920.5l43.5 6.5 21.2 1 -3-5.3 -23.1-1.3 -39.6-5.9 -.4 4.8z" fill="#ff4123" stroke="#ff4123" stroke-width="0.7" fill-rule="evenodd"/>
<path d="M322 1915.6l39.1 5.8 23.1 1.3 -2.9-5.3 -23.3-1.3 -36-5.4z" fill="#ff4022" stroke="#ff4022" stroke-width="0.7" fill-rule="evenodd"/>
<path d="M324.4 1911.1l33.6 5 23.3 1.3 -2.9-5.3 -23.4-1.3 -32.6-4.8 -.4 4.7z" fill="#ff4022" stroke="#ff4022" stroke-width="0.7" fill-rule="evenodd"/>
<path d="M324 1906.2l31 4.6 23.4 1.3 -3-5.4 -23.4-1.3 -29.1-4.2 -.5 4.8z" fill="#ff4022" stroke="#ff4022" stroke-width="0.7" fill-rule="evenodd"/>
<path d="M323.5 1901.3l28.5 4.1 23.4 1.3 -2.9-5.3 -22.2-1.2 -27-3.8 -.4 4.8z" fill="#ff4022" stroke="#ff4022" stroke-width="0.7" fill-rule="evenodd"/>
<path d="M325.8 1896.8l24.5 3.4 22.2 1.2 -2.9-5.3 -23.7-1.3 -22.2-3.2 -.4 4.8z" fill="#f73f22" stroke="#f73f22" stroke-width="0.7" fill-rule="evenodd"/>
<path d="M325.4 1891.9l20.5 2.9 23.7 1.3 -3-5.3 -23.8-1.3 -18.6-2.7 -.5 4.8z" fill="#e83b21" stroke="#e83b21" stroke-width="0.7" fill-rule="evenodd"/>
<path d="M325 1886.9l17.8 2.6 23.8 1.3 -2.9-5.2 -24.1-1.5 -15-2.1 -.4 4.8z" fill="#d73520" stroke="#d73520" stroke-width="0.7" fill-rule="evenodd"/>
<path d="M327.2 1882.4l12.4 1.7 24.1 1.5 -2.9-5.3 -24.3-1.5 -11.4-1.6 -.5 4.8z" fill="#c52f1f" stroke="#c52f1f" stroke-width="0.7" fill-rule="evenodd"/>
<path d="M326.8 1877.5l9.7 1.3 24.3 1.5 -2.9-5.3 -32.4-2.6 -.4 4.8z" fill="#b22a1e" stroke="#b22a1e" stroke-width="0.7" fill-rule="evenodd"/>
<path d="M326.4 1872.6l31.5 2.4 -2.9-5.3 -29-2.1 -.5 4.8z" fill="#a9281d" stroke="#a9281d" stroke-width="0.7" fill-rule="evenodd"/>
<path d="M326 1867.7l29 2 -3-5.3 -25.5-1.7z" fill="#a1271b" stroke="#a1271b" stroke-width="0.7" fill-rule="evenodd"/>
<path d="M327.1 1862.9l24.9 1.5 -2.9-5.2 -21.2-1.4 -1.4 4.9z" fill="#99251a" stroke="#99251a" stroke-width="0.7" fill-rule="evenodd"/>
<path d="M327.9 1857.8l21.2 1.4 -2.9-5.3 -17-1.1z" fill="#902218" stroke="#902218" stroke-width="0.7" fill-rule="evenodd"/>
<path d="M330 1852.9l16.2 1 -2.9-5.2 -12.7-.8 -1.4 4.9z" fill="#871f17" stroke="#871f17" stroke-width="0.7" fill-rule="evenodd"/>
<path d="M330.8 1847.9l12.5 .8 -2.9-5.3 -8.5-.5z" fill="#7e1c16" stroke="#7e1c16" stroke-width="0.7" fill-rule="evenodd"/>
<path d="M332.9 1842.9l7.5 .5 -2.9-5.3 -4.2-.2 -1.4 5z" fill="#761b15" stroke="#761b15" stroke-width="0.7" fill-rule="evenodd"/>
<path d="M333.8 1837.9l3.7 .2 -2.9-5.2 -1.3 5z" fill="#6e1913" stroke="#6e1913" stroke-width="0.7" fill-rule="evenodd"/>
<path d="M270.1 2198.4l5.5 1.1 11.2-1.9 21.8 .2 55.6 13.1 161.3 50.5 177.7 57.8" fill="none" stroke="#3a3a3a" stroke-width="0.9" stroke-opacity="0.75"/>
<path d="M304.3 2149.3l79.7 20.7 242 72.8 91 28.6" fill="none" stroke="#3a3a3a" stroke-width="0.9" stroke-opacity="0.75"/>
<path d="M309.5 2109.8l78.8 20.4 79.8 22.4 256.5 74" fill="none" stroke="#3a3a3a" stroke-width="0.9" stroke-opacity="0.75"/>
<path d="M312.9 2071.2l73.9 17.2 1.8 1.1 4.9 .5 108.9 28.3 137.3 37.3 91.5 26.3" fill="none" stroke="#3a3a3a" stroke-width="0.9" stroke-opacity="0.75"/>
<path d="M315.8 2032.3l149.1 33.8 93.7 22.7 97.3 24.3 85 22.7" fill="none" stroke="#3a3a3a" stroke-width="0.9" stroke-opacity="0.75"/>
<path d="M317.1 1993.5l47.6 10 29.8 4.8 2.7 1.9 4.6-.6 58.1 12.2 40.7 6.5" fill="none" stroke="#3a3a3a" stroke-width="0.9" stroke-opacity="0.75"/>
<path d="M318.2 1954.4l56.9 9.4 14.7 2 14.5 .5 3.1 1.9 2.9-.4" fill="none" stroke="#3a3a3a" stroke-width="0.9" stroke-opacity="0.75"/>
<path d="M321.6 1914.6l38.9 5.7 23.2 1.3" fill="none" stroke="#3a3a3a" stroke-width="0.9" stroke-opacity="0.75"/>
<path d="M325.3 1874.4l9.3 1.2 24.4 1.5" fill="none" stroke="#3a3a3a" stroke-width="0.9" stroke-opacity="0.75"/>
<defs><linearGradient id="cbE" x1="0" y1="0" x2="0" y2="1"><stop offset="0.0000" stop-color="#6a1812"/><stop offset="0.0280" stop-color="#7d1c16"/><stop offset="0.0610" stop-color="#962419"/><stop offset="0.1000" stop-color="#b02a1e"/><stop offset="0.1200" stop-color="#d0321f"/><stop offset="0.1430" stop-color="#f03e22"/><stop offset="0.1550" stop-color="#ff4022"/><stop offset="0.3450" stop-color="#ff4224"/><stop offset="0.3590" stop-color="#ff4a22"/><stop offset="0.3790" stop-color="#ff5e20"/><stop offset="0.4000" stop-color="#ff6c1e"/><stop offset="0.4220" stop-color="#ff8a18"/><stop offset="0.4480" stop-color="#ffaa10"/><stop offset="0.4680" stop-color="#ffc808"/><stop offset="0.4830" stop-color="#fcdc00"/><stop offset="0.5000" stop-color="#f0e800"/><stop offset="0.5240" stop-color="#eae600"/><stop offset="0.5450" stop-color="#d0dc00"/><stop offset="0.5700" stop-color="#a8cc10"/><stop offset="0.6000" stop-color="#7cc418"/><stop offset="0.6220" stop-color="#5cbc20"/><stop offset="0.6460" stop-color="#38b428"/><stop offset="0.6670" stop-color="#14b030"/><stop offset="0.6860" stop-color="#00ae48"/><stop offset="0.7000" stop-color="#10b060"/><stop offset="0.7140" stop-color="#40bc98"/><stop offset="0.7290" stop-color="#58c4bc"/><stop offset="0.7470" stop-color="#10bcd0"/><stop offset="0.7650" stop-color="#08a8dc"/><stop offset="0.7840" stop-color="#3a88c8"/><stop offset="0.8000" stop-color="#4a70b0"/><stop offset="0.8140" stop-color="#4a4c98"/><stop offset="0.8290" stop-color="#4a2a84"/><stop offset="0.8480" stop-color="#4e1e7c"/><stop offset="0.8690" stop-color="#561e7e"/><stop offset="0.9000" stop-color="#6a2080"/><stop offset="0.9280" stop-color="#78207e"/><stop offset="0.9590" stop-color="#84227f"/><stop offset="0.9890" stop-color="#8a2282"/><stop offset="1.0000" stop-color="#8c2284"/></linearGradient></defs>
<rect x="915.0" y="1714.5" width="48.7" height="5.5" fill="#fbf4f2"/>
<rect x="915.0" y="1720.0" width="48.7" height="479.3" fill="url(#cbE)"/>
<rect x="915.0" y="2199.3" width="48.7" height="5.7" fill="#14000e"/>
<rect x="915.0" y="1714.5" width="48.7" height="490.5" fill="none" stroke="#4a4a55" stroke-width="1.6"/>
<line x1="963.7" y1="1720.0" x2="974.7" y2="1720.0" stroke="#333" stroke-width="2"/>
<text transform="translate(987.8,1730.6) scale(1.05,1)" font-size="30.5" font-family="Liberation Sans, Arial, sans-serif" font-weight="bold" fill="#111">0.39</text>
<line x1="963.7" y1="1767.9" x2="974.7" y2="1767.9" stroke="#333" stroke-width="2"/>
<text transform="translate(987.8,1778.5) scale(1.05,1)" font-size="30.5" font-family="Liberation Sans, Arial, sans-serif" font-weight="bold" fill="#111">0.35</text>
<line x1="963.7" y1="1815.9" x2="974.7" y2="1815.9" stroke="#333" stroke-width="2"/>
<text transform="translate(987.8,1826.5) scale(1.05,1)" font-size="30.5" font-family="Liberation Sans, Arial, sans-serif" font-weight="bold" fill="#111">0.31</text>
<line x1="963.7" y1="1863.8" x2="974.7" y2="1863.8" stroke="#333" stroke-width="2"/>
<text transform="translate(987.8,1874.4) scale(1.05,1)" font-size="30.5" font-family="Liberation Sans, Arial, sans-serif" font-weight="bold" fill="#111">0.27</text>
<line x1="963.7" y1="1911.7" x2="974.7" y2="1911.7" stroke="#333" stroke-width="2"/>
<text transform="translate(987.8,1922.3) scale(1.05,1)" font-size="30.5" font-family="Liberation Sans, Arial, sans-serif" font-weight="bold" fill="#111">0.24</text>
<line x1="963.7" y1="1959.7" x2="974.7" y2="1959.7" stroke="#333" stroke-width="2"/>
<text transform="translate(987.8,1970.2) scale(1.05,1)" font-size="30.5" font-family="Liberation Sans, Arial, sans-serif" font-weight="bold" fill="#111">0.2</text>
<line x1="963.7" y1="2007.6" x2="974.7" y2="2007.6" stroke="#333" stroke-width="2"/>
<text transform="translate(987.8,2018.2) scale(1.05,1)" font-size="30.5" font-family="Liberation Sans, Arial, sans-serif" font-weight="bold" fill="#111">0.16</text>
<line x1="963.7" y1="2055.5" x2="974.7" y2="2055.5" stroke="#333" stroke-width="2"/>
<text transform="translate(987.8,2066.1) scale(1.05,1)" font-size="30.5" font-family="Liberation Sans, Arial, sans-serif" font-weight="bold" fill="#111">0.12</text>
<line x1="963.7" y1="2103.4" x2="974.7" y2="2103.4" stroke="#333" stroke-width="2"/>
<text transform="translate(987.8,2114.0) scale(1.05,1)" font-size="30.5" font-family="Liberation Sans, Arial, sans-serif" font-weight="bold" fill="#111">0.08</text>
<line x1="963.7" y1="2151.4" x2="974.7" y2="2151.4" stroke="#333" stroke-width="2"/>
<text transform="translate(987.8,2162.0) scale(1.05,1)" font-size="30.5" font-family="Liberation Sans, Arial, sans-serif" font-weight="bold" fill="#111">0.04</text>
<line x1="963.7" y1="2199.3" x2="974.7" y2="2199.3" stroke="#333" stroke-width="2"/>
<text transform="translate(987.8,2209.9) scale(1.05,1)" font-size="30.5" font-family="Liberation Sans, Arial, sans-serif" font-weight="bold" fill="#111">0</text></g>
<g><text x="1086.9" y="1696.6" font-size="84" font-family="Liberation Sans, Arial, sans-serif" font-weight="bold" fill="#0d0d0d">F</text>
<text transform="translate(1996.7,1685.4) scale(1.15,1)" font-size="36" font-family="Liberation Sans, Arial, sans-serif" font-weight="bold" fill="#111">180 s</text>
<text transform="translate(1144.9,1739.3) rotate(87) scale(0.985,1)" font-size="35" font-family="Liberation Sans, Arial, sans-serif" font-weight="bold" fill="#111">Photocurrent density / µA·cm<tspan font-size="21" dy="-13">-2</tspan></text>
<line x1="1293.4" y1="2235.5" x2="1274.0" y2="1728.4" stroke="#2a2a2a" stroke-width="1.7"/>
<line x1="1293.4" y1="2235.5" x2="1634.9" y2="2402.8" stroke="#2a2a2a" stroke-width="1.5"/>
<line x1="1634.9" y1="2402.8" x2="2023.3" y2="2250.6" stroke="#2a2a2a" stroke-width="2.0"/>
<line x1="1293.4" y1="2235.5" x2="1283.4" y2="2238.5" stroke="#2a2a2a" stroke-width="1.7"/>
<text transform="translate(1278.4,2254.5) rotate(-4) scale(0.84,1)" font-size="36" text-anchor="end" font-family="Liberation Sans, Arial, sans-serif" font-weight="bold" fill="#111">0</text>
<line x1="1289.7" y1="2139.0" x2="1279.6" y2="2141.8" stroke="#2a2a2a" stroke-width="1.7"/>
<text transform="translate(1274.6,2157.8) rotate(-4) scale(0.84,1)" font-size="36" text-anchor="end" font-family="Liberation Sans, Arial, sans-serif" font-weight="bold" fill="#111">0.25</text>
<line x1="1285.9" y1="2040.1" x2="1275.7" y2="2042.7" stroke="#2a2a2a" stroke-width="1.7"/>
<text transform="translate(1270.7,2058.7) rotate(-4) scale(0.84,1)" font-size="36" text-anchor="end" font-family="Liberation Sans, Arial, sans-serif" font-weight="bold" fill="#111">0.5</text>
<line x1="1282.1" y1="1938.8" x2="1271.6" y2="1941.1" stroke="#2a2a2a" stroke-width="1.7"/>
<text transform="translate(1266.6,1957.1) rotate(-4) scale(0.84,1)" font-size="36" text-anchor="end" font-family="Liberation Sans, Arial, sans-serif" font-weight="bold" fill="#111">0.75</text>
<line x1="1278.1" y1="1834.9" x2="1267.5" y2="1836.9" stroke="#2a2a2a" stroke-width="1.7"/>
<text transform="translate(1262.5,1852.9) rotate(-4) scale(0.84,1)" font-size="36" text-anchor="end" font-family="Liberation Sans, Arial, sans-serif" font-weight="bold" fill="#111">1</text>
<line x1="1274.0" y1="1728.4" x2="1263.3" y2="1730.1" stroke="#2a2a2a" stroke-width="1.7"/>
<text transform="translate(1258.3,1746.1) rotate(-4) scale(0.84,1)" font-size="36" text-anchor="end" font-family="Liberation Sans, Arial, sans-serif" font-weight="bold" fill="#111">1.25</text>
<line x1="1321.7" y1="2249.3" x2="1316.9" y2="2250.8" stroke="#2a2a2a" stroke-width="1.5"/>
<line x1="1351.1" y1="2263.7" x2="1342.9" y2="2266.3" stroke="#2a2a2a" stroke-width="1.5"/>
<text transform="matrix(3.2601,-1.0405,2.3006,1.1810,1316.1,2281.8)" font-size="10" text-anchor="middle" font-family="Liberation Sans, Arial, sans-serif" font-weight="bold" fill="#111">200</text>
<line x1="1381.7" y1="2278.7" x2="1376.7" y2="2280.3" stroke="#2a2a2a" stroke-width="1.5"/>
<line x1="1413.5" y1="2294.3" x2="1405.1" y2="2297.1" stroke="#2a2a2a" stroke-width="1.5"/>
<text transform="matrix(3.3337,-1.1138,2.4926,1.2796,1378.1,2313.7)" font-size="10" text-anchor="middle" font-family="Liberation Sans, Arial, sans-serif" font-weight="bold" fill="#111">400</text>
<line x1="1446.6" y1="2310.5" x2="1441.5" y2="2312.2" stroke="#2a2a2a" stroke-width="1.5"/>
<line x1="1481.1" y1="2327.4" x2="1472.5" y2="2330.4" stroke="#2a2a2a" stroke-width="1.5"/>
<text transform="matrix(3.4083,-1.1960,2.7097,1.3910,1445.6,2348.3)" font-size="10" text-anchor="middle" font-family="Liberation Sans, Arial, sans-serif" font-weight="bold" fill="#111">600</text>
<line x1="1517.1" y1="2345.0" x2="1511.9" y2="2346.9" stroke="#2a2a2a" stroke-width="1.5"/>
<line x1="1554.6" y1="2363.4" x2="1545.9" y2="2366.7" stroke="#2a2a2a" stroke-width="1.5"/>
<text transform="matrix(3.4832,-1.2887,2.9565,1.5177,1519.0,2386.0)" font-size="10" text-anchor="middle" font-family="Liberation Sans, Arial, sans-serif" font-weight="bold" fill="#111">800</text>
<line x1="1593.9" y1="2382.7" x2="1588.6" y2="2384.7" stroke="#2a2a2a" stroke-width="1.5"/>
<line x1="1634.9" y1="2402.8" x2="1626.0" y2="2406.3" stroke="#2a2a2a" stroke-width="1.5"/>
<text transform="matrix(3.5576,-1.3940,3.2386,1.6625,1599.4,2427.3)" font-size="10" text-anchor="middle" font-family="Liberation Sans, Arial, sans-serif" font-weight="bold" fill="#111">1000</text>
<text transform="matrix(2.4231,1.3431,-3.3448,1.1504,1323.4,2358.5)" font-size="10" text-anchor="middle" font-family="Liberation Sans, Arial, sans-serif" font-weight="bold" fill="#111">Potential / mV</text>
<line x1="1645.7" y1="2398.6" x2="1652.0" y2="2401.6" stroke="#2a2a2a" stroke-width="1.5"/>
<text transform="matrix(3.4200,1.6581,-3.4588,1.3921,1671.0,2421.9)" font-size="10" text-anchor="middle" font-family="Liberation Sans, Arial, sans-serif" font-weight="bold" fill="#111">200</text>
<line x1="1672.3" y1="2388.2" x2="1677.4" y2="2390.6" stroke="#2a2a2a" stroke-width="1.5"/>
<line x1="1698.4" y1="2377.9" x2="1704.8" y2="2380.9" stroke="#2a2a2a" stroke-width="1.5"/>
<text transform="matrix(3.4568,1.5915,-3.3416,1.3449,1724.6,2400.4)" font-size="10" text-anchor="middle" font-family="Liberation Sans, Arial, sans-serif" font-weight="bold" fill="#111">250</text>
<line x1="1724.1" y1="2367.8" x2="1729.3" y2="2370.2" stroke="#2a2a2a" stroke-width="1.5"/>
<line x1="1749.4" y1="2357.9" x2="1755.9" y2="2360.8" stroke="#2a2a2a" stroke-width="1.5"/>
<text transform="matrix(3.4892,1.5283,-3.2304,1.3001,1776.4,2379.5)" font-size="10" text-anchor="middle" font-family="Liberation Sans, Arial, sans-serif" font-weight="bold" fill="#111">300</text>
<line x1="1774.3" y1="2348.2" x2="1779.5" y2="2350.4" stroke="#2a2a2a" stroke-width="1.5"/>
<line x1="1798.8" y1="2338.6" x2="1805.3" y2="2341.3" stroke="#2a2a2a" stroke-width="1.5"/>
<text transform="matrix(3.5176,1.4685,-3.1245,1.2575,1826.4,2359.4)" font-size="10" text-anchor="middle" font-family="Liberation Sans, Arial, sans-serif" font-weight="bold" fill="#111">350</text>
<line x1="1822.8" y1="2329.2" x2="1828.1" y2="2331.3" stroke="#2a2a2a" stroke-width="1.5"/>
<line x1="1846.5" y1="2319.9" x2="1853.1" y2="2322.5" stroke="#2a2a2a" stroke-width="1.5"/>
<text transform="matrix(3.5423,1.4117,-3.0238,1.2170,1874.9,2339.9)" font-size="10" text-anchor="middle" font-family="Liberation Sans, Arial, sans-serif" font-weight="bold" fill="#111">400</text>
<line x1="1869.8" y1="2310.7" x2="1875.1" y2="2312.8" stroke="#2a2a2a" stroke-width="1.5"/>
<line x1="1892.8" y1="2301.7" x2="1899.4" y2="2304.3" stroke="#2a2a2a" stroke-width="1.5"/>
<text transform="matrix(3.5637,1.3577,-2.9279,1.1784,1921.7,2321.0)" font-size="10" text-anchor="middle" font-family="Liberation Sans, Arial, sans-serif" font-weight="bold" fill="#111">450</text>
<line x1="1915.4" y1="2292.9" x2="1920.7" y2="2294.9" stroke="#2a2a2a" stroke-width="1.5"/>
<line x1="1937.6" y1="2284.2" x2="1944.3" y2="2286.6" stroke="#2a2a2a" stroke-width="1.5"/>
<text transform="matrix(3.5819,1.3064,-2.8365,1.1416,1967.1,2302.8)" font-size="10" text-anchor="middle" font-family="Liberation Sans, Arial, sans-serif" font-weight="bold" fill="#111">500</text>
<line x1="1959.6" y1="2275.6" x2="1964.9" y2="2277.5" stroke="#2a2a2a" stroke-width="1.5"/>
<line x1="1981.1" y1="2267.1" x2="1987.8" y2="2269.5" stroke="#2a2a2a" stroke-width="1.5"/>
<text transform="matrix(3.5974,1.2576,-2.7493,1.1065,2011.1,2285.1)" font-size="10" text-anchor="middle" font-family="Liberation Sans, Arial, sans-serif" font-weight="bold" fill="#111">550</text>
<line x1="2002.4" y1="2258.8" x2="2007.7" y2="2260.7" stroke="#2a2a2a" stroke-width="1.5"/>
<line x1="2023.3" y1="2250.6" x2="2030.0" y2="2252.9" stroke="#2a2a2a" stroke-width="1.5"/>
<text transform="matrix(3.6102,1.2112,-2.6661,1.0730,2053.7,2267.9)" font-size="10" text-anchor="middle" font-family="Liberation Sans, Arial, sans-serif" font-weight="bold" fill="#111">600</text>
<text transform="matrix(2.9520,-1.2345,3.5869,1.4453,1943.1,2367.8)" font-size="10" text-anchor="middle" font-family="Liberation Sans, Arial, sans-serif" font-weight="bold" fill="#111">Wavelength / nm</text>
<path d="M1564.6 2150.3l151.9 54 31.8 10.7 19 4.6 6 .7 1.2-.5 -6.4-5 -8.1-3.8 -61.2-23.5 -77-28.1 -16.3-6.7 -2-1.6 4.2-1.8 8.6 2.5 127.4 41.2 39.7 11.4 11.1 1.3 21.9-.3 13.2 2.6 35.3 9.2 5.2 .9 1.2-.6 -15.7-8.6 -1.8-1.6 5.8-.1 64.4 10 29.5 5.6 -33.9-8.9 -62.9-19.4 -205.1-68.6 -63.5 15.7 -10 3 -7.2 3.2 -8.9 1.6z" fill="#10000e" stroke="#10000e" stroke-width="0.7" fill-rule="evenodd"/>
<path d="M1466.3 2175.7l117.4 46.8 30 10.6 37.4 11.4 12.8-.5 3.5-3.8 -.6-2.1 -24.9-13.5 -23.2-11.3 28.2 9.6 34 10.4 4.8 .6 10.8-.4 26.4-8.6 54.4-3.6 14.9 1 2.2-1 -.8-3.1 .5-.7 2.6-1 6.8-1.2 24.3-.9 30 .6 35.2 6.2 2.8-.3 2-2.4 2.1-.4 23.5 1.7 29.2 4 44.6 8.4 -64.2-13.5 -68-10.8 -11.2-.6 1.8 1.6 15.7 8.6 -1.2 .6 -5.2-.9 -45.6-11.4 -6.4-.6 -18.4 .5 -13.8-1.8 -37-10.9 -136-43.7 -4.2 1.8 2 1.6 16.3 6.7 77 28.1 61.2 23.5 8.1 3.8 6.4 5 -1.2 .5 -6-.7 -19-4.6 -186.3-65.6 -27.9 6.1 -25.6 7.7 -13.2 2.7 -17.5 6.6 -13.3 2.7 -.7-.5z" fill="#81207a" stroke="#81207a" stroke-width="0.7" fill-rule="evenodd"/>
<path d="M1462 2172.4l177.7 70.1 19.1 4.4 19-2.7 14.7-6.9 18.4-3 28.7-8.7 37.4-1.5 34.6 0 6.9-2.7 8.4-.8 58.6-1 25.3 2.4 9-1.1 7.1 .3 58.9 7.7 27.8 5.6 10.4 3.2 -48.4-9.8 -42.1-6.9 -32.2-2.9 -3.5 .4 -2 2.4 -2.8 .3 -35.2-6.2 -18.8-.6 -21.6 .1 -15.8 1 -7.5 2 -.5 .7 .8 3.1 -2.2 1 -14.9-1 -54.4 3.6 -26.4 8.6 -10.8 .4 -4.8-.6 -34-10.4 -28.2-9.6 23.2 11.3 24.9 13.5 .6 2.1 -3.5 3.8 -12.8 .5 -37.4-11.4 -30-10.6 -119.9-47.8 -4.3-3.2z" fill="#7f2078" stroke="#7f2078" stroke-width="0.7" fill-rule="evenodd"/>
<path d="M1458.6 2168.9l92 36.7 87.8 34.1 8.4 2.1 21.8 3.3 20.3-2.4 15.8-6.2 17.1-2.9 29.6-8.5 76.3 .1 60.5-4.9 17.3 .1 21 2 12.9 .1 30 2.9 38.4 6.4 8.4 2.1 5.7 2.8 -40-8.4 -55-7.1 -7.1-.3 -9 1.1 -25.3-2.4 -58.6 1 -8.4 .8 -6.9 2.7 -34.6 0 -37.4 1.5 -28.7 8.7 -18.4 3 -14.7 6.9 -19 2.7 -15.8-3.4 -34.8-13.3 -148.7-58.7 -3-2.4 -.4-1.2z" fill="#7d2077" stroke="#7d2077" stroke-width="0.7" fill-rule="evenodd"/>
<path d="M1457.4 2164.6l181.1 71.4 8.4 2.8 22.3 3 9.3 1.1 19.4-2.1 16.4-5.5 17.2-3 30.9-8.1 63.1 1.6 43.2-4.2 26.3-1.4 25.9 .5 51.6 3.7 29.4 4.6 8.6 2 5.7 2.9 -31.8-6.4 -23.3-3.1 -53.4-3.8 -19.5-.3 -60.5 4.9 -76.3-.1 -29.6 8.5 -17.1 2.9 -15.8 6.2 -20.3 2.4 -21.8-3.3 -10.9-3.1 -85.3-33.1 -94.5-37.7 -1.2-4.3z" fill="#7b2076" stroke="#7b2076" stroke-width="0.7" fill-rule="evenodd"/>
<path d="M1456.3 2160.3l176.8 69.4 22.5 7.2 31.1 3.3 19.8-1.6 17.2-4.6 17.1-3.1 31.8-7.9 43.7 1.4 83.9-4.8 38.2 .8 32.1 2.3 25.5 3.4 8.7 2.1 5.8 2.8 -11.9-2.6 -30-4.5 -54.4-3.5 -36.2 .6 -52.5 4.8 -62.5-1.6 -31.5 8.1 -17.2 3 -16.4 5.5 -19.4 2.1 -10.6-1.3 -21-2.8 -12.9-4.4 -179.1-70.8 -1.1-4.2z" fill="#761f76" stroke="#761f76" stroke-width="0.7" fill-rule="evenodd"/>
<path d="M1455.2 2156.1l178.8 69.7 30.3 8.7 30.5 3 20.9-1.4 67-14.8 26.2 1.3 91.7-4 32.8 0 24.5 1.1 32.2 3.6 8.8 2 5.8 2.9 -12.1-2.6 -27.5-3.5 -29.4-1.8 -39.3-.6 -80.1 4.7 -43.7-1.4 -31.8 7.9 -17.1 3.1 -16.3 4.5 -20.7 1.7 -31.1-3.3 -22.5-7.2 -179.3-70.3 -1.1-4.3z" fill="#721e75" stroke="#721e75" stroke-width="0.7" fill-rule="evenodd"/>
<path d="M1454 2151.8l178.9 69.3 38.2 10.8 31.5 2.7 20.8-1.1 68.1-14.4 23.3 .4 101.5-2.7 27.4 .2 40.2 3.6 9 1.8 6 2.9 -8.8-2 -32.2-3.6 -24.5-1.1 -38.1 .1 -86.4 3.9 -26.2-1.3 -67 14.8 -20.9 1.4 -30.5-3 -30.3-8.7 -181.3-70.7 -1.2-4.3z" fill="#6d1e76" stroke="#6d1e76" stroke-width="0.7" fill-rule="evenodd"/>
<path d="M1452.9 2147.5l180.3 69.1 44.8 12.5 30.8 2.4 21.7-.9 18.9-3.2 47.2-10.7 5.6-.4 63.9-.9 20.9 .6 29.8-1.3 26.9 .1 34.4 2.8 9.1 1.9 5.7 2.9 -9-1.8 -16.2-1.9 -30.6-1.9 -122.3 2.7 -23.3-.4 -68.1 14.4 -20.8 1.1 -31.5-2.7 -38.2-10.8 -181.4-70.3 -1.1-4.3z" fill="#681e76" stroke="#681e76" stroke-width="0.7" fill-rule="evenodd"/>
<path d="M1452.1 2143.1l181.7 69.2 53.2 14 29 2 21-.9 23-3.6 44.4-11 66.7-.1 21.3 .9 23-1.1 21-.1 35.7 2.3 9.2 1.8 5.9 3 -10.7-2.1 -36-2.7 -24.2 0 -29.3 1.3 -20.9-.6 -63.9 .9 -5.6 .4 -47.2 10.7 -18.9 3.2 -21.7 .9 -30.8-2.4 -38.5-10.4 -42.5-15.9 -146.6-56.3 -.8-4.4z" fill="#621e77" stroke="#621e77" stroke-width="0.7" fill-rule="evenodd"/>
<path d="M1451.2 2138.7l185.5 70.1 56.3 14.7 28.5 1.3 23.7-1 14.8-2.8 46.9-11.8 68.1 .5 24.1 1.1 31.3-1 35.6 2 9.4 1.8 5.9 2.9 -9.9-1.9 -37.3-2.2 -41.7 1.2 -21.3-.9 -68.5 .2 -42.6 10.9 -23 3.6 -21 .9 -29-2 -46.2-11.8 -11.4-3.8 -179.8-68.6 -.9-4.4z" fill="#5b1d76" stroke="#5b1d76" stroke-width="0.7" fill-rule="evenodd"/>
<path d="M1450.4 2134.3l185.7 69.7 63.1 16.3 28.8 .9 18.6-1.1 18.2-3.1 46.1-11.5 75.8 1.2 16.4 1 17.8-.6 15.7 .5 23.3 1.3 9.5 1.7 6 3 -9.4-1.8 -36.5-2 -30.4 1 -24.1-1.1 -68.2-.5 -46.8 11.8 -14.8 2.8 -23.7 1 -28.5-1.3 -52.6-13.6 -11.7-4 -180-68.2 -.8-4.4z" fill="#541c76" stroke="#541c76" stroke-width="0.7" fill-rule="evenodd"/>
<path d="M1448.4 2129.5l188.1 70.1 70 17.6 27.6 .2 16.7-1.5 17.6-2.8 46.4-11.4 127.6 3.5 11.1 .7 9.9 1.7 6 3 -9.5-1.7 -30.7-1.6 -26.1 .4 -16.4-1 -75.8-1.2 -46.1 11.5 -18.2 3.1 -18.6 1.1 -28.8-.9 -52.2-13.3 -19-5.9 -180.1-67.8 -.9-4.4z" fill="#4e1c75" stroke="#4e1c75" stroke-width="0.7" fill-rule="evenodd"/>
<path d="M1446.5 2124.7l188.7 69.8 76.1 18.8 18.5 .5 24-2 17-2.5 47.8-11.5 75 1.9 22.5 2.1 31.8 .8 10 1.9 5.5 3.1 -9.9-1.7 -17.8-1 -27.3-.2 -17.3-1.4 -76.3-1.6 -46.4 11.4 -17.6 2.8 -16.7 1.5 -27.6-.2 -53-13.2 -24.1-6.9 -182.4-68.2z" fill="#4a1c74" stroke="#4a1c74" stroke-width="0.7" fill-rule="evenodd"/>
<path d="M1448.2 2123.1l41.3 13.3 145.9 53.4 82.1 20.4 40.3-2.8 17.5-2.3 47-11.3 28 1.4 46.1 .8 24.8 2.8 21.3 .5 10.4 1.8 5 3.4 -10-1.9 -31.8-.8 -22.5-2.1 -75-1.9 -47.8 11.5 -17 2.5 -24 2 -18.5-.5 -76.1-18.8 -189.1-70 -.4-2.2z" fill="#472177" stroke="#472177" stroke-width="0.7" fill-rule="evenodd"/>
<path d="M1491.6 2137.1l86.8 27.6 55.2 20 52.4 13.3 36.4 8.3 56.2-5.3 47.3-11.2 27.6 1.6 26.9 .1 24.7 1.1 20.2 3.2 12.8 .2 9.8 1.6 5 3.5 -9.6-1.7 -22.1-.6 -24.5-2.8 -46.4-.8 -28-1.4 -47 11.3 -17.5 2.3 -40.3 2.8 -82.1-20.4 -145.9-53.4z" fill="#452a7d" stroke="#452a7d" stroke-width="0.7" fill-rule="evenodd"/>
<path d="M1579.9 2165.1l14.6 4.3 27.4 6.3 12 4.4 24.9 6.5 42.4 10.4 19 4.1 5.7 .6 55.9-4.9 26.6-6.5 23.1-4.6 28 1.7 24.3 .1 23.3 1.3 35.8 5.4 5 3.4 -9.8-1.6 -12.8-.2 -23.6-3.5 -48.2-.9 -27.6-1.6 -47.3 11.2 -56.2 5.3 -36.4-8.3 -52.4-13.3 -55.2-20z" fill="#45448c" stroke="#45448c" stroke-width="0.7" fill-rule="evenodd"/>
<path d="M1624.6 2176.3l9 2 2.5-2.3 64.7 16.1 18.5 4.1 9 1.1 56.6-4.7 22.3-5.5 27.7-5.5 25.7 1.6 37.7 .8 12.6 1.1 23.8 4.2 4 1.1 4.2 3.8 -40.4-5.8 -43-1 -30.1-1.7 -47.6 11.1 -55.9 4.9 -5.7-.6 -19-4.1 -42.4-10.4 -24.9-6.5 -12-4.4z" fill="#45609e" stroke="#45609e" stroke-width="0.7" fill-rule="evenodd"/>
<path d="M1636.6 2175.4l3.4-3.1 60.5 15 18.1 3.9 13 1.5 57.1-4.4 24.1-5.9 25.4-5 26.2 1.7 31.8 .5 22.5 2.3 18.5 3.7 1.5 4.8 -12.7-3.1 -24.5-3 -40.9-1.1 -27.8-1.6 -47.9 11 -56.6 4.7 -9-1.1 -18.5-4.1 -64.7-16.1z" fill="#3d74af" stroke="#3d74af" stroke-width="0.7" fill-rule="evenodd"/>
<path d="M1642.7 2169.7l1.2-1.1 73.9 17.7 15.9 1.9 21.6-2.2 36.7-2.2 24.6-5.9 24.8-4.8 27 2 25.5 .1 25.9 2.5 15.9 3.2 1.5 4.7 -13.6-3 -27.4-3 -31.8-.5 -28.3-1.7 -47.4 10.9 -57.1 4.4 -13-1.5 -18.1-3.9 -60.5-15z" fill="#2c85be" stroke="#2c85be" stroke-width="0.7" fill-rule="evenodd"/>
<path d="M1645.8 2166.8l2-1.9 69.4 16.4 19.8 2.5 21.5-2.4 36.4-1.9 13.7-3.6 36-7.1 27.9 1.8 19.2 .2 33.6 3.2 8.8 2.1 1.6 4.8 -13.4-2.9 -28.4-2.8 -25.5-.1 -29-1.9 -47.4 10.6 -36.7 2.2 -21.6 2.2 -15.9-1.9 -73.9-17.7z" fill="#0e98ca" stroke="#0e98ca" stroke-width="0.7" fill-rule="evenodd"/>
<path d="M1648.8 2163.8l2.9-2.7 63.7 15.1 23.6 2.9 22.6-2.5 36.2-1.5 48.7-11 27.2 2 15.9 .2 34.3 3.1 8.7 1.9 1.5 4.8 -8.8-2.1 -27-2.7 -55.7-2.4 -34 7 -13.7 3.6 -36.4 1.9 -21.5 2.4 -19.8-2.5 -19.8-4.2 -49.6-12.2z" fill="#0ba6c7" stroke="#0ba6c7" stroke-width="0.7" fill-rule="evenodd"/>
<path d="M1651.9 2160.9l3.8-3.5 40.3 10 19 3.9 27.3 3.6 21.6-3 36.7-1.2 18.9-4.7 31.6-5.9 42.7 2.1 28.1 2.4 9.2 1.9 1.5 4.8 -8.7-1.9 -22-2.2 -55.4-3.1 -48.7 11 -36.2 1.5 -22.6 2.5 -23.6-2.9 -29.7-6.6z" fill="#1ab0be" stroke="#1ab0be" stroke-width="0.7" fill-rule="evenodd"/>
<path d="M1658.1 2155l1.5-1.4 34.8 8.7 19.4 4.1 31.7 3.5 21.6-2.7 36.3-1 13.6-3.6 36.2-7.1 67.2 4.4 9.2 1.8 1.5 4.8 -9.2-1.9 -16.4-1.6 -54.4-2.9 -31.6 5.9 -18.9 4.7 -36.7 1.2 -21.6 3 -27.3-3.6 -19-3.9 -40.3-10z" fill="#46b5b2" stroke="#46b5b2" stroke-width="0.7" fill-rule="evenodd"/>
<path d="M1661.2 2152l2.6-2.3 29.4 7.6 19.7 4.1 34.7 3.8 21.4-2.8 37-.7 12.5-3.3 37.2-7.5 62.9 4.3 9.4 1.7 1.6 4.8 -20.4-2.8 -56-3.4 -36.2 7.1 -13.6 3.6 -36.3 1 -21.6 2.7 -31.7-3.5 -19.4-4.1 -34.8-8.7z" fill="#45b29b" stroke="#45b29b" stroke-width="0.7" fill-rule="evenodd"/>
<path d="M1664.4 2149.4l4.6-2.9 42.1 9.9 39.6 3.9 21.5-2.6 37.5-.7 14.5-3.9 34.4-6.8 20.3 1.3 8.3 1.3 29.7 1.5 9.4 1.7 1.7 4.8 -15-2.2 -57.3-3.8 -37.2 7.5 -12.5 3.3 -37 .7 -21.4 2.8 -34.7-3.8 -32.1-7.2 -17-4.5z" fill="#29aa78" stroke="#29aa78" stroke-width="0.7" fill-rule="evenodd"/>
<path d="M1670.6 2145.5l3.8-2.4 36.1 8.4 42.2 4.2 21.4-2.8 38.1-.7 12.4-3.4 36.1-7.1 17.6 1 12.9 1.9 23.9 1.1 9.6 1.6 1.6 4.8 -11.1-1.8 -28-1.4 -8.3-1.3 -20.7-1.3 -34 6.8 -14.5 3.9 -37.5 .7 -21.5 2.6 -39.6-3.9 -42.1-9.9z" fill="#0ba354" stroke="#0ba354" stroke-width="0.7" fill-rule="evenodd"/>
<path d="M1677 2141.5l2.8-1.8 29.5 6.8 46.5 4.3 21.4-2.8 37.2-.5 12.4-3.4 36.3-7.1 14.7 .8 17.5 2.3 17 .7 10.7 1.6 1.7 4.9 -9.6-1.6 -23.9-1.1 -12.9-1.9 -17.6-1 -36.1 7.1 -12.4 3.4 -38.1 .7 -21.4 2.8 -42.2-4.2 -36.1-8.4z" fill="#01a241" stroke="#01a241" stroke-width="0.7" fill-rule="evenodd"/>
<path d="M1680.1 2139.5l5.2-3.2 22.4 5.2 50 4.8 21.3-3.2 37.6-.4 12.4-3.4 36.5-7 46 3.8 9.8 1.5 1.7 4.8 -10.7-1.6 -17-.7 -17.5-2.3 -14.7-.8 -36.3 7.1 -12.4 3.4 -37.2 .5 -21.4 2.8 -46.5-4.3z" fill="#0da333" stroke="#0da333" stroke-width="0.7" fill-rule="evenodd"/>
<path d="M1686.5 2135.5l3.9-2.7 16.2 3.7 53.2 4.8 22.3-3.1 18.8 .3 17.9-.6 12.4-3.3 36.6-7.1 41.7 3.7 10.1 1.5 1.7 4.9 -9.8-1.5 -46-3.8 -36.5 7 -12.4 3.4 -37.6 .4 -21.3 3.2 -50-4.8 -22.4-5.2z" fill="#1da52a" stroke="#1da52a" stroke-width="0.7" fill-rule="evenodd"/>
<path d="M1693 2130.6l1.9-1.7 10.5 2.6 57.2 5.1 21.3-3.5 37.1 0 12.4-3.4 36.2-7 48.3 5.2 1.7 4.8 -10.1-1.5 -41.7-3.7 -36.6 7.1 -12.4 3.3 -17.9 .6 -18.8-.3 -22.3 3.1 -53.2-4.8 -16.2-3.7z" fill="#30a726" stroke="#30a726" stroke-width="0.7" fill-rule="evenodd"/>
<path d="M1696.2 2127.7l3.1-2.6 4.9 1.3 61.4 5.1 21.2-3.3 35.5 .2 13.2-3.5 37-7 43.7 5.1 1.7 4.9 -48.3-5.2 -36.2 7 -12.4 3.4 -37.1 0 -21.3 3.5 -57.2-5.1 -10.5-2.6z" fill="#41aa22" stroke="#41aa22" stroke-width="0.7" fill-rule="evenodd"/>
<path d="M1699.5 2124.9l3.7-3.5 64.3 5.3 21.3-3.6 36.4 .4 12.5-3.5 37.2-6.8 29.9 3 6.8 1.4 3.1 .9 1.5 4.5 -43.7-5.1 -37 7 -13.2 3.5 -35.5-.2 -21.2 3.3 -61.4-5.1z" fill="#51ae1f" stroke="#51ae1f" stroke-width="0.7" fill-rule="evenodd"/>
<path d="M1705.2 2116.3l65.2 5.2 20.4-3.3 36.5 .3 12.5-3.4 38.1-6.9 25.5 2.8 10.3 1.9 1 5.6 -9.9-2.3 -29.9-3 -37.2 6.8 -12.5 3.5 -36.4-.4 -21.3 3.6 -64.3-5.3z" fill="#62b21b" stroke="#62b21b" stroke-width="0.7" fill-rule="evenodd"/>
<path d="M1706.1 2114l1.1-2.6 64.9 5.4 21.3-3.7 35.8 .4 27-6.1 26.2-3.7 19.6 2 10.9 2 .8 5.2 -10.3-1.9 -25.5-2.8 -38.1 6.9 -12.5 3.4 -36.5-.3 -21.5 3.3 -64.1-5.2z" fill="#72b617" stroke="#72b617" stroke-width="0.7" fill-rule="evenodd"/>
<path d="M1709.1 2106.5l65 5.2 21.1-3.6 36 .4 17.8-4.3 33.8-5.3 17.9 1.6 11.5 2 .7 5.2 -10.9-2 -21.8-2 -24 3.7 -27 6.1 -35.8-.4 -21.3 3.7 -64.9-5.4z" fill="#82b914" stroke="#82b914" stroke-width="0.7" fill-rule="evenodd"/>
<path d="M1709.5 2105.4l1.5-3.7 66 5 20.8-3.9 35.3 .6 12.9-3.1 39.8-6.7 25.6 3.6 .8 5.3 -11.5-2 -17.9-1.6 -33.8 5.3 -17.8 4.3 -36-.4 -21.1 3.6 -65-5.2z" fill="#92bc11" stroke="#92bc11" stroke-width="0.7" fill-rule="evenodd"/>
<path d="M1712.9 2096.8l65.8 5.3 21.5-4.5 36.6 .9 11.5-3.1 42.2-6.2 20.1 2.8 .8 5.2 -25.6-3.6 -39.8 6.7 -11.4 2.9 -36.8-.4 -20.8 3.9 -66-5z" fill="#a3c00c" stroke="#a3c00c" stroke-width="0.7" fill-rule="evenodd"/>
<path d="M1712.9 2096.8l2-4.9 62.7 4.7 24.4-4 30.4 .5 6.3 .9 11.9-3.5 39.8-6.2 19.4 2.4 .8 5.3 -22.7-2.8 -39.6 6.2 -11.5 3.1 -36.6-.9 -21.5 4.5z" fill="#b5c705" stroke="#b5c705" stroke-width="0.7" fill-rule="evenodd"/>
<path d="M1716.4 2088.1l.4-1.1 66.2 4.5 20.4-4.2 38.1 1.3 11.4-3.1 40-6.1 1.2-.9 1.8 1.1 13.1 1.9 .8 5.2 -19.4-2.4 -39.8 6.2 -11.9 3.5 -6.3-.9 -30.4-.5 -24.4 4 -62.7-4.7z" fill="#c5ce00" stroke="#c5ce00" stroke-width="0.7" fill-rule="evenodd"/>
<path d="M1718.8 2082l56.8 4.2 9-.1 20.2-3.8 24.9 .3 11.7 .9 .9 .6 12.9-3.6 40.2-6 12.8 1.7 .8 5.3 -13.1-1.9 -1.8-1.1 -1.2 .9 -40 6.1 -11.4 3.1 -38.1-1.3 -20.4 4.2 -66.2-4.5z" fill="#d3d300" stroke="#d3d300" stroke-width="0.7" fill-rule="evenodd"/>
<path d="M1719.8 2079.3l.9-2.2 54 3.9 12.3-.2 23-3.8 36 1.6 11.4-3.1 40.7-5.9 9.4 1.3 .7 5.3 -12.8-1.7 -40.2 6 -12.9 3.6 -.9-.6 -11.7-.9 -24.9-.3 -20.2 3.8 -9 .1 -56.9-4.2z" fill="#dbd600" stroke="#dbd600" stroke-width="0.7" fill-rule="evenodd"/>
<path d="M1722.7 2072.1l51.1 3.7 14.8-.2 20.4-3.9 25.8 .8 13.4 1.2 17.3-4.1 25-3.8 11.7-.7 4.5 .5 .8 5.3 -11.3-1.2 -38.8 5.8 -11.4 3.1 -36-1.6 -23 3.8 -12.3 .2 -54-3.9z" fill="#ded700" stroke="#ded700" stroke-width="0.7" fill-rule="evenodd"/>
<path d="M1723.3 2070.5l1.3-3.3 48.4 3.3 17.1 0 20.3-4 16.1 .2 23.8 1.8 11.5-3.1 24.7-3.7 18.1-1 .9 .8 1.2 4.1 -4.5-.5 -11.7 .7 -30.9 4.7 -11.4 3.2 -13.4-1.2 -25.8-.8 -20.4 3.9 -14.8 .2 -51.1-3.7z" fill="#e3d400" stroke="#e3d400" stroke-width="0.7" fill-rule="evenodd"/>
<path d="M1726.6 2062.2l44.5 3 20.4 0 22.6-4.1 38.3 2.3 11.6-3 17.2-2.7 18.5-1.1 4.9 4.1 -18.1 1 -24.7 3.7 -11.5 3.1 -23.8-1.8 -16.1-.2 -20.3 4 -17.1 0 -48.4-3.3z" fill="#ebcc00" stroke="#ebcc00" stroke-width="0.7" fill-rule="evenodd"/>
<path d="M1726.8 2061.6l1.8-4.5 41.9 2.9 23.6 0 20.3-4.6 29.6 1.8 11.2 1.5 12.3-3.7 8.5-1.3 18.9-1.2 4.8 4.1 -18.5 1.1 -17.2 2.7 -11.6 3 -38.3-2.3 -22.6 4.1 -20.4 0 -44.5-3z" fill="#edbd06" stroke="#edbd06" stroke-width="0.7" fill-rule="evenodd"/>
<path d="M1730.3 2052.7l.2-.6 38.5 2.7 26.5 0 20.4-4.5 40.4 2.7 14.8-3.4 18.9-1.3 4.9 4.2 -18.9 1.2 -8.5 1.3 -12.3 3.7 -11.2-1.5 -29.6-1.8 -20.3 4.6 -23.6 0 -41.9-2.9z" fill="#edad0b" stroke="#edad0b" stroke-width="0.7" fill-rule="evenodd"/>
<path d="M1732.5 2047.1l35.1 2.4 30.2-.1 18.5-3.9 1.9-1 .3 .6 39.7 2.6 .9 1.6 1.6-1.4 10.7-2.7 13.7-1 4.9 4.1 -18.9 1.3 -14.8 3.4 -40.4-2.7 -20.4 4.5 -26.5 0 -38.5-2.7z" fill="#ed9c0f" stroke="#ed9c0f" stroke-width="0.7" fill-rule="evenodd"/>
<path d="M1733.8 2043.7l.7-1.7 31.9 2.2 33.1-.2 19.2-4.1 1.2-.9 1.6 .8 36.9 2.5 2.4 .4 2.4 1.7 1.2-1.3 10.7-2.6 5.1-.5 4.9 4.2 -13.7 1 -10.7 2.7 -1.6 1.4 -.9-1.6 -39.7-2.6 -.3-.6 -1.9 1 -18.5 3.9 -30.2 .1 -35.1-2.4z" fill="#ed8f13" stroke="#ed8f13" stroke-width="0.7" fill-rule="evenodd"/>
<path d="M1736.5 2036.9l28.8 2 35.7-.2 20.3-4.7 36.6 2.7 5.8 1 3.5 1.6 9.9-1.5 3.1 2.2 -5.1 .5 -10.7 2.6 -1.2 1.3 -2.4-1.7 -2.4-.4 -36.9-2.5 -1.6-.8 -1.2 .9 -19.2 4.1 -33.1 .2 -31.9-2.2z" fill="#ed8116" stroke="#ed8116" stroke-width="0.7" fill-rule="evenodd"/>
<path d="M1737.4 2034.6l1.1-2.8 25.8 1.8 38.2-.5 21.6-4.4 33.1 2.4 9.3 1.6 .7 6.6 -3.5-1.6 -5.8-1 -36.6-2.7 -20.3 4.7 -35.7 .2 -28.8-2z" fill="#ed7219" stroke="#ed7219" stroke-width="0.7" fill-rule="evenodd"/>
<path d="M1740.5 2026.7l22.2 1.6 37.6-.4 24-4.1 1.3-1 1.7 1 28.6 1.7 10.4 1.6 .4 5.7 -9.5-1.7 -33.1-2.4 -21.6 4.4 -38.2 .5 -25.8-1.8z" fill="#ed641c" stroke="#ed641c" stroke-width="0.7" fill-rule="evenodd"/>
<path d="M1741 2025.4l1.5-3.9 19.6 1.5 44.3-.6 19.6-3.9 1.5-1.1 3.1 1.1 25.9 1.6 9.5 1.4 .3 5.6 -10.4-1.6 -28.6-1.7 -1.7-1 -1.3 1 -4.8 1 -14.6 2.8 -5.7 .3 -36.5 .4 -22.2-1.6z" fill="#ed5c1d" stroke="#ed5c1d" stroke-width="0.7" fill-rule="evenodd"/>
<path d="M1744.5 2016.3l16.4 1.3 47.2-.6 21.9-4.5 35.6 3.3 .4 5.7 -9.5-1.4 -25.9-1.6 -3.1-1.1 -1.5 1.1 -19.6 3.9 -44.3 .6 -19.6-1.5z" fill="#ed541e" stroke="#ed541e" stroke-width="0.7" fill-rule="evenodd"/>
<path d="M1744.6 2016.2l2-5 12.7 1.1 50.4-.7 20.5-4 1.1-.8 1.9 .7 21.7 1.3 10.4 1.4 .3 5.6 -35.6-3.3 -21.9 4.5 -47.2 .6z" fill="#ed491f" stroke="#ed491f" stroke-width="0.7" fill-rule="evenodd"/>
<path d="M1748.2 2007l.4-1 9.6 1 54.2-.6 20.4-4.4 5.3 .2 26.8 2.4 .4 5.6 -10.4-1.4 -21.7-1.3 -1.9-.7 -1.1 .8 -20.5 4 -50.4 .7 -12.7-1.1z" fill="#ed4121" stroke="#ed4121" stroke-width="0.7" fill-rule="evenodd"/>
<path d="M1750.6 2000.8l6.4 .8 57.1-.7 23.4-4.3 27 2.3 .4 5.7 -32.1-2.6 -20.4 4.4 -54.2 .6 -9.6-1z" fill="#ed3d21" stroke="#ed3d21" stroke-width="0.7" fill-rule="evenodd"/>
<path d="M1751.8 1997.7l.8-2 3.1 .5 1.7-.5 59.3-.4 20.3-4.3 27.2 2.3 .3 5.6 -28.8-2.3 -21.6 4.3 -57.1 .7 -6.4-.8z" fill="#ed3d21" stroke="#ed3d21" stroke-width="0.7" fill-rule="evenodd"/>
<path d="M1754.5 1990.8l63.9-.8 20.2-4.4 3.9 .1 21.3 2.2 .4 5.4 -27.2-2.3 -20.3 4.3 -59.3 .4 -1.7 .5 -3.1-.5z" fill="#ed3d21" stroke="#ed3d21" stroke-width="0.7" fill-rule="evenodd"/>
<path d="M1755.5 1987.5l.8-2.6 61.5-.4 24.2-4.5 21.5 1.9 .3 6 -9.8-1.5 -15.4-.8 -20.2 4.4 -63.9 .8z" fill="#ed3d21" stroke="#ed3d21" stroke-width="0.7" fill-rule="evenodd"/>
<path d="M1757.9 1979.5l44.8 .2 17.8-.7 21.3-4.3 1.2-1 1.9 1 18.3 1.4 .3 5.8 -21.5-1.9 -24.2 4.5 -61.5 .4z" fill="#ed3d21" stroke="#ed3d21" stroke-width="0.7" fill-rule="evenodd"/>
<path d="M1759.3 1975l.3-1 44.9 .3 18.7-.9 21.2-4.8 18.6 1.8 .2 5.7 -18.3-1.4 -1.9-1 -1.2 1 -21.3 4.3 -17.8 .7 -44.8-.2z" fill="#ed3d21" stroke="#ed3d21" stroke-width="0.7" fill-rule="evenodd"/>
<path d="M1761.2 1968.6l46.4 .3 18.3-1 20.4-5.1 16.4 1.9 .3 5.7 -18.6-1.8 -20.1 4.7 -5.4 .4 -59.3 .3z" fill="#ed3d21" stroke="#ed3d21" stroke-width="0.7" fill-rule="evenodd"/>
<path d="M1762.8 1963.1l46.7 .3 13.8-.8 5.2-.5 19-4.2 1.3-1.6 2 1.6 11.6 1 .3 5.8 -16.4-1.9 -20.4 5.1 -18.3 1 -46.4-.3z" fill="#ed3d21" stroke="#ed3d21" stroke-width="0.7" fill-rule="evenodd"/>
<path d="M1763 1962.5l1.5-4.8 48.1 .3 17.5-1.3 19-4.4 1.1-.8 11.9 1.7 .3 5.7 -11.6-1 -2-1.6 -1.3 1.6 -20 4.4 -18 1.1 -46.7-.3z" fill="#ed3c20" stroke="#ed3c20" stroke-width="0.7" fill-rule="evenodd"/>
<path d="M1766.1 1952.2l48.9 .3 16.8-1.4 20.1-4.4 2-1.3 2.7 1.5 5.2 .5 .3 5.8 -11.9-1.7 -1.1 .8 -19 4.4 -17.5 1.3 -48.1-.3z" fill="#ed3c20" stroke="#ed3c20" stroke-width="0.7" fill-rule="evenodd"/>
<path d="M1766.8 1949.9l1-3.2 49.7 .2 17.1-1.5 19.9-4 1.6-1.3 5.4 1.5 .3 5.8 -5.2-.5 -2.7-1.5 -2 1.3 -20.1 4.4 -7.3 .7 -9.5 .7 -48.9-.3z" fill="#ed3c20" stroke="#ed3c20" stroke-width="0.7" fill-rule="evenodd"/>
<path d="M1769.5 1941.2l50 .2 18-1.3 22.3-5.1 1.4 .2 .3 6.4 -5.4-1.5 -1.6 1.3 -19.9 4 -17.1 1.5 -49.7-.2z" fill="#ed3c20" stroke="#ed3c20" stroke-width="0.7" fill-rule="evenodd"/>
<path d="M1770.7 1937.2l.4-1.6 44.4 .3 18.6-.7 7.2-.6 12.1-2.6 7.5-.3 .3 3.5 -23.7 4.9 -18 1.3 -50-.2z" fill="#ed3c20" stroke="#ed3c20" stroke-width="0.7" fill-rule="evenodd"/>
<path d="M1772.8 1930.1l52.3 .4 13.8-.6 3.6 2.6 10.9-.5 -12.1 2.6 -7.2 .6 -18.6 .7 -44.4-.3z" fill="#ed3c20" stroke="#ed3c20" stroke-width="0.7" fill-rule="evenodd"/>
<path d="M1774.5 1924.5l46 .1 12.6 .8 5.8 4.5 -13.8 .6 -52.3-.4z" fill="#ed3c20" stroke="#ed3c20" stroke-width="0.7" fill-rule="evenodd"/>
<path d="M1774.5 1924.4l1.7-5.6 42.9 .3 11.6 1 1.4 4.4 1 .9 -12.6-.8z" fill="#ed3c20" stroke="#ed3c20" stroke-width="0.7" fill-rule="evenodd"/>
<path d="M1777.9 1913l39.9 .5 11.2 1 1.7 5.6 -11.6-1 -42.9-.3z" fill="#e63b20" stroke="#e63b20" stroke-width="0.7" fill-rule="evenodd"/>
<path d="M1778.4 1911.8l1.6-4 36.6 .1 10.7 1.1 1.7 5.5 -11.2-1 -39.1-.2 -.8-.3z" fill="#d7371f" stroke="#d7371f" stroke-width="0.7" fill-rule="evenodd"/>
<path d="M1782.2 1902.2l32.4 .1 10.9 1.1 1.8 5.6 -10.7-1.1 -36.6-.1z" fill="#c8311d" stroke="#c8311d" stroke-width="0.7" fill-rule="evenodd"/>
<path d="M1784.4 1896.7l29.4 0 10 1.2 1.7 5.5 -10.9-1.1 -32.4-.1z" fill="#b72c1d" stroke="#b72c1d" stroke-width="0.7" fill-rule="evenodd"/>
<path d="M1786.1 1892.6l.6-1.5 25.5 0 9.8 1.2 1.8 5.6 -10-1.2 -29.4 0z" fill="#a5281c" stroke="#a5281c" stroke-width="0.7" fill-rule="evenodd"/>
<path d="M1788.9 1885.5l21.2-.1 10.2 1.3 1.7 5.6 -9.8-1.2 -25.5 0z" fill="#9d261b" stroke="#9d261b" stroke-width="0.7" fill-rule="evenodd"/>
<path d="M1789.9 1882.9l1.2-3 17.2-.1 10.2 1.2 1.8 5.7 -10.2-1.3 -21.2 .1z" fill="#962419" stroke="#962419" stroke-width="0.7" fill-rule="evenodd"/>
<path d="M1793.4 1874.2l13.6-.1 9.7 1.3 1.8 5.6 -10.2-1.2 -17.2 .1z" fill="#8e2218" stroke="#8e2218" stroke-width="0.7" fill-rule="evenodd"/>
<path d="M1793.8 1873.1l1.8-4.5 9.9-.2 9.4 1.3 1.8 5.7 -9.7-1.3 -13.6 .1z" fill="#862017" stroke="#862017" stroke-width="0.7" fill-rule="evenodd"/>
<path d="M1797.8 1863.2l6.4-.5 9 1.4 1.7 5.6 -9.4-1.3 -9.9 .2z" fill="#7e1d16" stroke="#7e1d16" stroke-width="0.7" fill-rule="evenodd"/>
<path d="M1800.2 1857.1l11.2 1.3 1.8 5.7 -9-1.4 -6.3 .2z" fill="#751a15" stroke="#751a15" stroke-width="0.7" fill-rule="evenodd"/>
<path d="M1801.7 1853.5l4.9-1.2 3 .4 1.8 5.7 -11.2-1.3z" fill="#6e1913" stroke="#6e1913" stroke-width="0.7" fill-rule="evenodd"/>
<path d="M1809.2 1851.5l.4 1.2 -3-.4z" fill="#661712" stroke="#661712" stroke-width="0.7" fill-rule="evenodd"/>
<path d="M1984.9 2218.3l-12.3-2.2 -34.7-2.3 -25.1 .2 -23.9 1.3 -19.3-.9 -69.6 .6 -39.3 9.5 -28 4.9 -20.8 .9 -30.3-2.2 -47.5-13 -184-70.3" fill="none" stroke="#3a3a3a" stroke-width="0.9" stroke-opacity="0.75"/>
<path d="M1939.2 2191.6l-12.8-3.4 -22.4-2.9 -22.4-1.1 -20.7 .2 -11.3-1.2 -17.5-.8 -47.8 11.1 -56.5 4.8 -7.4-1 -20.3-4.4 -64.8-16.2" fill="none" stroke="#3a3a3a" stroke-width="0.9" stroke-opacity="0.75"/>
<path d="M1926 2151.1l-10-1.7 -58-4.3 -36 7.6 -11.8 3.5 -37.7 .5 -21.3 2.7 -39.7-3.9 -19.1-4.1 -22.3-5.6" fill="none" stroke="#3a3a3a" stroke-width="0.9" stroke-opacity="0.75"/>
<path d="M1913.2 2109.8l-12.3-2.1 -21.7-2.1 -35.2 6 -15.6 3.9 -35.7-.3 -21.1 3.3 -65.2-5.2" fill="none" stroke="#3a3a3a" stroke-width="0.9" stroke-opacity="0.75"/>
<path d="M1906.7 2065.6l-4.5-.5 -11.7 .7 -30.9 4.7 -11.4 3.2 -13.4-1.2 -25.8-.8 -20.4 3.9 -14.8 .2 -51.1-3.7" fill="none" stroke="#3a3a3a" stroke-width="0.9" stroke-opacity="0.75"/>
<path d="M1866.6 2030.4l-9.3-1.4 -30.8-1.9 -1.8-.7 -20.7 4.5 -3.4 .2 -36.5 .4 -24.8-1.8" fill="none" stroke="#3a3a3a" stroke-width="0.9" stroke-opacity="0.75"/>
<path d="M1863.6 1983l-21.5-1.8 -24.7 4.4 -17 .6 -44.4-.3" fill="none" stroke="#3a3a3a" stroke-width="0.9" stroke-opacity="0.75"/>
<path d="M1861.1 1933.9l-23 5.1 -18.3 1.3 -50-.3" fill="none" stroke="#3a3a3a" stroke-width="0.9" stroke-opacity="0.75"/>
<path d="M1822.7 1894.5l-10.4-1.2 -26.5 0" fill="none" stroke="#3a3a3a" stroke-width="0.9" stroke-opacity="0.75"/>
<path d="M1295.8 2236.6l339.1 166.2 11.2 .3 11.1-6.6 7.9-10.5 -24.6-9.1 -21.9-5.9 -35.8-15.1 -63.7-30 -207.1-100.3 -9 8.9 -9.6 1zM1318.9 2225.3l178.6 83.4 29.2 12 41.7 18.7 37.5 12.8 10.8 2 8.3 0 -36.4-22.1 -61-33.8 -177.4-84.4 -3.4 1.8 -11 9.5 -19.2-1z" fill="#10000e" stroke="#10000e" stroke-width="0.7" fill-rule="evenodd"/>
<path d="M1501.3 2317.2l81.5 38.7 39.8 16.5 17.9 4.5 24.6 9.1 5.7-7.9 -10-5.2 -9-5.8 -4.2-4 -1.3-4.4 -6.3-4.3 -74.6-47.2 -23.7-19.1 -39.3-18.9 -139.1-64 -7.7 6.1 -5.4 2.6 177.4 84.4 61 33.8 36.4 22.1 -8.3 0 -10.8-2 -37.5-12.8 -41.7-18.7 -29.2-12 -180.9-84.5 -2.9-.2 -1.7 1.6z" fill="#8b2283" stroke="#8b2283" stroke-width="0.7" fill-rule="evenodd"/>
<path d="M1663.9 2374.7l6.9 3.4 4.8-7.5 -6-3.7 -5.9-5.6 -14.5-10.1 -40.5-26.6 -9-7.3 -31.3-22 -17.9-15.3 -39.1-18.8 -138.9-63.5 -9.2 7.5 139.1 64 39.3 18.9 25.6 20.4 79 50.2 .8 3.5 2.5 3.1z" fill="#892281" stroke="#892281" stroke-width="0.7" fill-rule="evenodd"/>
<path d="M1675.6 2370.6l4.7-7.5 -36-24.8 -26.1-16.9 -12.7-11.6 -30.4-22 -16.7-15.8 -33.6-16.2 -39.1-21.3 -30.3-14.6 -63.2-32.8 -14.7 6.5 -5 4.1 138.9 63.5 39.1 18.8 17.9 15.3 31.3 22 9 7.3 40.5 26.6 14.5 10.1 5.9 5.6z" fill="#862280" stroke="#862280" stroke-width="0.7" fill-rule="evenodd"/>
<path d="M1680.3 2363.1l4.7-7.4 -41-25.7 -15.9-10.8 -9-7.5 -8.1-9.2 -27.4-20.5 -10.5-9.7 -1.4-1.8 8.8-11.1 -.6-.7 -37.4-18 -139-61.7 -6.5 5.9 -4.8 2.2 63.2 32.8 30.3 14.6 39.1 21.3 33.6 16.2 16.7 15.8 30.4 22 12.7 11.6 26.1 16.9z" fill="#84227f" stroke="#84227f" stroke-width="0.7" fill-rule="evenodd"/>
<path d="M1685 2355.7l4.3-7.1 -29.7-16.6 -23.4-15.8 -10.7-9.5 -9-11.5 -29.5-23.1 -.5-.6 3.6-6.5 1.9-6.2 -4.2-7 -38-18.5 -139.9-60.8 -6.4 6.5 139 61.7 37.4 18 .6 .7 -8.8 11.1 6.8 7 32.5 25 8.1 9.2 10.5 8.7z" fill="#7f217f" stroke="#7f217f" stroke-width="0.7" fill-rule="evenodd"/>
<path d="M1689.3 2348.6l1.7-6.5 -25.1-13.7 -24.1-16.9 -12.2-12.2 -4.7-6.2 -2.8-5.3 -17.7-14.1 -.7-2.7 .1-5.5 -1.2-3.7 .2-3.8 -9.3-13.3 -38.3-18.2 -139.6-60.4 -5.7 6.4 139.9 60.8 38 18.5 4.2 7 -1.9 6.2 -3.6 6.5 1.3 1.4 28.7 22.3 9 11.5 10.7 9.5 23.4 15.8z" fill="#7b207e" stroke="#7b207e" stroke-width="0.7" fill-rule="evenodd"/>
<path d="M1691 2342.1l1.5-6.3 -19.2-10.5 -13.3-8.6 -10.9-8.2 -10.4-10.6 -7-8.8 -4-8.6 -6.1-5.3 -1.2-8.5 -4.5-5.1 -2.4-4.6 -6.9-7.3 -8-11.9 -38.3-18 -140.7-59.6 -4 5.9 139.6 60.4 38.3 18.2 9.3 13.3 -.3 3.4 1.3 4.1 .1 7.6 18.2 14.7 5.4 8.9 9.4 10.5 7.6 6.4 17 12z" fill="#75207e" stroke="#75207e" stroke-width="0.7" fill-rule="evenodd"/>
<path d="M1692.5 2335.8l1.6-6.2 -17.7-9.8 -13.9-9.2 -5.8-4.7 -12.4-13 -4.9-6.3 -4.7-9.4 -.8-2.3 1.7-2.6 -.6-5.3 -9.6-10.5 -10.3-8.7 -6.9-8.3 -5.3-8.2 -38.8-17.8 -140.5-59.1 -4 5.8 140.7 59.6 38.3 18 8 11.9 6.9 7.3 2.4 4.6 4.5 5.1 1.2 8.5 6.1 5.3 4.4 9.1 9.2 11.2 7.8 7.7 14.4 10.7z" fill="#6f207f" stroke="#6f207f" stroke-width="0.7" fill-rule="evenodd"/>
<path d="M1694.1 2329.6l1.6-6.3 -16.5-9.2 -14.3-9.7 -15.8-17.3 -5-7.5 -3.5-7.6 4.6-6.3 -.7-1.8 -7.8-8.2 -10.7-8.1 -7.7-7.1 -11.8-15.6 -38.6-17.6 -140.3-58.7 -4 5.8 140.5 59.1 38.8 17.8 5.3 8.2 6.9 8.3 10.3 8.7 9.6 10.5 .6 5.3 -1.7 2.6 1.3 3.8 4.5 8.5 7 8.4 10.8 11 8 6.2 16.8 10.5z" fill="#692080" stroke="#692080" stroke-width="0.7" fill-rule="evenodd"/>
<path d="M1695.7 2323.3l1.6-6.3 -10.6-5.7 -14.5-9.3 -16.9-19 -8-13.9 3.9-6.7 -2.3-5.4 -2.9-3.1 -21.8-17.3 -10.4-12.2 -3.7-5.8 -38.4-17.6 -140.5-58.1 -3.6 5.7 140.3 58.7 38.6 17.6 11.8 15.6 7.7 7.1 10.7 8.1 7.8 8.2 .7 1.8 -4.6 6.3 5.5 10.9 6.5 8.1 11.4 12.6 3.6 2.8 14.2 9.3z" fill="#621f7f" stroke="#621f7f" stroke-width="0.7" fill-rule="evenodd"/>
<path d="M1694 2315.4l3.3 1.6 1.6-6.2 -10.2-5.6 -11.8-8 -7.5-8.3 -10.6-13.9 -4.8-8.5 3.1-6.9 -4.6-9.2 -25.1-20.1 -9.6-10.9 -4.2-7.1 -38.4-17.4 -140.4-57.8 -3.6 5.8 140.5 58.1 38.4 17.6 3.7 5.8 10.4 12.2 21.8 17.3 2.9 3.1 2.3 5.4 -3.9 6.7 .5 1.4 7 11.9 11.3 13.2 7.7 7.5z" fill="#5a1e7e" stroke="#5a1e7e" stroke-width="0.7" fill-rule="evenodd"/>
<path d="M1695.7 2309.1l3.2 1.7 1.6-6.3 -13.6-7.8 -7.6-6.8 -7.5-8.8 -11.3-17.7 2.6-7.1 -8-12.2 -17.8-14 -9.1-8.3 -6.6-7.5 -4.7-8.2 -38.3-17.4 -140.2-57.3 -3.6 5.7 140.4 57.8 38.4 17.4 4.2 7.1 9.6 10.9 25.1 20.1 4.6 9.2 -3.1 6.9 7.4 12.4 8.6 10.7 8.8 9.2z" fill="#541e7d" stroke="#541e7d" stroke-width="0.7" fill-rule="evenodd"/>
<path d="M1697.3 2302.8l3.2 1.7 1.6-6.3 -9.2-5.5 -10.7-9.5 -6.1-7.5 -9.2-15.5 1.9-7.4 -4.1-4.4 -7-10.5 -26.4-21.6 -6.4-7.7 -4.7-8.7 -38.1-17.3 -139.5-57 -1.5 1.6 -2.7 4.2 140.2 57.3 38.3 17.4 4.7 8.2 6 6.8 9.7 9 17.8 14 2.8 3.7 1.9 4.3 3.3 4.2 -2.6 7.1 8.1 13.2 6.2 8.2 4.5 5.1 7.6 6.8z" fill="#4f1e7c" stroke="#4f1e7c" stroke-width="0.7" fill-rule="evenodd"/>
<path d="M1698.9 2296.6l3.2 1.6 2.1-6.5 -9.1-6.2 -9.9-9 -4.6-5.7 -7.2-13.8 1.3-7.2 -5.3-5.3 -9.3-12.8 -26.8-22 -5.8-7.8 -3.9-8.2 -38-17.2 -96.1-40.1 -43.8-14.1 -3.1 3.3 139.5 57 38.1 17.3 4.7 8.7 6.4 7.7 26.4 21.6 7 10.5 4.1 4.4 -1.9 7.4 8.3 14.3 7 8.7 12.6 11.1z" fill="#4c2480" stroke="#4c2480" stroke-width="0.7" fill-rule="evenodd"/>
<path d="M1704.2 2291.7l2.8-6.7 -5.9-3.4 -14.8-14 -6.6-13.8 .7-7.5 -7-6.4 -6.7-7.7 -4.4-6.6 -26-21.5 -6.5-9.4 -2.8-7.3 -48.6-22.7 -88.9-28.3 96.1 40.1 38 17.2 3.9 8.2 5.8 7.8 26.8 22 9.3 12.8 5.3 5.3 -1.3 7.2 7.2 13.8 2.8 3.6 14.9 13.9z" fill="#4a2e86" stroke="#4a2e86" stroke-width="0.7" fill-rule="evenodd"/>
<path d="M1707 2285l2.8-6.7 -5.9-3.4 -12.6-11.8 -5.8-12.5 .3-8 -6.1-4.8 -8.5-8.9 -6.7-9.4 -25.7-21.4 -6.5-10.4 -1.6-5.2 .9-1.7 -9.7-5.1 -27.4-6.3 -16.1-4.7 48.6 22.7 2.8 7.3 6.5 9.4 26 21.5 4.4 6.6 6.7 7.7 7 6.4 -.5 7.9 5.8 12.3 2.5 3.4 12.9 11.7z" fill="#4a4996" stroke="#4a4996" stroke-width="0.7" fill-rule="evenodd"/>
<path d="M1709.8 2278.3l2.9-6.7 -6.1-3.4 -7.8-7.1 -3.9-4.9 -4.3-9.1 1.1-7.6 -7.7-5.9 -9.5-9.1 -5-6.2 -2.8-4.9 -23.9-19.6 -7-11.4 -1.1-3.5 1.4-2.9 -2.5 2.3 -11.7-2.6 9.7 5.1 -.9 1.7 1.6 5.2 6.5 10.4 25.7 21.4 6.7 9.4 8.5 8.9 6.1 4.8 -.3 8 5.8 12.5 12.6 11.8z" fill="#4a67aa" stroke="#4a67aa" stroke-width="0.7" fill-rule="evenodd"/>
<path d="M1712.7 2271.6l2.8-6.7 -6.1-3.3 -2.9-2.7 -8-9.6 -2.9-6.2 1-7.5 -8.4-6.2 -10.5-9.5 -5.8-6.8 -3.2-5.7 -15.4-12.3 -8-7.4 -4.3-6.3 -2.1-5 -.2-1.2 1.3-2.9 -3.9 3.7 -1.4 2.9 2 5.6 4.6 7.5 7.9 7.5 17.5 13.9 2.8 4.9 5 6.2 9.5 9.1 7.7 5.9 -1.1 7.6 4.3 9.1 3.9 4.9 7.8 7.1z" fill="#427dbc" stroke="#427dbc" stroke-width="0.7" fill-rule="evenodd"/>
<path d="M1715.5 2264.9l2.8-6.8 -6.4-3.5 -9.8-12.1 -1.5-3.4 .6-7.4 -19.7-15.8 -6.8-7.5 -4.3-7 -14.7-12.1 -7.8-7.7 -3-4.3 -2.3-5.4 1.3-3.3 -3.9 3.7 -1.3 3.3 2.1 5.3 3.1 5 7.8 7.8 17 13.7 3.6 6.2 6.8 7.6 9.1 8.2 8.4 6.2 -1 7.5 2.9 6.2 8 9.6 2.9 2.7z" fill="#2f8fcc" stroke="#2f8fcc" stroke-width="0.7" fill-rule="evenodd"/>
<path d="M1718.3 2258.1l3.2-6.8 -5.8-3.4 -9.9-12.3 -.2-8 -21.1-16.4 -6.8-7.1 -5.5-8.7 -10.4-8.7 -11.4-11.2 -3.8-7.3 1.2-3.3 -3.9 3.7 -1.3 3.3 3.9 7.9 9.2 9.5 14.7 12.1 4.3 7 6.8 7.5 19.7 15.8 -.6 7.4 1.5 3.4 9.8 12.1z" fill="#10a3d9" stroke="#10a3d9" stroke-width="0.7" fill-rule="evenodd"/>
<path d="M1721.5 2251.3l3.7-7 -6-3.3 -7.3-9.1 -1.8-3.5 0-4.8 -20.3-15.1 -7.5-7 -8.3-12 -20.9-20.1 -2.5-4.9 1.1-3.4 -3.9 3.8 -1.2 3.3 3.8 7.3 11.4 11.2 10.4 8.7 5.5 8.7 6.8 7.1 21.1 16.4 .2 8 9.9 12.3z" fill="#0cb2d6" stroke="#0cb2d6" stroke-width="0.7" fill-rule="evenodd"/>
<path d="M1725.2 2244.3l3.6-7 -6-3.2 -4.3-5.2 -3.4-6.3 -.6-3.2 -20.9-14.9 -9.8-9 -5.5-7.1 -2.6-4.9 -19.8-20.3 -1.2-2.5 1-3.3 -4 3.7 -1.1 3.4 2.5 4.9 20.9 20.1 5.5 8.8 6.5 6.9 13.7 11.2 10.4 7.2 0 4.8 1.8 3.5 7.3 9.1z" fill="#1cbdcd" stroke="#1cbdcd" stroke-width="0.7" fill-rule="evenodd"/>
<path d="M1728.8 2237.3l3.7-7 -6.2-3.2 -4-5.5 -2.8-6 -12-7.6 -13-9.9 -7.8-6.9 -6.5-8.3 -2.7-5.4 -18.4-20.1 .5-3.8 -3.9 3.8 -1 3.3 1.2 2.5 19.8 20.3 2.6 4.9 6.5 8.3 8.8 7.8 20.9 14.9 .6 3.2 3.4 6.3 4.3 5.2z" fill="#4bc3bf" stroke="#4bc3bf" stroke-width="0.7" fill-rule="evenodd"/>
<path d="M1732.5 2230.3l3.6-7 -6.2-3.1 -5-8.5 -13.7-8 -14.1-10.5 -8-7 -7.4-9.3 -1.9-3.8 -.1-1.7 -15.3-17.3 -.6-4.4 -4.2 3.9 -.5 3.8 18.4 20.1 2.4 4.9 5.3 7.1 10.2 9.4 14.5 10.8 9.6 5.9 2.8 6 4 5.5z" fill="#4abfa7" stroke="#4abfa7" stroke-width="0.7" fill-rule="evenodd"/>
<path d="M1736.1 2223.3l3.6-7 -6.1-3.1 -3.8-5.6 -15-8.3 -22.8-17.6 -8.2-9.8 -1.8-3.5 0-3.1 -12-14.1 -1-4.7 -5.2 3.2 .6 4.4 15.3 17.3 .1 1.7 1.9 3.8 7.4 9.3 8 7 14.1 10.5 13.7 8 5 8.5z" fill="#2db781" stroke="#2db781" stroke-width="0.7" fill-rule="evenodd"/>
<path d="M1739.7 2216.3l3.6-7 -6-3.1 -1.4-2.2 -17.5-9.1 -21.5-15.8 -11.1-12.3 -1.6-3 .1-4.7 -9-11.3 -.9-4.7 -5.4 3.4 1 4.7 12 14.1 0 3.1 1.8 3.5 8.2 9.8 22.8 17.6 15 8.3 3.8 5.6z" fill="#0caf5a" stroke="#0caf5a" stroke-width="0.7" fill-rule="evenodd"/>
<path d="M1743.3 2209.3l3.6-6.9 -24.8-11.9 -22.2-15.9 -8.8-8.5 -3.9-5.3 -.8-1.7 .3-6.1 -6-8.6 -.9-4.7 -5.4 3.4 .9 4.7 9 11.3 -.1 4.7 1.3 2.5 9.3 11 11.3 9.1 12.3 8.5 17.5 9.1 1.4 2.2z" fill="#02ae46" stroke="#02ae46" stroke-width="0.7" fill-rule="evenodd"/>
<path d="M1746.9 2202.4l1.6-6.3 -10.5-4.1 -14.8-7.5 -14.8-9.9 -9.3-7.6 -6.9-7.1 -3.6-5.1 .7-8.1 -3.7-5.6 -.3-4.8 -5.5 3.4 .9 4.7 6 8.6 0 6.9 3.1 4.6 6.6 7.1 10.8 8.9 14.9 10z" fill="#0eaf37" stroke="#0eaf37" stroke-width="0.7" fill-rule="evenodd"/>
<path d="M1741.2 2193.5l7.3 2.6 .8-6 -10.4-4.1 -14.6-7.5 -10.4-6.8 -11.4-8.7 -7.5-7.3 -4.3-5.7 .1-6.4 1.3-3.2 -2.1-3.1 .4-4.5 -5.1 3.5 .3 4.8 3.7 5.6 -.7 8.1 5.5 7.2 7.1 6.8 13 9.8 9 5.9z" fill="#1fb12e" stroke="#1fb12e" stroke-width="0.7" fill-rule="evenodd"/>
<path d="M1738.9 2186l10.4 4.1 .8-6 -13.4-5.6 -17.6-9.8 -13.8-10.3 -10.6-10.4 -1.8-2.7 -.2-3.5 .2-3.3 2-4.4 0-5.2 -4.5 3.9 -.1 .9 -.3 3.6 2.1 3.1 -1.3 3.2 -.1 6.4 1.8 2.7 9.3 9.7 12.1 9.3 10.4 6.8z" fill="#33b329" stroke="#33b329" stroke-width="0.7" fill-rule="evenodd"/>
<path d="M1742.9 2181.5l7.2 2.6 .8-6 -13.3-5.6 -16.8-9.3 -9.4-6.6 -14.9-13.9 -1.4-2.2 -.2-6.4 2.1-4.7 2.2-2 .1-2.3 -4.4 3.8 -.1 5.5 -1.9 4.1 0 6.8 1.8 2.7 9.1 9.2 12.9 9.9 11.4 6.9z" fill="#46b725" stroke="#46b725" stroke-width="0.7" fill-rule="evenodd"/>
<path d="M1743.8 2175.4l7.1 2.7 .8-6.1 -10.2-4 -19.1-10.3 -10.1-7.1 -13.2-12.2 -1.8-2.3 -.5-5.5 2.5-6.4 3.9-2.8 -3.9 3.7 -.1 2.3 -2.2 2 -2.1 4.4 .3 7.1 2.5 3.3 13.7 12.4 8.2 5.8z" fill="#57bb21" stroke="#57bb21" stroke-width="0.7" fill-rule="evenodd"/>
<path d="M1744.6 2169.4l7.1 2.6 .8-6 -10.1-4.1 -18.4-9.7 -10.8-7.7 -11.5-10.4 -2.3-2.8 -.5-4.5 0-2.3 2-4.9 4.3-3.3 -2 5.1 -4.2 3 -2.1 4.6 .4 7.1 1.8 2.3 13.2 12.2 7.8 5.6z" fill="#69bf1d" stroke="#69bf1d" stroke-width="0.7" fill-rule="evenodd"/>
<path d="M1748.9 2164.7l3.6 1.3 .8-6 -7-2.6 -20.1-10.3 -12.1-8.6 -10.7-9.8 -1.8-2.2 -.7-5.6 2-6.1 4.3-3.4 -2 4.9 -4.3 3.3 -2 4.9 .5 6.8 2.3 2.8 11.5 10.4 10.8 7.7z" fill="#7ac418" stroke="#7ac418" stroke-width="0.7" fill-rule="evenodd"/>
<path d="M1746.3 2157.4l7 2.6 .8-6.1 -7-2.6 -20.1-10.2 -11.9-8.6 -10.9-10.1 -1.2-7.6 1.9-4.9 4.2-3.4 -1.9 4.9 -4.3 3.4 -1.6 3.7 -.3 3.1 .7 5.3 12.4 11.6 9.2 6.7z" fill="#8cc715" stroke="#8cc715" stroke-width="0.7" fill-rule="evenodd"/>
<path d="M1747.1 2151.3l7 2.6 .8-6 -9.9-4 -17.1-8.7 -11.2-8.1 -10.5-9.6 -1.1-7.9 1.7-4.5 4.2-3.4 -1.9 4.8 -4.2 3.4 -1.6 4 -.2 3.9 1.1 4.6 10.9 10.1 9.6 7.1z" fill="#9dca12" stroke="#9dca12" stroke-width="0.7" fill-rule="evenodd"/>
<path d="M1754.9 2147.9l.8-6.1 -7-2.3 -17.5-8.8 -13.8-9.7 -8.2-7.5 -1.2-1.3 -1-6.9 1.8-5.1 4.1-3.4 -1.9 4.9 -4.3 3.6 -1.7 4.6 .9 7.2 1.2 1.4 9.6 8.6 13.7 9.6 14.6 7.2z" fill="#afcf0d" stroke="#afcf0d" stroke-width="0.7" fill-rule="evenodd"/>
<path d="M1748.7 2139.5l7 2.3 .7-5.9 -10.1-4 -14.3-7.1 -13.9-10 -7.8-7.3 -1.2-6.8 .4-2 1.1-3.2 4.3-3.6 -2 4.9 -4.1 3.4 -1.2 3.1 -.6 2.4 1.2 6.9 9.2 8.4 10.1 7.4z" fill="#c2d705" stroke="#c2d705" stroke-width="0.7" fill-rule="evenodd"/>
<path d="M1749.4 2133.2l7 2.7 .7-6.2 -10.1-3.8 -14.2-7.1 -13.3-9.5 -7.1-6.7 -1.3-6.8 .5-2.3 1-2.9 4.2-3.6 -1.9 4.9 -4.3 3.6 -.8 2.3 -.7 2.9 1.2 6.8 7.8 7.3 10.7 8z" fill="#d4de00" stroke="#d4de00" stroke-width="0.7" fill-rule="evenodd"/>
<path d="M1750.1 2127.2l7 2.5 .6-6 -10.1-3.8 -14.1-7.1 -13.3-9.6 -5.5-5.1 -1.5-6.3 .2-2.4 1.1-3.7 4.2-3.7 -1.9 5 -4.2 3.6 -.7 2 -.8 3.2 1.3 6.8 7.1 6.7 9.5 7.1z" fill="#e3e300" stroke="#e3e300" stroke-width="0.7" fill-rule="evenodd"/>
<path d="M1750.7 2121.2l7 2.5 .6-6 -10-3.9 -14-7 -13.4-9.8 -4.1-4 -1.6-6.8 .4-2.4 .9-3.1 4.2-3.6 -2 4.9 -4.2 3.7 -.7 2.2 -.7 2.9 1.6 7.3 5.5 5.1 10 7.5z" fill="#ece700" stroke="#ece700" stroke-width="0.7" fill-rule="evenodd"/>
<path d="M1751.3 2115.2l7 2.5 .6-6 -9.9-3.9 -13.9-7 -12.9-9.4 -3.4-3.4 -1.6-6.8 .5-2.3 .8-3.2 4.2-3.6 -2 5 -4.2 3.6 -.5 1.7 -.8 3.8 1.6 6.8 4.1 4 10.5 8z" fill="#efe800" stroke="#efe800" stroke-width="0.7" fill-rule="evenodd"/>
<path d="M1752 2109.2l6.9 2.5 .6-6.1 -6.9-2.4 -16.8-8.4 -12.9-9.5 -2-2.3 -1.7-6.8 .5-2.6 .9-2.8 4-3.6 -1.9 4.9 -4.2 3.6 -.3 1.2 -1 4.3 1.6 6.8 3.4 3.4 12.9 9.4z" fill="#f4e400" stroke="#f4e400" stroke-width="0.7" fill-rule="evenodd"/>
<path d="M1752.6 2103.2l6.9 2.4 .6-6 -6.8-2.5 -16.4-8.1 -13.7-10.7 -1.9-6.8 .4-2.7 .9-3 4-3.6 -2 5 -4.3 4.4 -1.1 4.6 1.7 6.8 2 2.3 12.9 9.5z" fill="#fcdb00" stroke="#fcdb00" stroke-width="0.7" fill-rule="evenodd"/>
<path d="M1756.7 2098.4l3.4 1.2 .7-6.1 -9.8-3.7 -13-6.6 -12.9-9.8 -1.7-7 .5-3.2 .5-2.2 4.2-3.9 -2 5.1 -4 3.6 -.8 2.8 -.5 2.9 2.4 7.6 13.2 9.9z" fill="#ffcb07" stroke="#ffcb07" stroke-width="0.7" fill-rule="evenodd"/>
<path d="M1757.3 2092.3l3.5 1.2 .6-6 -6.8-2.4 -15.5-7.7 -12-9 -1.7-7.1 .6-3.7 .4-1.7 4.1-3.8 -1.9 5 -4.3 4.1 -1 4.9 1.8 7.3 12.3 9.4z" fill="#ffba0c" stroke="#ffba0c" stroke-width="0.7" fill-rule="evenodd"/>
<path d="M1758 2086.3l3.4 1.2 .6-6.1 -6.8-2.4 -14.9-7.4 -11.6-8.6 -1.2-6.8 .8-5.1 4.2-4 -2 5 -4.1 3.8 -1 5.4 1.7 7.1 12 9z" fill="#ffa810" stroke="#ffa810" stroke-width="0.7" fill-rule="evenodd"/>
<path d="M1758.6 2080.3l3.4 1.1 .6-6.1 -6.8-2.4 -14.4-7.2 -11-8.1 -.9-6.5 .9-5.1 4.1-4 -2 5.1 -4.1 3.9 -.9 5.2 1.2 6.8 10.2 7.8z" fill="#ff9914" stroke="#ff9914" stroke-width="0.7" fill-rule="evenodd"/>
<path d="M1759.2 2074.1l3.4 1.2 .6-6 -6.7-2.4 -13.6-6.7 -10.9-7.8 -.4-6.4 .8-5.1 4.1-4 -2 5.1 -4.1 4 -.9 5.1 .9 6.5 9.7 7.4z" fill="#ff8b18" stroke="#ff8b18" stroke-width="0.7" fill-rule="evenodd"/>
<path d="M1759.8 2068.1l3.4 1.2 .6-6.1 -6.7-2.4 -12.5-6.1 -10.9-7.6 .7-11.3 4.1-4 -2 5.1 -4.1 4 -.8 5.1 .4 6.4 10.9 7.8z" fill="#ff7b1b" stroke="#ff7b1b" stroke-width="0.7" fill-rule="evenodd"/>
<path d="M1760.4 2062l3.4 1.2 .6-6.1 -6.7-2.3 -12.2-6.1 -10.1-6.9 1-11.1 4.1-4 -2 5.1 -4.1 4 -.7 11.3 8.3 6.2z" fill="#ff6b1e" stroke="#ff6b1e" stroke-width="0.7" fill-rule="evenodd"/>
<path d="M1764.4 2057.1l.6-6.1 -6.7-2.3 -12-5.9 -9.2-6.3 .1-5.6 1.3-5.4 4-4 -2 5.2 -4.1 4 -.9 5.5 .1 6 6.2 4.5 6.4 3.4z" fill="#ff631f" stroke="#ff631f" stroke-width="0.7" fill-rule="evenodd"/>
<path d="M1765 2051l.6-6.1 -15.8-6.7 -10.9-6.9 0-5.7 1.6-5.3 4-4 -2 5.2 -4 4 -1.3 5.4 -.1 5.6 9.2 6.3 12 5.9z" fill="#ff5a20" stroke="#ff5a20" stroke-width="0.7" fill-rule="evenodd"/>
<path d="M1765.6 2044.9l.6-6.1 -12.8-5.2 -12.8-7.6 0-5.8 2-5.1 4-3.9 -2.1 5.1 -4 4 -1.6 5.3 0 5.7 10.9 6.9z" fill="#ff4e22" stroke="#ff4e22" stroke-width="0.7" fill-rule="evenodd"/>
<path d="M1766.2 2038.8l.6-6.1 -12.7-5.2 -11.8-6.9 -.1-5.7 2.3-4.6 4.1-4.3 -2 5.2 -4 3.9 -2 5.1 0 5.8 12.8 7.6z" fill="#ff4623" stroke="#ff4623" stroke-width="0.7" fill-rule="evenodd"/>
<path d="M1766.8 2032.7l.6-6.1 -11.2-4.5 -12.2-6.9 -.1-5.4 .7-1.8 1.6-3.2 4.4-4 -2 5.2 -4.1 4.3 -2.3 4.6 .1 5.7 11.8 6.9z" fill="#ff4224" stroke="#ff4224" stroke-width="0.7" fill-rule="evenodd"/>
<path d="M1767.4 2026.6l.6-6.2 -11.1-4.3 -11.2-6.5 -.2-5.2 1.6-3.5 .9-1.7 4.6-3.5 -2 5.1 -4.4 4 -2 4.1 -.2 6.3 12.2 6.9z" fill="#ff4224" stroke="#ff4224" stroke-width="0.7" fill-rule="evenodd"/>
<path d="M1768 2020.4l.6-6 -9.7-3.8 -11.2-5.9 -.5-5.5 .6-1.7 1.8-3.6 4.1-3 .8-.1 -1.9 4.9 -4.8 3.7 -2.1 4.5 0 5.7 11.2 6.5z" fill="#ff4224" stroke="#ff4224" stroke-width="0.7" fill-rule="evenodd"/>
<path d="M1768.6 2014.4l.6-6.2 -6.5-2.2 -9.4-4.6 -3.5-2.1 -.7-1.5 -.2-4.3 2.2-4.9 5.2-3.7 -1.8 5.9 -4.9 3.1 -1.4 2.8 -1 2.2 .2 5.3 10.1 5.8z" fill="#ff4224" stroke="#ff4224" stroke-width="0.7" fill-rule="evenodd"/>
<path d="M1769.2 2008.2l.6-6.2 -6.5-2.2 -9.2-4.4 -2.2-1.5 -1.1-2.4 -.2-3.4 2.2-4.9 5.1-3.7 -1.6 5.4 -4.9 3.5 -.9 1.4 -1.6 3.7 .2 4.3 .7 1.5 3.5 2.1 9.4 4.6z" fill="#ff4123" stroke="#ff4123" stroke-width="0.7" fill-rule="evenodd"/>
<path d="M1769.8 2002l.6-6.1 -6.5-2.2 -9-4.4 -2.5-4.1 -.1-2.6 2.2-4.8 5.1-3.8 -1.7 5.5 -5.1 3.7 -2.2 4.9 .2 3.4 1.1 2.4 2.2 1.5 9.2 4.4z" fill="#ff4123" stroke="#ff4123" stroke-width="0.7" fill-rule="evenodd"/>
<path d="M1767.1 1994.8l3.3 1.1 .5-6.2 -14.2-5.9 -2.6-5 -.1-1.5 2.1-5 5.1-3.7 -1.6 5.4 -5.1 3.8 -2.2 4.8 .1 2.6 2.5 4.1z" fill="#ff4123" stroke="#ff4123" stroke-width="0.7" fill-rule="evenodd"/>
<path d="M1767.7 1988.6l3.2 1.1 .6-6.1 -11.9-4.8 -1.2-.9 -2.7-5.4 2.1-5.7 5-3.7 -1.6 5.5 -5.2 3.9 -2 4.8 .1 1.5 2.6 5z" fill="#ff4123" stroke="#ff4123" stroke-width="0.7" fill-rule="evenodd"/>
<path d="M1771.5 1983.6l.6-6.2 -11.5-4.6 -3-6.4 1.7-4.8 5.2-3.9 -1.7 5.4 -5 3.7 -2.1 5.7 2.7 5.4 1.2 .9z" fill="#ff4123" stroke="#ff4123" stroke-width="0.7" fill-rule="evenodd"/>
<path d="M1772.1 1977.4l.6-6.2 -9.5-3.5 -3.4-6.5 -.1-2.1 1.3-3 5.1-3.9 -1.6 5.5 -5.2 3.9 -1.7 4.8 3 6.4z" fill="#ff4123" stroke="#ff4123" stroke-width="0.7" fill-rule="evenodd"/>
<path d="M1772.7 1971.2l.6-6.2 -8.5-3.3 -2.8-5.9 -.3-2.6 1-2.7 5.1-3.8 -1.7 5.5 -5.1 3.9 -1.3 3 .1 1.9 3.4 6.7z" fill="#ff4123" stroke="#ff4123" stroke-width="0.7" fill-rule="evenodd"/>
<path d="M1773.3 1965l.6-6.2 -6.9-2.7 -2.8-5.8 -.5-3.5 .7-1.9 5.1-3.7 -1.7 5.5 -5.1 3.8 -1 2.7 .2 2.3 2.9 6.2z" fill="#ff4123" stroke="#ff4123" stroke-width="0.7" fill-rule="evenodd"/>
<path d="M1773.9 1958.8l.7-7.3 -1.5 .3 -4.1-1.5 -2.6-5.2 -.6-4.8 .3-1.1 5-3.6 -1.6 5.6 -5.1 3.7 -.7 1.9 .5 3.5 2.8 5.8z" fill="#ff4022" stroke="#ff4022" stroke-width="0.7" fill-rule="evenodd"/>
<path d="M1774.6 1951.5l1.4-5.3 -5.3-2.3 -2.1-4.3 -.7-5.5 4.9-4 -1.7 5.5 -5 3.6 -.3 1.1 .6 4.8 2.6 5.2 4.1 1.5z" fill="#ff4022" stroke="#ff4022" stroke-width="0.7" fill-rule="evenodd"/>
<path d="M1776 1946.2l1.9-6.6 -5.4-2.2 -1.7-3.4 -.7-5.4 1.4-2.1 3-2 -1.7 5.6 -4.9 4 .7 5.5 2.1 4.3z" fill="#ff4022" stroke="#ff4022" stroke-width="0.7" fill-rule="evenodd"/>
<path d="M1777.9 1939.6l1.8-6.5 -5.5-2.2 -1.1-2.2 -.9-5.6 4-4.3 -1.7 5.7 -3 2 -1.4 2.1 .7 5.4 1.7 3.4z" fill="#ff4022" stroke="#ff4022" stroke-width="0.7" fill-rule="evenodd"/>
<path d="M1779.7 1933.1l1.9-6.6 -5.6-2.1 -1.6-6.8 3.5-4.6 -1.7 5.8 -4 4.3 .9 5.6 1.1 2.2z" fill="#f73f22" stroke="#f73f22" stroke-width="0.7" fill-rule="evenodd"/>
<path d="M1781.6 1926.5l1.8-6.5 -5.7-2.1 -1-5.9 3.3-4.2 -2.1 5.2 -3.5 4.6 1.6 6.8z" fill="#e83b21" stroke="#e83b21" stroke-width="0.7" fill-rule="evenodd"/>
<path d="M1783.4 1920l1.9-6.6 -5.6-2.1 -.8-4.8 3.3-4.3 -2.2 5.6 -3.3 4.2 1 5.9z" fill="#d73520" stroke="#d73520" stroke-width="0.7" fill-rule="evenodd"/>
<path d="M1785.3 1913.4l2.2-6.6 -5.7-2 -.7-3.7 3.3-4.4 -2.2 5.5 -3.3 4.3 .8 4.8z" fill="#c52f1f" stroke="#c52f1f" stroke-width="0.7" fill-rule="evenodd"/>
<path d="M1787.5 1906.8l2.2-6.6 -5.8-2 -.5-2.7 3.3-4.4 -2.3 5.6 -3.3 4.4 .7 3.7z" fill="#b22a1e" stroke="#b22a1e" stroke-width="0.7" fill-rule="evenodd"/>
<path d="M1789.7 1900.2l2.1-6.6 -5.8-2 -.4-1.7 3.3-4.4 -2.2 5.6 -3.3 4.4 .5 2.7z" fill="#a9281d" stroke="#a9281d" stroke-width="0.7" fill-rule="evenodd"/>
<path d="M1791.8 1893.6l2.2-6.7 -5.9-1.9 -.2-.9 3.2-4.2 -2.2 5.6 -3.3 4.4 .4 1.7z" fill="#a1271b" stroke="#a1271b" stroke-width="0.7" fill-rule="evenodd"/>
<path d="M1794 1886.9l2.2-6.6 -6-1.9 3.2-4.2 -2.3 5.7 -3.2 4.2 .2 .9z" fill="#99251a" stroke="#99251a" stroke-width="0.7" fill-rule="evenodd"/>
<path d="M1796.2 1880.3l2.7-6.8 -5.5-1.9 2.2-3 -2.2 5.6 -3.2 4.2z" fill="#902218" stroke="#902218" stroke-width="0.7" fill-rule="evenodd"/>
<path d="M1798.9 1873.5l3.2-6.9 -5.6-1.9 1.4-1.8 -2.3 5.7 -2.2 3z" fill="#871f17" stroke="#871f17" stroke-width="0.7" fill-rule="evenodd"/>
<path d="M1802.1 1866.6l3.3-6.8 -5.7-1.9 .5-.8 -3.7 7.6z" fill="#7e1c16" stroke="#7e1c16" stroke-width="0.7" fill-rule="evenodd"/>
<path d="M1805.4 1859.8l3.2-6.9 -2-.6 -4.9 1.2 -2 4.4z" fill="#761b15" stroke="#761b15" stroke-width="0.7" fill-rule="evenodd"/>
<path d="M1808.6 1852.9l.1-.2 .5-1.2 -2.6 .8 1.7 .5z" fill="#6e1913" stroke="#6e1913" stroke-width="0.7" fill-rule="evenodd"/>
<path d="M1425.2 2152.1l140.4 58.9 38.7 17.7 6.9 10 7.2 8.3 11.8 9.5 10.2 10.7 .1 1.3 -3.9 5 .2 .9 5.7 11.4 7 8.4 10.1 10.8 6.2 4.8 15.1 9.7 13.9 7.6" fill="none" stroke="#3a3a3a" stroke-width="0.9" stroke-opacity="0.75"/>
<path d="M1635.3 2176.7l-1.4 2.9 .6 2.3 2 4.7 4.3 6.6 6.4 6.2 19 15.2 2.6 4.5 4.9 6.1 9.3 9.1 7.6 5.8 -1 7.7 4.6 9.8 3.2 4 8.7 8 6 3.3" fill="none" stroke="#3a3a3a" stroke-width="0.9" stroke-opacity="0.75"/>
<path d="M1670.1 2145.8l1 4.7 11.4 13.5 -.1 3.5 1.3 2.6 8.3 10.2 8.3 7.1 13.5 9.8 6.4 4.2 11.5 6 2.6 4.4 6.1 3.1" fill="none" stroke="#3a3a3a" stroke-width="0.9" stroke-opacity="0.75"/>
<path d="M1706.4 2113.3l-4.3 3.4 -2 4.9 .6 6.8 3.2 3.8 10 8.9 11.9 8.4 11.3 6.2 15.9 6.7" fill="none" stroke="#3a3a3a" stroke-width="0.9" stroke-opacity="0.75"/>
<path d="M1722.7 2072.1l-4.2 3.6 -1.2 4.6 .7 4.6 1.2 3.6 3 2.9 12.9 9.4 13.9 7 9.9 3.9" fill="none" stroke="#3a3a3a" stroke-width="0.9" stroke-opacity="0.75"/>
<path d="M1739.3 2029.7l-4.1 4 -.8 5.7 .3 6 6.7 4.9 5 2.8 10.9 5.3 6.7 2.4" fill="none" stroke="#3a3a3a" stroke-width="0.9" stroke-opacity="0.75"/>
<path d="M1756 1985.9l-5.2 3.8 -1.2 2.4 -1 2.8 .2 4.2 .6 1.3 9.7 5.2 10 3.8" fill="none" stroke="#3a3a3a" stroke-width="0.9" stroke-opacity="0.75"/>
<path d="M1769.8 1940l-5.1 3.8 -.6 1.7 .5 3.7 3 6 6.4 2.4" fill="none" stroke="#3a3a3a" stroke-width="0.9" stroke-opacity="0.75"/>
<path d="M1785.8 1893.3l-3.3 4.2 .6 3.3 5.7 2" fill="none" stroke="#3a3a3a" stroke-width="0.9" stroke-opacity="0.75"/>
<defs><linearGradient id="cbF" x1="0" y1="0" x2="0" y2="1"><stop offset="0.0000" stop-color="#6a1812"/><stop offset="0.0280" stop-color="#7d1c16"/><stop offset="0.0610" stop-color="#962419"/><stop offset="0.1000" stop-color="#b02a1e"/><stop offset="0.1200" stop-color="#d0321f"/><stop offset="0.1430" stop-color="#f03e22"/><stop offset="0.1550" stop-color="#ff4022"/><stop offset="0.3450" stop-color="#ff4224"/><stop offset="0.3590" stop-color="#ff4a22"/><stop offset="0.3790" stop-color="#ff5e20"/><stop offset="0.4000" stop-color="#ff6c1e"/><stop offset="0.4220" stop-color="#ff8a18"/><stop offset="0.4480" stop-color="#ffaa10"/><stop offset="0.4680" stop-color="#ffc808"/><stop offset="0.4830" stop-color="#fcdc00"/><stop offset="0.5000" stop-color="#f0e800"/><stop offset="0.5240" stop-color="#eae600"/><stop offset="0.5450" stop-color="#d0dc00"/><stop offset="0.5700" stop-color="#a8cc10"/><stop offset="0.6000" stop-color="#7cc418"/><stop offset="0.6220" stop-color="#5cbc20"/><stop offset="0.6460" stop-color="#38b428"/><stop offset="0.6670" stop-color="#14b030"/><stop offset="0.6860" stop-color="#00ae48"/><stop offset="0.7000" stop-color="#10b060"/><stop offset="0.7140" stop-color="#40bc98"/><stop offset="0.7290" stop-color="#58c4bc"/><stop offset="0.7470" stop-color="#10bcd0"/><stop offset="0.7650" stop-color="#08a8dc"/><stop offset="0.7840" stop-color="#3a88c8"/><stop offset="0.8000" stop-color="#4a70b0"/><stop offset="0.8140" stop-color="#4a4c98"/><stop offset="0.8290" stop-color="#4a2a84"/><stop offset="0.8480" stop-color="#4e1e7c"/><stop offset="0.8690" stop-color="#561e7e"/><stop offset="0.9000" stop-color="#6a2080"/><stop offset="0.9280" stop-color="#78207e"/><stop offset="0.9590" stop-color="#84227f"/><stop offset="0.9890" stop-color="#8a2282"/><stop offset="1.0000" stop-color="#8c2284"/></linearGradient></defs>
<rect x="2024.7" y="1709.8" width="48.7" height="5.4" fill="#fbf4f2"/>
<rect x="2024.7" y="1715.2" width="48.7" height="480.7" fill="url(#cbF)"/>
<rect x="2024.7" y="2195.9" width="48.7" height="5.6" fill="#14000e"/>
<rect x="2024.7" y="1709.8" width="48.7" height="491.7" fill="none" stroke="#4a4a55" stroke-width="1.6"/>
<line x1="2073.4" y1="1715.2" x2="2084.4" y2="1715.2" stroke="#333" stroke-width="2"/>
<text transform="translate(2098.0,1725.2) scale(1.03,1)" font-size="30.5" font-family="Liberation Sans, Arial, sans-serif" font-weight="bold" fill="#111">1.1</text>
<line x1="2073.4" y1="1763.3" x2="2084.4" y2="1763.3" stroke="#333" stroke-width="2"/>
<text transform="translate(2098.0,1773.3) scale(1.03,1)" font-size="30.5" font-family="Liberation Sans, Arial, sans-serif" font-weight="bold" fill="#111">0.99</text>
<line x1="2073.4" y1="1811.3" x2="2084.4" y2="1811.3" stroke="#333" stroke-width="2"/>
<text transform="translate(2098.0,1821.3) scale(1.03,1)" font-size="30.5" font-family="Liberation Sans, Arial, sans-serif" font-weight="bold" fill="#111">0.88</text>
<line x1="2073.4" y1="1859.4" x2="2084.4" y2="1859.4" stroke="#333" stroke-width="2"/>
<text transform="translate(2098.0,1869.4) scale(1.03,1)" font-size="30.5" font-family="Liberation Sans, Arial, sans-serif" font-weight="bold" fill="#111">0.77</text>
<line x1="2073.4" y1="1907.5" x2="2084.4" y2="1907.5" stroke="#333" stroke-width="2"/>
<text transform="translate(2098.0,1917.5) scale(1.03,1)" font-size="30.5" font-family="Liberation Sans, Arial, sans-serif" font-weight="bold" fill="#111">0.66</text>
<line x1="2073.4" y1="1955.5" x2="2084.4" y2="1955.5" stroke="#333" stroke-width="2"/>
<text transform="translate(2098.0,1965.5) scale(1.03,1)" font-size="30.5" font-family="Liberation Sans, Arial, sans-serif" font-weight="bold" fill="#111">0.55</text>
<line x1="2073.4" y1="2003.6" x2="2084.4" y2="2003.6" stroke="#333" stroke-width="2"/>
<text transform="translate(2098.0,2013.6) scale(1.03,1)" font-size="30.5" font-family="Liberation Sans, Arial, sans-serif" font-weight="bold" fill="#111">0.44</text>
<line x1="2073.4" y1="2051.7" x2="2084.4" y2="2051.7" stroke="#333" stroke-width="2"/>
<text transform="translate(2098.0,2061.7) scale(1.03,1)" font-size="30.5" font-family="Liberation Sans, Arial, sans-serif" font-weight="bold" fill="#111">0.33</text>
<line x1="2073.4" y1="2099.8" x2="2084.4" y2="2099.8" stroke="#333" stroke-width="2"/>
<text transform="translate(2098.0,2109.8) scale(1.03,1)" font-size="30.5" font-family="Liberation Sans, Arial, sans-serif" font-weight="bold" fill="#111">0.22</text>
<line x1="2073.4" y1="2147.8" x2="2084.4" y2="2147.8" stroke="#333" stroke-width="2"/>
<text transform="translate(2098.0,2157.8) scale(1.03,1)" font-size="30.5" font-family="Liberation Sans, Arial, sans-serif" font-weight="bold" fill="#111">0.11</text>
<line x1="2073.4" y1="2195.9" x2="2084.4" y2="2195.9" stroke="#333" stroke-width="2"/>
<text transform="translate(2098.0,2205.9) scale(1.03,1)" font-size="30.5" font-family="Liberation Sans, Arial, sans-serif" font-weight="bold" fill="#111">0</text></g></svg></body></html>
